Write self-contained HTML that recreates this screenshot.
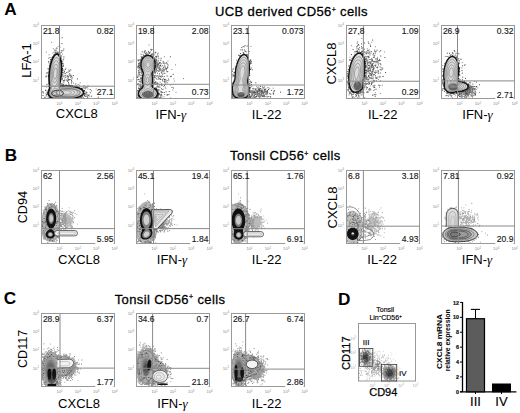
<!DOCTYPE html>
<html><head><meta charset="utf-8"><style>
html,body{margin:0;padding:0;background:#fff;}
svg{display:block;font-family:"Liberation Sans", sans-serif;}
</style></head><body>
<svg width="520" height="413" viewBox="0 0 520 413">
<rect width="520" height="413" fill="#fff"/>
<text x="4.2" y="15.2" font-size="17.2" text-anchor="start" font-weight="bold" fill="#000" >A</text>
<text x="4.8" y="160.8" font-size="17.2" text-anchor="start" font-weight="bold" fill="#000" >B</text>
<text x="3.8" y="304.2" font-size="17.2" text-anchor="start" font-weight="bold" fill="#000" >C</text>
<text x="338" y="304.8" font-size="17.2" text-anchor="start" font-weight="bold" fill="#000" >D</text>
<text x="291.5" y="16.3" font-size="13" text-anchor="middle" font-weight="normal" fill="#000" stroke="#000" stroke-width="0.28" letter-spacing="0.38">UCB derived CD56<tspan dy="-4.5" font-size="7">+</tspan><tspan dy="4.5"> cells</tspan></text>
<text x="285.4" y="160.3" font-size="13" text-anchor="middle" font-weight="normal" fill="#000" stroke="#000" stroke-width="0.28" letter-spacing="0.38">Tonsil CD56<tspan dy="-4.5" font-size="7">+</tspan><tspan dy="4.5"> cells</tspan></text>
<text x="170" y="303.7" font-size="13" text-anchor="middle" font-weight="normal" fill="#000" stroke="#000" stroke-width="0.28" letter-spacing="0.38">Tonsil CD56<tspan dy="-4.5" font-size="7">+</tspan><tspan dy="4.5"> cells</tspan></text>
<clipPath id="cA1"><rect x="41.5" y="25.5" width="73.0" height="73.0"/></clipPath>
<g clip-path="url(#cA1)">
<path d="M81.3 88.9h1M48.1 94.5h1M73.1 86.6h1M81.8 88.9h1M84.0 90.6h1M52.6 59.2h1M63.5 86.6h1M55.4 54.5h1M66.3 85.8h1M53.1 57.2h1M49.5 72.0h1M61.8 69.2h1M52.9 57.8h1M57.9 53.0h1M53.2 57.5h1M49.6 66.8h1M50.2 64.5h1M51.2 61.0h1M65.4 85.9h1M49.0 95.6h1M50.3 65.7h1M56.8 52.8h1M54.7 55.5h1M51.4 60.7h1M51.6 59.7h1M50.9 62.8h1M79.1 88.3h1M55.7 53.9h1M71.9 86.1h1M73.4 86.8h1M81.7 90.2h1M61.8 74.8h1M80.6 97.3h1M47.9 91.0h1M69.1 86.2h1M48.6 89.6h1M57.2 54.0h1M48.8 72.5h1M75.2 87.1h1M61.4 61.2h1M62.2 70.4h1M48.3 92.0h1M61.6 63.1h1M50.2 64.5h1M77.0 87.0h1M83.4 91.4h1M83.8 95.4h1M49.0 89.5h1M48.6 90.4h1M48.6 95.8h1M76.5 98.3h1M84.1 94.1h1M48.6 94.0h1M48.9 95.1h1M58.3 54.9h1M81.1 88.4h1M61.8 72.7h1M49.9 65.8h1M62.0 68.5h1M50.6 98.1h1M48.8 91.0h1M64.7 86.5h1M48.9 78.1h1M82.2 96.2h1" stroke="#1a1a1a" stroke-width="1"/>
<path d="M60.7 50.9h1M89.7 89.5h1M63.0 65.2h1M47.0 93.0h1M63.5 72.8h1M62.5 50.7h1M85.8 87.2h1M78.6 88.3h1M84.6 87.4h1M54.2 50.0h1M89.8 92.7h1M59.0 51.9h1M54.8 52.1h1M61.4 83.5h1M46.1 94.4h1M68.5 70.1h1M46.4 92.1h1M61.5 61.7h1M51.3 98.3h1M60.4 58.6h1M48.8 68.4h1M68.0 82.4h1M60.5 55.5h1M71.2 82.2h1M49.3 65.3h1M86.5 96.3h1M56.4 48.7h1M48.1 61.7h1M50.3 59.5h1M45.7 76.2h1M54.7 53.1h1M48.6 89.2h1M52.5 56.4h1M50.4 59.5h1M47.1 72.9h1M71.3 79.0h1M42.5 95.5h1M49.9 97.3h1M52.1 57.5h1M48.1 90.1h1M62.5 84.8h1M79.1 88.3h1M46.4 94.7h1M62.6 63.7h1M45.1 90.5h1M67.9 76.8h1M77.9 97.9h1M49.8 97.8h1M63.4 56.9h1M61.1 86.7h1M48.0 95.5h1M72.9 75.6h1M91.1 96.2h1M49.2 90.1h1M70.2 75.2h1M61.7 72.1h1M71.0 80.6h1M74.0 87.1h1M48.1 86.6h1M48.6 77.3h1M81.3 97.6h1M59.4 47.0h1M71.1 76.9h1M77.6 84.8h1M85.0 94.0h1M85.5 92.0h1M62.9 85.8h1M85.2 88.8h1M61.5 43.6h1M51.7 57.5h1M86.3 92.5h1M66.9 81.3h1M47.9 76.5h1M76.9 78.9h1M44.5 97.9h1M67.7 72.0h1M45.2 90.2h1M63.2 80.7h1M49.4 96.6h1M73.6 86.8h1M87.6 86.0h1M49.0 82.6h1M48.4 76.4h1M68.6 86.3h1M45.9 73.1h1M64.9 77.2h1M70.0 77.0h1M83.9 93.6h1M46.4 84.5h1M62.2 72.4h1M48.8 97.5h1M83.5 85.7h1M70.3 70.0h1M67.9 79.6h1M80.3 97.0h1M62.0 79.1h1M88.0 95.7h1M64.7 75.5h1M67.8 76.9h1M69.6 79.5h1M42.3 91.9h1M68.9 79.7h1M55.3 55.0h1M63.9 71.6h1M49.3 64.0h1M50.1 63.2h1M49.2 83.2h1M69.3 75.7h1M84.3 96.0h1M47.2 92.3h1M55.4 50.6h1M63.2 84.7h1M49.5 57.6h1M85.2 96.4h1M49.3 83.5h1M66.6 76.9h1M66.2 85.2h1M67.2 76.0h1M62.5 86.1h1M45.6 76.8h1M68.1 84.0h1M61.8 63.7h1M48.7 71.4h1M70.7 86.0h1M67.4 78.7h1M63.7 80.6h1M71.2 76.0h1M87.0 97.2h1M66.2 72.6h1M63.3 49.1h1M82.7 87.7h1M61.1 57.0h1M61.6 37.8h1M64.9 69.4h1M49.4 72.2h1M65.1 85.2h1M47.2 93.5h1M47.9 69.0h1M48.2 75.6h1M66.7 86.0h1M90.8 90.9h1M48.9 79.3h1M85.6 93.4h1M55.6 52.7h1M47.1 94.6h1M63.5 80.9h1M69.3 74.0h1M42.9 92.9h1M45.7 95.9h1M60.7 52.4h1M64.7 73.6h1M48.4 75.1h1M62.4 76.0h1M76.9 86.4h1M53.5 54.9h1M67.2 80.3h1M47.6 97.0h1M47.6 90.8h1M83.4 91.2h1M62.8 59.8h1M97.8 97.2h1M82.2 89.5h1M63.3 82.9h1M62.4 85.1h1M83.6 93.6h1M88.5 94.9h1M59.7 54.0h1M69.1 71.2h1M44.4 97.3h1" stroke="#4a4a4a" stroke-width="1"/>
<path d="M66.9 75.6h1M68.5 74.9h1M56.5 51.8h1M65.8 85.5h1M45.8 52.2h1M81.8 98.4h1M53.1 55.1h1M65.4 75.1h1M48.6 54.8h1M62.1 78.2h1M49.0 67.7h1M52.8 48.8h1M50.2 60.3h1M48.4 62.9h1M48.4 61.8h1M62.3 84.5h1M61.1 84.5h1M50.2 61.9h1M64.1 79.1h1M85.1 96.2h1M61.8 76.8h1M62.5 65.7h1M46.2 75.9h1M62.7 66.1h1M76.0 85.8h1M62.2 61.7h1M65.7 79.7h1M68.1 80.5h1M73.0 83.1h1M72.1 77.9h1M51.6 58.0h1M70.9 83.7h1M65.7 80.4h1M77.3 86.4h1M62.3 75.6h1M56.3 47.7h1M62.2 81.1h1M63.3 76.4h1M79.8 82.8h1M59.4 53.6h1M63.5 70.1h1M61.6 79.1h1M67.2 81.1h1M89.3 96.2h1M72.6 86.1h1M62.9 66.2h1M74.8 84.8h1M57.7 52.0h1M61.3 50.8h1M42.5 91.9h1M47.8 83.3h1M65.4 68.3h1M46.1 87.1h1M83.8 88.4h1M63.3 58.9h1M95.7 88.9h1M62.0 79.1h1M51.1 42.4h1M48.0 58.2h1M57.7 46.3h1M62.1 54.1h1M67.1 81.0h1M75.6 85.4h1M86.8 95.8h1M88.1 98.2h1M62.6 66.4h1M87.4 89.0h1M63.5 77.0h1M63.3 73.8h1M48.9 65.9h1M62.5 69.9h1M71.3 81.4h1M86.4 94.6h1M83.2 97.6h1M69.0 73.6h1M79.1 85.2h1M87.0 87.1h1M53.5 52.1h1M50.2 61.8h1M52.4 52.9h1M45.4 93.3h1M68.8 84.2h1M86.7 94.9h1M75.3 83.6h1M47.4 68.5h1M67.7 80.2h1M55.5 48.9h1" stroke="#888" stroke-width="1"/>
<path d="M73 98.5L72.2 98.5L71.5 98.5L70.8 98.6L70 98.6L69.2 98.6L68.5 98.6L67.8 98.6L67 98.6L66.2 98.6L65.5 98.6L64.8 98.6L64 98.6L63.2 98.6L62.5 98.6L61.8 98.5L61 98.5L60.2 98.5L59.5 98.5L59 98.5L58.2 98.5L57.5 98.5L57 98.5L56.2 98.5L55.5 98.5L54.8 98.5L54 98.5L53.5 98.5L52.8 98.3L52.2 98.1L51.8 97.8L51.2 97.5L50.8 97.2L50.5 97L50 96.5L49.8 96.2L49.4 95.8L49.1 95.2L48.9 94.8L48.7 94.2L48.5 93.5L48.5 93L48.5 92.5L48.6 91.8L48.8 91.2L49 90.5L49.2 90L49.4 89.5L49.5 89L49.7 88.2L49.7 87.5L49.7 86.8L49.6 86L49.5 85.2L49.5 84.8L49.4 84L49.3 83.2L49.3 82.5L49.2 82L49.2 81.2L49.1 80.5L49.1 79.8L49.1 79L49.1 78.2L49.1 77.5L49.1 76.8L49.1 76L49.2 75.2L49.2 74.5L49.2 73.9L49.3 73.2L49.4 72.5L49.4 71.8L49.5 71.2L49.6 70.5L49.7 69.8L49.8 69.2L49.9 68.5L50 67.8L50.1 67.2L50.2 66.5L50.3 66L50.5 65.3L50.6 64.8L50.8 64.2L50.9 63.5L51.1 63L51.2 62.4L51.4 61.8L51.6 61.2L51.8 60.8L52 60.1L52.2 59.5L52.4 59L52.7 58.5L52.9 58L53.1 57.5L53.4 57L53.7 56.5L54 56.1L54.3 55.8L54.7 55.2L55 54.9L55.5 54.5L56 54.2L56.5 54.1L57.2 54.1L57.8 54.3L58.2 54.6L58.6 55L59 55.5L59.2 55.9L59.5 56.4L59.8 56.9L60 57.5L60.2 58L60.3 58.5L60.5 59.2L60.6 59.8L60.8 60.2L60.9 61L61 61.6L61.1 62.2L61.2 63L61.3 63.5L61.3 64.2L61.4 65L61.4 65.8L61.5 66.5L61.5 67.2L61.5 67.8L61.5 68.5L61.5 69.2L61.5 70L61.5 70.5L61.5 71.2L61.4 72L61.4 72.8L61.3 73.5L61.3 74.2L61.2 74.8L61.1 75.5L61 76.2L61 76.8L60.9 77.5L60.8 78.2L60.7 78.8L60.6 79.5L60.5 80L60.3 80.8L60.2 81.2L60 82L59.9 82.5L59.8 83.2L59.7 83.8L59.6 84.5L59.6 85.2L59.9 85.8L60.2 86L61 86.2L61.8 86.2L62.5 86.2L63.2 86.1L64 86.1L64.8 86L65.5 86L66.2 86L66.5 86L67.2 86L68 86L68.8 86.1L69.5 86.1L70.2 86.2L71 86.2L71.5 86.3L72.2 86.4L73 86.5L73.5 86.6L74.2 86.7L74.8 86.8L75.5 87L76 87.1L76.5 87.2L77.2 87.5L77.8 87.6L78.2 87.8L78.8 88L79.4 88.2L79.9 88.5L80.4 88.8L80.8 89L81.2 89.3L81.8 89.6L82.2 90L82.5 90.3L82.9 90.8L83.2 91.2L83.4 91.8L83.5 92.5L83.4 93.2L83.2 93.8L82.9 94.2L82.5 94.7L82.2 95L81.8 95.4L81.2 95.7L80.8 96L80.4 96.2L79.9 96.5L79.4 96.8L78.8 97L78.2 97.2L77.8 97.4L77.2 97.5L76.5 97.8L76 97.9L75.5 98L74.8 98.2L74.2 98.3L73.5 98.4L73 98.5Z" fill="#dcdcdc" stroke="#111" stroke-width="1.7"/>
<path d="M68.5 97.8L67.8 97.8L67 97.8L66.2 97.8L65.5 97.8L64.8 97.8L64.2 97.7L63.5 97.7L62.8 97.6L62 97.5L61.5 97.5L60.8 97.4L60 97.3L59.5 97.2L58.8 97.2L58 97.2L57.5 97.3L56.8 97.4L56 97.5L55.5 97.5L54.8 97.5L54.2 97.5L53.5 97.3L53 97.2L52.5 96.9L52 96.6L51.5 96.2L51.2 96L50.8 95.5L50.5 95L50.3 94.5L50.2 94L50.1 93.2L50.2 92.5L50.3 92L50.5 91.2L50.7 90.8L50.9 90.2L51.1 89.8L51.3 89.2L51.4 88.5L51.5 87.8L51.4 87L51.3 86.2L51.2 85.8L51 85.1L50.9 84.5L50.8 83.8L50.6 83.2L50.5 82.5L50.5 82L50.4 81.2L50.3 80.5L50.3 79.8L50.3 79L50.2 78.5L50.2 77.8L50.2 77L50.2 76.2L50.3 75.8L50.3 75L50.3 74.2L50.4 73.5L50.4 72.8L50.5 72.2L50.6 71.5L50.7 70.8L50.8 70.2L50.9 69.5L51 68.8L51.1 68.2L51.2 67.5L51.3 67L51.5 66.3L51.6 65.8L51.8 65.2L52 64.5L52.1 64L52.3 63.5L52.5 62.9L52.7 62.2L52.9 61.8L53.1 61.2L53.4 60.8L53.6 60.2L53.9 59.8L54.2 59.3L54.5 58.9L54.9 58.5L55.2 58.2L55.8 57.8L56.2 57.7L57 57.7L57.5 57.9L57.9 58.2L58.2 58.7L58.5 59.1L58.8 59.6L59 60.1L59.2 60.8L59.4 61.2L59.5 61.8L59.7 62.5L59.8 63L59.9 63.8L60 64.2L60.1 65L60.2 65.8L60.2 66.3L60.3 67L60.3 67.8L60.4 68.5L60.4 69.2L60.4 70L60.4 70.8L60.3 71.5L60.3 72.2L60.3 73L60.2 73.5L60.2 74.2L60.1 75L60 75.6L59.9 76.2L59.8 77L59.7 77.5L59.6 78.2L59.5 78.9L59.4 79.5L59.2 80.1L59.1 80.8L59 81.2L58.8 82L58.6 82.5L58.5 83L58.3 83.8L58.1 84.2L58 84.8L57.8 85.5L57.8 86.2L58 86.9L58.3 87.2L58.9 87.5L59.5 87.6L60.2 87.6L61 87.6L61.7 87.5L62.2 87.4L63 87.4L63.8 87.3L64.5 87.2L65 87.2L65.8 87.2L66.5 87.2L67.2 87.2L68 87.2L68.5 87.2L69.2 87.3L70 87.4L70.8 87.4L71.2 87.5L72 87.6L72.7 87.8L73.2 87.9L73.9 88L74.5 88.2L75 88.3L75.6 88.5L76.2 88.7L76.8 88.9L77.2 89.1L77.8 89.4L78.2 89.7L78.7 90L79.1 90.2L79.5 90.6L79.8 91L80.1 91.5L80.3 92L80.4 92.8L80.2 93.2L80 93.8L79.6 94.2L79.2 94.6L78.8 95L78.4 95.2L77.9 95.5L77.5 95.8L76.9 96L76.3 96.2L75.8 96.5L75.2 96.6L74.8 96.8L74 97L73.5 97.1L72.8 97.2L72.2 97.3L71.5 97.5L71 97.5L70.2 97.6L69.5 97.7L68.8 97.7L68.5 97.8Z" fill="none" stroke="#707070" stroke-width="0.6"/>
<path d="M54.8 86.9L54 86.8L53.7 86.5L53.3 86L53 85.6L52.8 85.2L52.5 84.7L52.2 84L52.1 83.5L51.9 83L51.8 82.3L51.6 81.8L51.5 81L51.5 80.5L51.4 79.8L51.3 79L51.3 78.2L51.2 77.8L51.2 77L51.2 76.2L51.2 75.5L51.3 75L51.3 74.2L51.4 73.5L51.4 72.8L51.5 72L51.6 71.5L51.7 70.8L51.8 70.2L51.9 69.5L52 68.8L52.1 68.2L52.2 67.7L52.4 67L52.6 66.5L52.8 65.9L53 65.2L53.1 64.8L53.3 64.2L53.5 63.8L53.8 63.2L54 62.8L54.4 62.2L54.7 61.8L55 61.4L55.5 61L56 60.8L56.8 60.9L57.2 61.2L57.6 61.5L57.9 62L58.1 62.5L58.4 63L58.5 63.5L58.7 64.2L58.9 64.8L59 65.5L59.1 66L59.2 66.8L59.2 67.5L59.3 68L59.3 68.8L59.4 69.5L59.4 70.2L59.4 71L59.3 71.8L59.3 72.5L59.3 73.2L59.2 73.8L59.2 74.5L59.1 75.2L59 75.8L58.9 76.5L58.8 77.2L58.7 77.8L58.5 78.5L58.4 79L58.2 79.7L58.1 80.2L58 80.8L57.8 81.4L57.6 82L57.4 82.5L57.2 83L57 83.5L56.7 84L56.5 84.5L56.2 85L55.9 85.5L55.6 86L55.2 86.4L55 86.8L54.8 86.9ZM67 96.8L66.2 96.8L65.8 96.7L65 96.7L64.2 96.7L63.5 96.6L62.8 96.5L62.2 96.4L61.5 96.3L61 96.2L60.2 96.1L59.5 96.1L58.8 96.1L58 96.2L57.5 96.2L56.8 96.4L56.2 96.5L55.5 96.6L54.8 96.6L54.1 96.5L53.5 96.3L53 96.1L52.5 95.8L52.2 95.5L51.8 95L51.5 94.5L51.4 94L51.3 93.2L51.4 92.5L51.6 92L51.8 91.5L52.1 91L52.4 90.5L52.8 90.1L53 89.8L53.4 89.2L53.8 88.9L54.2 88.5L54.5 88.2L55.2 88.2L55.8 88.5L56.2 88.7L56.8 88.8L57.4 89L58 89.1L58.8 89.1L59.5 89L60 88.9L60.8 88.8L61.2 88.7L62 88.6L62.7 88.5L63.2 88.4L64 88.4L64.8 88.3L65.5 88.3L66 88.2L66.8 88.2L67.2 88.3L68 88.3L68.8 88.3L69.5 88.4L70.2 88.5L70.8 88.6L71.5 88.7L72 88.8L72.8 89L73.2 89.1L73.8 89.3L74.4 89.5L75 89.8L75.5 90L75.9 90.2L76.3 90.5L76.8 90.8L77.1 91.2L77.5 91.8L77.6 92.2L77.6 93L77.3 93.5L77 93.9L76.6 94.2L76.2 94.6L75.8 94.9L75.2 95.1L74.8 95.4L74.2 95.6L73.7 95.8L73 96L72.5 96.1L71.8 96.2L71.2 96.3L70.5 96.5L70 96.5L69.2 96.6L68.5 96.7L67.8 96.7L67.1 96.8L67 96.8Z" fill="none" stroke="#707070" stroke-width="0.6"/>
<path d="M55 82.6L54.2 82.7L53.8 82.3L53.5 82L53.2 81.5L53 80.9L52.8 80.2L52.7 79.8L52.6 79L52.5 78.5L52.4 77.8L52.4 77L52.4 76.2L52.4 75.5L52.4 74.8L52.4 74L52.5 73.2L52.5 72.8L52.6 72L52.7 71.2L52.8 70.8L52.9 70L53 69.5L53.2 68.8L53.4 68.2L53.5 67.8L53.8 67.1L54 66.5L54.2 66L54.5 65.5L54.8 65.2L55.1 64.8L55.5 64.4L56.2 64.3L56.8 64.6L57.1 65L57.3 65.5L57.6 66L57.8 66.6L57.9 67.2L58 67.8L58.1 68.5L58.2 69.2L58.2 70L58.2 70.8L58.2 71.5L58.2 72.2L58.2 73L58.1 73.8L58.1 74.5L58 75L57.9 75.8L57.8 76.5L57.7 77L57.5 77.7L57.4 78.2L57.2 78.8L57 79.5L56.8 80L56.6 80.5L56.4 81L56.1 81.5L55.8 82L55.5 82.3L55 82.6ZM68.2 95.5L67.5 95.6L66.8 95.6L66 95.6L65.2 95.5L64.6 95.5L64 95.4L63.2 95.3L62.8 95.2L62 95.1L61.5 95L60.8 94.8L60.2 94.7L59.5 94.6L58.8 94.6L58.2 94.8L57.6 95L57 95.2L56.5 95.4L56 95.5L55.2 95.6L54.5 95.6L54 95.5L53.5 95.2L53 94.8L52.7 94.5L52.5 93.9L52.5 93.2L52.6 92.8L52.8 92.2L53.2 91.8L53.5 91.4L54 91.1L54.5 90.9L55.1 90.8L55.8 90.7L56.4 90.8L57 90.8L57.8 90.9L58.5 90.9L59.2 90.8L59.8 90.6L60.2 90.4L60.9 90.2L61.5 90.1L62 89.9L62.8 89.8L63.2 89.7L64 89.6L64.6 89.5L65.2 89.5L66 89.4L66.8 89.4L67.5 89.4L68.2 89.5L68.8 89.5L69.5 89.6L70.1 89.8L70.8 89.9L71.2 90L72 90.2L72.5 90.4L73 90.7L73.5 91L73.9 91.2L74.2 91.7L74.5 92.1L74.5 92.8L74.3 93.2L74 93.6L73.5 94L73.1 94.2L72.6 94.5L72 94.8L71.5 94.9L71 95.1L70.2 95.2L69.8 95.3L69 95.4L68.4 95.5L68.2 95.5Z" fill="none" stroke="#707070" stroke-width="0.6"/>
<path d="M55.2 79L54.5 79L54.2 78.8L54 78.2L53.8 77.5L53.7 77L53.6 76.2L53.5 75.5L53.5 75L53.5 74.3L53.5 73.8L53.6 73L53.7 72.2L53.8 71.8L53.9 71L54.1 70.5L54.2 69.8L54.5 69.2L54.7 68.8L55 68.3L55.3 68L56 67.9L56.4 68.2L56.6 68.8L56.8 69.2L57 70L57 70.5L57.1 71.2L57.1 72L57.1 72.8L57 73.5L57 74.1L56.9 74.8L56.8 75.5L56.7 76L56.5 76.7L56.3 77.2L56.1 77.8L55.9 78.2L55.5 78.8L55.2 79ZM68.2 94.3L67.5 94.3L66.8 94.4L66 94.4L65.2 94.3L64.6 94.2L64 94.1L63.5 94L62.8 93.8L62.2 93.5L61.8 93.2L61.5 92.9L61.5 92.2L61.8 91.9L62.2 91.5L62.8 91.3L63.2 91.1L63.8 90.9L64.5 90.8L65 90.7L65.8 90.6L66.5 90.6L67.2 90.6L68 90.7L68.5 90.8L69.2 90.9L69.8 91.1L70.2 91.3L70.8 91.5L71.2 92L71.4 92.5L71.2 93L70.8 93.5L70.2 93.7L69.8 93.9L69.2 94.1L68.5 94.2L68.2 94.3ZM55.5 94.8L54.8 94.8L54.2 94.6L53.8 94.3L53.5 93.8L53.5 93.2L53.7 92.8L54 92.4L54.5 92.1L55 92L55.8 92L56.2 92.1L56.8 92.3L57.2 92.7L57.4 93.2L57.1 93.8L56.8 94.2L56.2 94.5L55.8 94.7L55.5 94.8Z" fill="none" stroke="#707070" stroke-width="0.6"/>
<ellipse cx="57.5" cy="93.3" rx="6" ry="3" fill="none" stroke="#333" stroke-width="0.9"/>
<ellipse cx="68" cy="92.8" rx="12" ry="4.2" fill="none" stroke="#555" stroke-width="0.6"/>
</g>
<rect x="41.5" y="25.5" width="73" height="73.0" fill="none" stroke="#999" stroke-width="1"/>
<line x1="59.5" y1="25.5" x2="59.5" y2="98.5" stroke="#8a8a8a" stroke-width="1"/>
<line x1="41.5" y1="86.2" x2="114.5" y2="86.2" stroke="#8a8a8a" stroke-width="1"/>
<text x="42.9" y="33.6" font-size="8.5" text-anchor="start" font-weight="normal" fill="#1a1a1a" stroke="#1a1a1a" stroke-width="0.15" >21.8</text>
<text x="113.4" y="33.6" font-size="8.5" text-anchor="end" font-weight="normal" fill="#1a1a1a" stroke="#1a1a1a" stroke-width="0.15" >0.82</text>
<text x="113.4" y="95.3" font-size="8.5" text-anchor="end" font-weight="normal" fill="#1a1a1a" stroke="#1a1a1a" stroke-width="0.15" >27.1</text>
<text x="114.5" y="105.1" font-size="4.2" text-anchor="middle" font-weight="normal" fill="#8a8a8a" >10<tspan dy="-1.6" font-size="2.8">4</tspan></text>
<text x="39.0" y="26.8" font-size="4.2" text-anchor="end" font-weight="normal" fill="#8a8a8a" >10<tspan dy="-1.6" font-size="2.8">4</tspan></text>
<text x="96.17" y="105.1" font-size="4.2" text-anchor="middle" font-weight="normal" fill="#8a8a8a" >10<tspan dy="-1.6" font-size="2.8">3</tspan></text>
<text x="39.0" y="45.129999999999995" font-size="4.2" text-anchor="end" font-weight="normal" fill="#8a8a8a" >10<tspan dy="-1.6" font-size="2.8">3</tspan></text>
<text x="77.84" y="105.1" font-size="4.2" text-anchor="middle" font-weight="normal" fill="#8a8a8a" >10<tspan dy="-1.6" font-size="2.8">2</tspan></text>
<text x="39.0" y="63.459999999999994" font-size="4.2" text-anchor="end" font-weight="normal" fill="#8a8a8a" >10<tspan dy="-1.6" font-size="2.8">2</tspan></text>
<text x="59.510000000000005" y="105.1" font-size="4.2" text-anchor="middle" font-weight="normal" fill="#8a8a8a" >10<tspan dy="-1.6" font-size="2.8">1</tspan></text>
<text x="39.0" y="81.78999999999999" font-size="4.2" text-anchor="end" font-weight="normal" fill="#8a8a8a" >10<tspan dy="-1.6" font-size="2.8">1</tspan></text>
<text x="55.8" y="118.4" font-size="13" text-anchor="start" font-weight="normal" fill="#000" >CXCL8</text>
<text x="26.1" y="60.5" font-size="13" text-anchor="middle" font-weight="normal" fill="#000" transform="rotate(-90 26.1 60.5)" dominant-baseline="central">LFA-1</text>
<clipPath id="cA2"><rect x="136.5" y="25.5" width="73.0" height="73.0"/></clipPath>
<g clip-path="url(#cA2)">
<path d="M137.8 92.7h1M142.1 83.3h1M142.4 84.7h1M158.8 94.0h1M147.8 56.0h1M137.7 93.1h1M140.4 66.4h1M140.6 89.7h1M153.9 88.7h1M141.1 69.8h1M152.9 73.1h1M139.8 97.5h1M142.5 81.2h1M155.0 66.1h1M142.3 75.3h1M139.2 96.5h1M155.0 66.0h1M149.0 56.0h1M142.0 82.9h1M142.1 81.7h1M157.6 94.3h1M156.4 89.7h1M153.3 57.7h1M138.9 96.6h1M157.7 95.3h1M142.3 71.0h1M152.0 86.7h1M155.3 89.4h1M145.6 56.0h1M143.2 58.5h1M155.3 65.8h1M152.2 57.3h1M157.8 94.1h1M138.0 96.0h1M156.7 97.3h1M142.0 88.2h1M141.7 70.8h1M141.3 62.7h1M138.1 94.2h1M142.7 58.7h1M140.4 65.2h1M141.6 70.9h1M152.9 72.1h1M154.5 88.6h1M142.6 71.3h1M149.9 56.1h1M141.6 88.9h1M152.8 76.1h1M156.0 89.5h1M142.0 81.0h1M142.3 75.4h1M155.5 89.1h1M154.4 68.9h1M154.3 70.7h1M157.3 91.8h1M157.8 97.0h1M152.4 84.2h1M152.6 86.7h1M140.2 97.7h1M140.7 67.7h1M152.6 83.7h1M139.7 89.8h1M142.0 80.6h1M154.5 88.5h1M152.6 84.7h1M157.5 93.7h1M154.3 69.5h1M142.8 86.3h1M142.6 82.4h1M155.8 88.9h1M154.7 88.3h1M141.4 61.8h1M142.3 79.9h1M139.3 90.5h1M142.6 87.6h1M152.8 75.4h1M138.4 92.7h1M139.0 96.8h1M155.1 61.8h1M152.9 75.9h1M153.2 71.1h1M148.6 56.1h1M141.7 88.6h1M149.5 56.3h1M152.7 82.4h1M155.4 67.9h1M155.2 63.1h1M138.7 95.4h1M155.1 61.6h1M138.7 95.2h1M138.5 93.0h1M147.8 55.7h1M141.2 61.7h1M156.0 89.7h1M137.6 95.6h1M158.4 93.3h1M144.2 57.3h1M153.6 59.2h1M151.9 74.1h1M150.0 55.4h1M151.9 75.3h1M142.2 58.7h1M154.3 70.3h1M144.6 57.0h1M157.7 93.6h1M153.6 71.4h1M142.3 80.7h1M154.9 61.5h1M155.7 88.9h1M141.9 69.7h1M158.6 94.4h1M141.6 69.8h1M155.0 67.0h1M138.9 92.5h1M139.2 90.8h1M153.0 79.4h1M157.7 92.9h1M140.9 62.8h1M143.1 57.3h1M153.6 71.1h1" stroke="#1a1a1a" stroke-width="1"/>
<path d="M155.6 71.2h1M138.0 88.1h1M140.1 87.8h1M137.9 79.4h1M139.0 96.6h1M166.3 68.4h1M161.1 73.0h1M166.6 82.8h1M155.2 82.2h1M145.9 54.6h1M160.1 76.6h1M155.9 69.6h1M138.9 90.2h1M154.5 72.3h1M140.4 62.1h1M156.1 63.9h1M141.1 71.3h1M154.2 83.6h1M165.6 91.8h1M163.7 92.5h1M141.7 72.7h1M163.1 67.3h1M163.7 76.6h1M139.4 65.5h1M160.5 66.2h1M162.3 79.4h1M159.9 79.2h1M157.2 96.3h1M160.6 58.3h1M159.4 69.8h1M155.1 82.1h1M137.9 91.2h1M138.2 63.5h1M170.8 76.4h1M151.1 54.9h1M136.6 79.8h1M164.0 79.5h1M140.8 65.9h1M157.2 64.8h1M172.7 74.3h1M157.8 77.2h1M141.7 86.2h1M138.2 66.7h1M152.7 56.0h1M154.6 61.1h1M140.5 68.3h1M152.9 58.2h1M159.7 68.7h1M164.4 73.4h1M155.5 56.5h1M145.9 56.2h1M164.0 85.4h1M146.7 56.1h1M138.5 65.2h1M141.1 57.1h1M143.2 73.4h1M140.0 60.3h1M150.8 50.1h1M140.9 70.0h1M162.7 63.3h1M141.1 72.3h1M150.9 54.6h1M141.6 79.1h1M156.3 62.6h1M168.4 94.6h1M140.6 88.5h1M137.8 60.2h1M142.5 76.8h1M137.3 76.7h1M145.3 55.9h1M144.9 55.4h1M161.4 95.8h1M138.2 70.7h1M152.8 56.9h1M155.1 59.3h1M156.3 68.8h1M139.6 59.6h1M156.9 66.5h1M152.5 54.6h1M137.4 90.4h1M164.2 82.1h1M140.9 65.5h1M139.2 91.5h1M141.9 57.0h1M143.0 55.1h1M147.5 54.4h1M156.2 56.7h1M158.5 78.3h1M138.6 79.7h1M139.6 81.3h1M139.1 67.4h1M153.7 76.9h1M161.6 89.5h1M161.8 92.5h1M160.0 97.4h1M144.1 56.2h1M158.7 67.5h1M165.8 69.8h1M138.0 65.9h1M155.7 56.3h1M163.8 81.4h1M157.7 87.2h1M141.7 77.8h1M163.5 62.7h1M151.7 53.7h1M159.3 62.5h1M166.6 80.6h1M152.8 58.6h1M157.5 91.1h1M141.8 57.5h1M143.8 52.4h1M143.3 55.9h1M167.1 94.8h1M159.9 70.1h1M138.9 67.5h1M161.8 76.3h1M161.1 85.2h1M157.6 93.3h1M159.2 97.8h1M158.9 63.2h1M155.3 52.6h1M159.6 65.1h1M140.8 62.2h1M157.2 54.0h1M161.5 70.2h1M171.5 87.4h1M141.4 88.6h1M149.2 55.8h1M144.2 51.7h1M160.5 95.2h1M137.4 90.8h1M160.7 91.7h1M138.5 66.9h1M155.2 65.5h1M167.2 71.5h1M138.9 88.5h1M137.2 84.6h1M153.0 83.8h1M169.9 56.8h1M156.5 83.3h1M158.9 69.9h1M141.9 58.5h1M156.8 86.3h1M150.4 56.2h1M136.8 77.5h1M148.8 53.0h1M139.4 63.1h1M153.3 78.9h1M160.3 60.3h1M138.7 81.6h1M141.1 73.0h1M161.0 94.2h1M154.2 77.5h1M139.5 72.1h1M157.7 56.3h1M160.6 92.0h1M159.3 78.8h1M138.3 88.7h1M142.8 57.5h1M140.2 85.3h1M137.7 60.2h1M160.3 79.5h1M140.7 65.4h1M142.5 81.4h1M137.7 96.4h1M168.1 79.1h1M159.5 62.7h1M156.2 65.1h1M164.8 81.0h1M154.1 82.4h1M139.2 90.1h1M158.3 86.7h1M157.7 76.0h1M154.3 88.3h1M157.3 90.0h1M159.3 76.3h1M155.6 61.0h1M154.9 84.5h1M162.5 70.9h1M154.9 61.8h1M138.4 74.8h1M155.9 66.2h1M151.3 54.6h1M165.2 79.4h1M167.0 67.0h1M157.4 83.5h1M140.3 88.2h1M141.8 86.9h1M139.9 78.0h1M141.4 57.4h1M155.0 63.4h1M157.6 64.4h1M150.9 49.7h1M168.8 91.6h1M165.2 68.8h1M155.7 57.7h1M152.7 56.3h1M141.1 87.4h1M156.7 62.0h1M155.4 75.8h1M138.9 74.2h1M138.3 91.4h1M139.5 89.1h1M156.4 90.3h1M157.6 64.7h1M157.1 66.2h1M159.3 85.1h1M157.6 79.3h1M154.0 58.1h1M138.9 63.2h1M156.3 90.0h1M166.2 62.8h1M138.4 86.0h1M152.8 78.8h1M140.7 86.5h1M166.5 95.0h1M153.0 85.6h1M163.6 69.3h1M141.8 51.8h1M157.9 60.9h1M167.2 67.8h1M157.4 65.7h1M154.7 88.0h1M138.5 68.4h1M160.1 94.9h1M152.5 49.6h1M141.4 78.6h1M145.5 53.8h1M148.1 51.4h1M156.6 70.8h1M155.2 60.9h1M154.7 72.5h1M141.2 59.7h1M164.4 65.9h1M154.8 52.2h1M155.3 60.3h1M154.0 75.7h1M157.3 67.7h1M152.8 56.5h1M160.0 65.5h1M140.5 68.4h1M152.2 85.5h1M139.8 87.0h1M157.4 63.6h1M140.3 79.9h1M159.4 68.2h1M172.9 88.0h1M142.8 59.0h1M155.5 67.6h1M156.4 97.6h1M139.3 72.6h1M162.7 61.6h1M169.8 98.1h1M138.2 66.1h1M144.2 55.7h1M138.3 66.2h1M157.9 89.6h1M162.1 70.7h1M159.0 73.9h1M158.1 63.7h1M148.8 53.3h1M153.7 71.1h1M145.7 54.3h1M156.9 73.2h1M158.4 68.5h1M137.2 97.5h1M153.8 76.9h1M147.6 55.3h1M139.8 87.0h1M139.3 64.2h1M156.2 60.6h1M138.3 71.1h1M140.3 82.0h1M141.3 75.4h1M138.1 60.9h1M165.4 63.3h1M157.6 95.3h1M141.8 79.8h1M157.1 90.7h1M163.5 71.0h1M153.2 82.3h1M159.4 87.2h1M141.1 88.8h1M140.2 65.4h1M152.0 86.1h1M160.5 63.7h1M156.0 88.8h1M141.0 62.2h1M158.5 71.2h1M151.4 56.0h1M145.2 53.2h1M165.7 68.7h1M157.2 97.6h1M165.1 84.3h1M156.2 59.4h1M141.1 58.4h1M142.0 88.8h1M160.8 72.1h1M140.3 78.4h1M148.6 52.5h1M141.7 87.1h1M140.4 68.7h1M166.8 64.1h1M140.3 62.5h1M162.1 70.6h1M156.9 83.6h1M161.5 92.3h1M153.7 80.1h1M156.1 88.1h1M156.6 64.5h1M152.6 84.5h1M152.4 87.4h1M138.4 72.6h1M139.9 88.4h1M169.9 76.6h1M137.8 84.0h1M161.4 76.2h1" stroke="#4a4a4a" stroke-width="1"/>
<path d="M161.2 97.3h1M163.2 69.7h1M158.4 66.7h1M158.8 89.9h1M164.9 69.1h1M164.7 82.7h1M156.3 66.1h1M154.1 54.8h1M139.4 76.0h1M139.8 59.2h1M161.5 69.8h1M157.4 55.7h1M165.0 67.2h1M172.3 90.1h1M162.8 69.3h1M158.9 94.8h1M145.3 55.1h1M162.3 74.0h1M140.3 75.1h1M154.8 77.5h1M154.6 53.0h1M145.0 50.8h1M138.8 69.8h1M162.0 65.8h1M141.1 82.5h1M140.7 85.9h1M158.4 58.7h1M166.0 71.2h1M155.6 82.0h1M183.0 78.6h1M159.7 91.1h1M138.7 89.3h1M162.0 70.5h1M150.2 49.2h1M163.2 89.2h1M140.9 77.4h1M150.6 54.2h1M140.5 60.9h1M153.4 81.8h1M140.5 75.5h1M138.0 64.7h1M138.9 85.1h1M140.1 88.6h1M141.4 77.2h1M156.8 70.4h1M159.1 66.8h1M164.9 87.2h1M162.9 71.1h1M137.4 67.8h1M139.0 69.1h1M153.7 73.0h1M155.7 78.4h1M153.3 78.0h1M141.3 72.7h1M167.4 66.2h1M141.1 80.5h1M155.6 62.3h1M137.5 83.5h1M156.0 68.6h1M159.8 97.2h1M155.5 71.6h1M140.4 54.1h1M158.2 71.5h1M146.9 54.9h1M168.2 80.8h1M156.6 65.6h1M147.2 53.4h1M163.2 86.5h1M162.2 81.2h1M163.8 56.7h1M148.6 45.0h1M139.4 64.5h1M164.5 67.6h1M150.0 52.0h1M155.1 58.8h1M156.5 66.5h1M140.5 87.3h1M166.7 71.9h1M159.4 75.7h1M162.6 68.3h1M164.2 94.5h1M137.6 76.8h1M154.2 76.6h1M156.2 76.6h1M156.0 79.0h1M163.8 70.2h1M140.9 72.3h1M140.5 70.5h1M154.9 88.0h1M153.8 72.9h1M155.3 60.9h1M138.5 73.4h1M139.0 62.6h1M166.3 75.9h1M161.5 72.3h1M158.0 89.7h1M157.9 90.6h1M138.6 72.8h1M160.7 77.8h1M156.2 86.8h1M161.0 83.7h1M159.0 68.4h1M138.2 98.0h1M144.1 55.5h1M158.2 70.3h1M137.4 67.6h1M141.4 87.6h1M155.5 68.8h1M139.5 84.9h1M154.6 70.7h1M158.9 67.8h1M167.2 76.1h1M163.8 66.0h1M162.1 92.6h1M170.1 85.1h1M139.7 65.2h1M136.8 94.6h1M141.4 54.5h1M154.9 84.6h1M146.0 52.4h1M162.1 80.5h1M172.8 84.3h1M140.1 61.2h1M160.9 88.5h1M139.4 64.3h1M155.3 84.0h1M175.0 64.9h1M163.1 78.4h1M153.6 77.2h1M163.9 63.9h1M157.6 63.2h1M157.1 82.8h1M140.0 69.6h1M154.0 72.3h1M138.8 60.3h1M173.3 78.9h1M163.4 96.8h1M157.2 85.4h1M161.8 74.7h1M144.5 50.6h1M143.8 52.8h1M156.0 65.9h1M162.0 70.8h1M153.1 85.3h1M139.3 74.9h1M157.8 65.0h1M155.2 75.4h1M156.8 75.4h1M141.0 80.8h1M161.8 68.7h1M161.8 85.6h1M175.5 92.3h1M140.1 61.8h1M161.9 79.6h1M164.0 80.8h1M160.5 70.8h1M157.9 58.0h1M171.4 69.5h1M158.7 65.6h1M140.1 82.8h1M163.9 73.5h1M165.3 88.3h1M157.8 53.2h1M140.7 56.4h1M156.1 61.8h1M137.3 91.1h1M167.5 61.1h1M159.6 82.3h1M142.1 86.0h1M141.0 75.2h1M137.0 66.3h1M167.8 65.1h1M140.1 78.0h1M154.8 73.3h1M137.5 75.2h1M155.5 59.3h1M154.6 83.7h1M173.8 81.1h1M165.7 81.2h1M163.4 73.1h1M138.4 74.0h1M136.7 95.8h1M160.3 96.1h1" stroke="#888" stroke-width="1"/>
<path d="M154 98.5L153.2 98.6L152.5 98.6L151.8 98.6L151 98.6L150.2 98.6L149.5 98.6L148.8 98.7L148 98.7L147.2 98.7L146.5 98.6L145.8 98.6L145 98.6L144.2 98.6L143.5 98.6L142.8 98.6L142 98.5L141.5 98.2L141.1 98L140.8 97.7L140.2 97.3L140 97L139.6 96.5L139.2 96L139 95.6L138.8 95L138.6 94.5L138.5 93.8L138.5 93.5L138.6 92.8L138.8 92L139 91.5L139.2 91L139.5 90.6L139.8 90.2L140.2 89.8L140.5 89.5L141 89L141.3 88.8L141.8 88.4L142.2 88L142.5 87.6L142.8 87.2L143 86.6L143.1 86L143 85.2L143 84.8L142.9 84L142.8 83.2L142.7 82.8L142.6 82L142.5 81.2L142.5 80.5L142.5 80L142.5 79.5L142.5 78.8L142.6 78L142.7 77.2L142.8 76.8L142.9 76L143 75.4L143.1 74.8L143.2 74L143.3 73.5L143.2 72.8L143.2 72.2L143 71.7L142.8 71L142.5 70.5L142.3 70L142.1 69.5L141.9 69L141.7 68.5L141.5 67.9L141.3 67.2L141.2 66.8L141.1 66L141 65.2L141 64.7L141 64.2L141 63.5L141.1 62.8L141.2 62.1L141.4 61.5L141.5 61L141.8 60.4L142 59.9L142.2 59.4L142.5 58.9L142.8 58.5L143.2 58L143.5 57.6L143.9 57.2L144.2 56.9L144.8 56.5L145.2 56.2L145.7 56L146.2 55.8L146.8 55.6L147.5 55.5L148 55.5L148.5 55.5L149.2 55.6L149.8 55.8L150.3 56L150.8 56.2L151.2 56.5L151.8 56.9L152.1 57.2L152.5 57.6L152.8 58L153.2 58.5L153.5 58.9L153.8 59.4L154 59.9L154.2 60.4L154.5 61L154.6 61.5L154.8 62.1L154.9 62.8L155 63.5L155 64.2L155 64.6L155 65.2L154.9 66L154.8 66.8L154.7 67.2L154.5 67.9L154.3 68.5L154.1 69L153.9 69.5L153.6 70L153.3 70.5L153.1 71L152.8 71.5L152.5 72L152.3 72.5L152.1 73L152 73.5L152 74.2L152 75L152.1 75.5L152.2 76.2L152.3 76.8L152.4 77.5L152.4 78.2L152.5 79L152.5 79.8L152.5 80.1L152.5 80.8L152.4 81.5L152.4 82.2L152.3 83L152.2 83.5L152.1 84.2L152 85L152 85.5L152 86L152.2 86.7L152.5 87.1L152.9 87.5L153.2 87.8L153.8 88.2L154.2 88.5L154.6 88.8L155 89.1L155.5 89.5L155.8 89.8L156.2 90.2L156.5 90.6L156.8 91L157 91.5L157.2 92L157.4 92.8L157.5 93.5L157.5 93.8L157.4 94.5L157.2 95L157 95.6L156.8 96L156.4 96.5L156 97L155.8 97.3L155.2 97.7L154.9 98L154.5 98.2L154 98.5Z" fill="#dcdcdc" stroke="#111" stroke-width="1.4"/>
<path d="M149 98.5L148.2 98.5L147.5 98.5L147 98.5L146.2 98.4L145.5 98.2L145 98.1L144.5 97.9L144 97.7L143.5 97.5L143 97.2L142.5 96.9L142.1 96.5L141.8 96.2L141.4 95.8L141.1 95.2L140.9 94.8L140.7 94.2L140.6 93.5L140.7 92.8L140.8 92.2L141.1 91.8L141.4 91.2L141.8 90.8L142 90.5L142.5 90L142.8 89.8L143.2 89.4L143.7 89L144 88.7L144.4 88.2L144.8 87.8L145 87.2L145 86.5L144.8 85.8L144.7 85.2L144.5 84.7L144.3 84L144.2 83.5L144 82.8L143.9 82.2L143.8 81.5L143.8 80.8L143.8 80L143.8 79.2L143.8 78.5L143.9 77.8L144 77.2L144.2 76.5L144.3 76L144.5 75.3L144.7 74.8L144.8 74.2L144.9 73.5L145 72.8L144.8 72L144.6 71.5L144.4 71L144.1 70.5L143.9 70L143.6 69.5L143.4 69L143.1 68.5L142.9 68L142.7 67.5L142.5 66.8L142.4 66.2L142.3 65.5L142.3 64.8L142.3 64L142.4 63.2L142.5 62.5L142.6 62L142.8 61.5L143 60.9L143.2 60.4L143.5 60L143.8 59.5L144.2 59L144.5 58.7L145 58.2L145.3 58L145.8 57.7L146.3 57.5L147 57.3L147.5 57.2L148.2 57.2L148.9 57.2L149.5 57.4L150 57.6L150.5 57.9L151 58.2L151.3 58.5L151.8 59L152 59.3L152.4 59.8L152.7 60.2L152.9 60.8L153.1 61.2L153.3 61.8L153.5 62.5L153.6 63L153.7 63.8L153.7 64.5L153.7 65.2L153.6 66L153.5 66.5L153.3 67.2L153.1 67.8L152.9 68.2L152.7 68.8L152.4 69.2L152.1 69.8L151.8 70.2L151.5 70.7L151.2 71.1L150.9 71.5L150.7 72L150.4 72.5L150.3 73.2L150.3 74L150.4 74.8L150.5 75.2L150.7 76L150.8 76.5L151 77.2L151.1 77.8L151.2 78.5L151.2 79.2L151.2 80L151.2 80.8L151.2 81.5L151.1 82.2L151 82.8L150.8 83.5L150.7 84L150.5 84.7L150.4 85.2L150.2 85.8L150.1 86.5L150.2 87.2L150.5 87.8L150.8 88.1L151.2 88.5L151.6 88.8L152 89L152.5 89.4L153 89.7L153.4 90L153.8 90.3L154.2 90.8L154.5 91.1L154.8 91.5L155 92L155.2 92.6L155.4 93.2L155.3 94L155.2 94.5L155 95.1L154.8 95.5L154.4 96L154 96.4L153.6 96.8L153.2 97L152.8 97.4L152.2 97.6L151.8 97.8L151.2 98L150.5 98.2L150 98.4L149.2 98.5L149 98.5Z" fill="none" stroke="#707070" stroke-width="0.6"/>
<path d="M148 71.8L147.4 71.8L147 71.5L146.5 71.1L146.1 70.8L145.8 70.3L145.5 70L145.1 69.5L144.8 69L144.5 68.6L144.2 68.1L144 67.5L143.8 67L143.7 66.5L143.5 65.8L143.4 65.2L143.4 64.5L143.4 63.8L143.5 63.2L143.7 62.5L143.8 62L144.1 61.5L144.3 61L144.6 60.5L145 60L145.3 59.8L145.8 59.4L146.2 59.1L146.8 58.8L147.2 58.7L148 58.6L148.8 58.7L149.2 58.8L149.8 59.1L150.2 59.4L150.7 59.8L151 60L151.4 60.5L151.7 61L151.9 61.5L152.2 62L152.3 62.5L152.5 63.2L152.5 63.8L152.6 64.5L152.6 65.2L152.5 65.8L152.3 66.5L152.2 67L152 67.5L151.7 68L151.5 68.5L151.1 69L150.8 69.5L150.5 69.8L150 70.2L149.8 70.5L149.2 71L148.9 71.2L148.5 71.5L148 71.8ZM147.8 85.6L147.1 85.5L146.7 85.2L146.2 84.8L146 84.4L145.7 84L145.5 83.5L145.2 82.8L145.1 82.2L145 81.6L144.9 81L144.9 80.2L144.9 79.5L144.9 78.8L145 78.2L145.2 77.5L145.3 77L145.5 76.5L145.8 75.9L146 75.5L146.3 75L146.7 74.5L147 74.2L147.8 74L148.2 74.4L148.6 74.8L148.9 75.2L149.2 75.8L149.4 76.2L149.6 76.8L149.8 77.2L149.9 78L150 78.5L150.1 79.2L150.1 80L150.1 80.8L150 81.5L149.9 82L149.8 82.8L149.6 83.2L149.4 83.8L149.1 84.2L148.8 84.8L148.5 85.1L148 85.5L147.8 85.6ZM149 97.3L148.2 97.3L147.5 97.3L146.8 97.2L146.2 97.1L145.7 97L145 96.8L144.5 96.5L144.1 96.2L143.8 96L143.2 95.5L143 95.2L142.7 94.8L142.5 94.2L142.4 93.5L142.5 92.8L142.7 92.2L143 91.8L143.2 91.4L143.6 91L144 90.6L144.5 90.2L144.8 90L145.2 89.7L145.8 89.4L146.2 89.1L146.8 88.9L147.2 88.7L148 88.7L148.5 88.8L149 89L149.5 89.3L150 89.5L150.5 89.8L151 90L151.5 90.4L152 90.7L152.3 91L152.8 91.4L153 91.8L153.3 92.2L153.5 92.8L153.6 93.5L153.5 94.2L153.3 94.8L153 95.2L152.8 95.5L152.2 96L151.9 96.2L151.5 96.5L151 96.8L150.3 97L149.8 97.1L149.2 97.2L149 97.3Z" fill="none" stroke="#707070" stroke-width="0.6"/>
<path d="M148.8 69.1L148 69.2L147.2 69.1L146.8 68.9L146.3 68.5L146 68.2L145.6 67.8L145.3 67.2L145.1 66.8L144.9 66.2L144.8 65.5L144.7 65L144.7 64.2L144.8 63.6L144.9 63L145.1 62.5L145.3 62L145.6 61.5L146 61.1L146.4 60.8L146.8 60.5L147.5 60.3L148 60.2L148.5 60.3L149.2 60.5L149.6 60.8L150 61.1L150.4 61.5L150.7 62L150.9 62.5L151.1 63L151.2 63.6L151.3 64.2L151.3 65L151.2 65.5L151.1 66.2L150.9 66.8L150.6 67.2L150.3 67.8L150 68.1L149.6 68.5L149.2 68.8L148.8 69.1ZM147.8 82.5L147.2 82.5L146.8 82.1L146.5 81.6L146.3 81L146.2 80.4L146.2 79.8L146.3 79.2L146.5 78.5L146.7 78L147 77.6L147.5 77.4L148 77.6L148.3 78L148.5 78.5L148.7 79.2L148.8 79.8L148.8 80.4L148.7 81L148.5 81.6L148.2 82.1L147.8 82.5ZM148.8 96L148 96.1L147.2 96L146.8 95.9L146.2 95.8L145.6 95.5L145.2 95.2L144.8 94.8L144.5 94.5L144.2 93.8L144.2 93.2L144.3 92.8L144.6 92.2L145 91.8L145.3 91.5L145.8 91.2L146.2 90.9L146.8 90.7L147.5 90.6L148.2 90.6L149 90.7L149.5 90.9L150 91.1L150.5 91.4L150.9 91.8L151.2 92.1L151.5 92.5L151.8 93.2L151.8 93.7L151.6 94.2L151.3 94.8L151 95L150.5 95.4L150 95.7L149.5 95.9L148.9 96L148.8 96Z" fill="none" stroke="#707070" stroke-width="0.6"/>
<path d="M148.5 67.3L147.8 67.4L147.2 67.2L146.8 66.8L146.5 66.5L146.2 66L146 65.3L145.9 64.8L146 64L146.1 63.5L146.3 63L146.7 62.5L147 62.2L147.5 62L148.2 61.9L148.8 62.1L149.2 62.4L149.5 62.8L149.8 63.2L150 63.9L150.1 64.5L150 65.2L149.9 65.8L149.6 66.2L149.3 66.8L149 67L148.5 67.3ZM149 94.8L148.2 94.9L147.5 94.9L146.9 94.8L146.5 94.5L146 94L145.8 93.5L146 92.8L146.2 92.5L146.8 92.1L147.2 91.9L148 91.8L148.8 91.9L149.2 92.2L149.7 92.5L150 92.9L150.1 93.5L150 94L149.5 94.5L149 94.8Z" fill="none" stroke="#707070" stroke-width="0.6"/>
<ellipse cx="148" cy="94.5" rx="6" ry="3.5" transform="rotate(0 148 94.5)" fill="#222" fill-opacity="0.55"/>
</g>
<rect x="136.5" y="25.5" width="73" height="73.0" fill="none" stroke="#999" stroke-width="1"/>
<line x1="153.5" y1="25.5" x2="153.5" y2="98.5" stroke="#8a8a8a" stroke-width="1"/>
<line x1="136.5" y1="84.3" x2="209.5" y2="84.3" stroke="#8a8a8a" stroke-width="1"/>
<text x="137.9" y="33.6" font-size="8.5" text-anchor="start" font-weight="normal" fill="#1a1a1a" stroke="#1a1a1a" stroke-width="0.15" >19.8</text>
<text x="208.4" y="33.6" font-size="8.5" text-anchor="end" font-weight="normal" fill="#1a1a1a" stroke="#1a1a1a" stroke-width="0.15" >2.08</text>
<text x="208.4" y="95.3" font-size="8.5" text-anchor="end" font-weight="normal" fill="#1a1a1a" stroke="#1a1a1a" stroke-width="0.15" >0.73</text>
<text x="209.5" y="105.1" font-size="4.2" text-anchor="middle" font-weight="normal" fill="#8a8a8a" >10<tspan dy="-1.6" font-size="2.8">4</tspan></text>
<text x="134.0" y="26.8" font-size="4.2" text-anchor="end" font-weight="normal" fill="#8a8a8a" >10<tspan dy="-1.6" font-size="2.8">4</tspan></text>
<text x="191.17000000000002" y="105.1" font-size="4.2" text-anchor="middle" font-weight="normal" fill="#8a8a8a" >10<tspan dy="-1.6" font-size="2.8">3</tspan></text>
<text x="134.0" y="45.129999999999995" font-size="4.2" text-anchor="end" font-weight="normal" fill="#8a8a8a" >10<tspan dy="-1.6" font-size="2.8">3</tspan></text>
<text x="172.84" y="105.1" font-size="4.2" text-anchor="middle" font-weight="normal" fill="#8a8a8a" >10<tspan dy="-1.6" font-size="2.8">2</tspan></text>
<text x="134.0" y="63.459999999999994" font-size="4.2" text-anchor="end" font-weight="normal" fill="#8a8a8a" >10<tspan dy="-1.6" font-size="2.8">2</tspan></text>
<text x="154.51" y="105.1" font-size="4.2" text-anchor="middle" font-weight="normal" fill="#8a8a8a" >10<tspan dy="-1.6" font-size="2.8">1</tspan></text>
<text x="134.0" y="81.78999999999999" font-size="4.2" text-anchor="end" font-weight="normal" fill="#8a8a8a" >10<tspan dy="-1.6" font-size="2.8">1</tspan></text>
<text x="155.6" y="118.6" font-size="13" text-anchor="start" font-weight="normal" fill="#000" >IFN-<tspan font-family="Liberation Serif" font-style="italic">γ</tspan></text>
<clipPath id="cA3"><rect x="231.5" y="25.5" width="73.0" height="73.0"/></clipPath>
<g clip-path="url(#cA3)">
<path d="M231.5 86.9h1M249.5 87.5h1M231.9 89.2h1M232.6 93.3h1M248.6 90.1h1M238.9 58.8h1M232.7 94.2h1M232.9 94.4h1M233.0 94.7h1M232.4 94.8h1M248.4 96.5h1M245.7 97.8h1M240.6 57.1h1M243.1 53.8h1M232.6 95.2h1M232.6 92.9h1M248.5 79.5h1M247.8 82.0h1M237.8 62.3h1M234.3 97.1h1M248.6 94.3h1M248.1 83.6h1M248.7 85.1h1M240.3 57.5h1M232.2 84.6h1M232.1 90.3h1M235.1 75.7h1M248.8 95.7h1M246.1 55.0h1M232.8 92.7h1M241.1 56.2h1M249.4 87.9h1M248.6 96.2h1M241.0 55.6h1M246.4 97.9h1M249.1 90.9h1M232.2 89.6h1M239.2 58.9h1M248.5 94.5h1M247.9 57.8h1M249.3 88.9h1M248.8 88.0h1M249.3 87.8h1M248.0 96.5h1M249.3 61.8h1M248.5 90.9h1M248.2 84.4h1M236.3 98.1h1M236.8 98.4h1M246.4 98.1h1M249.2 75.3h1M235.6 97.8h1" stroke="#1a1a1a" stroke-width="1"/>
<path d="M232.6 75.3h1M261.8 91.9h1M262.2 91.1h1M262.4 92.7h1M263.4 95.5h1M251.7 95.7h1M265.3 89.0h1M273.5 91.8h1M257.4 91.3h1M258.6 90.3h1M263.4 92.9h1M248.5 84.2h1M258.5 95.2h1M264.1 91.2h1M268.1 89.6h1M262.6 94.0h1M254.9 92.3h1M245.0 51.3h1M249.8 91.9h1M260.9 93.0h1M245.2 98.1h1M250.3 96.8h1M247.5 96.6h1M274.1 90.5h1M255.9 96.6h1M263.5 96.8h1M263.9 92.2h1M250.6 82.2h1M236.1 68.5h1M232.4 74.1h1M255.8 93.8h1M259.0 94.0h1M234.2 72.5h1M260.0 94.9h1M257.1 93.0h1M246.5 97.3h1M246.6 46.1h1M232.5 83.3h1M240.2 56.6h1M256.5 96.1h1M257.7 90.7h1M259.2 89.9h1M259.6 88.5h1M252.5 88.9h1M271.1 90.4h1M248.5 94.8h1M254.0 95.3h1M254.6 92.5h1M259.1 89.7h1M249.9 96.9h1M232.0 84.2h1M270.1 96.7h1M264.5 89.6h1M261.2 95.9h1M262.1 90.0h1M263.7 95.4h1M255.3 96.6h1M252.5 92.3h1M252.5 93.9h1M249.6 62.6h1M247.1 56.0h1M256.1 96.7h1M250.0 96.9h1M266.9 91.3h1M263.9 89.2h1M260.2 90.7h1M252.9 93.0h1M251.0 84.5h1M263.0 93.1h1M243.9 49.9h1M268.3 96.6h1M249.9 63.8h1M259.4 96.9h1M255.5 88.8h1M231.8 86.3h1M261.1 92.1h1M272.8 93.1h1M259.3 93.3h1M254.4 97.5h1M256.1 90.6h1M256.9 87.9h1M253.7 96.2h1M264.0 90.1h1M252.6 88.4h1M243.5 53.3h1M249.7 61.2h1M255.3 82.8h1M259.9 88.6h1M255.2 89.7h1M265.1 93.0h1M266.7 94.0h1M253.1 96.8h1M263.6 91.2h1M261.3 91.8h1M260.4 95.1h1M260.0 86.4h1M247.3 54.7h1M251.0 61.7h1M261.3 92.0h1M232.5 86.2h1M249.0 95.0h1M244.5 45.7h1M258.4 87.1h1M270.3 94.2h1M264.1 91.8h1M248.9 97.8h1M261.2 93.4h1M251.0 92.9h1M241.3 47.6h1M240.0 53.6h1M249.0 97.7h1M265.6 94.6h1M249.4 83.6h1M251.8 69.8h1M232.6 82.3h1M257.0 92.1h1M232.6 96.2h1M248.4 97.6h1M240.2 55.7h1M256.6 95.2h1M253.5 98.0h1M260.9 94.3h1M259.1 96.0h1M250.0 63.2h1M254.2 92.7h1M232.2 96.4h1M233.6 72.4h1M249.0 73.5h1M264.5 96.5h1M238.9 55.6h1M258.8 91.3h1M257.8 91.1h1M260.7 92.2h1M262.4 92.3h1M261.6 95.3h1M264.2 87.0h1M242.7 52.5h1M269.2 93.6h1M261.1 92.2h1M258.3 93.7h1M245.3 55.0h1M273.0 93.9h1M261.7 92.6h1M250.8 96.8h1M262.1 91.8h1M267.0 90.6h1M256.6 94.7h1M234.5 75.3h1M259.3 90.0h1M232.4 86.4h1M260.7 91.9h1M238.1 55.2h1M250.2 60.5h1M268.1 89.4h1M270.0 98.1h1M241.9 50.0h1M235.1 97.7h1M257.4 93.7h1M251.0 82.3h1M255.9 92.1h1M256.6 92.1h1M280.0 92.1h1M259.2 90.5h1M253.9 92.8h1M249.5 91.8h1M249.6 81.7h1M235.3 74.5h1M249.3 97.6h1M234.4 78.9h1M253.2 91.1h1M266.4 91.7h1M259.0 93.3h1M263.5 94.9h1M248.2 81.9h1M236.3 60.2h1M249.5 90.2h1M256.9 92.0h1M258.8 91.8h1M267.2 92.7h1M242.7 46.6h1M235.0 68.2h1M251.3 86.2h1M257.4 94.4h1M233.1 75.4h1M232.5 69.3h1M261.4 92.9h1M252.3 90.9h1M266.4 93.3h1M261.0 90.4h1M265.0 89.9h1M258.0 96.2h1M250.0 69.5h1M258.7 97.8h1M257.2 92.6h1M253.9 92.8h1M272.9 93.9h1M262.7 93.1h1M262.7 88.1h1M262.2 92.3h1M233.3 98.3h1M252.6 92.3h1M249.2 96.3h1M264.0 92.0h1M254.2 94.1h1M254.5 89.0h1M266.9 92.7h1M254.0 91.3h1M232.0 71.2h1M264.9 91.3h1M250.6 95.3h1M266.3 92.0h1M237.1 62.0h1M255.1 98.0h1M232.6 95.5h1M263.3 96.3h1M253.8 92.5h1M261.2 91.8h1M251.5 94.2h1M232.1 94.3h1M240.4 49.8h1M232.7 93.1h1M235.1 68.2h1M248.7 51.6h1M267.5 87.7h1M233.5 81.3h1M258.0 89.4h1M253.6 91.7h1M253.6 95.3h1M266.7 96.9h1M255.0 94.5h1M262.4 96.4h1M262.6 87.7h1M258.4 88.6h1M261.8 91.5h1M262.0 96.0h1M251.0 91.1h1M250.2 91.9h1M233.5 76.6h1M266.3 91.2h1M251.7 94.6h1M249.5 92.5h1M251.9 92.0h1" stroke="#4a4a4a" stroke-width="1"/>
<path d="M262.1 86.4h1M263.4 95.7h1M258.4 94.4h1M256.7 94.7h1M254.7 94.0h1M269.4 88.3h1M253.2 88.4h1M256.1 91.2h1M259.9 96.5h1M263.7 91.1h1M232.0 97.5h1M261.2 92.8h1M264.6 90.8h1M231.5 92.9h1M244.3 51.1h1M243.9 46.8h1M249.0 95.9h1M258.9 92.9h1M257.8 94.1h1M257.6 90.2h1M232.2 77.0h1M245.9 51.9h1M250.4 46.6h1M249.8 81.0h1M258.4 93.4h1M251.6 90.6h1M255.9 91.1h1M250.9 67.9h1M250.5 62.1h1M233.4 97.5h1M263.1 94.0h1M233.7 80.2h1M231.8 95.5h1M266.4 92.9h1M252.1 97.4h1M239.1 56.4h1M248.5 96.9h1M266.7 96.3h1M250.2 59.5h1M257.4 93.1h1M249.7 85.8h1M255.7 91.3h1M254.4 91.3h1M262.1 91.1h1M250.5 91.2h1M260.7 94.9h1M264.0 92.2h1M273.5 90.9h1M247.8 45.8h1M256.3 86.5h1M258.0 94.5h1M259.9 91.3h1M250.3 68.3h1M250.3 92.8h1M238.2 59.1h1M255.7 90.3h1M272.7 88.2h1M257.3 90.1h1M254.7 93.8h1M253.6 91.4h1M259.8 94.4h1M250.9 63.5h1M260.8 94.1h1M233.3 68.6h1M262.5 95.6h1M260.3 96.9h1M254.8 90.4h1M236.4 63.0h1M260.5 94.7h1M250.2 87.3h1M260.4 92.5h1M249.2 84.5h1M262.8 92.7h1M264.9 94.2h1M254.3 94.1h1M251.8 93.6h1M234.7 66.3h1M252.9 96.4h1M258.7 91.4h1M262.1 90.7h1M261.2 94.5h1M246.8 54.7h1M261.1 89.1h1M262.1 90.8h1M232.0 83.8h1M233.5 80.0h1" stroke="#888" stroke-width="1"/>
<path d="M242.5 98.3L241.8 98.4L241 98.4L240.2 98.4L239.5 98.3L238.9 98.2L238.2 98.1L237.8 98L237 97.8L236.5 97.5L236 97.3L235.5 97L235.1 96.8L234.8 96.5L234.2 96L234 95.7L233.6 95.2L233.4 94.8L233.2 94.2L233 93.7L232.9 93L232.8 92.2L232.7 91.8L232.6 91L232.5 90.3L232.4 89.8L232.3 89L232.3 88.2L232.3 87.5L232.4 86.8L232.5 86L232.6 85.5L232.8 85L233 84.3L233.2 83.8L233.4 83.2L233.6 82.8L233.9 82.2L234.1 81.8L234.3 81.2L234.5 80.8L234.8 80.1L234.9 79.5L235 78.9L235.1 78.2L235.1 77.5L235.2 76.8L235.2 76L235.2 75.2L235.2 74.7L235.3 74L235.3 73.2L235.4 72.5L235.5 71.8L235.5 71.2L235.6 70.5L235.7 69.8L235.8 69.2L236 68.5L236.1 68L236.2 67.2L236.3 66.8L236.5 66L236.6 65.5L236.8 65L237 64.2L237.1 63.8L237.3 63.2L237.5 62.7L237.7 62L237.9 61.5L238.1 61L238.4 60.5L238.6 60L238.8 59.5L239.1 59L239.4 58.5L239.7 58L240 57.5L240.2 57.2L240.6 56.8L241 56.3L241.3 56L241.8 55.6L242.2 55.2L242.6 55L243.2 54.8L243.8 54.6L244.5 54.6L245 54.8L245.5 55L246 55.3L246.4 55.8L246.8 56.1L247 56.5L247.3 57L247.6 57.5L247.8 58L248 58.5L248.2 59.2L248.4 59.8L248.6 60.2L248.7 61L248.9 61.5L249 62.2L249.1 62.8L249.2 63.5L249.2 64.2L249.3 64.8L249.3 65.5L249.4 66.2L249.4 67L249.4 67.8L249.4 68.5L249.3 69.2L249.3 70L249.3 70.8L249.2 71.2L249.1 72L249.1 72.8L249 73.2L248.9 74L248.8 74.8L248.7 75.2L248.6 76L248.5 76.5L248.3 77.2L248.2 77.8L248 78.5L247.9 79L247.8 79.8L247.7 80.2L247.7 81L247.7 81.8L247.8 82.4L247.8 83L248 83.7L248.1 84.2L248.3 84.8L248.4 85.5L248.5 86L248.6 86.8L248.7 87.5L248.7 88.2L248.7 89L248.6 89.8L248.6 90.5L248.6 91.2L248.6 92L248.6 92.8L248.6 93.5L248.5 94.2L248.3 94.8L248.1 95.2L247.8 95.7L247.5 96L247 96.5L246.6 96.8L246.2 97L245.8 97.3L245.2 97.5L244.6 97.8L244 98L243.5 98.1L242.8 98.2L242.5 98.3Z" fill="#dcdcdc" stroke="#111" stroke-width="1.4"/>
<path d="M242.8 97.3L242 97.4L241.2 97.5L240.5 97.5L239.8 97.4L239 97.3L238.5 97.2L237.9 97L237.3 96.8L236.8 96.5L236.3 96.2L236 96L235.5 95.6L235.2 95.2L234.9 94.8L234.6 94.2L234.5 93.8L234.3 93L234.3 92.2L234.2 91.7L234.2 91L234.1 90.2L234 89.7L233.9 89L233.9 88.2L233.9 87.5L233.9 86.8L234 86.2L234.2 85.5L234.3 85L234.5 84.5L234.8 83.9L235 83.3L235.2 82.8L235.4 82.2L235.6 81.8L235.8 81.2L235.9 80.5L236 80L236.2 79.2L236.2 78.5L236.3 78L236.3 77.2L236.3 76.5L236.3 75.8L236.3 75L236.3 74.2L236.4 73.5L236.4 72.8L236.5 72.2L236.6 71.5L236.7 70.8L236.8 70.2L236.9 69.5L237 68.8L237.1 68.2L237.2 67.6L237.4 67L237.5 66.5L237.7 65.8L237.9 65.2L238 64.8L238.2 64.1L238.5 63.5L238.7 63L238.9 62.5L239.1 62L239.4 61.5L239.6 61L239.9 60.5L240.2 60L240.5 59.6L240.8 59.2L241.2 58.8L241.5 58.4L242 58L242.4 57.8L242.9 57.5L243.5 57.3L244.2 57.4L244.8 57.5L245.2 57.8L245.8 58.2L246 58.5L246.3 59L246.6 59.5L246.9 60L247.1 60.5L247.3 61L247.5 61.7L247.6 62.2L247.8 62.8L247.9 63.5L248 64.2L248.1 64.8L248.2 65.5L248.2 66.2L248.2 66.9L248.3 67.5L248.3 68.2L248.3 69L248.2 69.6L248.2 70.2L248.2 71L248.1 71.8L248 72.5L248 73L247.9 73.8L247.8 74.4L247.6 75L247.5 75.8L247.4 76.2L247.2 76.9L247.1 77.5L247 78L246.8 78.8L246.7 79.2L246.6 80L246.5 80.5L246.4 81.2L246.4 82L246.5 82.8L246.5 83.2L246.6 84L246.8 84.6L246.9 85.2L247 86L247.1 86.5L247.1 87.2L247.2 88L247.1 88.8L247.1 89.5L247 90.2L247 90.8L247 91.2L247.1 92L247.2 92.8L247.2 93.5L247 94.2L246.8 94.8L246.5 95.2L246.2 95.6L245.8 96L245.4 96.2L245 96.5L244.5 96.8L243.8 97L243.2 97.2L242.8 97.3Z" fill="none" stroke="#707070" stroke-width="0.6"/>
<path d="M241.2 96.8L240.5 96.8L240 96.7L239.2 96.6L238.8 96.5L238.1 96.2L237.6 96L237.1 95.8L236.8 95.5L236.3 95L236 94.6L235.8 94.1L235.6 93.5L235.5 92.8L235.5 92L235.5 91.2L235.5 90.5L235.4 90L235.3 89.2L235.2 88.6L235.2 88L235.2 87.2L235.3 86.8L235.4 86L235.5 85.5L235.7 84.8L235.9 84.2L236.1 83.8L236.3 83.2L236.5 82.6L236.7 82L236.8 81.5L237 80.9L237.1 80.2L237.2 79.5L237.3 79L237.3 78.2L237.3 77.5L237.3 76.8L237.3 76L237.3 75.2L237.3 74.5L237.4 73.8L237.4 73L237.5 72.2L237.5 71.8L237.6 71L237.7 70.2L237.8 69.8L238 69L238.1 68.5L238.2 67.8L238.4 67.2L238.5 66.8L238.7 66L238.9 65.5L239.1 65L239.3 64.5L239.5 64L239.8 63.5L240 63L240.3 62.5L240.6 62L240.9 61.5L241.2 61.1L241.6 60.8L242 60.4L242.5 60.1L243 59.9L243.8 59.8L244.4 60L244.8 60.2L245.2 60.6L245.5 61L245.8 61.5L246.1 62L246.3 62.5L246.5 63L246.7 63.8L246.8 64.2L247 65L247 65.5L247.1 66.2L247.2 67L247.2 67.8L247.3 68.2L247.3 69L247.3 69.8L247.2 70.2L247.2 71L247.1 71.8L247.1 72.5L247 73L246.9 73.8L246.8 74.5L246.7 75L246.5 75.7L246.4 76.2L246.2 76.8L246.1 77.5L245.9 78L245.8 78.7L245.6 79.2L245.5 79.9L245.4 80.5L245.3 81.2L245.3 82L245.3 82.8L245.4 83.5L245.5 84.2L245.6 84.8L245.7 85.5L245.8 86.1L245.8 86.8L245.8 87.5L245.8 88.2L245.8 88.9L245.7 89.5L245.6 90.2L245.7 91L245.8 91.5L245.9 92.2L246 92.8L246 93.5L246 94L245.8 94.5L245.5 95L245 95.5L244.6 95.8L244.2 96L243.7 96.2L243 96.5L242.5 96.6L241.8 96.7L241.2 96.8Z" fill="none" stroke="#707070" stroke-width="0.6"/>
<path d="M241.8 96L241 96.1L240.2 96.1L239.8 96L239 95.8L238.5 95.6L238 95.3L237.6 95L237.2 94.7L237 94.2L236.8 93.7L236.7 93L236.7 92.2L236.8 91.8L237 91L237 90.2L236.9 89.5L236.8 88.8L236.7 88.2L236.6 87.5L236.7 86.8L236.8 86.1L236.9 85.5L237 84.9L237.2 84.2L237.4 83.8L237.5 83.2L237.8 82.6L237.9 82L238.1 81.5L238.2 81L238.4 80.2L238.5 79.7L238.6 79L238.6 78.2L238.6 77.5L238.6 76.8L238.5 76L238.5 75.4L238.5 74.8L238.5 74L238.5 73.5L238.6 72.8L238.6 72L238.7 71.2L238.8 70.8L238.9 70L239 69.5L239.2 68.8L239.3 68.2L239.5 67.7L239.7 67L239.9 66.5L240.1 66L240.3 65.5L240.6 65L240.9 64.5L241.2 64L241.5 63.7L241.9 63.2L242.3 63L242.8 62.8L243.5 62.7L244 62.9L244.5 63.2L244.8 63.6L245 64L245.3 64.5L245.5 65.1L245.7 65.8L245.8 66.2L245.9 67L246 67.6L246.1 68.2L246.1 69L246.1 69.8L246.1 70.5L246 71.2L246 71.8L245.9 72.5L245.8 73.2L245.7 73.8L245.6 74.5L245.5 75L245.3 75.8L245.2 76.2L245 76.8L244.8 77.5L244.6 78L244.5 78.5L244.3 79.2L244.2 79.8L244.1 80.5L244.1 81.2L244.1 82L244.1 82.8L244.2 83.5L244.3 84L244.4 84.8L244.4 85.5L244.5 86.2L244.5 87L244.4 87.8L244.3 88.5L244.2 89L244.2 89.8L244.2 90.5L244.3 91L244.5 91.6L244.8 92.2L244.9 92.8L245 93.5L244.8 94.2L244.5 94.7L244.2 95L243.8 95.3L243.2 95.6L242.8 95.8L242 96L241.8 96Z" fill="none" stroke="#707070" stroke-width="0.6"/>
<path d="M241.8 95.5L241 95.6L240.2 95.6L239.8 95.5L239 95.2L238.6 95L238.2 94.8L237.8 94.2L237.6 93.8L237.5 93.2L237.5 92.8L237.7 92L238 91.5L238.2 91L238.3 90.5L238.3 89.8L238.2 89.2L238 88.5L237.9 88L237.8 87.2L237.8 86.5L237.9 85.8L238 85.2L238.2 84.5L238.3 84L238.5 83.5L238.8 82.8L239 82.2L239.2 81.8L239.4 81.2L239.6 80.8L239.8 80.2L240 79.5L240.1 79L240.1 78.2L240.1 77.5L240 76.8L239.9 76.2L239.9 75.5L239.8 74.8L239.8 74L239.8 73.2L239.8 72.5L239.9 71.8L240 71L240.1 70.5L240.2 69.8L240.4 69.2L240.6 68.8L240.8 68.2L241 67.7L241.2 67.2L241.5 66.8L242 66.2L242.3 66L243 65.8L243.6 66L244 66.5L244.2 66.9L244.5 67.5L244.6 68L244.7 68.8L244.8 69.2L244.8 70L244.8 70.8L244.8 71.5L244.7 72L244.6 72.8L244.5 73.5L244.4 74L244.2 74.6L244.1 75.2L243.9 75.8L243.7 76.2L243.5 76.9L243.3 77.5L243.1 78L242.9 78.5L242.8 79.2L242.7 79.8L242.7 80.5L242.8 81L242.9 81.8L243 82.3L243.1 83L243.2 83.8L243.3 84.2L243.4 85L243.4 85.8L243.4 86.5L243.3 87.2L243.2 87.8L243 88.5L242.9 89L242.8 89.8L242.9 90.5L243.1 91L243.4 91.5L243.7 92L244 92.5L244.1 93L244.2 93.8L244 94.2L243.6 94.8L243.2 95L242.8 95.3L242 95.5L241.8 95.5Z" fill="none" stroke="#707070" stroke-width="0.6"/>
<ellipse cx="241" cy="94.5" rx="3.5" ry="2.5" transform="rotate(0 241 94.5)" fill="#222" fill-opacity="0.6"/>
</g>
<rect x="231.5" y="25.5" width="73" height="73.0" fill="none" stroke="#999" stroke-width="1"/>
<line x1="248.4" y1="25.5" x2="248.4" y2="98.5" stroke="#8a8a8a" stroke-width="1"/>
<line x1="231.5" y1="85.0" x2="304.5" y2="85.0" stroke="#8a8a8a" stroke-width="1"/>
<text x="232.9" y="33.6" font-size="8.5" text-anchor="start" font-weight="normal" fill="#1a1a1a" stroke="#1a1a1a" stroke-width="0.15" >23.1</text>
<text x="303.4" y="33.6" font-size="8.5" text-anchor="end" font-weight="normal" fill="#1a1a1a" stroke="#1a1a1a" stroke-width="0.15" >0.073</text>
<text x="303.4" y="95.3" font-size="8.5" text-anchor="end" font-weight="normal" fill="#1a1a1a" stroke="#1a1a1a" stroke-width="0.15" >1.72</text>
<text x="304.5" y="105.1" font-size="4.2" text-anchor="middle" font-weight="normal" fill="#8a8a8a" >10<tspan dy="-1.6" font-size="2.8">4</tspan></text>
<text x="229.0" y="26.8" font-size="4.2" text-anchor="end" font-weight="normal" fill="#8a8a8a" >10<tspan dy="-1.6" font-size="2.8">4</tspan></text>
<text x="286.17" y="105.1" font-size="4.2" text-anchor="middle" font-weight="normal" fill="#8a8a8a" >10<tspan dy="-1.6" font-size="2.8">3</tspan></text>
<text x="229.0" y="45.129999999999995" font-size="4.2" text-anchor="end" font-weight="normal" fill="#8a8a8a" >10<tspan dy="-1.6" font-size="2.8">3</tspan></text>
<text x="267.84000000000003" y="105.1" font-size="4.2" text-anchor="middle" font-weight="normal" fill="#8a8a8a" >10<tspan dy="-1.6" font-size="2.8">2</tspan></text>
<text x="229.0" y="63.459999999999994" font-size="4.2" text-anchor="end" font-weight="normal" fill="#8a8a8a" >10<tspan dy="-1.6" font-size="2.8">2</tspan></text>
<text x="249.51" y="105.1" font-size="4.2" text-anchor="middle" font-weight="normal" fill="#8a8a8a" >10<tspan dy="-1.6" font-size="2.8">1</tspan></text>
<text x="229.0" y="81.78999999999999" font-size="4.2" text-anchor="end" font-weight="normal" fill="#8a8a8a" >10<tspan dy="-1.6" font-size="2.8">1</tspan></text>
<text x="251.8" y="118.6" font-size="13" text-anchor="start" font-weight="normal" fill="#000" >IL-22</text>
<clipPath id="cA4"><rect x="346.5" y="25.5" width="73.0" height="73.0"/></clipPath>
<g clip-path="url(#cA4)">
<path d="M349.1 71.9h1M349.2 87.0h1M365.1 63.6h1M348.9 82.7h1M348.8 80.5h1M362.4 88.7h1M350.5 64.2h1M348.0 80.6h1M349.0 83.6h1M365.3 66.8h1M353.4 92.3h1M361.5 53.2h1M362.4 55.8h1M364.9 59.1h1M348.8 71.3h1M359.2 53.1h1M362.7 87.1h1M349.2 87.8h1M354.0 56.2h1M364.9 75.6h1M348.8 85.1h1M364.3 59.4h1M360.0 52.6h1M365.5 65.5h1M358.4 93.0h1M362.9 54.1h1M350.6 90.8h1M349.7 69.2h1M361.2 52.1h1M363.9 57.4h1M358.0 92.6h1M357.5 52.6h1M364.7 62.2h1M362.6 87.0h1M361.5 54.7h1M350.2 89.2h1M363.0 85.7h1M351.1 62.2h1M364.5 76.7h1M362.1 53.8h1M362.3 88.8h1M363.2 81.7h1M363.1 83.3h1M348.8 81.1h1M363.2 83.7h1M358.3 92.1h1M348.3 76.9h1M364.3 75.0h1M353.4 93.1h1M356.4 93.8h1M362.6 88.3h1M348.7 83.3h1M364.3 76.6h1M348.6 84.0h1M349.3 89.0h1M357.3 93.3h1M356.9 53.9h1M365.0 61.3h1M358.5 53.6h1M363.8 80.1h1M358.2 92.9h1" stroke="#1a1a1a" stroke-width="1"/>
<path d="M370.1 89.1h1M372.9 69.3h1M349.0 92.3h1M375.2 61.8h1M362.8 86.2h1M376.0 78.0h1M347.8 81.1h1M368.9 77.4h1M385.1 72.5h1M379.6 63.5h1M348.7 84.3h1M371.4 60.2h1M361.8 51.3h1M363.8 49.2h1M357.3 45.6h1M370.0 70.7h1M370.2 63.6h1M368.1 75.7h1M349.4 59.5h1M362.6 92.8h1M378.0 60.8h1M350.8 91.4h1M348.2 66.0h1M363.4 87.4h1M356.7 93.4h1M368.2 62.5h1M379.7 60.6h1M349.6 60.4h1M357.0 51.1h1M373.1 57.4h1M368.6 70.8h1M374.2 87.4h1M366.1 70.3h1M369.5 74.0h1M371.8 73.2h1M373.4 74.4h1M366.2 92.2h1M357.1 51.2h1M365.0 72.4h1M372.6 77.1h1M362.9 93.3h1M365.9 79.0h1M363.4 87.6h1M357.7 53.8h1M347.8 69.5h1M364.5 81.2h1M377.2 67.0h1M378.9 60.6h1M356.9 93.0h1M358.7 51.2h1M349.4 93.5h1M368.9 88.7h1M367.6 68.9h1M363.4 85.4h1M363.6 52.4h1M364.6 78.9h1M374.2 55.3h1M371.0 65.1h1M367.8 65.5h1M351.9 59.3h1M379.4 85.5h1M376.6 50.1h1M346.9 73.6h1M370.4 77.7h1M355.1 94.8h1M362.7 87.0h1M371.5 72.5h1M370.8 83.1h1M362.7 89.6h1M363.6 87.0h1M377.9 64.9h1M371.2 66.7h1M351.0 60.4h1M357.9 92.1h1M348.9 71.4h1M368.9 68.3h1M365.5 76.8h1M362.0 54.3h1M374.8 53.1h1M362.0 92.1h1M371.5 59.0h1M368.4 82.5h1M364.4 75.6h1M376.8 58.8h1M347.9 91.0h1M349.3 67.5h1M357.9 44.5h1M368.0 71.8h1M365.5 57.0h1M349.4 88.1h1M368.4 67.8h1M366.1 58.8h1M348.2 75.2h1M373.1 66.2h1M371.2 83.8h1M357.8 92.2h1M373.7 74.6h1M370.7 67.6h1M361.2 92.2h1M349.9 93.0h1M364.6 63.9h1M348.6 84.2h1M365.1 70.4h1M366.1 53.7h1M361.7 51.2h1M368.8 83.5h1M365.8 89.0h1M374.2 50.2h1M353.4 58.2h1M375.3 77.3h1M348.3 88.2h1M373.0 68.3h1M372.6 54.8h1M372.6 78.8h1M356.1 95.6h1M351.1 93.9h1M358.3 49.6h1M361.4 90.2h1M366.8 52.9h1M371.1 78.3h1M375.6 78.6h1M351.1 63.4h1M375.2 65.6h1M363.5 83.8h1M366.9 71.2h1M365.7 67.1h1M370.5 66.4h1M372.1 67.2h1M370.4 63.2h1M370.8 51.6h1M375.4 72.6h1M373.4 80.4h1M370.1 62.2h1M375.8 80.9h1M364.1 76.4h1M377.2 61.3h1M357.1 52.0h1M364.1 43.0h1M374.9 75.7h1M379.8 73.1h1M369.5 54.9h1M371.5 74.0h1M366.4 84.1h1M372.5 70.3h1M378.0 71.9h1M362.0 89.7h1M380.2 50.8h1M364.5 61.3h1M365.4 61.3h1M372.9 68.9h1M363.6 51.7h1M370.4 78.6h1M359.9 92.4h1M368.6 52.4h1M358.3 34.2h1M355.5 96.6h1M368.4 84.4h1M347.9 86.8h1M374.0 87.2h1M364.5 77.9h1M361.4 48.6h1M371.5 61.2h1M365.7 83.6h1M375.5 51.6h1M365.8 79.0h1M349.0 67.5h1M371.7 60.5h1M355.7 92.7h1M379.6 67.0h1M372.0 64.3h1M375.3 94.6h1M360.4 91.6h1M377.7 62.9h1M356.0 51.2h1M356.4 93.4h1M356.8 43.1h1M347.8 89.8h1M369.4 90.7h1M361.4 52.0h1M367.1 92.0h1M374.4 51.6h1M366.9 62.9h1M346.9 81.9h1M372.6 86.0h1M355.5 51.9h1M352.7 94.3h1M368.6 83.0h1M365.9 87.1h1M357.4 97.8h1M374.0 57.0h1M371.3 71.6h1M370.0 45.1h1M374.7 96.3h1M351.4 91.9h1M372.4 69.6h1M367.7 92.1h1M364.3 58.1h1M351.6 94.7h1M374.3 85.4h1M364.6 73.8h1M367.5 56.3h1M367.0 63.9h1M379.5 76.3h1M363.9 77.0h1M358.0 95.8h1M366.7 77.7h1M377.7 70.6h1M364.8 66.0h1M374.2 72.6h1M370.4 75.3h1M362.6 88.4h1M356.4 46.5h1M365.7 76.9h1M356.1 54.2h1M367.5 79.7h1M362.7 86.2h1M371.1 75.1h1M362.7 89.5h1M365.9 52.0h1M347.0 76.1h1M365.4 73.7h1M356.5 48.8h1M361.0 43.9h1M351.1 95.0h1M367.6 79.9h1M353.4 57.0h1M353.8 55.1h1M368.3 79.2h1M365.7 59.3h1M366.1 72.3h1M371.4 76.1h1M355.7 98.5h1M384.4 57.5h1M368.2 65.4h1M377.0 67.8h1M358.3 92.0h1M373.7 80.8h1M370.9 84.4h1M365.1 84.9h1M369.0 73.0h1M368.1 57.7h1M373.8 94.7h1M372.4 63.5h1M368.3 89.7h1M347.7 85.1h1M365.8 83.9h1M369.3 65.7h1M368.3 76.2h1M364.5 79.0h1M373.1 61.6h1M371.4 82.7h1M367.2 56.7h1M373.3 67.5h1M366.2 71.9h1M370.1 69.9h1M376.9 59.8h1M372.1 40.1h1M354.5 51.5h1M361.0 46.9h1M380.2 56.0h1M352.2 92.5h1M371.7 64.7h1M360.2 91.1h1M346.7 71.6h1M363.1 91.0h1M367.0 50.7h1M365.4 67.4h1M375.2 59.0h1M349.3 84.1h1M348.6 69.2h1M356.0 93.7h1M367.8 42.0h1M367.6 68.9h1M371.2 65.0h1M362.6 47.5h1M363.6 56.8h1M351.5 58.7h1M378.3 85.2h1M378.9 59.4h1M347.6 75.1h1M368.7 70.2h1M370.0 73.6h1M365.6 77.1h1M351.8 91.6h1M376.0 61.8h1M381.5 67.8h1M352.6 57.2h1M356.7 51.6h1M372.9 74.9h1M366.1 70.2h1M365.1 83.0h1M368.1 50.8h1M356.3 93.1h1M368.0 76.7h1M368.3 71.0h1M372.1 65.4h1M372.2 95.2h1M366.9 60.2h1M374.9 73.1h1M374.1 61.4h1M382.6 76.4h1M368.4 53.6h1M370.0 46.4h1M372.1 60.1h1M348.1 87.4h1M365.3 75.6h1M351.0 54.6h1M348.1 77.8h1M351.8 97.6h1M367.8 56.5h1M367.0 87.7h1M368.4 65.4h1M373.1 53.4h1M380.3 64.7h1M366.7 83.4h1M366.5 62.0h1M358.3 95.9h1M348.5 78.4h1M374.3 65.3h1M372.2 71.4h1M348.3 77.9h1M368.0 68.5h1M375.5 89.3h1M352.6 49.6h1M379.7 69.5h1M369.1 62.1h1M370.9 74.4h1M368.3 43.6h1" stroke="#4a4a4a" stroke-width="1"/>
<path d="M347.1 83.8h1M374.9 46.8h1M366.0 84.1h1M347.1 89.9h1M353.6 97.4h1M368.8 89.1h1M382.1 76.6h1M377.5 62.9h1M370.3 71.4h1M357.8 94.4h1M373.1 90.5h1M372.1 82.7h1M364.2 97.5h1M366.8 56.5h1M378.8 77.3h1M372.3 69.7h1M361.1 91.8h1M367.2 91.4h1M374.1 68.7h1M378.0 73.3h1M364.5 86.3h1M365.3 52.1h1M368.8 63.9h1M375.3 71.8h1M371.7 61.2h1M348.7 94.8h1M358.4 48.9h1M364.3 85.7h1M359.6 93.6h1M361.9 91.9h1M373.4 55.8h1M367.1 70.1h1M379.8 93.5h1M380.1 80.6h1M366.0 60.8h1M364.4 80.9h1M368.5 69.2h1M364.7 56.6h1M367.4 79.1h1M359.0 47.5h1M366.0 67.0h1M368.0 63.0h1M373.5 85.4h1M351.9 94.5h1M379.0 87.2h1M376.5 62.7h1M370.6 53.1h1M376.3 72.5h1M382.2 68.7h1M357.9 95.0h1M372.2 66.3h1M358.5 45.3h1M369.9 62.2h1M350.0 92.2h1M368.9 57.1h1M376.6 58.7h1M373.1 63.2h1M367.5 60.0h1M384.1 52.1h1M376.9 58.8h1M364.8 53.3h1M362.2 50.9h1M371.3 42.3h1M365.5 73.4h1M367.1 77.8h1M375.8 60.1h1M347.1 75.7h1M373.6 74.5h1M366.1 65.7h1M370.8 59.1h1M364.0 83.8h1M370.7 73.2h1M376.8 71.8h1M356.2 47.2h1M365.3 76.8h1M379.5 77.3h1M372.7 71.2h1M373.7 72.0h1M369.1 75.6h1M368.9 67.6h1M364.3 54.8h1M347.0 82.4h1M361.3 38.5h1M369.6 68.2h1M367.1 62.1h1M360.8 95.1h1M369.7 74.3h1M378.8 51.7h1M354.3 53.0h1M372.5 80.9h1M367.5 73.7h1M371.0 82.5h1M377.0 78.1h1M369.0 78.0h1M368.6 49.9h1M370.5 67.7h1M352.8 96.8h1M350.2 63.0h1M347.6 74.1h1M372.1 95.2h1M369.9 86.0h1M377.7 73.8h1M365.7 74.7h1M363.3 89.3h1M347.0 77.9h1M377.9 79.5h1M367.1 67.8h1M373.0 87.2h1M371.1 58.9h1M369.3 51.8h1M369.2 66.3h1M373.3 82.4h1M365.7 87.4h1M374.5 62.4h1M376.0 67.4h1M382.1 69.2h1M347.6 89.9h1M370.2 89.4h1M374.0 89.8h1M366.8 48.8h1M369.8 68.7h1M366.2 77.2h1M369.6 61.7h1M366.8 64.3h1M366.4 56.8h1M377.5 76.9h1M381.8 85.3h1M370.1 59.4h1M374.8 92.6h1M348.8 93.4h1M368.9 59.5h1M349.5 91.5h1M352.1 58.4h1M349.4 65.4h1M369.2 53.1h1M365.1 77.6h1M367.2 66.0h1M365.5 75.9h1M357.1 41.8h1M366.3 67.1h1M376.9 57.4h1M360.2 93.7h1M361.5 94.7h1M366.6 64.0h1M371.7 78.7h1M367.1 79.6h1M351.7 96.5h1M366.7 61.1h1M359.1 93.7h1M349.6 57.2h1M375.0 66.4h1M370.6 62.1h1M363.5 87.7h1M349.7 60.1h1M359.2 97.1h1M363.4 92.6h1M348.0 89.2h1M349.1 67.2h1M372.9 67.9h1M358.1 48.8h1M350.9 45.7h1M380.8 69.3h1M350.5 63.0h1M370.3 68.5h1M367.9 70.7h1M370.6 64.6h1M367.8 62.0h1M375.4 70.5h1M363.2 88.5h1M380.6 70.3h1M375.4 64.2h1" stroke="#888" stroke-width="1"/>
<path d="M356.5 92L355.8 92.2L355 92.2L354.2 92.1L353.8 91.9L353.2 91.7L352.8 91.4L352.2 91L352 90.8L351.6 90.2L351.2 89.8L351 89.4L350.8 88.9L350.5 88.4L350.2 87.8L350.1 87.2L349.9 86.8L349.8 86.2L349.6 85.5L349.5 85L349.3 84.2L349.2 83.8L349.1 83L349 82.2L349 81.8L348.9 81L348.9 80.2L348.8 79.5L348.8 78.8L348.8 78L348.8 77.2L348.8 76.5L348.9 75.8L348.9 75L349 74.2L349 73.8L349.1 73L349.2 72.2L349.2 71.6L349.3 71L349.5 70.2L349.5 69.8L349.7 69L349.8 68.5L349.9 67.8L350 67.2L350.2 66.5L350.4 66L350.5 65.5L350.7 64.8L350.8 64.2L351 63.8L351.2 63L351.4 62.5L351.6 62L351.8 61.5L352 61L352.2 60.4L352.5 59.9L352.8 59.3L353 58.8L353.2 58.4L353.5 57.9L353.8 57.5L354.1 57L354.4 56.5L354.8 56L355 55.7L355.4 55.2L355.8 54.9L356.1 54.5L356.5 54.2L357 53.8L357.5 53.6L358 53.4L358.5 53.2L359.2 53.2L359.8 53.2L360.5 53.5L360.9 53.8L361.2 54L361.7 54.5L362 54.8L362.3 55.2L362.6 55.8L362.9 56.2L363.1 56.8L363.3 57.2L363.5 57.8L363.8 58.5L363.9 59L364 59.5L364.2 60.2L364.3 60.8L364.4 61.5L364.5 62.1L364.6 62.8L364.7 63.5L364.7 64.2L364.8 64.9L364.8 65.5L364.8 66.2L364.8 67L364.8 67.8L364.8 68.5L364.8 69.1L364.7 69.8L364.7 70.5L364.6 71.2L364.5 72L364.5 72.5L364.4 73.2L364.3 74L364.2 74.5L364.1 75.2L364 75.8L363.8 76.5L363.7 77L363.6 77.8L363.5 78.2L363.3 79L363.2 79.5L363.1 80.2L363 81L363 81.5L363 82.2L363 83L363 83.8L362.9 84.5L362.9 85.2L362.8 86L362.6 86.5L362.5 87L362.2 87.6L362 88.2L361.8 88.6L361.5 89L361.1 89.5L360.8 89.9L360.4 90.2L360 90.6L359.5 90.9L359 91.2L358.5 91.4L358 91.6L357.5 91.8L356.8 92L356.5 92Z" fill="#dcdcdc" stroke="#111" stroke-width="1.4"/>
<path d="M357.5 90L356.8 90.1L356 90L355.5 89.9L355 89.7L354.5 89.5L354 89.1L353.5 88.8L353.2 88.5L352.9 88L352.5 87.5L352.2 87.1L352 86.6L351.8 86L351.5 85.5L351.4 85L351.2 84.5L351 83.8L350.9 83.2L350.8 82.5L350.7 82L350.5 81.2L350.5 80.8L350.4 80L350.3 79.2L350.3 78.5L350.3 77.8L350.3 77L350.3 76.2L350.3 75.5L350.3 74.8L350.4 74L350.5 73.2L350.5 72.8L350.6 72L350.7 71.2L350.8 70.8L350.9 70L351 69.5L351.2 68.8L351.3 68.2L351.5 67.5L351.6 67L351.8 66.4L351.9 65.8L352.1 65.2L352.3 64.8L352.5 64.1L352.7 63.5L352.9 63L353.1 62.5L353.4 62L353.6 61.5L353.9 61L354.2 60.5L354.5 60L354.8 59.6L355 59.2L355.4 58.8L355.8 58.3L356.1 58L356.5 57.6L357 57.2L357.5 57L358 56.8L358.5 56.7L359.1 56.8L359.8 57L360.2 57.2L360.5 57.5L361 58L361.2 58.3L361.5 58.8L361.8 59.2L362 59.8L362.2 60.4L362.5 61L362.6 61.5L362.8 62.1L362.9 62.8L363 63.4L363.1 64L363.2 64.8L363.2 65.5L363.3 66L363.3 66.8L363.3 67.5L363.3 68.2L363.3 69L363.3 69.8L363.2 70.4L363.2 71L363.1 71.8L363.1 72.5L363 73L362.9 73.8L362.8 74.5L362.7 75L362.5 75.8L362.4 76.2L362.3 77L362.2 77.5L362 78.2L361.9 78.8L361.8 79.5L361.7 80L361.7 80.8L361.7 81.5L361.7 82.2L361.8 82.8L361.8 83.5L361.8 84.2L361.8 85L361.7 85.5L361.5 86.2L361.4 86.8L361.1 87.2L360.9 87.8L360.5 88.2L360.2 88.6L359.8 89L359.4 89.2L359 89.5L358.5 89.8L357.8 90L357.5 90Z" fill="none" stroke="#707070" stroke-width="0.6"/>
<path d="M358.2 88.5L357.5 88.7L356.8 88.7L356.1 88.5L355.6 88.2L355.2 88L354.8 87.6L354.4 87.2L354 86.8L353.8 86.3L353.5 85.9L353.2 85.3L353 84.8L352.8 84.2L352.7 83.8L352.5 83.1L352.3 82.5L352.2 82L352.1 81.2L352 80.8L351.8 80L351.8 79.3L351.7 78.8L351.6 78L351.6 77.2L351.6 76.5L351.6 75.8L351.6 75L351.6 74.2L351.7 73.5L351.8 72.8L351.8 72.2L351.9 71.5L352 71L352.1 70.2L352.2 69.7L352.4 69L352.5 68.5L352.7 67.8L352.9 67.2L353 66.8L353.2 66L353.5 65.5L353.6 65L353.9 64.5L354.1 64L354.3 63.5L354.6 63L354.9 62.5L355.2 62L355.5 61.7L355.8 61.2L356.2 60.8L356.6 60.5L357 60.2L357.5 60L358.2 59.8L359 60L359.5 60.2L359.8 60.5L360.2 61L360.5 61.3L360.8 61.8L361 62.3L361.2 63L361.4 63.5L361.5 64L361.7 64.8L361.8 65.2L361.9 66L362 66.8L362 67.4L362 68L362 68.8L362 69.5L362 70.2L362 70.8L361.9 71.5L361.8 72.2L361.8 73L361.7 73.5L361.6 74.2L361.5 74.8L361.3 75.5L361.2 76L361 76.8L360.9 77.2L360.8 78L360.7 78.5L360.5 79.2L360.5 79.8L360.5 80.5L360.5 81L360.6 81.8L360.7 82.5L360.8 83L360.9 83.8L360.9 84.5L360.8 85.2L360.7 85.8L360.5 86.3L360.2 86.8L360 87.2L359.5 87.8L359.2 88L358.8 88.3L358.2 88.5Z" fill="none" stroke="#707070" stroke-width="0.6"/>
<path d="M358 87.3L357.2 87.4L356.6 87.2L356.2 87L355.8 86.7L355.4 86.2L355 85.8L354.8 85.2L354.6 84.8L354.5 84.2L354.3 83.5L354.2 83L354.1 82.2L354 81.8L353.8 81L353.7 80.5L353.6 79.8L353.4 79.2L353.3 78.5L353.2 78L353.1 77.2L353.1 76.5L353 75.8L353 75L353 74.2L353.1 73.5L353.1 72.8L353.2 72L353.3 71.5L353.4 70.8L353.5 70.2L353.7 69.5L353.9 69L354 68.5L354.2 67.8L354.4 67.2L354.7 66.8L354.9 66.2L355.1 65.8L355.4 65.2L355.8 64.8L356 64.5L356.4 64L356.8 63.8L357.2 63.5L358 63.3L358.6 63.5L359 63.8L359.4 64.2L359.7 64.8L359.9 65.2L360.1 65.8L360.2 66.4L360.4 67L360.5 67.8L360.5 68.2L360.6 69L360.6 69.8L360.6 70.5L360.5 71.2L360.5 71.9L360.4 72.5L360.3 73.2L360.2 73.8L360.1 74.5L360 75L359.8 75.8L359.7 76.2L359.5 77L359.4 77.5L359.2 78L359.1 78.8L359 79.5L359.1 80.2L359.2 81L359.4 81.5L359.5 82L359.7 82.8L359.8 83.2L359.9 84L359.9 84.8L359.8 85.4L359.5 86L359.2 86.4L359 86.8L358.5 87.1L358 87.3Z" fill="none" stroke="#707070" stroke-width="0.6"/>
<path d="M357.8 86.3L357 86.3L356.6 86L356.2 85.7L355.9 85.2L355.7 84.8L355.5 84L355.5 83.5L355.5 82.8L355.5 82.2L355.7 81.5L355.8 81L355.9 80.2L355.9 79.5L355.7 79L355.5 78.5L355.2 78L355 77.4L354.8 76.8L354.7 76.2L354.6 75.5L354.5 75L354.5 74.2L354.5 73.5L354.5 73L354.6 72.2L354.7 71.5L354.8 71L355 70.3L355.2 69.8L355.4 69.2L355.6 68.8L355.8 68.2L356.2 67.8L356.5 67.4L357 67L357.5 66.9L358 67L358.4 67.5L358.7 68L358.8 68.5L359 69.2L359.1 69.8L359.1 70.5L359.1 71.2L359.1 72L359 72.7L358.9 73.2L358.8 74L358.6 74.5L358.5 75L358.3 75.8L358.1 76.2L357.9 76.8L357.7 77.2L357.4 77.8L357.2 78.2L357 79L356.9 79.5L357.1 80L357.4 80.5L357.8 81L358 81.3L358.3 81.8L358.6 82.2L358.8 82.8L359 83.5L359.1 84L359 84.8L358.9 85.2L358.6 85.8L358.2 86.1L357.8 86.3Z" fill="none" stroke="#707070" stroke-width="0.6"/>
<ellipse cx="357.5" cy="86" rx="4" ry="4.5" transform="rotate(15 357.5 86)" fill="#222" fill-opacity="0.55"/>
</g>
<rect x="346.5" y="25.5" width="73" height="73.0" fill="none" stroke="#999" stroke-width="1"/>
<line x1="363.4" y1="25.5" x2="363.4" y2="98.5" stroke="#8a8a8a" stroke-width="1"/>
<line x1="346.5" y1="81.25" x2="419.5" y2="81.25" stroke="#8a8a8a" stroke-width="1"/>
<text x="347.9" y="33.6" font-size="8.5" text-anchor="start" font-weight="normal" fill="#1a1a1a" stroke="#1a1a1a" stroke-width="0.15" >27.8</text>
<text x="418.4" y="33.6" font-size="8.5" text-anchor="end" font-weight="normal" fill="#1a1a1a" stroke="#1a1a1a" stroke-width="0.15" >1.09</text>
<text x="418.4" y="95.3" font-size="8.5" text-anchor="end" font-weight="normal" fill="#1a1a1a" stroke="#1a1a1a" stroke-width="0.15" >0.29</text>
<text x="419.5" y="105.1" font-size="4.2" text-anchor="middle" font-weight="normal" fill="#8a8a8a" >10<tspan dy="-1.6" font-size="2.8">4</tspan></text>
<text x="344.0" y="26.8" font-size="4.2" text-anchor="end" font-weight="normal" fill="#8a8a8a" >10<tspan dy="-1.6" font-size="2.8">4</tspan></text>
<text x="401.17" y="105.1" font-size="4.2" text-anchor="middle" font-weight="normal" fill="#8a8a8a" >10<tspan dy="-1.6" font-size="2.8">3</tspan></text>
<text x="344.0" y="45.129999999999995" font-size="4.2" text-anchor="end" font-weight="normal" fill="#8a8a8a" >10<tspan dy="-1.6" font-size="2.8">3</tspan></text>
<text x="382.84000000000003" y="105.1" font-size="4.2" text-anchor="middle" font-weight="normal" fill="#8a8a8a" >10<tspan dy="-1.6" font-size="2.8">2</tspan></text>
<text x="344.0" y="63.459999999999994" font-size="4.2" text-anchor="end" font-weight="normal" fill="#8a8a8a" >10<tspan dy="-1.6" font-size="2.8">2</tspan></text>
<text x="364.51" y="105.1" font-size="4.2" text-anchor="middle" font-weight="normal" fill="#8a8a8a" >10<tspan dy="-1.6" font-size="2.8">1</tspan></text>
<text x="344.0" y="81.78999999999999" font-size="4.2" text-anchor="end" font-weight="normal" fill="#8a8a8a" >10<tspan dy="-1.6" font-size="2.8">1</tspan></text>
<text x="367.9" y="118.5" font-size="13" text-anchor="start" font-weight="normal" fill="#000" >IL-22</text>
<text x="331.4" y="63.5" font-size="13" text-anchor="middle" font-weight="normal" fill="#000" transform="rotate(-90 331.4 63.5)" dominant-baseline="central">CXCL8</text>
<clipPath id="cA5"><rect x="441.5" y="25.5" width="73.0" height="73.0"/></clipPath>
<g clip-path="url(#cA5)">
<path d="M467.7 89.4h1M468.2 88.2h1M465.8 83.1h1M447.3 92.3h1M445.2 89.6h1M448.5 92.5h1M444.2 70.1h1M459.6 81.9h1M445.8 62.4h1M466.6 84.2h1M462.9 92.0h1M466.9 89.8h1M463.7 82.9h1M466.7 84.5h1M453.2 93.5h1M467.2 89.5h1M456.0 92.3h1M449.3 57.6h1M443.6 71.2h1M444.0 88.5h1M450.9 93.0h1M444.0 88.3h1M468.9 88.2h1M453.7 92.7h1M451.9 93.1h1M443.6 83.7h1M444.1 88.9h1M458.5 62.8h1M468.0 86.5h1M469.3 87.8h1M451.3 93.7h1M458.4 63.6h1M462.4 91.3h1M466.8 89.6h1M469.0 88.1h1M458.6 71.2h1M455.9 92.3h1M458.4 81.2h1M468.7 88.8h1M457.1 61.7h1M463.3 91.6h1M461.0 91.7h1M460.5 92.0h1M467.1 84.4h1M458.8 69.2h1M458.0 78.5h1M466.1 90.4h1M457.5 92.0h1M466.6 89.5h1M443.0 74.6h1M459.4 91.9h1M446.2 62.5h1M466.3 89.9h1M456.3 57.9h1M468.5 85.2h1M443.8 78.0h1M458.0 78.7h1M467.2 90.1h1M465.7 90.0h1M467.7 85.9h1M455.2 58.0h1M451.8 55.6h1M443.4 74.8h1M446.4 91.8h1M464.7 91.2h1M459.0 68.5h1M466.0 90.1h1M468.4 87.9h1M455.7 92.4h1M467.9 84.5h1M468.7 88.7h1M463.8 91.8h1M451.6 93.5h1M459.2 71.1h1M445.0 64.7h1" stroke="#1a1a1a" stroke-width="1"/>
<path d="M468.5 89.5h1M445.6 95.7h1M473.3 86.5h1M442.9 83.9h1M469.1 91.8h1M447.5 92.9h1M470.2 87.2h1M442.3 79.8h1M467.6 96.0h1M467.1 91.6h1M469.4 87.3h1M468.8 89.2h1M467.6 88.6h1M444.3 63.4h1M443.4 78.6h1M471.9 97.0h1M443.0 88.6h1M469.0 89.6h1M459.8 96.8h1M474.3 93.9h1M464.0 83.1h1M467.0 94.4h1M453.9 93.0h1M475.0 94.7h1M463.9 65.2h1M447.5 93.3h1M449.1 53.3h1M467.8 92.7h1M464.5 93.9h1M471.0 92.2h1M457.6 59.1h1M450.0 93.6h1M465.3 93.8h1M463.6 92.7h1M473.3 88.9h1M455.6 53.2h1M471.4 86.1h1M471.5 88.8h1M467.6 90.2h1M466.3 94.3h1M469.6 92.1h1M451.9 52.7h1M464.9 92.9h1M463.9 81.1h1M467.8 84.0h1M459.2 93.6h1M469.5 82.2h1M458.5 80.5h1M465.8 91.1h1M474.4 93.2h1M458.9 72.1h1M458.0 95.3h1M474.7 91.5h1M442.1 89.0h1M443.9 91.4h1M443.2 84.7h1M461.7 82.5h1M472.1 86.8h1M453.7 50.6h1M473.5 90.0h1M462.4 91.7h1M462.5 81.6h1M458.9 60.9h1M449.7 95.1h1M471.3 89.0h1M444.4 84.3h1M464.0 81.6h1M468.4 94.0h1M469.3 85.9h1M445.9 91.0h1M450.3 57.7h1M450.6 54.8h1M470.4 87.8h1M464.0 91.9h1M465.3 94.7h1M465.1 94.3h1M464.9 91.5h1M444.6 67.4h1M472.4 84.0h1M442.4 69.2h1M468.7 90.0h1M461.5 92.8h1M468.0 90.7h1M468.7 87.4h1M469.1 91.9h1M463.8 92.8h1M461.4 97.7h1M455.8 57.2h1M464.9 93.3h1M466.1 91.7h1M473.1 92.3h1M463.8 98.2h1M470.0 88.1h1M468.6 93.1h1M467.8 91.4h1M457.0 93.0h1M464.6 92.2h1M466.7 95.3h1M468.2 89.2h1M441.9 76.0h1M472.1 88.1h1M467.1 89.6h1M468.1 95.1h1M459.5 94.1h1M473.6 88.6h1M446.5 95.5h1M461.3 95.3h1M444.0 86.0h1M449.8 56.1h1M458.5 74.1h1M447.3 60.4h1M467.8 85.7h1M478.9 84.8h1M468.6 88.3h1M467.8 91.1h1M464.4 96.3h1M471.0 87.2h1M459.0 94.1h1M465.7 93.5h1M463.0 92.6h1M444.0 85.8h1M470.2 89.9h1M442.5 71.6h1M472.0 91.7h1M460.7 94.2h1M447.9 96.0h1M462.9 94.3h1M467.4 94.6h1M462.0 91.6h1M471.7 91.5h1M443.3 74.2h1M461.5 95.9h1M454.3 51.3h1M465.6 93.2h1M456.9 57.2h1M464.3 82.0h1M468.6 86.6h1M459.2 93.8h1M458.8 93.4h1M465.0 78.4h1M469.3 91.0h1M462.1 92.4h1M461.3 92.1h1M450.5 57.4h1M458.3 94.2h1M474.3 86.6h1M453.4 93.1h1M469.9 86.1h1M476.0 82.0h1M442.6 84.2h1M448.1 57.1h1M458.4 79.1h1M459.9 93.3h1M443.9 86.9h1M465.3 93.2h1M471.9 89.6h1M443.0 84.9h1M466.1 92.3h1M472.4 95.8h1M459.1 96.5h1M467.4 93.3h1M469.6 92.2h1M476.2 86.5h1M457.7 80.7h1M443.1 85.9h1M468.0 90.0h1M461.5 70.6h1M461.5 96.6h1M458.3 53.7h1M463.7 82.6h1M467.2 89.8h1M467.3 90.6h1M449.3 93.9h1M442.3 82.2h1M463.8 82.2h1M465.7 90.3h1M459.2 67.5h1M463.4 91.0h1M443.4 79.8h1M470.7 96.0h1M471.1 86.9h1M465.5 91.5h1M464.9 95.7h1M456.0 93.4h1M444.5 83.5h1M462.7 91.2h1M469.3 89.7h1M469.9 91.9h1M469.8 89.6h1M447.7 92.3h1M474.4 89.4h1M469.5 83.9h1M462.2 77.2h1M472.1 90.7h1M458.9 92.6h1M452.4 55.3h1M460.9 92.6h1M456.9 93.0h1M468.5 90.6h1M454.5 55.9h1M466.0 93.9h1M467.3 94.5h1M474.5 93.8h1M447.3 59.4h1M465.1 95.4h1M444.4 89.9h1M470.3 90.7h1M474.7 95.1h1M467.9 92.8h1M444.0 68.9h1M446.7 60.8h1M468.5 89.8h1M463.6 94.7h1M467.7 93.2h1M459.5 94.9h1M446.4 93.6h1M462.0 65.9h1M459.5 80.9h1M464.7 91.0h1M467.1 91.5h1M473.4 88.7h1M466.7 92.8h1M475.9 86.8h1M465.3 93.5h1M446.9 53.2h1M468.4 93.4h1M443.6 69.1h1M459.3 75.6h1M447.7 92.6h1M461.0 93.5h1M464.1 91.7h1M465.3 94.4h1M468.9 93.8h1M470.2 92.3h1M442.2 82.9h1M471.9 92.0h1M453.7 94.4h1M442.5 75.7h1M467.2 93.1h1M459.1 74.3h1M462.1 79.8h1M472.7 92.9h1M460.5 59.2h1M458.9 74.4h1" stroke="#4a4a4a" stroke-width="1"/>
<path d="M460.2 79.3h1M443.4 82.6h1M467.0 92.4h1M462.7 94.1h1M468.9 89.0h1M458.7 79.1h1M441.7 69.0h1M458.2 60.4h1M458.5 79.3h1M464.2 92.0h1M457.6 92.9h1M474.9 93.3h1M472.4 94.0h1M453.4 94.1h1M463.1 92.5h1M469.0 85.3h1M466.0 91.3h1M442.7 82.4h1M462.5 94.3h1M470.9 91.8h1M466.0 97.5h1M468.4 93.6h1M443.3 83.7h1M462.0 73.0h1M441.9 81.0h1M444.8 56.5h1M466.1 82.1h1M451.8 97.8h1M449.6 55.3h1M461.8 62.6h1M472.3 95.0h1M451.5 95.7h1M442.0 90.5h1M468.4 93.6h1M472.9 92.4h1M471.2 89.3h1M469.4 82.5h1M472.9 87.9h1M452.0 53.1h1M445.8 92.6h1M470.3 88.9h1M452.4 53.7h1M442.8 76.4h1M464.2 97.2h1M473.4 95.5h1M458.8 95.5h1M464.0 92.3h1M475.1 88.3h1M446.5 93.3h1M459.7 93.8h1M468.0 91.0h1M462.7 93.4h1M461.8 80.5h1M467.9 93.0h1M452.8 53.3h1M470.8 88.0h1M462.7 96.5h1M463.7 92.2h1M469.1 94.0h1M447.0 56.6h1M468.6 97.1h1M456.1 56.2h1M442.6 84.8h1M466.7 96.1h1M472.6 86.4h1M443.0 88.7h1M471.9 93.9h1M461.8 92.4h1M450.7 95.7h1M466.7 94.8h1M461.1 94.1h1M462.5 92.3h1M460.8 95.4h1M466.1 96.6h1M448.8 94.4h1M474.7 92.4h1M475.3 92.9h1M470.9 94.1h1M464.3 97.4h1M464.9 94.1h1M464.9 64.7h1M455.1 54.9h1M450.9 96.6h1M452.8 98.5h1M464.6 97.3h1M467.9 90.1h1M470.1 87.3h1M458.3 58.6h1M442.2 83.5h1M442.8 84.7h1M469.1 93.7h1M460.9 96.1h1M442.9 80.1h1M460.3 59.4h1M450.4 95.6h1M460.8 93.0h1M470.4 92.0h1M470.6 95.4h1M474.8 90.0h1M471.3 93.3h1M442.4 65.6h1M467.6 94.5h1M470.4 91.7h1M479.0 92.4h1M471.0 89.8h1M475.9 89.7h1M464.3 93.7h1M470.6 89.2h1M465.9 97.4h1M466.5 90.8h1M477.3 87.9h1M441.9 90.3h1M469.2 91.5h1M446.2 56.4h1M470.4 94.4h1M464.6 95.2h1M467.6 92.6h1M447.6 93.1h1M459.4 92.7h1M455.2 95.8h1M442.9 79.0h1M470.9 95.6h1M455.0 93.9h1M450.0 55.2h1M461.7 73.5h1M462.8 93.0h1M473.9 81.5h1M472.0 91.7h1M461.3 68.0h1M467.9 91.4h1M443.0 83.8h1" stroke="#888" stroke-width="1"/>
<path d="M451.8 92.5L451 92.5L450.4 92.5L449.8 92.4L449.2 92.2L448.5 92L448 91.8L447.6 91.5L447.2 91.2L446.8 90.9L446.3 90.5L446 90.1L445.7 89.8L445.3 89.2L445 88.8L444.8 88.2L444.6 87.8L444.5 87.2L444.3 86.5L444.3 85.8L444.3 85L444.4 84.2L444.5 83.5L444.5 82.8L444.5 82L444.4 81.2L444.3 80.5L444.2 80L444.1 79.2L444 78.5L443.9 78L443.9 77.2L443.8 76.5L443.8 75.8L443.8 75L443.8 74.2L443.8 73.5L443.9 72.8L443.9 72L444 71.2L444 70.8L444.1 70L444.2 69.3L444.3 68.8L444.5 68L444.6 67.5L444.8 66.8L444.9 66.2L445 65.8L445.2 65L445.4 64.5L445.6 64L445.8 63.5L446 62.9L446.2 62.4L446.5 61.8L446.8 61.3L447 60.9L447.2 60.4L447.5 60L447.9 59.5L448.2 59L448.5 58.7L448.9 58.2L449.2 57.9L449.7 57.5L450.1 57.2L450.5 57L451.1 56.8L451.8 56.6L452.5 56.6L453.2 56.7L453.8 56.9L454.2 57.1L454.7 57.5L455 57.8L455.5 58.2L455.8 58.6L456 59L456.3 59.5L456.6 60L456.9 60.5L457.1 61L457.3 61.5L457.5 62.2L457.7 62.8L457.8 63.2L458 64L458.1 64.5L458.2 65.2L458.3 65.8L458.4 66.5L458.5 67.2L458.5 67.8L458.6 68.5L458.6 69.2L458.6 70L458.6 70.8L458.6 71.5L458.5 72.2L458.5 72.8L458.4 73.5L458.4 74.2L458.3 75L458.2 75.5L458.1 76.2L458 76.8L457.8 77.5L457.7 78L457.6 78.8L457.5 79.2L457.5 80L457.6 80.5L458 80.9L458.5 81.2L459 81.4L459.5 81.5L460.2 81.7L460.8 81.8L461.5 81.9L462 82L462.8 82.2L463.2 82.4L463.8 82.5L464.3 82.8L464.9 83L465.4 83.2L465.8 83.5L466.2 83.8L466.8 84.2L467.1 84.5L467.5 85L467.8 85.4L467.9 86L468 86.5L467.9 87L467.8 87.6L467.5 88L467.1 88.5L466.8 88.8L466.2 89.2L465.8 89.5L465.4 89.8L464.9 90L464.3 90.2L463.8 90.5L463.2 90.6L462.8 90.8L462 91L461.5 91.1L460.8 91.2L460.2 91.3L459.5 91.4L458.8 91.5L458.2 91.5L457.5 91.6L456.8 91.7L456 91.7L455.5 91.8L454.8 92L454.2 92.1L453.5 92.2L453 92.4L452.2 92.5L451.8 92.5Z" fill="#dcdcdc" stroke="#111" stroke-width="1.4"/>
<path d="M452.2 91.3L451.5 91.3L450.8 91.3L450.2 91.2L449.5 91L449 90.8L448.5 90.5L448 90.2L447.7 90L447.2 89.5L447 89.2L446.6 88.8L446.3 88.2L446.1 87.8L446 87.2L445.8 86.5L445.8 85.8L445.9 85L446 84.2L446 83.8L446.1 83L446.1 82.2L446 81.5L446 81L445.8 80.2L445.7 79.8L445.6 79L445.5 78.5L445.4 77.8L445.3 77L445.2 76.5L445.2 75.8L445.2 75L445.2 74.2L445.2 73.5L445.2 72.8L445.2 72.1L445.3 71.5L445.4 70.8L445.5 70L445.6 69.5L445.7 68.8L445.8 68.2L446 67.6L446.2 67L446.3 66.5L446.5 65.9L446.7 65.2L446.9 64.8L447.1 64.2L447.4 63.8L447.6 63.2L447.9 62.8L448.2 62.2L448.5 61.8L448.8 61.5L449.2 61L449.5 60.7L450 60.3L450.4 60L450.9 59.8L451.5 59.5L452 59.5L452.5 59.5L453.2 59.7L453.7 60L454.1 60.2L454.5 60.7L454.8 61L455.2 61.5L455.5 62L455.7 62.5L455.9 63L456.1 63.5L456.3 64L456.5 64.6L456.7 65.2L456.8 65.8L456.9 66.5L457 67L457.1 67.8L457.2 68.5L457.2 69.2L457.2 70L457.2 70.8L457.2 71.5L457.2 72.2L457.1 73L457.1 73.8L457 74.3L456.9 75L456.8 75.8L456.7 76.2L456.5 77L456.4 77.5L456.2 78L456 78.8L455.9 79.2L455.8 80L455.7 80.5L455.8 81L456.1 81.5L456.5 81.9L457 82.2L457.5 82.3L458.2 82.5L458.8 82.6L459.5 82.8L460 82.8L460.7 83L461.2 83.1L461.8 83.3L462.4 83.5L463 83.7L463.5 84L464 84.2L464.3 84.5L464.8 84.9L465.1 85.2L465.4 85.8L465.5 86.2L465.5 86.8L465.2 87.5L465 87.8L464.6 88.2L464.2 88.5L463.8 88.9L463.2 89.1L462.8 89.4L462.2 89.6L461.7 89.8L461 89.9L460.5 90L459.8 90.2L459.2 90.3L458.5 90.4L457.8 90.4L457 90.5L456.5 90.6L455.8 90.7L455.1 90.8L454.5 90.9L453.8 91L453.2 91.1L452.5 91.2L452.2 91.3Z" fill="none" stroke="#707070" stroke-width="0.6"/>
<path d="M452.8 90.3L452 90.3L451.2 90.3L450.6 90.2L450 90.1L449.5 89.9L449 89.7L448.5 89.3L448.2 89L447.8 88.5L447.5 88.1L447.2 87.5L447.1 87L447 86.3L447 85.9L447.1 85.2L447.2 84.5L447.4 84L447.5 83.4L447.6 82.8L447.7 82L447.6 81.2L447.5 80.8L447.3 80L447.1 79.5L447 79L446.8 78.2L446.7 77.8L446.6 77L446.5 76.5L446.4 75.8L446.4 75L446.4 74.2L446.4 73.5L446.4 72.8L446.4 72L446.5 71.5L446.6 70.8L446.7 70L446.8 69.5L447 68.8L447.1 68.2L447.3 67.8L447.5 67L447.7 66.5L447.9 66L448.1 65.5L448.4 65L448.7 64.5L449 64L449.2 63.7L449.6 63.2L450 62.9L450.5 62.5L451 62.2L451.5 62.1L452.2 62.1L452.8 62.2L453.3 62.5L453.8 62.9L454.1 63.2L454.4 63.8L454.7 64.2L454.9 64.8L455.2 65.2L455.3 65.8L455.5 66.4L455.7 67L455.8 67.5L455.9 68.2L456 69L456 69.5L456 70.2L456 71L456 71.8L456 72.4L456 73L455.9 73.8L455.8 74.5L455.7 75L455.5 75.8L455.4 76.2L455.2 76.9L455.1 77.5L454.9 78L454.7 78.5L454.5 79.1L454.3 79.8L454.1 80.2L454.1 81L454.2 81.7L454.5 82.1L455 82.5L455.4 82.8L456 83L456.5 83.2L457 83.3L457.8 83.4L458.2 83.5L459 83.7L459.5 83.8L460.2 83.9L460.8 84.1L461.2 84.3L461.8 84.5L462.2 84.8L462.8 85.1L463.1 85.5L463.4 86L463.5 86.8L463.2 87.3L462.9 87.8L462.5 88.1L462 88.4L461.5 88.6L461 88.8L460.4 89L459.8 89.2L459.2 89.3L458.5 89.4L457.8 89.5L457.2 89.6L456.5 89.6L455.8 89.7L455.2 89.8L454.5 89.9L454 90L453.2 90.2L452.8 90.3Z" fill="none" stroke="#707070" stroke-width="0.6"/>
<path d="M450.8 80.8L450.2 80.6L449.9 80.2L449.5 79.8L449.2 79.5L448.9 79L448.6 78.5L448.4 78L448.2 77.5L448 76.8L447.9 76.2L447.8 75.5L447.7 75L447.7 74.2L447.7 73.5L447.7 72.8L447.8 72.2L447.8 71.5L447.9 70.8L448 70.2L448.2 69.5L448.4 69L448.5 68.5L448.8 67.9L449 67.4L449.2 66.9L449.5 66.5L449.9 66L450.2 65.6L450.7 65.2L451.2 65L451.8 64.9L452.2 65L452.8 65.3L453.2 65.8L453.5 66.1L453.8 66.5L454 67.1L454.2 67.8L454.4 68.2L454.5 68.9L454.6 69.5L454.7 70.2L454.7 71L454.7 71.8L454.7 72.5L454.6 73.2L454.5 74L454.4 74.5L454.2 75.2L454.1 75.8L454 76.2L453.8 76.8L453.5 77.4L453.2 77.9L453 78.4L452.8 78.8L452.4 79.2L452.1 79.8L451.8 80.1L451.3 80.5L450.9 80.8L450.8 80.8ZM453.2 89.3L452.5 89.4L451.8 89.4L451 89.4L450.4 89.2L449.8 89L449.4 88.8L449 88.4L448.7 88L448.4 87.5L448.2 87L448.1 86.2L448.2 85.5L448.3 85L448.5 84.5L448.8 84L449.1 83.5L449.5 83L449.8 82.7L450.2 82.2L450.5 82L451.2 81.9L451.8 82.2L452.2 82.5L452.7 82.8L453.2 83L453.7 83.2L454.2 83.5L454.8 83.7L455.2 83.9L455.8 84L456.5 84.2L457 84.3L457.8 84.4L458.2 84.5L459 84.7L459.5 84.9L460 85.1L460.5 85.3L461 85.7L461.2 86.1L461.3 86.8L461 87.2L460.7 87.5L460.2 87.8L459.8 88L459.1 88.2L458.5 88.4L457.9 88.5L457.2 88.6L456.5 88.7L456 88.8L455.2 88.9L454.7 89L454 89.1L453.5 89.2L453.2 89.3Z" fill="none" stroke="#707070" stroke-width="0.6"/>
<path d="M451.2 77.1L450.5 77.1L450 76.8L449.8 76.4L449.5 75.9L449.3 75.2L449.2 74.8L449.1 74L449 73.2L449.1 72.5L449.2 71.8L449.2 71.2L449.4 70.5L449.6 70L449.8 69.5L450 69L450.4 68.5L450.8 68.2L451.2 67.9L452 68L452.3 68.2L452.7 68.8L452.9 69.2L453.1 69.8L453.2 70.4L453.3 71L453.4 71.8L453.3 72.5L453.3 73.2L453.2 73.8L453 74.4L452.8 75L452.6 75.5L452.4 76L452 76.5L451.8 76.8L451.2 77.1ZM452.5 88.8L451.8 88.8L451.2 88.7L450.5 88.5L450 88.3L449.7 88L449.3 87.5L449 87L448.9 86.5L449 85.8L449.2 85.2L449.5 84.8L449.8 84.4L450.2 84L450.8 83.8L451.2 83.7L452 83.7L452.5 83.8L453.2 84L453.8 84.2L454.2 84.4L454.8 84.5L455.5 84.8L456 84.9L456.5 85L457.2 85.2L457.8 85.3L458.3 85.5L458.8 85.8L459.2 86.1L459.4 86.8L459 87.1L458.5 87.4L458 87.6L457.4 87.8L456.8 87.9L456.2 88L455.5 88.1L455 88.2L454.2 88.4L453.8 88.5L453 88.7L452.5 88.8Z" fill="none" stroke="#707070" stroke-width="0.6"/>
<ellipse cx="453" cy="87" rx="4.5" ry="3.5" transform="rotate(0 453 87)" fill="#222" fill-opacity="0.5"/>
</g>
<rect x="441.5" y="25.5" width="73" height="73.0" fill="none" stroke="#999" stroke-width="1"/>
<line x1="457.5" y1="25.5" x2="457.5" y2="98.5" stroke="#8a8a8a" stroke-width="1"/>
<line x1="441.5" y1="80.9" x2="514.5" y2="80.9" stroke="#8a8a8a" stroke-width="1"/>
<text x="442.9" y="33.6" font-size="8.5" text-anchor="start" font-weight="normal" fill="#1a1a1a" stroke="#1a1a1a" stroke-width="0.15" >26.9</text>
<text x="513.4" y="33.6" font-size="8.5" text-anchor="end" font-weight="normal" fill="#1a1a1a" stroke="#1a1a1a" stroke-width="0.15" >0.32</text>
<rect x="495.2" y="97.5" width="18.400000000000002" height="2" fill="#fff"/>
<text x="513.4" y="97.7" font-size="8.5" text-anchor="end" font-weight="normal" fill="#1a1a1a" stroke="#1a1a1a" stroke-width="0.15" >2.71</text>
<text x="514.5" y="105.1" font-size="4.2" text-anchor="middle" font-weight="normal" fill="#8a8a8a" >10<tspan dy="-1.6" font-size="2.8">4</tspan></text>
<text x="439.0" y="26.8" font-size="4.2" text-anchor="end" font-weight="normal" fill="#8a8a8a" >10<tspan dy="-1.6" font-size="2.8">4</tspan></text>
<text x="496.17" y="105.1" font-size="4.2" text-anchor="middle" font-weight="normal" fill="#8a8a8a" >10<tspan dy="-1.6" font-size="2.8">3</tspan></text>
<text x="439.0" y="45.129999999999995" font-size="4.2" text-anchor="end" font-weight="normal" fill="#8a8a8a" >10<tspan dy="-1.6" font-size="2.8">3</tspan></text>
<text x="477.84000000000003" y="105.1" font-size="4.2" text-anchor="middle" font-weight="normal" fill="#8a8a8a" >10<tspan dy="-1.6" font-size="2.8">2</tspan></text>
<text x="439.0" y="63.459999999999994" font-size="4.2" text-anchor="end" font-weight="normal" fill="#8a8a8a" >10<tspan dy="-1.6" font-size="2.8">2</tspan></text>
<text x="459.51" y="105.1" font-size="4.2" text-anchor="middle" font-weight="normal" fill="#8a8a8a" >10<tspan dy="-1.6" font-size="2.8">1</tspan></text>
<text x="439.0" y="81.78999999999999" font-size="4.2" text-anchor="end" font-weight="normal" fill="#8a8a8a" >10<tspan dy="-1.6" font-size="2.8">1</tspan></text>
<text x="462.3" y="119.0" font-size="13" text-anchor="start" font-weight="normal" fill="#000" >IFN-<tspan font-family="Liberation Serif" font-style="italic">γ</tspan></text>
<clipPath id="cB1"><rect x="41.5" y="170.5" width="73.0" height="73.0"/></clipPath>
<g clip-path="url(#cB1)">
<path d="M64.1 218.5h1M65.8 217.6h1M60.6 217.6h1M60.6 215.1h1M47.4 203.7h1M65.8 220.0h1M65.4 216.4h1M55.1 202.2h1M60.9 225.9h1M64.7 220.6h1M63.5 215.1h1M60.8 219.5h1M64.7 218.0h1M62.2 220.4h1M63.4 220.4h1M47.8 204.9h1M63.4 219.0h1M65.3 222.0h1M61.0 225.9h1M59.7 226.3h1M65.4 224.4h1M63.6 215.3h1M65.4 215.5h1M61.4 215.8h1M64.6 213.5h1M62.8 222.1h1M56.0 205.5h1M59.2 229.2h1M63.9 215.9h1M62.0 220.2h1M58.4 237.8h1M64.8 219.3h1M61.6 219.1h1M65.0 227.7h1M64.4 220.6h1M58.8 211.6h1M61.8 220.9h1M57.8 236.3h1M66.0 221.4h1M65.6 221.0h1M63.0 228.9h1M60.0 223.1h1M65.2 223.7h1M64.2 215.1h1M62.0 221.0h1M62.8 218.5h1M64.9 217.5h1M56.0 240.9h1M63.6 229.1h1M66.1 219.9h1M65.1 218.1h1M64.7 217.1h1M56.4 206.8h1M60.1 213.3h1M49.4 243.4h1M65.1 214.0h1M64.7 225.5h1M61.3 216.1h1M66.2 224.0h1M65.3 220.0h1M47.0 203.6h1M61.5 213.5h1M64.1 225.9h1M65.3 221.1h1M63.2 224.7h1M65.3 229.8h1M64.2 225.6h1M62.5 224.3h1M61.5 219.8h1M41.6 233.1h1M65.4 223.2h1M63.5 220.8h1M64.8 227.0h1M62.6 235.5h1M61.8 222.9h1M61.2 224.9h1M61.5 211.5h1M61.1 226.7h1M41.8 224.8h1M64.9 218.5h1M63.6 216.0h1M62.4 226.9h1M63.4 217.8h1M59.8 215.6h1M63.8 216.1h1M64.1 213.8h1M61.8 222.3h1M65.8 219.2h1M62.0 219.7h1M61.2 219.4h1M59.0 211.9h1M48.6 200.6h1M65.8 221.2h1M63.9 222.2h1M63.8 223.1h1M59.8 225.8h1M64.9 225.4h1M61.2 213.5h1M64.9 215.4h1M43.3 238.4h1M65.0 228.5h1M65.7 218.7h1M62.9 216.4h1M65.9 220.9h1M64.1 218.9h1M65.2 214.1h1M62.9 216.0h1M63.2 213.9h1M64.9 213.1h1M61.8 221.7h1M65.1 220.6h1M54.4 241.2h1M64.8 217.6h1M59.8 225.2h1M58.8 236.8h1M47.3 242.6h1M63.7 222.8h1M59.6 210.6h1M65.5 217.9h1M59.5 217.9h1M63.6 218.4h1M62.7 224.6h1M62.5 228.2h1M65.0 218.0h1M63.2 217.4h1M61.1 224.1h1M64.9 219.1h1M60.9 220.0h1M63.1 217.5h1M41.9 222.3h1M58.6 237.5h1M61.6 218.2h1M65.0 221.8h1M55.6 242.9h1M45.8 207.3h1M63.6 217.7h1M65.1 217.4h1M43.5 239.0h1M59.5 222.4h1M61.4 213.5h1M65.4 223.2h1M62.2 220.3h1M53.3 241.6h1M46.0 207.4h1M61.0 229.8h1M62.7 223.8h1M64.5 215.6h1M66.0 227.1h1M65.6 219.5h1M63.1 217.9h1M65.8 223.2h1M65.8 219.1h1M56.8 240.2h1M65.5 225.2h1M64.7 215.1h1M64.0 216.0h1" stroke="#888" stroke-width="1"/>
<path d="M67.4 227.6h1M66.7 217.0h1M66.7 222.6h1M63.6 221.4h1M67.3 220.1h1M66.3 216.2h1M71.5 222.1h1M71.0 225.9h1M70.9 227.1h1M64.4 216.8h1M67.0 221.4h1M69.8 217.7h1M72.4 215.8h1M61.5 218.7h1M64.4 218.2h1M74.1 217.5h1M66.5 211.6h1M42.7 210.4h1M67.4 217.8h1M66.6 220.0h1M62.8 217.8h1M65.5 224.1h1M68.4 220.6h1M61.8 220.3h1M71.1 212.6h1M64.7 223.8h1M65.4 221.3h1M64.5 222.8h1M66.2 218.7h1M64.6 223.9h1M60.9 211.4h1M67.5 225.6h1M68.4 215.8h1M69.9 222.9h1M66.3 216.8h1M65.1 226.1h1M65.4 216.9h1M66.0 218.7h1M64.1 219.1h1M68.0 225.2h1M70.0 212.5h1M62.9 221.0h1M62.5 221.3h1M69.1 219.7h1M67.1 221.4h1M67.2 218.1h1M59.8 226.0h1M65.0 225.5h1M69.6 225.1h1M65.4 221.6h1M68.5 220.8h1M71.8 215.8h1M69.8 226.0h1M66.4 220.7h1M66.0 220.0h1M66.7 223.1h1M66.2 223.9h1M68.6 216.0h1M71.6 226.7h1M63.0 228.2h1M70.0 221.7h1M70.2 224.2h1M63.9 221.8h1M69.0 222.2h1M68.8 220.1h1M59.8 224.4h1M44.2 207.0h1M69.5 220.7h1M72.0 218.0h1M68.3 220.4h1M65.7 215.7h1M64.7 219.4h1M68.1 218.3h1M66.9 222.8h1M66.0 217.3h1M65.2 227.1h1M66.9 221.4h1M65.6 221.1h1M64.1 214.4h1M66.4 218.7h1M65.4 220.1h1M72.8 212.5h1M66.8 217.2h1M66.1 212.8h1M72.0 218.5h1M64.9 218.9h1M61.4 219.5h1M67.2 226.1h1M62.4 215.9h1M60.3 213.4h1M72.5 221.8h1M65.0 220.0h1M65.2 215.2h1M63.5 215.0h1M66.7 222.2h1M73.1 222.1h1M67.4 220.7h1M64.7 220.6h1M65.7 217.8h1M70.6 219.8h1M67.4 218.7h1M62.7 218.4h1M66.3 217.3h1M61.6 214.8h1M70.8 221.4h1M70.8 218.2h1M64.5 222.9h1M71.2 214.4h1M66.7 219.1h1M65.4 215.1h1M63.7 219.8h1M63.9 221.6h1M70.7 227.3h1M67.2 218.4h1M67.1 215.6h1M65.5 212.7h1M74.7 213.4h1M70.1 223.3h1M66.6 220.6h1M63.7 217.5h1M66.7 226.1h1M67.7 216.7h1M62.9 217.3h1M42.6 233.4h1M60.7 224.9h1M70.1 221.6h1M66.2 220.0h1M65.8 227.6h1M67.8 222.4h1M43.9 238.9h1M66.2 217.5h1M58.1 238.1h1M65.5 222.7h1M60.4 217.0h1M72.9 222.8h1M65.4 212.5h1M60.9 214.0h1M70.6 233.5h1M72.1 227.9h1M60.4 229.8h1M63.6 215.6h1M65.1 223.9h1M65.7 216.2h1M67.2 219.7h1M71.2 220.3h1M70.1 218.1h1M67.8 223.3h1M65.3 224.5h1M66.9 218.6h1M58.9 210.4h1M66.0 215.4h1M62.8 223.0h1M69.4 219.1h1M63.3 223.0h1M70.1 214.7h1M65.2 214.0h1M63.4 211.9h1M67.5 218.0h1M67.7 216.0h1M62.8 221.9h1M61.1 222.7h1M62.0 211.1h1M64.6 223.2h1M64.6 217.9h1M58.7 235.8h1M66.1 216.2h1M45.3 208.6h1M66.3 211.7h1M73.9 210.7h1M66.7 214.6h1M67.8 219.6h1M64.9 214.0h1M68.1 222.3h1M62.8 219.1h1M63.8 215.1h1M62.7 224.8h1M61.6 214.4h1M67.8 220.0h1M66.8 228.3h1M65.0 214.8h1M66.2 222.9h1M69.7 216.6h1M67.7 222.1h1M72.0 213.9h1M67.5 217.8h1M70.3 214.5h1M70.5 225.5h1M69.7 211.8h1M69.0 219.3h1M54.1 203.5h1M67.2 220.2h1M69.3 225.8h1M71.8 221.0h1M61.6 208.5h1M68.2 219.7h1M68.9 218.9h1M68.3 218.3h1M64.8 218.3h1M70.1 232.1h1M71.3 212.1h1M59.4 219.1h1M66.9 217.3h1M61.9 224.2h1M66.7 226.9h1M67.2 233.6h1M67.0 217.3h1M70.1 219.3h1M53.2 241.6h1M59.7 219.1h1M71.8 227.0h1M59.4 218.9h1M65.0 223.5h1M69.9 219.3h1M65.8 216.6h1M60.9 222.2h1M62.0 218.1h1M69.4 224.6h1M66.3 217.9h1M64.2 219.5h1M64.2 218.9h1M64.0 217.7h1M67.5 222.2h1M70.6 222.0h1M66.2 217.5h1" stroke="#a0a0a0" stroke-width="1"/>
<path d="M72.5 219.4h1M67.3 215.5h1M69.2 218.8h1M66.5 224.6h1M70.1 219.8h1M69.5 217.6h1M66.3 215.4h1M70.4 212.3h1M67.3 213.8h1M71.4 224.0h1M71.4 218.4h1M66.8 219.0h1M67.6 219.9h1M71.4 225.7h1M66.4 214.3h1M67.7 214.0h1M70.5 212.2h1M67.8 223.5h1M70.0 221.1h1M67.1 224.8h1M66.9 218.8h1M70.7 221.4h1M68.9 222.7h1M68.7 207.7h1M72.2 221.2h1M72.1 220.9h1M66.0 216.0h1M67.7 225.2h1M66.4 217.2h1M72.2 219.9h1M68.7 221.7h1M68.6 217.5h1M71.2 223.3h1M69.7 211.5h1M67.7 218.3h1M71.1 228.8h1M65.5 213.1h1M66.8 218.7h1M69.5 216.6h1M69.2 216.3h1M68.5 217.8h1M71.8 213.0h1M70.7 219.9h1M66.7 220.3h1M68.8 220.3h1M68.2 218.6h1M66.0 216.6h1M69.9 218.0h1M73.4 218.2h1M70.6 221.0h1M65.7 212.9h1M67.5 232.3h1M68.7 211.9h1M67.7 221.1h1M68.9 215.1h1M77.0 224.2h1M67.1 222.8h1M71.6 217.7h1M67.3 218.3h1M72.7 216.6h1M67.3 224.6h1M67.9 215.6h1M68.8 211.3h1M66.4 224.8h1M66.9 220.2h1M68.4 220.9h1M69.6 225.2h1M66.5 231.2h1M69.8 227.7h1M66.8 216.2h1M69.0 223.5h1M67.3 218.2h1M67.3 221.7h1M68.8 224.9h1M66.5 221.9h1M70.7 226.3h1M66.6 215.9h1M66.4 216.6h1M67.4 226.6h1M69.1 220.8h1M67.3 219.2h1M68.8 226.7h1M67.7 216.8h1M69.0 217.3h1M70.1 217.4h1M68.2 210.5h1M68.0 216.0h1M68.8 217.9h1M67.9 225.6h1M66.5 224.1h1M66.9 222.2h1M70.1 224.0h1M69.3 213.4h1M67.2 219.5h1M66.5 214.3h1M67.9 219.8h1M76.3 214.8h1M69.9 217.5h1M66.4 222.3h1M69.8 213.3h1" stroke="#bcbcbc" stroke-width="1"/>
<path d="M51.8 241.3L51 241.4L50.2 241.4L49.5 241.4L48.8 241.2L48.2 241.1L47.8 241L47.2 240.8L46.7 240.5L46.2 240.2L45.8 240L45.2 239.6L44.9 239.2L44.5 238.9L44.2 238.5L43.8 238L43.5 237.6L43.2 237.1L43 236.6L42.8 236L42.6 235.5L42.5 234.9L42.4 234.2L42.4 233.5L42.4 232.8L42.4 232L42.5 231.2L42.5 230.8L42.5 230L42.5 229.5L42.4 228.8L42.3 228L42.2 227.5L42.1 226.8L42 226L42 225.5L41.9 224.8L41.9 224L41.9 223.2L41.9 222.5L41.9 221.8L41.9 221L41.9 220.2L42 219.5L42 219L42.1 218.2L42.2 217.5L42.3 217L42.4 216.2L42.5 215.7L42.6 215L42.8 214.5L42.9 213.8L43.1 213.2L43.2 212.6L43.4 212L43.6 211.5L43.8 211L44 210.4L44.2 209.8L44.5 209.2L44.7 208.8L45 208.2L45.2 207.8L45.5 207.4L45.8 207L46.1 206.5L46.5 206L46.8 205.7L47.1 205.2L47.5 204.9L48 204.5L48.3 204.2L48.8 204L49.3 203.8L50 203.5L50.5 203.4L51.2 203.4L52 203.5L52.5 203.6L53 203.8L53.5 204.1L54 204.4L54.5 204.8L54.8 205L55.2 205.5L55.5 205.8L55.8 206.2L56.2 206.8L56.5 207.2L56.8 207.6L57 208.1L57.2 208.6L57.5 209.1L57.8 209.7L58 210.2L58.1 210.8L58.3 211.2L58.5 211.9L58.7 212.5L58.8 213L59 213.8L59.1 214.2L59.2 215L59.3 215.5L59.4 216.2L59.5 216.8L59.6 217.5L59.6 218.2L59.7 219L59.7 219.8L59.7 220.5L59.7 221.2L59.7 222L59.7 222.8L59.7 223.5L59.6 224.2L59.5 225L59.5 225.5L59.4 226.2L59.2 227L59.2 227.5L59 228.2L58.9 228.8L58.8 229.5L58.7 230L58.6 230.8L58.5 231.3L58.5 232L58.5 232.8L58.4 233.5L58.4 234.2L58.2 234.9L58.1 235.5L58 236L57.8 236.5L57.5 237.1L57.2 237.5L56.9 238L56.6 238.5L56.2 238.9L55.8 239.2L55.5 239.6L55 239.9L54.5 240.2L54.1 240.5L53.5 240.8L53 241L52.5 241.1L51.9 241.2L51.8 241.3Z" fill="#b8b8b8" stroke="#888" stroke-width="0.5"/>
<path d="M50.4 204.7h1M45.3 222.7h1M56.8 221.3h1M57.7 221.9h1M45.7 208.1h1M56.0 223.0h1M55.3 212.1h1M56.3 211.6h1M51.8 240.4h1M56.5 221.8h1M45.3 234.6h1M42.1 221.6h1M53.7 205.1h1M45.9 215.4h1M43.7 218.5h1M49.4 229.9h1M49.0 240.2h1M43.5 233.7h1M48.6 208.0h1M46.5 213.1h1M52.7 238.5h1M47.7 209.8h1M50.3 204.8h1M57.3 237.2h1M48.9 209.0h1M45.0 227.9h1M42.2 226.6h1M45.5 218.8h1M46.5 225.9h1M57.1 227.8h1M46.2 224.5h1M58.7 230.1h1M56.6 216.8h1M49.9 239.9h1M45.3 230.1h1M47.3 238.9h1M49.4 207.5h1M58.3 218.9h1M43.2 230.7h1M42.2 225.0h1M48.0 211.2h1M44.3 236.8h1M51.4 206.3h1M45.0 221.6h1M55.5 235.9h1M53.4 231.3h1M45.9 209.9h1M45.2 209.5h1M45.0 221.1h1M58.3 213.4h1" stroke="#555" stroke-width="1"/>
<path d="M51.2 207.0h1M59.3 226.0h1M54.9 208.8h1M57.3 215.1h1M53.2 230.9h1M48.4 208.3h1M54.9 207.6h1M44.6 237.3h1M55.7 210.1h1M45.7 214.2h1M55.8 235.4h1M55.8 225.5h1M52.0 206.3h1M57.2 211.5h1M56.2 231.0h1M54.3 207.6h1M43.5 212.9h1M55.1 212.9h1M52.7 207.1h1M56.9 234.8h1M46.1 215.0h1M46.6 212.1h1M49.2 229.9h1M58.2 231.1h1M49.8 208.2h1M43.3 213.2h1M57.0 230.7h1M54.9 207.2h1M44.5 222.4h1M45.5 225.1h1M42.7 222.5h1M54.1 229.6h1M44.3 223.1h1M53.0 229.1h1M56.3 211.2h1M52.2 241.3h1M48.2 230.7h1M45.9 228.3h1M44.0 232.0h1M42.9 230.7h1M46.2 221.3h1M49.8 207.4h1M45.6 219.9h1M56.4 236.6h1M48.9 228.1h1M45.0 216.3h1M47.5 206.1h1M50.2 239.2h1M49.2 208.4h1M44.9 226.8h1M47.3 230.1h1M57.2 211.4h1M59.6 222.7h1M57.4 235.9h1M55.0 209.4h1M56.6 223.0h1M43.8 235.0h1M55.4 210.1h1M46.4 211.6h1M43.2 223.2h1M59.3 224.6h1" stroke="#777" stroke-width="1"/>
<path d="M45.5 217.1h1M55.7 214.2h1M48.4 206.8h1M58.0 226.0h1M43.1 232.5h1M56.6 229.8h1M43.3 214.4h1M55.4 237.4h1M43.1 221.8h1M58.5 213.1h1M59.6 223.7h1M54.3 211.2h1M48.6 229.4h1M50.4 205.9h1M45.9 229.4h1M46.5 225.0h1M48.1 239.0h1M46.1 215.3h1M48.1 230.2h1M43.7 227.0h1M59.2 227.6h1M44.2 237.8h1M54.1 240.0h1M51.1 209.0h1M50.1 204.9h1M44.5 238.3h1M42.7 233.3h1M46.2 215.6h1M56.7 227.7h1M44.0 223.7h1M47.4 230.7h1M47.6 210.0h1M43.5 212.5h1M56.5 231.9h1M44.7 220.8h1M44.1 220.7h1M57.1 214.1h1M51.2 207.6h1M53.9 208.0h1M43.2 227.6h1M53.1 206.8h1M58.2 212.2h1M55.6 239.3h1M57.3 220.0h1M43.6 221.1h1M52.4 205.0h1M55.1 228.0h1M45.2 230.7h1M46.0 215.9h1" stroke="#999" stroke-width="1"/>
<path d="M50.8 238.5L50 238.5L49.5 238.5L48.8 238.3L48.2 238.1L47.8 237.9L47.2 237.6L46.9 237.2L46.5 236.9L46.2 236.5L45.9 236L45.7 235.5L45.6 234.8L45.6 234L45.8 233.3L46 232.8L46.2 232.2L46.5 231.9L46.8 231.5L47.2 231.1L47.7 230.8L48 230.5L48.5 230.1L49 229.8L49.4 229.5L49.7 229L49.5 228.4L49.2 228L48.8 227.5L48.5 227.1L48.2 226.7L47.9 226.2L47.7 225.8L47.4 225.2L47.2 224.8L47 224.2L46.8 223.5L46.6 223L46.5 222.3L46.4 221.8L46.3 221L46.2 220.5L46.2 219.8L46.1 219L46.1 218.2L46.2 217.5L46.2 216.8L46.3 216.2L46.4 215.5L46.5 214.9L46.7 214.2L46.8 213.8L47 213.1L47.2 212.5L47.4 212L47.7 211.5L48 211L48.2 210.6L48.5 210.2L48.9 209.8L49.2 209.5L49.8 209.1L50.2 208.9L50.8 208.8L51.5 208.7L52 208.8L52.5 209.1L53 209.4L53.4 209.8L53.8 210.1L54.1 210.5L54.4 211L54.7 211.5L54.9 212L55.1 212.5L55.3 213L55.5 213.5L55.7 214.2L55.8 214.8L56 215.5L56 216L56.1 216.8L56.2 217.5L56.2 218.2L56.2 219L56.2 219.8L56.1 220.5L56 221.2L56 221.8L55.8 222.5L55.7 223L55.5 223.7L55.3 224.2L55.1 224.8L54.9 225.2L54.7 225.8L54.4 226.2L54.1 226.8L53.8 227.2L53.5 227.5L53 228L52.7 228.2L52.3 228.8L52.1 229.2L52.4 229.8L52.8 230.2L53.1 230.5L53.5 230.9L53.8 231.2L54.2 231.8L54.5 232.2L54.7 232.8L54.9 233.2L55 233.8L55.1 234.5L55 235L54.8 235.8L54.6 236.2L54.2 236.7L54 237L53.5 237.5L53.1 237.8L52.6 238L52 238.2L51.5 238.4L50.9 238.5L50.8 238.5Z" fill="#111"/>
<path d="M51.8 223.8L51 223.9L50.4 223.8L50 223.4L49.6 223L49.3 222.5L49.1 222L48.9 221.5L48.7 221L48.6 220.2L48.5 219.8L48.4 219L48.4 218.2L48.5 217.5L48.5 217L48.6 216.2L48.8 215.8L49 215.1L49.2 214.6L49.5 214.1L49.8 213.8L50.2 213.3L50.8 213.1L51.5 213L52 213.2L52.5 213.6L52.8 214L53.1 214.5L53.3 215L53.5 215.5L53.7 216.2L53.8 216.8L53.9 217.5L54 218.2L54 219L53.9 219.8L53.8 220.5L53.7 221L53.5 221.5L53.2 222.2L53 222.6L52.8 223L52.3 223.5L51.9 223.8L51.8 223.8ZM51.2 236.6L50.5 236.7L49.8 236.7L49.2 236.5L48.7 236.2L48.2 235.9L48 235.5L47.8 235L47.7 234.2L47.8 233.8L48.1 233.2L48.5 232.8L48.9 232.5L49.4 232.2L50 232.1L50.8 232.1L51.3 232.2L51.8 232.5L52.2 232.9L52.6 233.2L52.8 233.8L52.9 234.5L52.8 235.2L52.5 235.7L52.2 236L51.8 236.4L51.2 236.6Z" fill="#7a7a7a"/>
<path d="M51.5 222.1L50.8 222L50.4 221.8L50 221.2L49.8 220.8L49.6 220.2L49.5 219.8L49.4 219L49.3 218.2L49.4 217.5L49.5 217L49.7 216.2L50 215.8L50.2 215.3L50.6 215L51.2 214.8L51.8 215L52.2 215.5L52.5 215.9L52.8 216.5L52.9 217L53 217.6L53 218.2L53 219L53 219.5L52.8 220.2L52.6 220.8L52.4 221.2L52 221.7L51.6 222L51.5 222.1ZM51 235.8L50.2 236L49.5 235.8L49 235.5L48.8 235.1L48.6 234.5L48.8 233.8L49 233.4L49.5 233.1L50 232.9L50.8 233L51.2 233.1L51.7 233.5L52 234L52.1 234.5L51.9 235L51.6 235.5L51.2 235.8L51 235.8Z" fill="#c8c8c8"/>
<rect x="54.5" y="230.5" width="23" height="5.4" rx="2.7" fill="#f2f2f2" stroke="#4a4a4a" stroke-width="0.8"/><rect x="58.0" y="231.958" width="17.4" height="2.4840000000000004" rx="1.2420000000000002" fill="none" stroke="#8a8a8a" stroke-width="0.5"/>
</g>
<rect x="41.5" y="170.5" width="73" height="73.0" fill="none" stroke="#999" stroke-width="1"/>
<line x1="59.5" y1="170.5" x2="59.5" y2="243.5" stroke="#8a8a8a" stroke-width="1"/>
<line x1="41.5" y1="228.6" x2="114.5" y2="228.6" stroke="#8a8a8a" stroke-width="1"/>
<text x="42.9" y="178.6" font-size="8.5" text-anchor="start" font-weight="normal" fill="#1a1a1a" stroke="#1a1a1a" stroke-width="0.15" >62</text>
<text x="113.4" y="178.6" font-size="8.5" text-anchor="end" font-weight="normal" fill="#1a1a1a" stroke="#1a1a1a" stroke-width="0.15" >2.56</text>
<rect x="95.2" y="242.5" width="18.400000000000002" height="2" fill="#fff"/>
<text x="113.4" y="242.4" font-size="8.5" text-anchor="end" font-weight="normal" fill="#1a1a1a" stroke="#1a1a1a" stroke-width="0.15" >5.95</text>
<text x="114.5" y="250.1" font-size="4.2" text-anchor="middle" font-weight="normal" fill="#8a8a8a" >10<tspan dy="-1.6" font-size="2.8">4</tspan></text>
<text x="39.0" y="171.8" font-size="4.2" text-anchor="end" font-weight="normal" fill="#8a8a8a" >10<tspan dy="-1.6" font-size="2.8">4</tspan></text>
<text x="96.17" y="250.1" font-size="4.2" text-anchor="middle" font-weight="normal" fill="#8a8a8a" >10<tspan dy="-1.6" font-size="2.8">3</tspan></text>
<text x="39.0" y="190.13" font-size="4.2" text-anchor="end" font-weight="normal" fill="#8a8a8a" >10<tspan dy="-1.6" font-size="2.8">3</tspan></text>
<text x="77.84" y="250.1" font-size="4.2" text-anchor="middle" font-weight="normal" fill="#8a8a8a" >10<tspan dy="-1.6" font-size="2.8">2</tspan></text>
<text x="39.0" y="208.46" font-size="4.2" text-anchor="end" font-weight="normal" fill="#8a8a8a" >10<tspan dy="-1.6" font-size="2.8">2</tspan></text>
<text x="59.510000000000005" y="250.1" font-size="4.2" text-anchor="middle" font-weight="normal" fill="#8a8a8a" >10<tspan dy="-1.6" font-size="2.8">1</tspan></text>
<text x="39.0" y="226.79000000000002" font-size="4.2" text-anchor="end" font-weight="normal" fill="#8a8a8a" >10<tspan dy="-1.6" font-size="2.8">1</tspan></text>
<text x="58.1" y="263.5" font-size="13" text-anchor="start" font-weight="normal" fill="#000" >CXCL8</text>
<text x="23.4" y="207.2" font-size="12.6" text-anchor="middle" font-weight="normal" fill="#000" transform="rotate(-90 23.4 207.2)" dominant-baseline="central">CD94</text>
<clipPath id="cB2"><rect x="136.5" y="170.5" width="73.0" height="73.0"/></clipPath>
<g clip-path="url(#cB2)">
<path d="M161.8 221.0h1M162.4 226.8h1M160.5 218.8h1M160.6 216.3h1M158.1 224.1h1M161.7 219.2h1M156.7 212.7h1M162.2 219.4h1M158.0 213.5h1M162.9 216.9h1M138.4 240.5h1M162.0 227.6h1M161.0 219.5h1M158.1 218.2h1M156.0 213.8h1M159.0 221.3h1M159.7 218.4h1M159.6 227.4h1M161.8 212.6h1M157.0 212.2h1M161.4 217.0h1M162.5 225.1h1M160.0 226.1h1M157.9 218.8h1M159.0 222.2h1M156.4 213.0h1M159.8 220.4h1M161.6 222.0h1M162.9 217.4h1M160.0 222.4h1M158.2 224.2h1M161.0 221.8h1M160.3 215.3h1M159.5 219.5h1M161.2 225.3h1M159.7 216.7h1M160.3 216.8h1M161.3 216.6h1M162.8 224.1h1M158.7 226.9h1M159.5 222.9h1M163.3 224.6h1M152.6 204.5h1M156.4 231.6h1M157.8 227.3h1M159.1 219.8h1M159.9 227.8h1M161.7 226.3h1M163.8 226.3h1M160.3 224.0h1M157.2 216.6h1M160.3 217.9h1M161.7 225.9h1M160.7 215.8h1M162.5 225.8h1M160.6 214.1h1M160.5 230.4h1M159.9 228.2h1M160.4 222.9h1M161.6 217.0h1M162.7 229.1h1M153.9 206.5h1M158.3 226.0h1M158.6 225.7h1M157.7 226.0h1M163.1 217.4h1M160.5 213.8h1M163.0 223.5h1M160.2 213.6h1M158.2 215.0h1M162.5 215.1h1M162.5 217.0h1M160.8 227.6h1M163.8 224.6h1M160.6 224.2h1M162.5 217.5h1M160.0 212.9h1M159.1 225.4h1M163.7 224.6h1M160.3 221.3h1M160.9 226.0h1M160.7 218.4h1M137.5 208.7h1M163.7 231.9h1M161.4 224.6h1M163.6 220.1h1M160.7 219.6h1M158.8 213.8h1M158.8 218.5h1M161.4 220.5h1M158.2 215.7h1M162.1 220.0h1M162.9 220.8h1M160.4 223.6h1M154.0 203.2h1M152.0 204.9h1M162.0 220.0h1M162.3 224.7h1M161.4 219.1h1M160.6 216.7h1M138.7 207.8h1M160.1 218.0h1M160.3 219.9h1M160.1 219.1h1M160.6 218.2h1M160.0 218.2h1M156.7 218.3h1M158.2 224.6h1M161.9 220.0h1M158.1 219.0h1M159.8 221.7h1M163.0 227.7h1M160.6 222.3h1M138.7 207.1h1M159.3 220.7h1M159.1 222.5h1M162.7 222.8h1M161.1 228.2h1M163.9 222.0h1M161.3 215.7h1M160.5 218.5h1M157.8 232.1h1M162.2 213.6h1M160.5 221.4h1M162.2 222.0h1M149.2 202.7h1M163.4 221.5h1M159.4 222.9h1M161.9 221.3h1M161.2 215.4h1M160.3 219.2h1M159.3 225.7h1M157.8 218.5h1M160.2 220.0h1M157.1 225.1h1M161.6 217.5h1M157.6 221.0h1M157.7 223.9h1M161.8 227.7h1M163.7 223.2h1M157.9 221.9h1M157.4 223.6h1M158.7 216.1h1M158.8 224.3h1M160.8 216.3h1M136.9 241.6h1M160.9 219.0h1M137.4 212.9h1M159.0 230.7h1M157.5 218.4h1M161.0 217.6h1M157.2 212.5h1M160.4 220.6h1M160.2 223.7h1M158.8 223.1h1M163.2 226.3h1M163.9 230.7h1M163.1 222.0h1M157.3 222.5h1M158.0 222.3h1M163.2 219.5h1M159.0 217.5h1M162.8 223.9h1M162.0 216.1h1M161.6 218.9h1M160.0 213.9h1M157.1 214.1h1M160.6 222.3h1M162.2 217.3h1M163.0 218.2h1M158.2 220.0h1M160.6 219.3h1M161.8 230.7h1M160.9 223.2h1M159.1 224.6h1M161.8 219.3h1M158.2 228.3h1M162.9 216.0h1M160.1 231.8h1M159.1 214.6h1M157.9 217.9h1M161.4 223.4h1M162.2 227.0h1M156.1 209.0h1M164.1 224.5h1M161.8 216.2h1M162.2 218.4h1M157.4 218.2h1M156.6 228.7h1M158.6 227.6h1" stroke="#6a6a6a" stroke-width="1"/>
<path d="M145.7 202.1h1M171.2 224.0h1M168.6 217.4h1M165.1 218.9h1M157.5 225.6h1M160.5 217.9h1M161.8 218.5h1M159.0 215.9h1M160.2 212.1h1M164.6 229.5h1M164.7 220.8h1M161.2 215.2h1M161.1 221.5h1M163.8 218.8h1M168.2 223.3h1M166.1 213.4h1M161.9 221.2h1M163.8 217.5h1M164.9 222.5h1M163.7 213.6h1M164.7 220.2h1M158.0 210.1h1M161.3 220.3h1M171.2 220.8h1M164.0 223.6h1M163.6 213.5h1M161.0 224.7h1M165.1 223.3h1M163.2 221.2h1M167.2 231.2h1M161.0 223.9h1M161.1 226.0h1M165.4 220.2h1M163.7 216.3h1M163.7 217.2h1M167.3 217.1h1M158.5 218.2h1M162.2 216.1h1M158.9 218.9h1M171.4 218.4h1M161.1 220.9h1M155.8 213.0h1M165.0 217.8h1M174.2 224.4h1M167.5 223.9h1M165.6 213.7h1M160.7 224.1h1M165.7 216.2h1M162.8 220.6h1M164.6 211.1h1M160.1 219.2h1M161.6 219.4h1M161.6 220.5h1M161.8 217.9h1M163.4 227.0h1M162.6 220.0h1M158.8 218.7h1M163.7 219.4h1M165.8 218.9h1M170.6 214.3h1M164.8 223.1h1M160.7 219.4h1M165.5 227.7h1M165.0 226.4h1M160.2 218.6h1M163.3 218.7h1M154.0 239.8h1M160.2 217.8h1M157.1 223.6h1M160.9 222.3h1M160.8 217.0h1M147.9 201.8h1M171.1 223.8h1M164.7 220.2h1M162.2 217.8h1M164.9 214.8h1M163.0 220.7h1M163.8 211.9h1M159.7 216.6h1M168.2 222.6h1M159.8 219.5h1M161.0 215.8h1M163.2 220.5h1M161.6 220.2h1M164.7 221.2h1M161.5 223.8h1M161.9 224.8h1M165.6 214.1h1M162.2 217.4h1M162.4 222.7h1M165.5 219.5h1M162.3 221.9h1M164.9 222.3h1M163.0 215.0h1M157.9 219.7h1M164.1 216.2h1M159.1 226.6h1M170.0 212.3h1M163.9 221.0h1M169.1 230.4h1M164.0 228.0h1M159.5 222.3h1M161.8 222.4h1M166.9 223.3h1M159.3 227.1h1M165.4 223.8h1M149.6 243.3h1M163.9 224.1h1M136.6 217.7h1M162.6 216.6h1M165.9 219.2h1M159.1 220.9h1M166.1 228.5h1M159.8 222.3h1M147.1 200.6h1M161.9 226.0h1M162.0 222.5h1M165.9 223.4h1M165.5 216.3h1M169.6 211.9h1M164.1 218.7h1M173.1 215.7h1M169.0 216.2h1M159.8 225.7h1M156.9 224.6h1M165.1 218.2h1M161.5 218.9h1M163.2 226.9h1M163.3 221.8h1M157.3 216.3h1M165.8 214.0h1M161.7 214.7h1M164.1 221.7h1M158.1 217.7h1M157.2 215.3h1M160.4 217.0h1M163.4 215.9h1M166.8 209.5h1M160.0 231.0h1M162.6 211.9h1M166.0 224.8h1M163.1 215.8h1M159.8 212.9h1M165.3 223.2h1M155.3 242.9h1M163.5 213.5h1M156.4 216.7h1M162.5 228.9h1M170.2 223.8h1M164.1 215.9h1M167.3 223.9h1M165.5 219.1h1M164.2 219.3h1M136.5 233.2h1M164.0 227.6h1M156.9 228.4h1M160.3 221.0h1M157.8 221.0h1M152.3 203.5h1M164.7 214.2h1M163.3 222.8h1M157.7 216.7h1M165.4 221.2h1M169.5 222.4h1M166.1 221.8h1M169.8 226.2h1M162.8 216.5h1M169.0 217.2h1M158.3 216.6h1M163.0 218.6h1M159.7 216.5h1M148.5 201.4h1M161.6 224.1h1M157.4 222.0h1M169.3 214.4h1M160.6 223.2h1M163.9 216.8h1M160.1 223.4h1M163.4 213.1h1M163.7 217.9h1M164.2 218.6h1M166.3 224.5h1M166.7 229.2h1M165.3 217.8h1M169.1 212.1h1M160.0 214.5h1M160.8 211.5h1M137.0 241.7h1M164.9 217.9h1M159.3 225.5h1M166.4 224.0h1M170.4 224.9h1M162.9 226.2h1M160.3 216.4h1M162.9 228.0h1M160.6 229.8h1M164.3 220.2h1M157.5 216.9h1M158.3 212.7h1M168.4 213.0h1M152.5 206.4h1M169.0 220.0h1M164.1 221.9h1M165.0 228.2h1M165.0 220.6h1M161.0 224.9h1M164.1 224.1h1M157.0 223.1h1M160.9 225.6h1M162.6 219.7h1M157.2 226.7h1M163.8 217.9h1M163.5 219.5h1M163.1 223.3h1M162.5 223.0h1M162.4 225.7h1M162.7 215.7h1M158.2 222.0h1M161.3 223.6h1M160.2 209.1h1M159.9 223.0h1M158.4 222.2h1M164.7 223.4h1M159.3 220.6h1M161.2 221.3h1M163.3 210.8h1M162.9 227.9h1M169.0 225.6h1M157.3 221.3h1M162.8 216.4h1M167.4 228.0h1M164.1 210.5h1M161.2 223.7h1M159.6 217.1h1M166.2 217.7h1M152.2 205.2h1M138.2 241.4h1M166.0 218.3h1M157.0 223.4h1M157.5 223.0h1M161.2 213.5h1M164.3 220.3h1M158.8 216.0h1M159.7 214.5h1M157.4 221.9h1M163.7 223.3h1M166.1 216.1h1M160.2 218.6h1M167.0 216.6h1M159.4 216.7h1" stroke="#8c8c8c" stroke-width="1"/>
<path d="M165.4 220.4h1M164.9 219.1h1M166.4 224.7h1M171.3 219.3h1M163.8 219.5h1M170.8 215.7h1M169.3 219.6h1M167.5 223.2h1M166.4 219.4h1M165.0 214.2h1M167.3 215.4h1M168.0 221.1h1M169.2 220.4h1M165.9 218.9h1M165.7 227.4h1M163.9 216.4h1M165.0 214.7h1M172.3 216.7h1M167.3 216.5h1M167.2 217.0h1M170.7 222.0h1M167.6 217.9h1M165.1 228.8h1M164.8 221.9h1M164.2 223.9h1M165.0 226.4h1M168.6 221.8h1M144.2 193.9h1M168.8 225.5h1M163.4 217.0h1M164.7 220.7h1M173.4 219.1h1M164.0 221.8h1M164.3 223.9h1M164.4 230.6h1M171.3 221.0h1M164.2 228.6h1M166.7 220.1h1M166.0 214.9h1M176.7 225.1h1M166.7 225.6h1M166.6 222.0h1M165.7 216.9h1M168.7 222.0h1M164.0 220.9h1M164.8 222.0h1M165.0 227.0h1M164.6 218.0h1M164.9 217.3h1M169.7 222.5h1M164.6 218.1h1M166.4 221.4h1M165.7 217.3h1M167.3 223.9h1M167.5 231.4h1M164.0 221.0h1M168.2 220.9h1M166.3 216.3h1M167.6 214.1h1M167.6 221.2h1M165.8 217.2h1M169.0 222.0h1M165.8 219.1h1M168.3 221.3h1M170.1 219.3h1M169.6 225.4h1M164.1 213.2h1M164.0 216.8h1M168.2 227.5h1M164.9 220.0h1M165.6 219.5h1M166.0 214.4h1M166.5 224.1h1M167.9 215.1h1M165.3 213.6h1M164.2 222.1h1M172.0 225.4h1M166.6 219.6h1M165.2 221.2h1M166.0 212.9h1" stroke="#b0b0b0" stroke-width="1"/>
<path d="M146.2 243.5L145.5 243.5L145 243.5L144.2 243.4L143.5 243.3L143 243.1L142.5 243L141.9 242.8L141.3 242.5L140.9 242.2L140.5 242L140 241.7L139.5 241.3L139.2 241L138.8 240.5L138.5 240.1L138.2 239.8L137.9 239.2L137.7 238.8L137.5 238.2L137.3 237.5L137.2 237L137.1 236.2L137.1 235.5L137.1 234.8L137.1 234L137.1 233.2L137.1 232.5L137.1 231.8L137 231L137 230.5L136.8 229.8L136.7 229.2L136.6 228.5L136.5 227.8L136.5 227.2L136.5 226.5L136.5 225.8L136.5 225L136.5 224.2L136.5 223.5L136.5 222.8L136.5 222L136.5 221.2L136.5 220.5L136.5 219.8L136.5 219L136.5 218.2L136.5 217.5L136.5 216.8L136.5 216.2L136.6 215.5L136.8 214.9L136.9 214.2L137 213.7L137.2 213L137.3 212.5L137.5 211.9L137.7 211.2L137.9 210.8L138.1 210.2L138.3 209.8L138.5 209.2L138.8 208.7L139 208.2L139.2 207.7L139.5 207.2L139.8 206.8L140.1 206.2L140.5 205.8L140.8 205.4L141.1 205L141.5 204.6L141.9 204.2L142.2 203.9L142.8 203.5L143.1 203.2L143.5 203L144 202.8L144.7 202.5L145.2 202.3L145.8 202.2L146.5 202.2L147.2 202.2L147.8 202.3L148.3 202.5L149 202.8L149.5 203L149.9 203.2L150.3 203.5L150.8 203.9L151.2 204.2L151.5 204.6L151.9 205L152.2 205.4L152.5 205.8L152.9 206.2L153.2 206.8L153.5 207.2L153.8 207.6L154 208L154.2 208.5L154.5 209L154.8 209.6L155 210.2L155.2 210.8L155.4 211.2L155.6 211.8L155.8 212.3L155.9 213L156.1 213.5L156.2 214.2L156.4 214.8L156.5 215.3L156.6 216L156.8 216.7L156.8 217.2L156.9 218L157 218.6L157.1 219.2L157.1 220L157.2 220.8L157.2 221.5L157.2 222.2L157.2 223L157.2 223.8L157.2 224.5L157.2 225.2L157.1 226L157.1 226.8L157 227.5L157 228L156.9 228.8L156.9 229.5L156.8 230.2L156.8 231L156.7 231.5L156.7 232.2L156.5 233L156.4 233.5L156.3 234.2L156.1 234.8L155.9 235.2L155.7 235.8L155.5 236.3L155.2 236.8L155 237.3L154.7 237.8L154.4 238.2L154.1 238.8L153.8 239.2L153.5 239.5L153.1 240L152.8 240.3L152.3 240.8L152 241L151.5 241.4L151.1 241.8L150.7 242L150.2 242.3L149.8 242.6L149.2 242.8L148.7 243L148 243.2L147.5 243.4L146.8 243.5L146.2 243.5Z" fill="#b8b8b8" stroke="#888" stroke-width="0.5"/>
<path d="M150.1 238.8h1M155.2 218.3h1M148.8 242.4h1M139.8 240.7h1M153.3 214.9h1M149.8 242.3h1M154.2 226.8h1M147.5 241.3h1M148.6 207.5h1M140.7 208.7h1M145.1 241.7h1M154.8 237.8h1M150.3 242.6h1M138.9 225.5h1M140.0 222.0h1M156.6 230.0h1M140.2 223.7h1M149.8 205.1h1M139.7 232.0h1M142.5 207.0h1M154.2 236.6h1M136.5 222.2h1M143.9 207.6h1M153.9 234.9h1M153.7 210.0h1M140.0 229.2h1M152.6 235.8h1M154.3 234.1h1M136.8 226.3h1M140.5 228.4h1M138.7 220.7h1M151.6 213.0h1M153.6 230.0h1M151.9 210.3h1M156.6 228.2h1M144.8 242.0h1M139.5 225.3h1M154.8 218.6h1M140.4 241.4h1M144.5 205.2h1M154.2 229.8h1M139.5 213.4h1M136.6 227.3h1M150.5 242.6h1M139.8 209.6h1M138.0 213.7h1M153.5 217.5h1M139.1 229.2h1M153.8 231.9h1M157.0 225.1h1M139.8 208.3h1M139.2 229.0h1M151.6 236.5h1M156.5 231.6h1M152.4 209.4h1M139.5 234.0h1" stroke="#555" stroke-width="1"/>
<path d="M154.8 211.0h1M154.2 222.0h1M156.4 219.0h1M137.0 223.3h1M137.2 214.0h1M153.4 225.7h1M153.9 232.2h1M138.1 221.8h1M137.6 214.3h1M139.4 217.9h1M139.5 210.9h1M139.7 209.0h1M138.2 239.9h1M154.0 213.4h1M155.2 213.1h1M156.0 225.7h1M148.2 241.8h1M154.9 223.2h1M139.3 229.4h1M139.3 226.4h1M144.4 242.8h1M141.3 230.5h1M143.1 207.3h1M151.9 237.1h1M137.5 231.7h1M154.0 212.8h1M154.3 225.8h1M154.3 211.0h1M152.8 236.6h1M147.1 240.8h1M138.6 223.7h1M150.7 209.4h1M136.9 224.2h1M137.3 231.3h1M152.0 237.8h1M154.2 225.8h1M150.6 238.2h1M152.2 240.1h1M144.9 207.2h1M141.1 230.6h1M153.5 220.4h1M155.3 230.0h1M151.9 206.9h1M139.8 237.9h1M140.3 241.6h1M140.2 227.9h1M149.8 206.0h1M139.1 231.2h1M156.6 220.4h1M143.3 207.9h1M145.6 242.2h1M136.9 224.1h1" stroke="#777" stroke-width="1"/>
<path d="M145.8 203.7h1M152.8 208.3h1M139.1 238.5h1M138.1 215.1h1M155.7 218.2h1M137.9 216.6h1M139.1 234.0h1M141.7 229.4h1M151.4 237.7h1M154.5 213.1h1M150.2 207.3h1M139.8 221.7h1M153.4 212.7h1M147.9 240.7h1M148.0 239.7h1M149.4 241.7h1M155.0 217.2h1M145.4 208.2h1M156.0 230.6h1M153.0 211.3h1M141.1 213.6h1M136.8 221.5h1M152.6 225.5h1M146.0 205.0h1M156.2 214.9h1M147.6 207.8h1M145.6 206.4h1M155.3 229.3h1M156.1 226.5h1M138.2 236.7h1M145.0 204.3h1M156.4 219.2h1M143.7 209.5h1M154.2 230.6h1M155.1 229.6h1M139.9 223.7h1M137.3 222.3h1M152.5 236.4h1M137.3 224.4h1M140.3 213.8h1M136.6 217.3h1M153.6 212.2h1M153.6 215.9h1M152.1 239.3h1M154.6 236.8h1M151.2 208.1h1M149.7 241.1h1M152.9 234.2h1M153.7 237.5h1M147.3 242.3h1M152.5 214.0h1M139.9 239.1h1" stroke="#999" stroke-width="1"/>
<path d="M146.2 239.5L145.5 239.6L144.8 239.6L144 239.6L143.5 239.4L143 239.2L142.5 239L142 238.7L141.6 238.2L141.2 237.9L141 237.4L140.8 236.8L140.6 236.2L140.6 235.5L140.6 234.8L140.8 234.2L140.9 233.5L141.1 233L141.3 232.5L141.5 232L141.8 231.4L142 230.8L142 230.2L142 229.5L141.9 229L141.8 228.4L141.5 227.8L141.3 227.2L141.1 226.8L140.9 226.2L140.8 225.6L140.6 225L140.5 224.5L140.3 223.8L140.2 223.2L140.1 222.5L140 221.8L140 221L140 220.5L140 219.8L140 219.1L140 218.5L140.1 217.8L140.2 217L140.3 216.5L140.4 215.8L140.5 215.2L140.7 214.5L140.9 214L141 213.5L141.2 212.9L141.5 212.3L141.8 211.8L142 211.4L142.2 210.9L142.5 210.5L142.9 210L143.2 209.6L143.7 209.2L144 209L144.5 208.7L145 208.4L145.5 208.2L146.2 208.1L147 208.2L147.5 208.3L148.1 208.5L148.5 208.8L149 209.1L149.4 209.5L149.8 209.8L150.1 210.2L150.5 210.8L150.8 211.2L151 211.6L151.2 212.1L151.5 212.7L151.7 213.2L151.9 213.8L152.1 214.2L152.2 214.9L152.4 215.5L152.5 216L152.6 216.8L152.7 217.5L152.8 218L152.8 218.8L152.9 219.5L152.9 220.2L152.9 221L152.8 221.8L152.8 222.3L152.7 223L152.6 223.8L152.5 224.2L152.3 225L152.2 225.5L152 226.2L151.9 226.8L151.8 227.3L151.6 228L151.7 228.8L151.8 229.4L151.9 230L152.1 230.5L152.2 231.2L152.4 231.8L152.5 232.5L152.5 233.2L152.3 234L152.2 234.5L152 235.1L151.8 235.6L151.5 236L151.2 236.5L150.8 237L150.5 237.3L150 237.8L149.7 238L149.2 238.3L148.8 238.6L148.2 238.9L147.8 239.1L147.2 239.3L146.5 239.5L146.2 239.5Z" fill="#111"/>
<path d="M146.8 238L146 238.2L145.2 238.2L144.5 238.1L144 238L143.5 237.7L143 237.3L142.7 237L142.4 236.5L142.2 235.9L142.2 235.2L142.2 234.6L142.4 234L142.6 233.5L142.8 233L143.1 232.5L143.4 232L143.8 231.6L144 231.2L144.4 230.8L144.7 230.2L145 229.8L145.2 229.2L145 228.5L144.8 228.1L144.5 227.8L144.1 227.2L143.8 226.8L143.5 226.4L143.2 226L143 225.5L142.8 224.9L142.5 224.2L142.4 223.8L142.2 223.2L142.1 222.5L142 222L141.9 221.2L141.8 220.5L141.8 219.8L141.9 219L141.9 218.2L142 217.6L142.1 217L142.2 216.3L142.4 215.8L142.6 215.2L142.8 214.8L143 214.2L143.2 213.7L143.6 213.2L143.9 212.8L144.2 212.4L144.7 212L145.1 211.8L145.7 211.5L146.2 211.4L147 211.5L147.5 211.6L148 211.9L148.4 212.2L148.8 212.6L149.1 213L149.4 213.5L149.7 214L150 214.5L150.2 215L150.3 215.5L150.5 216L150.7 216.8L150.8 217.2L150.9 218L151 218.8L151 219.5L151 220.2L151 221L150.9 221.8L150.8 222.5L150.7 223L150.5 223.7L150.3 224.2L150.2 224.8L150 225.2L149.7 225.8L149.5 226.2L149.2 226.8L149 227.2L148.7 227.8L148.5 228.5L148.7 229.2L149 229.7L149.3 230L149.7 230.5L150 231L150.2 231.4L150.5 231.9L150.7 232.5L150.8 233L150.8 233.8L150.7 234.2L150.5 234.8L150.2 235.3L150 235.8L149.6 236.2L149.2 236.6L148.8 237L148.5 237.2L148 237.5L147.5 237.8L146.9 238L146.8 238Z" fill="#808080"/>
<path d="M147.2 224.8L146.5 225L145.8 224.9L145.2 224.5L145 224.2L144.6 223.8L144.3 223.2L144.1 222.8L143.9 222.2L143.8 221.5L143.7 221L143.6 220.2L143.6 219.5L143.6 218.8L143.8 218.1L143.9 217.5L144 217L144.2 216.4L144.5 216L144.8 215.5L145.2 215.1L145.7 214.8L146.2 214.6L147 214.7L147.5 215L147.8 215.2L148.2 215.8L148.5 216.2L148.7 216.8L148.9 217.2L149 217.8L149.1 218.5L149.2 219.2L149.2 220L149.2 220.8L149.1 221.5L149 222L148.8 222.7L148.5 223.2L148.2 223.7L148 224.1L147.6 224.5L147.2 224.8ZM146.5 236.8L145.8 236.9L145 236.8L144.5 236.6L144.1 236.2L143.8 235.8L143.7 235.2L143.7 234.5L143.9 234L144.1 233.5L144.4 233L144.8 232.7L145.2 232.2L145.6 232L146 231.8L146.8 231.5L147.5 231.6L148.1 231.8L148.5 232L148.9 232.5L149.2 233L149.3 233.5L149.2 234.1L149.1 234.8L148.8 235.2L148.5 235.6L148.1 236L147.8 236.3L147.2 236.6L146.7 236.8L146.5 236.8Z" fill="#d0d0d0"/>
<path d="M151.5 209.8L170.3 209.6Q173.6 210.3 171.6 213.6L157.3 228.6Q154.3 230.6 153 228Z" fill="#ebebeb" stroke="#333" stroke-width="0.9"/>
<path d="M152.6 211.2L169 211.1L155.6 226.6Z" fill="none" stroke="#777" stroke-width="0.5"/>
<path d="M153.8 212.8L166.4 212.7L156.1 224.4Z" fill="none" stroke="#888" stroke-width="0.5"/>
<path d="M155 214.5L163.5 214.4L156.6 221.5Z" fill="none" stroke="#888" stroke-width="0.5"/>
<path d="M156 216L160.5 216L156.9 219.6Z" fill="none" stroke="#999" stroke-width="0.5"/>
</g>
<rect x="136.5" y="170.5" width="73" height="73.0" fill="none" stroke="#999" stroke-width="1"/>
<line x1="153.5" y1="170.5" x2="153.5" y2="243.5" stroke="#8a8a8a" stroke-width="1"/>
<line x1="136.5" y1="228.6" x2="209.5" y2="228.6" stroke="#8a8a8a" stroke-width="1"/>
<text x="137.9" y="178.6" font-size="8.5" text-anchor="start" font-weight="normal" fill="#1a1a1a" stroke="#1a1a1a" stroke-width="0.15" >45.1</text>
<text x="208.4" y="178.6" font-size="8.5" text-anchor="end" font-weight="normal" fill="#1a1a1a" stroke="#1a1a1a" stroke-width="0.15" >19.4</text>
<rect x="190.2" y="242.5" width="18.400000000000002" height="2" fill="#fff"/>
<text x="208.4" y="242.4" font-size="8.5" text-anchor="end" font-weight="normal" fill="#1a1a1a" stroke="#1a1a1a" stroke-width="0.15" >1.84</text>
<text x="209.5" y="250.1" font-size="4.2" text-anchor="middle" font-weight="normal" fill="#8a8a8a" >10<tspan dy="-1.6" font-size="2.8">4</tspan></text>
<text x="134.0" y="171.8" font-size="4.2" text-anchor="end" font-weight="normal" fill="#8a8a8a" >10<tspan dy="-1.6" font-size="2.8">4</tspan></text>
<text x="191.17000000000002" y="250.1" font-size="4.2" text-anchor="middle" font-weight="normal" fill="#8a8a8a" >10<tspan dy="-1.6" font-size="2.8">3</tspan></text>
<text x="134.0" y="190.13" font-size="4.2" text-anchor="end" font-weight="normal" fill="#8a8a8a" >10<tspan dy="-1.6" font-size="2.8">3</tspan></text>
<text x="172.84" y="250.1" font-size="4.2" text-anchor="middle" font-weight="normal" fill="#8a8a8a" >10<tspan dy="-1.6" font-size="2.8">2</tspan></text>
<text x="134.0" y="208.46" font-size="4.2" text-anchor="end" font-weight="normal" fill="#8a8a8a" >10<tspan dy="-1.6" font-size="2.8">2</tspan></text>
<text x="154.51" y="250.1" font-size="4.2" text-anchor="middle" font-weight="normal" fill="#8a8a8a" >10<tspan dy="-1.6" font-size="2.8">1</tspan></text>
<text x="134.0" y="226.79000000000002" font-size="4.2" text-anchor="end" font-weight="normal" fill="#8a8a8a" >10<tspan dy="-1.6" font-size="2.8">1</tspan></text>
<text x="156.8" y="263.9" font-size="13" text-anchor="start" font-weight="normal" fill="#000" >IFN-<tspan font-family="Liberation Serif" font-style="italic">γ</tspan></text>
<clipPath id="cB3"><rect x="231.5" y="170.5" width="73.0" height="73.0"/></clipPath>
<g clip-path="url(#cB3)">
<path d="M249.2 220.5h1M248.9 224.1h1M252.4 222.0h1M251.8 220.4h1M252.0 230.8h1M253.0 219.9h1M249.3 218.1h1M239.8 200.7h1M250.4 218.0h1M249.5 209.4h1M238.9 243.1h1M251.6 219.7h1M251.5 216.7h1M253.0 222.7h1M252.8 219.9h1M252.5 219.7h1M249.2 218.5h1M252.0 226.2h1M249.9 224.8h1M250.9 217.6h1M253.0 227.0h1M249.3 219.8h1M249.0 215.8h1M232.4 204.4h1M250.3 225.8h1M250.4 220.3h1M253.3 223.8h1M252.7 222.1h1M247.9 235.7h1M252.9 220.7h1M253.4 220.4h1M251.3 226.5h1M252.9 222.6h1M246.0 208.5h1M249.5 219.8h1M250.9 223.5h1M252.4 223.6h1M251.7 218.1h1M253.1 220.4h1M249.5 223.3h1M249.6 220.7h1M250.9 226.9h1M251.1 217.9h1M248.8 217.3h1M250.7 225.1h1M251.5 225.9h1M251.8 225.3h1M249.9 222.7h1M251.6 221.1h1M251.1 225.5h1M232.2 205.4h1M249.0 225.9h1M244.6 240.8h1M248.8 224.8h1M251.5 223.1h1M252.1 230.7h1M249.9 221.5h1M248.4 229.2h1M252.9 225.4h1M249.8 222.1h1M251.1 220.1h1M252.7 221.3h1M249.7 223.5h1M251.6 219.4h1M253.3 220.9h1M235.1 242.6h1M253.4 226.6h1M253.4 223.9h1M252.8 227.6h1M250.7 218.2h1M252.4 234.0h1M253.5 222.2h1M252.0 222.3h1M253.3 222.7h1M253.0 223.1h1M251.9 228.3h1M249.0 221.8h1M251.2 224.3h1M250.6 222.9h1M249.1 228.8h1M238.7 202.0h1M250.7 227.5h1M251.6 229.4h1M249.1 215.0h1M252.3 222.6h1M250.9 224.8h1M253.6 221.6h1M236.2 243.4h1M253.0 220.1h1M250.5 218.6h1M247.2 208.2h1" stroke="#888" stroke-width="1"/>
<path d="M250.2 222.5h1M232.8 242.1h1M253.5 223.1h1M254.6 218.5h1M255.5 216.9h1M257.6 217.1h1M256.1 217.0h1M252.3 221.4h1M256.2 224.3h1M255.9 226.8h1M254.9 225.3h1M251.3 222.0h1M252.6 220.6h1M255.9 225.7h1M254.3 215.3h1M244.9 206.7h1M255.5 227.8h1M260.0 220.7h1M256.7 218.4h1M259.0 216.8h1M258.0 221.9h1M257.4 219.1h1M251.7 223.0h1M253.6 223.2h1M249.4 218.8h1M254.0 218.2h1M257.8 228.5h1M255.5 223.6h1M253.5 223.2h1M253.7 222.9h1M240.1 202.1h1M254.8 222.0h1M258.4 217.8h1M258.0 214.6h1M253.1 228.2h1M254.8 212.5h1M254.3 224.7h1M250.2 222.5h1M252.6 225.5h1M256.9 218.9h1M257.9 226.2h1M257.7 227.2h1M249.1 222.5h1M258.7 218.0h1M253.2 232.5h1M259.0 222.1h1M256.1 226.0h1M254.1 220.0h1M248.5 230.6h1M249.2 226.7h1M258.0 223.7h1M233.9 242.3h1M256.4 218.1h1M255.8 221.9h1M254.1 225.5h1M233.6 204.5h1M254.0 216.5h1M250.3 222.1h1M253.5 219.2h1M253.6 226.5h1M250.9 220.1h1M253.4 221.6h1M258.8 220.9h1M261.1 218.9h1M253.1 218.7h1M253.3 222.4h1M255.3 234.3h1M253.6 218.1h1M257.5 224.2h1M260.1 217.9h1M246.5 238.5h1M258.8 226.0h1M254.7 225.3h1M254.4 219.0h1M256.7 225.0h1M251.1 216.0h1M255.8 227.4h1M255.0 217.6h1M235.5 242.5h1M250.8 224.5h1M262.8 226.1h1M250.7 222.5h1M254.9 228.6h1M245.0 206.9h1M259.0 222.0h1M251.9 223.8h1M258.7 222.5h1M256.5 217.8h1M254.4 223.6h1M255.4 220.5h1M252.1 233.3h1M257.4 228.4h1M254.1 223.7h1M258.4 218.8h1M254.9 228.7h1M247.4 201.5h1M253.1 216.9h1M252.6 214.9h1M257.6 224.6h1M253.6 213.4h1M252.3 227.2h1M249.9 223.1h1M257.9 226.1h1M254.3 221.6h1M257.0 226.1h1M257.4 224.8h1M259.8 212.0h1M253.1 225.2h1M257.5 224.7h1M261.8 221.9h1M259.0 226.5h1M253.6 218.1h1M256.4 228.3h1M259.8 223.6h1M244.7 241.0h1M255.4 216.6h1M260.1 222.6h1M255.4 217.4h1M253.7 224.9h1M240.0 197.8h1M249.6 220.3h1M253.7 215.6h1M254.0 226.4h1M252.4 228.6h1M254.5 217.3h1M250.4 224.1h1M253.7 219.7h1M254.4 227.9h1M256.7 216.4h1M252.7 225.9h1M260.8 224.8h1M249.5 224.5h1M256.1 222.2h1M254.1 220.6h1M254.1 217.7h1M267.1 223.1h1M260.7 218.0h1M251.9 225.2h1M256.4 221.0h1M256.2 221.7h1M257.0 228.5h1M256.3 224.9h1M257.1 223.4h1M257.0 227.7h1M258.6 217.9h1M260.0 219.2h1M260.3 217.4h1M251.1 219.1h1M261.0 227.6h1M252.8 220.7h1M254.6 223.1h1M254.7 223.2h1M251.3 220.6h1M256.2 214.1h1M249.4 225.1h1M252.7 220.1h1M254.1 220.6h1M261.1 216.8h1M255.3 218.7h1M255.6 225.2h1M256.5 213.7h1M253.0 223.5h1M255.6 220.6h1M253.2 226.0h1M257.5 225.5h1M252.6 225.6h1M254.5 218.3h1M257.8 226.2h1M263.2 222.0h1M256.7 220.0h1M253.9 220.7h1M253.5 215.3h1M255.2 222.6h1M253.8 228.2h1M251.8 226.4h1M252.1 224.7h1M252.4 223.9h1M248.0 229.9h1M253.4 227.1h1M254.9 218.1h1M256.8 217.3h1M255.4 224.9h1M256.9 225.7h1M258.5 219.1h1M260.9 228.6h1M253.7 221.1h1M255.0 218.8h1M255.1 226.7h1M241.9 204.6h1M256.6 217.2h1M259.7 224.7h1M258.8 223.9h1M234.1 204.2h1M256.7 226.8h1M252.0 224.9h1M252.4 221.4h1M234.0 241.7h1M253.6 219.9h1M251.0 218.4h1M256.8 223.0h1M255.8 219.1h1M255.4 223.2h1M252.1 225.3h1M259.5 226.0h1M255.8 220.4h1M259.8 216.5h1M254.7 221.4h1M255.7 220.0h1M251.1 228.2h1M251.0 220.9h1M258.8 218.9h1M254.7 230.6h1M251.5 223.3h1M248.0 232.2h1M257.4 222.3h1M255.9 221.8h1M256.6 224.7h1M250.4 220.6h1M253.7 227.4h1M259.3 220.2h1M256.3 225.2h1M260.6 233.2h1M252.7 227.4h1M259.4 220.3h1M258.1 231.5h1M254.9 225.3h1M248.1 214.0h1M256.4 219.6h1M251.9 226.7h1M256.3 216.2h1" stroke="#a0a0a0" stroke-width="1"/>
<path d="M259.9 220.2h1M256.9 222.7h1M261.8 228.6h1M263.0 225.8h1M261.0 222.3h1M256.4 227.1h1M254.5 223.4h1M255.6 225.8h1M257.8 221.1h1M256.0 216.5h1M256.2 226.0h1M258.2 219.4h1M260.9 218.1h1M258.7 224.4h1M257.2 221.6h1M256.5 219.7h1M255.6 213.9h1M256.2 225.1h1M255.3 225.3h1M260.7 222.0h1M256.3 221.6h1M260.6 228.6h1M255.5 226.6h1M261.6 226.8h1M256.6 229.2h1M256.9 230.9h1M255.4 221.7h1M262.6 219.2h1M254.4 225.8h1M258.5 224.6h1M259.2 216.0h1M257.3 225.7h1M262.6 222.6h1M255.5 229.8h1M255.3 223.0h1M263.3 216.0h1M260.5 210.6h1M256.6 225.3h1M257.6 218.2h1M253.9 224.2h1M257.3 218.3h1M258.2 220.7h1M261.4 219.7h1M257.2 224.7h1M257.5 223.7h1M253.0 237.3h1M257.9 215.5h1M257.9 230.2h1M260.3 216.9h1M263.4 219.1h1M254.4 222.8h1M260.0 224.1h1M256.3 221.9h1M255.5 220.2h1M261.3 223.4h1M255.6 222.5h1M257.0 220.5h1M253.7 222.7h1M254.1 212.6h1M255.8 219.9h1M264.1 221.6h1M259.0 227.2h1M261.0 223.9h1M261.5 219.5h1M259.1 222.9h1M255.2 219.0h1M254.8 224.9h1M260.7 208.9h1M255.5 226.6h1M254.9 218.3h1M261.7 225.2h1M255.4 223.2h1M258.6 219.5h1M254.4 219.6h1M255.8 218.4h1M255.6 220.3h1M255.1 221.8h1M253.8 223.2h1M256.8 227.7h1M255.1 216.2h1M256.5 224.9h1M254.8 215.2h1M255.7 224.8h1M255.6 229.5h1M260.2 219.4h1M256.4 221.4h1M254.9 212.5h1M254.1 227.4h1M259.3 220.1h1M259.5 216.8h1M260.2 220.6h1M260.2 216.8h1M261.9 219.2h1M263.8 227.8h1M260.4 219.2h1M255.5 223.9h1M257.6 226.6h1M260.6 226.9h1M254.2 224.3h1M255.0 221.8h1M258.1 220.1h1M256.5 219.4h1M258.4 218.8h1M259.5 221.2h1M254.8 221.7h1M256.0 221.8h1M254.8 219.0h1M258.4 223.1h1M238.0 194.2h1M257.5 219.2h1M254.1 220.8h1M252.6 212.3h1M256.6 225.4h1M260.7 225.2h1M257.6 224.4h1M265.7 220.4h1M254.0 221.5h1M257.7 216.4h1M255.4 226.8h1" stroke="#bcbcbc" stroke-width="1"/>
<path d="M240 242.5L239.2 242.6L238.5 242.7L237.8 242.6L237 242.5L236.5 242.4L236 242.2L235.5 242L235 241.8L234.5 241.5L234 241.1L233.5 240.8L233.2 240.5L232.8 240L232.5 239.7L232.1 239.2L231.8 238.8L231.5 238.3L231.5 237.8L231.5 237L231.5 236.2L231.4 235.5L231.4 234.8L231.4 234L231.4 233.2L231.4 232.5L231.4 231.8L231.4 231L231.4 230.2L231.4 229.5L231.4 228.8L231.4 228L231.4 227.2L231.4 226.5L231.4 225.8L231.4 225L231.3 224.2L231.3 223.5L231.3 222.8L231.3 222L231.3 221.2L231.3 220.5L231.3 219.8L231.3 219L231.3 218.2L231.3 217.5L231.3 216.8L231.4 216L231.4 215.2L231.4 214.5L231.4 213.8L231.4 213L231.4 212.2L231.4 211.5L231.4 210.8L231.4 210L231.5 209.2L231.5 208.5L231.5 207.8L231.8 207.3L232 206.9L232.3 206.5L232.7 206L233 205.7L233.4 205.2L233.8 205L234.2 204.6L234.7 204.2L235.1 204L235.5 203.7L236 203.5L236.7 203.2L237.2 203.1L238 203L238.5 203L239 203L239.8 203.1L240.2 203.3L240.9 203.5L241.4 203.8L241.9 204L242.3 204.2L242.8 204.6L243.2 205L243.5 205.3L244 205.8L244.2 206.1L244.6 206.5L245 207L245.2 207.4L245.5 207.8L245.8 208.2L246.1 208.8L246.3 209.2L246.6 209.8L246.8 210.2L247 210.8L247.2 211.4L247.5 212L247.6 212.5L247.8 213L248 213.8L248.1 214.2L248.2 214.8L248.4 215.5L248.5 216L248.6 216.8L248.7 217.5L248.8 218L248.9 218.8L248.9 219.5L249 220.2L249 220.8L249 221.5L249 222.2L249 223L249 223.6L249 224.2L248.9 225L248.8 225.8L248.8 226.4L248.7 227L248.5 227.8L248.5 228.2L248.3 229L248.2 229.5L248 230.2L247.9 230.8L247.8 231.3L247.6 232L247.4 232.5L247.3 233.2L247.2 233.8L247 234.5L246.9 235L246.8 235.6L246.6 236.2L246.4 236.8L246.2 237.2L246 237.8L245.8 238.3L245.5 238.8L245.1 239.2L244.8 239.7L244.5 240L244 240.5L243.7 240.8L243.2 241.1L242.8 241.5L242.3 241.8L241.8 242L241.2 242.2L240.8 242.4L240.2 242.5L240 242.5Z" fill="#b8b8b8" stroke="#888" stroke-width="0.5"/>
<path d="M247.7 218.9h1M245.3 216.6h1M246.9 211.7h1M246.6 229.7h1M247.8 226.8h1M247.1 213.8h1M244.3 238.6h1M245.9 211.3h1M244.7 215.2h1M235.3 209.4h1M241.1 208.7h1M232.2 234.5h1M233.9 230.7h1M233.4 236.3h1M245.5 214.4h1M242.3 205.3h1M248.1 215.0h1M241.3 239.9h1M236.9 208.2h1M245.8 227.8h1M238.3 206.5h1M240.2 207.3h1M242.9 207.3h1M246.1 233.8h1M238.4 240.2h1M237.0 208.9h1M247.0 221.0h1M246.2 220.4h1M237.8 240.2h1M233.7 236.1h1M244.3 237.2h1M246.4 214.4h1M234.3 240.0h1M244.9 230.7h1M235.2 209.9h1M242.6 211.1h1M235.4 205.2h1M231.6 231.3h1M242.0 240.5h1M240.2 207.9h1M247.9 228.3h1M237.8 203.8h1M248.9 223.6h1M241.4 205.5h1" stroke="#555" stroke-width="1"/>
<path d="M243.5 211.2h1M238.2 206.0h1M231.8 236.3h1M233.8 240.1h1M241.2 205.0h1M247.6 213.8h1M232.5 239.2h1M236.4 240.4h1M234.0 241.0h1M240.6 204.8h1M242.4 241.3h1M248.3 218.3h1M235.5 208.7h1M246.0 221.4h1M233.8 237.5h1M247.5 223.3h1M238.5 240.9h1M232.2 213.1h1M239.9 203.8h1M241.5 208.7h1M245.7 221.6h1M247.1 211.6h1M236.8 205.4h1M245.4 214.6h1M232.0 233.4h1M245.3 222.5h1M234.7 238.3h1M246.3 215.1h1M245.7 229.1h1M243.0 207.7h1M241.0 207.4h1M246.4 226.4h1M246.6 217.4h1M240.4 205.1h1M246.5 226.7h1M247.3 233.0h1M244.2 210.0h1M232.8 240.1h1M246.1 230.4h1M237.4 240.6h1M246.2 236.8h1M238.8 204.4h1M232.2 209.5h1M236.2 206.8h1M231.7 214.6h1M245.3 226.4h1M245.3 230.0h1M243.1 206.3h1M235.0 210.5h1M237.6 243.1h1M234.0 232.4h1M244.7 211.6h1M244.2 234.4h1M233.6 229.6h1" stroke="#777" stroke-width="1"/>
<path d="M233.1 234.1h1M233.2 238.4h1M244.6 228.7h1M244.0 231.7h1M245.6 232.4h1M245.2 230.9h1M233.8 209.2h1M232.7 212.1h1M231.6 212.0h1M231.5 234.8h1M245.8 233.6h1M235.2 239.5h1M241.1 205.5h1M232.6 213.3h1M233.6 236.7h1M247.8 228.6h1M234.4 205.1h1M236.3 241.0h1M244.6 211.8h1M235.6 242.1h1M233.4 233.9h1M248.2 216.3h1M245.1 211.4h1M238.3 242.8h1M247.6 218.1h1M236.4 207.6h1M245.1 228.7h1M236.2 206.5h1M233.8 232.8h1M246.1 237.7h1M245.4 226.4h1M232.7 213.4h1M247.9 228.0h1M243.4 239.3h1M240.1 207.3h1M238.3 242.4h1M240.5 240.9h1M244.8 214.4h1M231.9 232.0h1M243.4 237.9h1M237.4 204.2h1M237.8 207.4h1" stroke="#999" stroke-width="1"/>
<path d="M240 239.5L239.2 239.7L238.5 239.7L237.8 239.6L237.2 239.5L236.6 239.2L236.1 239L235.7 238.8L235.2 238.4L234.9 238L234.5 237.5L234.2 237L234 236.5L233.8 236L233.7 235.5L233.7 234.8L233.7 234L233.8 233.5L233.9 232.8L234 232.2L234.1 231.5L234.1 230.8L234 230.1L233.8 229.5L233.6 229L233.3 228.5L233.1 228L232.9 227.5L232.7 227L232.5 226.3L232.3 225.8L232.2 225.2L232 224.5L231.9 224L231.8 223.2L231.8 222.6L231.7 222L231.7 221.2L231.6 220.5L231.7 219.8L231.7 219L231.8 218.4L231.8 217.8L231.9 217L232 216.5L232.2 215.8L232.3 215.2L232.5 214.7L232.7 214L232.9 213.5L233.1 213L233.4 212.5L233.7 212L234 211.5L234.2 211.1L234.5 210.8L234.9 210.2L235.2 209.9L235.8 209.5L236.1 209.2L236.6 209L237.2 208.8L237.8 208.6L238.5 208.5L239.2 208.6L239.8 208.8L240.3 209L240.8 209.2L241.2 209.6L241.7 210L242 210.3L242.4 210.8L242.8 211.2L243 211.6L243.2 212L243.5 212.5L243.8 213L244 213.6L244.2 214.2L244.4 214.8L244.6 215.2L244.8 215.9L244.9 216.5L245 217.2L245.1 217.8L245.2 218.5L245.2 219.2L245.3 219.8L245.3 220.5L245.3 221.2L245.2 221.8L245.2 222.5L245.1 223.2L245 223.8L244.9 224.5L244.8 225.1L244.6 225.8L244.4 226.2L244.2 226.8L244 227.5L243.8 228L243.6 228.5L243.4 229L243.2 229.5L243 230.2L243 230.8L243 231.2L243.2 232L243.3 232.5L243.5 233.2L243.6 233.8L243.7 234.5L243.6 235.2L243.5 236L243.4 236.5L243.1 237L242.8 237.5L242.5 238L242.2 238.2L241.8 238.7L241.2 239L240.8 239.2L240.2 239.4L240 239.5Z" fill="#111"/>
<path d="M238.8 227L238.1 227L237.5 226.8L237 226.5L236.7 226.2L236.2 225.8L236 225.4L235.7 225L235.5 224.5L235.2 223.9L235 223.2L234.9 222.8L234.8 222L234.7 221.5L234.7 220.8L234.7 220L234.7 219.2L234.8 218.8L234.9 218L235 217.5L235.2 216.8L235.4 216.2L235.7 215.8L236 215.2L236.2 214.9L236.6 214.5L237 214.2L237.5 213.9L238 213.7L238.8 213.7L239.2 213.8L239.8 214L240.2 214.4L240.5 214.8L240.9 215.2L241.2 215.8L241.5 216.2L241.7 216.8L241.8 217.2L242 217.9L242.1 218.5L242.2 219.2L242.2 220L242.3 220.5L242.2 221L242.2 221.8L242 222.5L241.9 223L241.8 223.6L241.5 224.2L241.3 224.8L241 225.2L240.8 225.6L240.5 226L240 226.4L239.5 226.8L239 227L238.8 227ZM238.8 237.8L238.2 237.7L237.5 237.5L237 237.2L236.7 237L236.3 236.5L236 236L235.9 235.5L235.8 234.8L236 234L236.2 233.5L236.5 233.1L236.8 232.8L237.2 232.4L237.8 232.1L238.2 232L239 231.9L239.5 232.1L240 232.3L240.5 232.7L240.8 233L241.1 233.5L241.4 234L241.5 234.6L241.5 235.2L241.4 235.8L241.2 236.2L240.9 236.8L240.5 237.1L240 237.5L239.5 237.7L238.9 237.8L238.8 237.8Z" fill="#7a7a7a"/>
<path d="M239.2 224.5L238.5 224.7L237.8 224.6L237.3 224.2L237 223.9L236.7 223.5L236.4 223L236.2 222.5L236.1 221.8L236 221.2L235.9 220.5L235.9 219.8L236 219.2L236.1 218.5L236.3 218L236.5 217.5L236.8 217L237.1 216.5L237.5 216.2L238 215.9L238.8 215.9L239.2 216.1L239.8 216.5L240 216.8L240.3 217.2L240.5 217.8L240.8 218.4L240.9 219L241 219.8L241 220.5L240.9 221.2L240.8 222L240.7 222.5L240.5 223L240.2 223.5L239.8 224L239.5 224.3L239.2 224.5ZM239.5 236.8L238.8 237L238 236.9L237.5 236.6L237.1 236.2L236.8 235.8L236.7 235.2L236.7 234.5L236.9 234L237.2 233.6L237.7 233.2L238.2 233L238.8 233L239.2 233.1L239.8 233.3L240.2 233.8L240.5 234.2L240.7 234.8L240.7 235.5L240.5 236L240 236.5L239.7 236.8L239.5 236.8Z" fill="#c8c8c8"/>
<rect x="243.5" y="231.5" width="20" height="5.3" rx="2.65" fill="#f2f2f2" stroke="#4a4a4a" stroke-width="0.8"/><rect x="247.0" y="232.931" width="14.399999999999999" height="2.438" rx="1.219" fill="none" stroke="#8a8a8a" stroke-width="0.5"/>
</g>
<rect x="231.5" y="170.5" width="73" height="73.0" fill="none" stroke="#999" stroke-width="1"/>
<line x1="247.2" y1="170.5" x2="247.2" y2="243.5" stroke="#8a8a8a" stroke-width="1"/>
<line x1="231.5" y1="228.7" x2="304.5" y2="228.7" stroke="#8a8a8a" stroke-width="1"/>
<text x="232.9" y="178.6" font-size="8.5" text-anchor="start" font-weight="normal" fill="#1a1a1a" stroke="#1a1a1a" stroke-width="0.15" >65.1</text>
<text x="303.4" y="178.6" font-size="8.5" text-anchor="end" font-weight="normal" fill="#1a1a1a" stroke="#1a1a1a" stroke-width="0.15" >1.76</text>
<rect x="285.2" y="242.5" width="18.400000000000002" height="2" fill="#fff"/>
<text x="303.4" y="242.4" font-size="8.5" text-anchor="end" font-weight="normal" fill="#1a1a1a" stroke="#1a1a1a" stroke-width="0.15" >6.91</text>
<text x="304.5" y="250.1" font-size="4.2" text-anchor="middle" font-weight="normal" fill="#8a8a8a" >10<tspan dy="-1.6" font-size="2.8">4</tspan></text>
<text x="229.0" y="171.8" font-size="4.2" text-anchor="end" font-weight="normal" fill="#8a8a8a" >10<tspan dy="-1.6" font-size="2.8">4</tspan></text>
<text x="286.17" y="250.1" font-size="4.2" text-anchor="middle" font-weight="normal" fill="#8a8a8a" >10<tspan dy="-1.6" font-size="2.8">3</tspan></text>
<text x="229.0" y="190.13" font-size="4.2" text-anchor="end" font-weight="normal" fill="#8a8a8a" >10<tspan dy="-1.6" font-size="2.8">3</tspan></text>
<text x="267.84000000000003" y="250.1" font-size="4.2" text-anchor="middle" font-weight="normal" fill="#8a8a8a" >10<tspan dy="-1.6" font-size="2.8">2</tspan></text>
<text x="229.0" y="208.46" font-size="4.2" text-anchor="end" font-weight="normal" fill="#8a8a8a" >10<tspan dy="-1.6" font-size="2.8">2</tspan></text>
<text x="249.51" y="250.1" font-size="4.2" text-anchor="middle" font-weight="normal" fill="#8a8a8a" >10<tspan dy="-1.6" font-size="2.8">1</tspan></text>
<text x="229.0" y="226.79000000000002" font-size="4.2" text-anchor="end" font-weight="normal" fill="#8a8a8a" >10<tspan dy="-1.6" font-size="2.8">1</tspan></text>
<text x="251.8" y="263.6" font-size="13" text-anchor="start" font-weight="normal" fill="#000" >IL-22</text>
<clipPath id="cB4"><rect x="346.5" y="170.5" width="73.0" height="73.0"/></clipPath>
<g clip-path="url(#cB4)">
<path d="M365.0 237.9h1M365.2 226.9h1M367.1 225.8h1M364.8 208.1h1M366.0 212.3h1M368.5 225.0h1M367.8 235.5h1M359.7 220.6h1M368.3 220.3h1M367.6 227.4h1M361.7 224.9h1M369.0 223.7h1M348.1 209.6h1M364.8 231.0h1M367.4 225.9h1M368.5 223.7h1M368.3 232.5h1M363.2 235.1h1M365.7 220.9h1M364.2 215.4h1M363.5 225.1h1M366.5 229.7h1M365.7 212.6h1M368.4 226.1h1M363.5 223.5h1M367.8 220.5h1M366.0 221.8h1M368.6 219.6h1M361.6 217.5h1M364.1 222.0h1M364.2 216.7h1M368.8 220.0h1M365.6 221.0h1M356.8 211.0h1M361.8 237.1h1M366.1 221.0h1M365.2 224.4h1M364.9 214.4h1M368.6 221.7h1M359.0 218.7h1M364.7 224.7h1M364.0 224.1h1M364.4 232.2h1M359.9 213.4h1M367.5 228.8h1M362.9 227.2h1M364.5 217.7h1M362.9 231.3h1M358.0 216.5h1M360.7 218.1h1M357.9 215.7h1M366.0 223.8h1M364.6 234.5h1M361.6 228.3h1M364.6 226.0h1M368.5 219.8h1M363.8 230.4h1M367.2 226.5h1M365.2 219.8h1M369.0 223.8h1M362.3 237.8h1M366.8 226.2h1M366.6 224.3h1M369.0 226.6h1M364.5 220.7h1M364.8 216.2h1M365.0 223.2h1M359.2 215.7h1" stroke="#888" stroke-width="1"/>
<path d="M373.1 213.3h1M377.3 220.7h1M361.7 237.5h1M368.5 217.5h1M368.5 235.1h1M370.4 229.5h1M373.8 214.5h1M370.8 223.7h1M374.1 225.0h1M372.4 211.3h1M378.3 225.4h1M372.2 214.4h1M362.4 227.9h1M376.9 217.7h1M372.3 222.8h1M378.0 232.4h1M367.1 219.2h1M372.4 226.7h1M364.9 228.7h1M372.1 230.4h1M368.4 229.3h1M368.4 219.4h1M375.9 214.1h1M372.0 219.3h1M367.6 224.9h1M377.6 234.8h1M373.3 213.0h1M369.5 220.4h1M375.2 220.4h1M367.8 227.3h1M371.0 235.5h1M374.2 219.7h1M374.9 217.2h1M377.9 212.1h1M377.3 231.2h1M374.4 219.6h1M377.0 222.9h1M374.9 221.0h1M374.8 218.4h1M363.4 219.2h1M371.5 234.2h1M375.4 224.3h1M375.3 220.2h1M375.0 220.0h1M368.9 222.1h1M375.0 239.5h1M377.0 227.6h1M370.4 220.5h1M371.3 223.6h1M370.1 221.2h1M371.8 228.9h1M370.3 218.3h1M372.8 218.1h1M372.0 219.6h1M369.0 218.4h1M374.4 219.6h1M362.3 237.9h1M375.2 213.2h1M372.4 226.5h1M374.3 224.2h1M369.8 211.6h1M362.3 219.1h1M380.2 217.6h1M380.4 223.9h1M373.8 236.4h1M374.3 212.6h1M370.3 229.8h1M375.1 224.4h1M378.6 228.8h1M375.7 216.0h1M377.6 220.7h1M371.6 230.6h1M358.1 208.8h1M381.1 225.3h1M372.9 232.3h1M368.9 216.0h1M370.2 223.5h1M378.5 223.3h1M375.3 219.0h1M377.2 221.3h1M373.8 219.6h1M372.4 218.9h1M381.5 221.4h1M365.9 227.9h1M370.5 227.8h1M371.2 215.4h1M370.4 222.9h1M368.8 233.8h1M376.0 222.7h1M374.1 220.9h1M369.2 226.8h1M369.5 214.0h1M370.8 228.9h1M370.7 224.4h1M373.2 223.7h1M369.7 221.7h1M378.4 222.7h1M370.9 226.3h1M362.5 236.7h1M368.3 209.9h1M373.6 222.7h1M372.7 222.0h1M370.1 235.6h1M368.9 221.1h1M380.2 229.0h1M370.5 229.3h1M373.3 233.2h1M371.8 213.7h1M371.1 226.2h1M363.7 230.4h1M374.4 229.5h1M378.6 229.1h1M370.0 228.3h1M376.2 217.7h1M372.7 227.7h1M374.7 220.2h1M374.1 213.5h1M370.5 223.1h1M375.7 221.3h1M370.8 225.8h1M374.4 224.2h1M370.8 223.3h1M367.7 225.3h1M373.8 234.0h1M371.9 217.6h1M349.6 205.9h1M361.5 226.0h1M372.9 218.1h1M372.0 220.0h1M377.8 219.1h1M370.9 228.2h1M371.5 226.1h1M376.7 225.6h1M378.7 218.0h1M371.4 226.0h1M372.5 218.3h1M372.4 227.3h1M369.7 233.1h1M374.6 215.0h1M371.4 225.7h1M362.6 237.2h1M375.4 217.5h1M367.0 224.6h1M375.8 233.4h1M373.4 223.1h1M376.3 229.7h1M374.4 228.7h1M372.6 233.9h1M375.6 224.4h1M381.9 228.8h1M373.8 218.5h1M376.7 214.6h1M374.1 223.8h1M368.8 233.6h1M372.7 220.9h1M372.4 213.2h1M366.3 224.0h1M364.6 235.7h1M369.2 233.1h1M371.7 221.0h1M371.0 218.2h1M374.0 214.0h1M371.3 221.7h1M364.2 219.9h1M366.0 212.4h1M369.6 229.5h1M367.2 225.3h1M379.5 228.3h1M369.4 227.6h1M369.0 232.4h1M368.6 214.9h1M374.4 222.1h1M373.6 223.2h1M367.0 227.6h1M369.9 234.2h1M375.1 226.7h1M369.2 221.2h1M375.3 219.7h1M371.8 237.3h1M374.1 221.6h1M373.6 232.3h1M364.4 218.4h1M369.4 228.6h1M365.3 223.5h1M366.5 222.4h1M374.2 222.1h1M376.1 231.6h1M368.6 225.1h1M368.3 212.0h1M366.5 227.7h1M370.6 230.7h1M368.5 226.6h1M371.3 234.7h1M370.5 219.0h1M369.6 222.4h1M375.7 221.5h1M362.8 221.5h1M372.9 216.1h1M367.1 226.5h1M370.8 230.4h1M373.2 225.0h1M379.4 221.9h1M370.1 218.1h1M369.1 222.4h1M364.0 213.4h1M375.1 223.2h1M374.8 223.0h1M373.9 224.9h1M372.3 228.7h1M370.6 215.9h1M367.0 220.7h1M377.3 221.5h1M376.5 230.4h1M372.9 223.0h1M367.7 224.1h1M381.9 226.7h1M373.3 227.5h1M370.4 222.3h1M369.2 222.0h1M375.2 225.9h1M376.0 217.8h1M381.9 212.7h1M372.1 230.7h1M347.2 214.2h1M362.3 222.6h1M376.7 222.7h1M373.9 230.8h1M376.8 214.9h1M369.8 226.1h1M374.8 220.6h1M370.3 229.2h1M371.2 216.8h1M370.5 216.9h1M369.9 225.0h1M367.8 219.4h1M375.4 217.9h1M374.2 225.3h1M365.4 222.0h1M361.3 237.3h1M370.8 216.6h1" stroke="#a0a0a0" stroke-width="1"/>
<path d="M373.2 221.1h1M369.0 232.1h1M370.2 228.5h1M381.1 216.6h1M378.4 232.4h1M376.6 223.2h1M382.1 217.6h1M372.0 228.5h1M373.3 224.2h1M377.7 234.8h1M377.5 217.7h1M376.9 227.0h1M375.2 229.9h1M372.5 223.5h1M371.1 227.9h1M374.6 228.9h1M380.7 221.0h1M372.1 224.0h1M372.0 231.8h1M376.9 213.0h1M373.0 221.2h1M376.4 221.0h1M379.2 227.3h1M380.9 225.0h1M373.2 228.6h1M373.0 233.0h1M378.3 224.5h1M383.4 237.5h1M371.1 214.8h1M378.7 222.9h1M372.7 220.4h1M373.5 211.6h1M375.0 226.4h1M374.5 231.1h1M373.4 216.8h1M372.2 228.6h1M372.8 215.7h1M375.3 214.5h1M381.3 221.6h1M376.9 235.3h1M384.4 228.3h1M371.9 218.7h1M373.2 226.8h1M377.7 214.3h1M381.6 223.0h1M370.7 220.5h1M369.6 219.2h1M375.0 225.5h1M377.8 223.7h1M377.9 225.0h1M381.8 217.1h1M369.4 232.5h1M370.7 234.4h1M378.1 231.9h1M369.8 220.4h1M379.0 229.9h1M383.1 218.0h1M380.7 207.9h1M369.3 223.1h1M372.9 220.0h1M373.3 219.3h1M378.1 223.8h1M372.3 219.5h1M378.5 226.6h1M375.8 220.3h1M379.7 217.6h1M374.5 234.2h1M373.2 234.2h1M379.3 209.5h1M369.7 219.3h1M379.5 226.1h1M376.0 219.2h1M370.5 221.9h1M369.9 235.7h1M375.8 224.8h1M375.0 229.4h1M373.6 215.6h1M380.3 235.9h1M379.4 222.9h1M369.5 216.5h1M371.8 225.6h1M374.4 232.3h1M378.1 215.7h1M377.9 226.1h1M384.0 220.4h1M368.6 214.0h1M371.6 228.0h1M375.5 218.9h1M375.2 217.2h1M370.3 232.2h1M374.9 233.6h1M372.3 228.9h1M371.2 217.2h1M371.4 226.1h1M378.5 227.9h1M370.2 226.6h1M383.2 217.8h1M370.2 217.6h1M377.9 231.6h1M379.4 219.0h1M378.2 223.1h1M374.1 230.3h1M376.2 216.6h1M371.4 216.2h1M376.9 218.9h1M378.5 227.0h1M377.4 227.5h1M380.1 226.7h1M372.3 224.4h1M377.5 224.7h1M382.6 224.2h1M375.4 228.4h1M375.1 226.3h1M379.4 235.1h1M374.7 231.7h1M370.2 218.6h1M379.0 222.3h1M373.8 213.3h1M371.0 219.8h1M370.8 216.3h1M371.1 226.7h1M372.9 216.4h1M371.4 223.2h1M380.2 221.0h1M383.8 232.5h1M377.8 230.6h1M377.0 225.3h1M369.1 222.4h1M374.3 220.6h1M374.1 215.2h1M377.5 221.5h1M372.8 225.0h1M371.3 231.9h1M371.8 222.4h1M371.1 215.3h1M369.2 222.2h1M384.1 228.9h1M381.2 221.4h1M378.3 226.8h1M377.9 230.7h1M371.3 228.4h1M370.7 220.0h1M379.6 220.4h1M379.8 222.4h1M374.1 220.9h1M377.8 221.2h1M377.5 217.8h1M370.3 218.8h1M374.9 217.7h1M375.7 218.4h1M374.2 223.9h1M374.5 219.3h1" stroke="#bcbcbc" stroke-width="1"/>
<path d="M353 243.5L352.2 243.5L351.8 243.5L351 243.4L350.5 243.2L349.8 243L349.2 242.8L348.8 242.6L348.2 242.3L347.8 242L347.4 241.8L347 241.5L346.5 241L346.5 240.5L346.5 239.8L346.4 239L346.4 238.2L346.4 237.5L346.4 236.8L346.4 236L346.4 235.2L346.4 234.5L346.3 233.8L346.4 233L346.4 232.2L346.4 231.5L346.4 230.8L346.4 230L346.4 229.2L346.4 228.5L346.4 227.8L346.4 227L346.4 226.2L346.5 225.5L346.5 224.8L346.5 224L346.5 223.2L346.5 222.5L346.5 221.8L346.5 221L346.5 220.2L346.5 219.5L346.5 218.8L346.5 218L346.5 217.2L346.5 216.5L346.5 215.8L346.5 215L346.5 214.2L346.6 213.8L347 213.4L347.4 213L347.8 212.7L348.2 212.3L348.7 212L349.1 211.8L349.6 211.5L350.2 211.3L350.8 211.1L351.5 211L352 211L352.5 211L353.2 211.1L353.8 211.3L354.4 211.5L354.9 211.8L355.3 212L355.8 212.3L356.2 212.7L356.6 213L357 213.4L357.4 213.8L357.8 214.2L358 214.6L358.3 215L358.6 215.5L358.9 216L359.2 216.5L359.4 217L359.6 217.5L359.8 218L360 218.6L360.2 219.2L360.3 219.8L360.5 220.4L360.6 221L360.8 221.7L360.8 222.2L360.9 223L361 223.5L361.1 224.2L361.2 225L361.2 225.8L361.3 226.2L361.4 227L361.5 227.5L361.7 228.2L361.8 228.8L361.9 229.5L362 230.2L362 230.8L362.1 231.5L362.1 232.2L362.1 233L362.1 233.8L362 234.4L361.9 235L361.8 235.7L361.6 236.2L361.5 236.8L361.2 237.3L361 237.9L360.8 238.4L360.5 238.8L360.2 239.2L359.9 239.8L359.5 240.2L359.2 240.5L358.8 241L358.5 241.2L358 241.6L357.5 242L357.1 242.2L356.7 242.5L356.2 242.8L355.5 243L355 243.2L354.5 243.3L353.8 243.4L353.1 243.5L353 243.5Z" fill="#c4c4c4" stroke="#999" stroke-width="0.5"/>
<path d="M348.0 229.8h1M359.6 220.8h1M357.1 240.0h1M352.2 219.2h1M355.1 214.2h1M352.6 219.0h1M353.0 216.4h1M354.2 215.5h1M353.8 224.2h1M356.5 220.1h1M356.8 223.5h1M349.2 214.1h1M357.2 218.7h1M358.2 224.9h1M351.7 226.4h1M356.9 239.5h1M346.5 240.8h1M354.4 220.1h1M353.0 222.5h1M350.4 223.1h1M352.4 222.4h1M351.5 222.0h1M358.4 230.1h1M357.2 238.5h1M347.8 229.6h1M349.8 212.6h1M358.8 239.5h1M358.9 222.6h1M357.2 242.5h1M357.2 229.8h1M356.0 229.1h1M357.6 225.8h1M361.1 229.8h1" stroke="#555" stroke-width="1"/>
<path d="M357.9 222.2h1M358.4 221.0h1M357.3 224.7h1M356.6 239.1h1M346.8 220.5h1M357.6 217.4h1M357.1 228.9h1M359.9 238.6h1M357.2 216.3h1M359.4 237.1h1M346.5 241.3h1M353.0 242.7h1M356.9 228.2h1M357.2 216.3h1M347.2 216.8h1M355.8 223.2h1M354.8 223.4h1M352.8 220.2h1M348.4 230.2h1M354.6 215.4h1M356.8 226.4h1M353.2 211.8h1M360.0 235.7h1M358.1 218.5h1M349.6 223.3h1M352.0 224.4h1M356.0 222.8h1M356.7 222.4h1M352.4 214.7h1M359.8 222.4h1M350.8 228.0h1M355.6 216.0h1M353.6 215.1h1" stroke="#777" stroke-width="1"/>
<path d="M352.3 241.0h1M348.2 226.4h1M353.2 213.8h1M353.9 223.6h1M360.4 230.8h1M356.6 224.0h1M359.2 224.4h1M350.1 222.5h1M350.7 242.0h1M359.4 240.6h1M357.5 222.8h1M357.3 229.6h1M350.4 225.1h1M360.4 232.6h1M354.0 227.7h1M353.6 242.0h1M346.7 227.8h1M357.7 228.2h1M358.9 221.7h1M349.5 214.7h1M360.0 228.6h1M360.9 234.2h1M347.4 216.7h1M361.4 236.6h1M354.7 217.2h1M346.9 240.9h1M356.1 242.9h1M347.4 219.0h1M349.3 214.1h1M357.0 214.6h1M347.3 231.6h1M357.4 228.1h1M356.2 225.4h1M356.0 229.2h1" stroke="#999" stroke-width="1"/>
<path d="M354.2 239.8L353.5 239.9L352.8 240L352 239.9L351.2 239.8L350.8 239.6L350.2 239.4L349.8 239.1L349.3 238.8L349 238.5L348.5 238L348.2 237.7L347.9 237.2L347.6 236.8L347.4 236.2L347.2 235.8L347.1 235L347 234.5L347 233.8L347 233.2L347.1 232.5L347.2 231.9L347.5 231.3L347.8 230.8L348 230.3L348.2 230L348.7 229.5L349 229.2L349.5 228.8L349.9 228.5L350.4 228.2L351 228L351.5 227.8L352 227.8L352.8 227.7L353.5 227.7L354 227.8L354.5 228L355.2 228.2L355.6 228.5L356 228.8L356.5 229.1L356.9 229.5L357.2 229.9L357.5 230.3L357.8 230.8L358 231.2L358.2 231.8L358.4 232.5L358.5 233L358.6 233.8L358.6 234.5L358.5 235L358.3 235.8L358.1 236.2L357.9 236.8L357.6 237.2L357.3 237.8L357 238.1L356.6 238.5L356.2 238.8L355.8 239.1L355.2 239.4L354.8 239.6L354.2 239.8Z" fill="#111"/>
<path d="M353.2 235.8L352.5 235.8L352 235.7L351.5 235.3L351.2 234.9L351 234.2L351 233.8L351.1 233.2L351.4 232.8L351.8 232.4L352.2 232.2L353 232.1L353.5 232.2L354 232.6L354.3 233L354.5 233.5L354.6 234.2L354.4 234.8L354.1 235.2L353.8 235.6L353.2 235.8Z" fill="#444"/>
<path d="M346.5 207.2Q354 205.5 358.5 211.5Q362 217 362.6 226.5Q370 228.5 373.6 232.5Q375 236.5 370.5 239.5Q364 241.3 357 240.5" fill="none" stroke="#666" stroke-width="0.7"/>
<path d="M346.5 215.8Q352.5 214.5 355.5 219.5Q357.8 223.5 358.3 228" fill="none" stroke="#666" stroke-width="0.7"/>
<path d="M349.5 226.5Q349 219.5 351.5 219Q354.5 219.5 355 226" fill="none" stroke="#777" stroke-width="0.6"/>
<path d="M360.5 231Q368 231.5 370.8 234Q369 236.8 360.5 237.2" fill="none" stroke="#777" stroke-width="0.6"/>
<ellipse cx="352.8" cy="233.4" rx="1.2" ry="0.9" transform="rotate(0 352.8 233.4)" fill="#fff" fill-opacity="0.9"/>
</g>
<rect x="346.5" y="170.5" width="73" height="73.0" fill="none" stroke="#999" stroke-width="1"/>
<line x1="363.4" y1="170.5" x2="363.4" y2="243.5" stroke="#8a8a8a" stroke-width="1"/>
<line x1="346.5" y1="226.2" x2="419.5" y2="226.2" stroke="#8a8a8a" stroke-width="1"/>
<text x="347.9" y="178.6" font-size="8.5" text-anchor="start" font-weight="normal" fill="#1a1a1a" stroke="#1a1a1a" stroke-width="0.15" >6.8</text>
<text x="418.4" y="178.6" font-size="8.5" text-anchor="end" font-weight="normal" fill="#1a1a1a" stroke="#1a1a1a" stroke-width="0.15" >3.18</text>
<rect x="400.2" y="242.5" width="18.400000000000002" height="2" fill="#fff"/>
<text x="418.4" y="242.4" font-size="8.5" text-anchor="end" font-weight="normal" fill="#1a1a1a" stroke="#1a1a1a" stroke-width="0.15" >4.93</text>
<text x="419.5" y="250.1" font-size="4.2" text-anchor="middle" font-weight="normal" fill="#8a8a8a" >10<tspan dy="-1.6" font-size="2.8">4</tspan></text>
<text x="344.0" y="171.8" font-size="4.2" text-anchor="end" font-weight="normal" fill="#8a8a8a" >10<tspan dy="-1.6" font-size="2.8">4</tspan></text>
<text x="401.17" y="250.1" font-size="4.2" text-anchor="middle" font-weight="normal" fill="#8a8a8a" >10<tspan dy="-1.6" font-size="2.8">3</tspan></text>
<text x="344.0" y="190.13" font-size="4.2" text-anchor="end" font-weight="normal" fill="#8a8a8a" >10<tspan dy="-1.6" font-size="2.8">3</tspan></text>
<text x="382.84000000000003" y="250.1" font-size="4.2" text-anchor="middle" font-weight="normal" fill="#8a8a8a" >10<tspan dy="-1.6" font-size="2.8">2</tspan></text>
<text x="344.0" y="208.46" font-size="4.2" text-anchor="end" font-weight="normal" fill="#8a8a8a" >10<tspan dy="-1.6" font-size="2.8">2</tspan></text>
<text x="364.51" y="250.1" font-size="4.2" text-anchor="middle" font-weight="normal" fill="#8a8a8a" >10<tspan dy="-1.6" font-size="2.8">1</tspan></text>
<text x="344.0" y="226.79000000000002" font-size="4.2" text-anchor="end" font-weight="normal" fill="#8a8a8a" >10<tspan dy="-1.6" font-size="2.8">1</tspan></text>
<text x="367.3" y="263.6" font-size="13" text-anchor="start" font-weight="normal" fill="#000" >IL-22</text>
<text x="332.3" y="207.5" font-size="13" text-anchor="middle" font-weight="normal" fill="#000" transform="rotate(-90 332.3 207.5)" dominant-baseline="central">CXCL8</text>
<clipPath id="cB5"><rect x="441.5" y="170.5" width="73.0" height="73.0"/></clipPath>
<g clip-path="url(#cB5)">
<path d="M444.1 231.1h1M447.7 228.3h1M446.0 240.8h1M449.9 228.1h1M451.4 227.3h1M448.7 241.6h1M467.8 241.4h1M454.7 242.6h1M444.4 239.1h1M471.3 228.5h1M448.2 227.9h1M473.5 240.2h1M454.3 227.5h1M448.8 227.9h1M477.8 237.4h1M456.6 227.5h1" stroke="#6a6a6a" stroke-width="1"/>
<path d="M450.3 213.9h1M453.4 209.0h1M450.2 220.5h1M446.8 228.6h1M469.6 217.5h1M475.7 239.0h1M450.7 221.8h1M452.3 217.5h1M462.9 213.5h1M453.7 213.1h1M450.0 212.7h1M447.2 217.5h1M469.2 222.7h1M456.7 219.6h1M452.8 213.8h1M467.3 225.6h1M450.4 211.0h1M453.3 208.5h1M462.3 218.9h1M474.3 221.8h1M465.3 211.8h1M467.1 217.8h1M448.2 225.6h1M476.9 213.9h1M445.7 218.8h1M458.6 218.0h1M453.6 223.4h1M450.7 207.7h1M461.6 213.9h1M452.2 215.4h1M465.8 221.9h1M473.9 220.4h1M461.9 213.0h1M465.0 222.7h1M451.3 218.5h1M454.2 221.3h1M452.2 212.8h1M478.0 234.7h1M449.5 224.8h1M449.0 213.3h1M463.3 225.3h1M479.2 225.3h1M452.2 216.8h1M445.1 226.3h1M461.4 223.4h1M470.7 212.2h1M460.5 221.3h1M454.9 216.4h1M464.1 216.4h1M465.6 225.7h1M452.5 215.6h1M453.1 212.1h1M446.0 220.0h1M456.8 217.8h1M452.4 226.4h1M468.2 225.7h1M465.4 221.6h1M449.7 213.0h1M477.2 223.5h1M462.5 213.6h1M452.2 217.0h1M444.7 217.3h1M463.4 219.2h1M452.9 224.5h1M451.4 215.2h1M469.7 217.4h1M442.3 237.3h1M469.6 217.2h1M459.8 214.5h1M451.5 225.4h1M455.3 219.7h1M465.6 218.6h1M470.0 216.4h1M465.4 222.1h1M459.7 218.4h1M452.5 218.7h1M454.2 217.6h1M452.7 217.1h1M447.5 215.6h1M448.8 209.4h1M441.6 236.3h1M454.9 214.1h1M470.1 226.8h1M470.5 223.0h1M466.3 225.6h1M453.9 213.7h1M451.7 215.5h1M464.9 213.6h1M470.4 217.8h1M468.7 219.3h1M452.1 224.5h1M457.9 226.9h1M462.1 220.1h1M458.5 216.0h1M449.8 215.2h1M443.9 241.7h1M460.6 225.9h1M449.3 211.7h1M451.0 218.0h1M467.3 216.5h1M467.9 211.6h1M454.1 224.3h1M447.3 220.2h1M450.0 226.6h1M452.7 218.6h1M453.0 212.6h1M451.9 223.7h1M454.5 215.7h1M467.5 222.4h1M460.4 217.8h1M473.7 219.7h1M470.2 243.1h1M449.2 217.0h1M462.4 219.3h1M463.0 218.2h1M463.5 220.3h1M487.1 235.1h1M456.1 216.8h1M473.4 219.2h1M468.6 209.7h1M459.4 214.1h1M469.9 220.0h1M474.2 219.1h1M457.5 219.1h1M460.6 222.6h1M457.7 213.6h1M478.6 226.2h1M454.0 221.0h1M463.5 226.6h1M465.8 223.0h1M456.3 220.3h1M444.8 239.7h1M466.3 224.8h1M443.7 238.3h1M456.3 220.5h1M452.6 220.2h1M466.0 220.4h1M449.2 241.4h1M452.6 211.4h1M474.2 213.9h1M467.5 220.0h1M461.9 219.6h1M457.4 222.7h1M450.3 220.4h1M458.1 217.8h1M467.7 213.4h1M450.6 216.8h1M472.3 229.7h1M464.2 216.4h1M471.3 203.4h1" stroke="#8c8c8c" stroke-width="1"/>
<path d="M471.0 221.7h1M450.2 213.7h1M471.5 222.4h1M463.9 216.1h1M465.4 217.7h1M467.1 214.0h1M457.6 216.7h1M447.3 209.2h1M452.0 220.9h1M451.6 217.1h1M451.1 215.4h1M452.7 219.4h1M472.3 222.2h1M448.1 218.4h1M447.5 219.2h1M468.8 211.5h1M463.3 212.1h1M450.2 215.3h1M468.7 226.2h1M468.0 220.9h1M464.0 217.4h1M470.1 217.9h1M450.1 216.6h1M454.4 216.4h1M460.7 224.5h1M457.4 219.6h1M450.1 214.4h1M471.8 219.8h1M459.4 226.3h1M466.0 220.0h1M464.6 216.7h1M456.4 217.3h1M466.4 221.9h1M451.2 219.3h1M449.0 219.3h1M466.9 218.5h1M447.3 223.8h1M472.2 222.3h1M448.6 219.9h1M465.8 223.5h1M449.0 212.2h1M459.7 212.2h1M467.6 219.7h1M453.4 216.8h1M453.1 218.0h1M454.6 218.1h1M467.9 219.8h1M452.9 221.9h1M452.4 218.9h1M455.0 216.5h1M473.9 217.0h1M449.1 220.5h1M454.0 214.2h1M472.9 224.9h1M463.4 220.3h1M464.9 217.6h1M470.2 221.6h1M455.0 212.2h1M473.3 222.2h1M445.7 224.9h1M458.9 216.9h1M454.1 210.5h1M463.5 222.9h1M461.5 216.2h1M452.7 226.8h1M450.0 214.6h1M450.8 216.7h1M454.8 220.2h1M450.5 218.6h1M464.3 212.5h1M451.6 215.0h1M459.9 217.2h1M467.1 221.8h1M465.6 225.1h1M455.2 218.4h1M460.9 218.3h1M469.0 220.6h1M470.0 217.3h1M455.9 207.0h1M468.6 217.4h1M471.1 221.3h1M447.7 216.1h1M460.7 218.2h1M473.4 220.7h1M461.6 218.6h1M473.6 220.6h1M455.6 209.0h1M450.8 218.4h1M476.9 223.7h1M465.7 217.5h1M485.1 233.2h1M467.3 219.2h1M467.9 223.6h1M466.3 217.8h1M451.2 211.2h1M457.2 217.6h1M449.5 217.4h1M472.5 221.9h1M447.5 216.2h1M467.7 226.1h1M470.8 228.1h1M455.5 209.8h1M455.2 224.3h1M449.8 213.3h1M467.4 218.5h1M451.9 218.5h1M463.4 207.8h1M465.4 205.0h1M451.3 215.8h1M448.4 218.8h1M467.1 218.6h1M467.5 213.3h1M468.0 223.8h1M450.4 217.3h1M461.1 222.4h1M461.2 216.8h1M462.2 210.3h1M462.7 222.8h1M453.1 212.4h1M473.9 216.1h1M459.9 218.8h1M452.2 208.4h1M464.9 215.6h1M442.7 240.0h1M448.4 221.1h1M450.5 217.3h1M473.8 217.8h1M458.1 220.0h1M477.8 220.0h1M463.2 219.8h1M451.0 222.7h1M447.3 219.7h1M449.0 218.7h1M472.1 218.8h1M462.0 219.0h1M455.6 219.3h1M464.4 212.1h1M452.8 215.0h1M476.3 215.2h1M474.7 221.7h1M450.3 215.2h1M473.8 218.3h1M465.3 217.0h1M468.7 219.0h1M460.3 218.4h1M462.8 222.1h1M471.0 220.3h1M475.0 225.0h1M467.1 212.1h1M452.3 218.9h1M452.3 219.4h1M448.6 219.8h1M473.1 217.8h1M466.2 219.5h1M451.0 216.5h1M468.5 215.5h1M466.7 219.1h1M451.5 215.9h1M465.0 225.6h1M470.1 218.7h1M449.2 217.3h1M452.5 220.9h1M455.7 210.5h1M457.8 218.8h1M450.6 215.4h1M454.9 214.9h1M472.7 219.5h1M453.5 222.8h1M466.0 215.4h1M477.0 218.1h1M458.5 217.3h1M464.8 222.5h1M464.2 222.8h1M471.2 210.2h1M449.6 216.0h1M472.1 217.1h1M454.5 207.6h1M463.3 216.1h1M451.0 213.8h1M457.6 222.9h1M452.4 217.2h1M452.6 217.7h1M454.5 213.5h1M453.0 219.2h1M452.7 218.8h1M468.0 214.4h1M450.5 212.6h1M453.9 216.1h1M454.0 213.5h1M459.9 216.1h1M458.8 219.9h1M477.7 217.1h1M462.0 215.1h1M468.0 218.5h1M469.1 219.3h1M454.0 215.5h1M450.2 219.8h1M454.5 215.4h1M453.7 219.7h1M449.7 221.3h1M471.7 217.1h1M451.9 223.7h1M448.5 211.5h1M451.2 222.3h1M456.2 211.1h1M447.1 219.9h1M481.3 231.6h1M468.7 217.9h1M464.6 216.2h1M455.0 214.2h1M450.2 217.6h1M472.0 217.0h1M451.9 214.1h1M450.5 213.0h1M477.4 215.2h1M451.5 222.1h1M449.8 207.9h1M479.9 242.1h1M473.1 226.2h1M465.8 218.2h1M445.2 219.4h1M450.0 216.3h1M459.3 213.1h1M453.5 219.1h1M453.9 217.8h1M465.9 216.0h1M451.6 220.2h1M457.6 216.7h1M454.3 210.7h1M469.4 217.5h1M455.2 210.6h1M460.7 211.4h1M462.8 220.9h1M465.7 223.4h1M456.2 224.8h1M464.1 218.5h1M459.0 218.0h1M451.5 218.9h1M450.0 224.2h1M448.2 211.0h1M452.7 219.2h1M453.1 222.2h1M454.6 223.5h1M451.9 220.7h1M455.8 207.1h1M462.2 225.1h1M462.9 210.8h1M450.4 217.8h1M453.2 211.1h1M445.5 213.2h1M462.8 222.5h1M452.2 214.5h1M466.2 221.7h1M451.0 222.3h1M452.4 215.6h1M455.0 212.6h1M452.2 213.1h1M448.9 218.1h1M446.9 215.7h1M451.0 223.8h1M470.1 215.0h1M450.7 220.1h1M458.3 212.5h1M472.0 241.6h1M458.4 222.9h1M449.8 209.9h1M461.0 207.9h1M453.2 217.9h1M466.9 217.2h1M466.6 217.9h1M472.2 215.8h1M453.5 224.8h1M468.9 224.8h1M468.6 219.4h1M469.4 242.5h1M444.1 218.0h1M452.3 221.3h1M468.1 217.9h1M464.7 217.4h1M459.9 224.3h1M460.1 218.4h1M475.5 214.7h1M464.2 211.2h1M468.6 219.6h1M467.4 221.6h1M468.3 220.0h1M461.8 222.4h1M473.1 221.9h1M472.3 219.3h1M471.7 226.2h1M453.8 221.0h1M451.6 219.6h1M465.3 220.8h1M462.1 216.3h1" stroke="#b0b0b0" stroke-width="1"/>
<path d="M463.5 241.5L462.8 241.6L462 241.6L461.2 241.6L460.5 241.6L459.8 241.7L459 241.7L458.2 241.7L457.5 241.7L456.8 241.7L456 241.7L455.2 241.7L454.5 241.7L453.8 241.7L453 241.6L452.2 241.6L451.8 241.5L451 241.4L450.3 241.2L449.8 241.1L449.2 241L448.6 240.8L448 240.5L447.5 240.3L447 240L446.6 239.8L446.2 239.5L445.8 239.2L445.2 238.8L444.9 238.5L444.5 238.1L444.2 237.8L443.8 237.2L443.5 236.8L443.2 236.3L443 235.8L442.9 235.2L442.8 234.5L442.9 233.8L443 233.2L443.2 232.5L443.5 232L443.8 231.7L444.1 231.2L444.5 230.8L444.8 230.5L445.2 230.1L445.6 229.8L446 229.5L446.5 229.2L447 228.9L447.5 228.6L448 228.4L448.5 228.2L449.1 228L449.8 227.8L450.2 227.7L451 227.5L451.5 227.4L452.2 227.3L453 227.3L453.5 227.2L454.2 227.2L455 227.2L455.8 227.2L456.5 227.1L457.2 227.1L458 227.1L458.8 227.1L459.5 227.1L460.2 227.2L461 227.2L461.8 227.2L462.5 227.2L463 227.3L463.8 227.3L464.5 227.4L465.2 227.5L465.8 227.5L466.5 227.6L467.2 227.8L467.8 227.8L468.5 228L469 228.1L469.5 228.2L470.2 228.4L470.8 228.6L471.2 228.8L471.9 229L472.5 229.2L473 229.4L473.5 229.7L474 229.9L474.5 230.2L475 230.5L475.4 230.8L475.8 231.1L476.2 231.5L476.5 231.8L476.9 232.2L477.2 232.8L477.5 233.2L477.6 233.8L477.7 234.5L477.6 235.2L477.4 235.8L477.1 236.2L476.8 236.8L476.5 237.1L476 237.5L475.7 237.8L475.2 238.1L474.8 238.5L474.2 238.7L473.8 239L473.3 239.2L472.8 239.5L472.2 239.7L471.8 239.9L471.2 240L470.6 240.2L470 240.4L469.5 240.6L468.8 240.7L468.2 240.9L467.5 241L467 241.1L466.2 241.2L465.8 241.3L465 241.4L464.2 241.4L463.6 241.5L463.5 241.5Z" fill="#c4c4c4" stroke="#222" stroke-width="1.0"/>
<path d="M460.8 240L460 240L459.2 240L458.5 240.1L457.8 240.1L457 240.1L456.2 240.1L455.5 240.1L454.8 240.1L454 240.1L453.2 240L452.8 240L452 239.9L451.3 239.8L450.8 239.6L450.2 239.5L449.6 239.2L449 239L448.5 238.8L448.1 238.5L447.8 238.2L447.2 237.9L446.9 237.5L446.5 237.1L446.2 236.8L445.9 236.2L445.7 235.8L445.5 235L445.5 234.5L445.5 234L445.7 233.2L445.9 232.8L446.2 232.2L446.5 231.8L446.8 231.5L447.2 231L447.6 230.8L448 230.5L448.5 230.2L449 229.9L449.5 229.7L450 229.5L450.8 229.3L451.2 229.2L452 229L452.5 228.9L453.2 228.9L454 228.8L454.8 228.8L455.5 228.8L456.2 228.8L457 228.8L457.8 228.8L458.5 228.8L459.2 228.8L460 228.8L460.8 228.8L461.5 228.8L462.2 228.9L463 228.9L463.8 229L464.2 229L465 229.1L465.6 229.2L466.2 229.4L466.9 229.5L467.5 229.6L468 229.8L468.7 230L469.2 230.2L469.8 230.4L470.2 230.6L470.8 230.8L471.2 231.1L471.8 231.4L472.2 231.8L472.5 232L473 232.5L473.2 232.8L473.5 233.2L473.8 233.9L473.8 234.5L473.7 235L473.5 235.6L473.2 236L472.8 236.5L472.5 236.8L472 237.2L471.6 237.5L471.2 237.8L470.7 238L470.2 238.2L469.6 238.5L469 238.7L468.5 238.9L468 239L467.2 239.2L466.8 239.3L466 239.5L465.5 239.6L464.8 239.7L464.2 239.8L463.5 239.8L462.8 239.9L462 240L461.2 240L460.8 240Z" fill="none" stroke="#555" stroke-width="0.6"/>
<path d="M458.5 239L457.8 239L457 239L456.2 239.1L455.5 239.1L454.8 239.1L454 239.1L453.2 239L452.8 239L452 238.8L451.5 238.7L450.8 238.5L450.2 238.3L449.8 238.1L449.2 237.8L448.8 237.5L448.4 237.2L448 236.8L447.7 236.5L447.4 236L447.2 235.5L447 234.8L447 234.2L447.1 233.8L447.2 233.2L447.5 232.7L447.8 232.2L448.2 231.8L448.6 231.5L449 231.2L449.5 230.9L450 230.7L450.5 230.5L451.1 230.2L451.8 230.1L452.3 230L453 229.9L453.8 229.8L454.5 229.8L455.2 229.8L456 229.8L456.8 229.8L457.5 229.8L458.2 229.8L459 229.8L459.8 229.8L460.5 229.9L461.2 229.9L462 230L462.6 230L463.2 230.1L464 230.2L464.5 230.2L465.2 230.4L465.8 230.5L466.5 230.7L467 230.8L467.5 231L468.1 231.2L468.7 231.5L469.2 231.8L469.6 232L470 232.3L470.5 232.8L470.8 233.1L471 233.5L471.2 234.2L471.1 235L470.9 235.5L470.5 236L470.2 236.3L469.8 236.7L469.2 237L468.8 237.2L468.3 237.5L467.8 237.7L467.2 237.9L466.8 238L466 238.2L465.5 238.4L464.8 238.5L464.2 238.6L463.5 238.7L463 238.8L462.2 238.8L461.5 238.9L460.8 238.9L460 239L459.2 239L458.6 239L458.5 239Z" fill="#9a9a9a" stroke="#333" stroke-width="0.7"/>
<path d="M455.8 238L455 238L454.2 238L453.5 238L453 237.9L452.2 237.8L451.8 237.7L451.1 237.5L450.6 237.2L450.1 237L449.8 236.7L449.2 236.3L449 236L448.7 235.5L448.5 234.8L448.5 234L448.8 233.4L449 233L449.4 232.5L449.8 232.2L450.2 231.8L450.8 231.6L451.2 231.4L451.8 231.2L452.5 231L453 230.9L453.8 230.9L454.5 230.8L455.2 230.8L456 230.9L456.8 230.9L457.5 230.9L458.2 231L458.8 231L459.5 231.1L460.2 231.1L461 231.2L461.8 231.2L462.2 231.3L463 231.4L463.6 231.5L464.2 231.6L464.8 231.8L465.5 232L466 232.2L466.5 232.5L467 232.8L467.3 233L467.8 233.5L468 233.9L468.1 234.5L468 235L467.6 235.5L467.2 235.9L466.8 236.2L466.2 236.5L465.8 236.7L465.2 236.9L464.8 237L464 237.2L463.5 237.3L462.8 237.4L462.2 237.5L461.5 237.6L460.8 237.7L460 237.7L459.5 237.8L458.8 237.8L458 237.9L457.2 237.9L456.5 238L455.9 238L455.8 238Z" fill="none" stroke="#333" stroke-width="0.6"/>
<path d="M454.5 236.8L453.8 236.8L453.2 236.7L452.5 236.6L452 236.4L451.5 236.2L451 235.8L450.7 235.5L450.4 235L450.3 234.2L450.5 233.7L450.8 233.2L451.2 232.9L451.8 232.6L452.2 232.4L452.8 232.2L453.5 232.2L454.2 232.1L455 232.2L455.8 232.2L456.2 232.3L457 232.5L457.5 232.6L458 232.8L458.7 233L459.2 233.2L459.7 233.5L460 233.8L460.2 234.5L460 235L459.5 235.4L459 235.7L458.5 235.9L458 236.1L457.4 236.2L456.8 236.4L456.2 236.5L455.5 236.7L454.8 236.7L454.5 236.8Z" fill="#7a7a7a" stroke="#222" stroke-width="0.7"/>
<path d="M446.3 227V215Q446.8 208.6 452.5 208.3Q458.2 208.6 458.3 215V227" fill="#dcdcdc" stroke="#444" stroke-width="0.9"/>
<path d="M448.8 227V217Q449.3 211.8 452.5 211.6Q455.8 211.8 456 217V227" fill="none" stroke="#888" stroke-width="0.5"/>
<path d="M450.9 227V219.5Q451.5 215.6 452.8 215.6Q454.1 215.8 454.3 219.5V227" fill="none" stroke="#999" stroke-width="0.5"/>
</g>
<rect x="441.5" y="170.5" width="73" height="73.0" fill="none" stroke="#999" stroke-width="1"/>
<line x1="458.4" y1="170.5" x2="458.4" y2="243.5" stroke="#8a8a8a" stroke-width="1"/>
<line x1="441.5" y1="226.0" x2="514.5" y2="226.0" stroke="#8a8a8a" stroke-width="1"/>
<text x="442.9" y="178.6" font-size="8.5" text-anchor="start" font-weight="normal" fill="#1a1a1a" stroke="#1a1a1a" stroke-width="0.15" >7.81</text>
<text x="513.4" y="178.6" font-size="8.5" text-anchor="end" font-weight="normal" fill="#1a1a1a" stroke="#1a1a1a" stroke-width="0.15" >0.92</text>
<rect x="495.2" y="242.5" width="18.400000000000002" height="2" fill="#fff"/>
<text x="513.4" y="242.4" font-size="8.5" text-anchor="end" font-weight="normal" fill="#1a1a1a" stroke="#1a1a1a" stroke-width="0.15" >20.9</text>
<text x="514.5" y="250.1" font-size="4.2" text-anchor="middle" font-weight="normal" fill="#8a8a8a" >10<tspan dy="-1.6" font-size="2.8">4</tspan></text>
<text x="439.0" y="171.8" font-size="4.2" text-anchor="end" font-weight="normal" fill="#8a8a8a" >10<tspan dy="-1.6" font-size="2.8">4</tspan></text>
<text x="496.17" y="250.1" font-size="4.2" text-anchor="middle" font-weight="normal" fill="#8a8a8a" >10<tspan dy="-1.6" font-size="2.8">3</tspan></text>
<text x="439.0" y="190.13" font-size="4.2" text-anchor="end" font-weight="normal" fill="#8a8a8a" >10<tspan dy="-1.6" font-size="2.8">3</tspan></text>
<text x="477.84000000000003" y="250.1" font-size="4.2" text-anchor="middle" font-weight="normal" fill="#8a8a8a" >10<tspan dy="-1.6" font-size="2.8">2</tspan></text>
<text x="439.0" y="208.46" font-size="4.2" text-anchor="end" font-weight="normal" fill="#8a8a8a" >10<tspan dy="-1.6" font-size="2.8">2</tspan></text>
<text x="459.51" y="250.1" font-size="4.2" text-anchor="middle" font-weight="normal" fill="#8a8a8a" >10<tspan dy="-1.6" font-size="2.8">1</tspan></text>
<text x="439.0" y="226.79000000000002" font-size="4.2" text-anchor="end" font-weight="normal" fill="#8a8a8a" >10<tspan dy="-1.6" font-size="2.8">1</tspan></text>
<text x="461.8" y="263.9" font-size="13" text-anchor="start" font-weight="normal" fill="#000" >IFN-<tspan font-family="Liberation Serif" font-style="italic">γ</tspan></text>
<clipPath id="cC1"><rect x="41.5" y="313.5" width="73.0" height="73.0"/></clipPath>
<g clip-path="url(#cC1)">
<path d="M71.5 370.3h1M41.6 373.1h1M74.1 365.6h1M78.9 364.0h1M60.6 382.3h1M57.6 383.6h1M42.1 376.3h1M71.1 373.4h1M71.5 372.5h1M42.7 378.1h1M75.2 363.4h1M66.1 356.1h1M71.6 360.4h1M73.4 369.3h1M72.8 370.2h1M76.3 367.0h1M42.2 362.2h1M69.6 360.8h1M68.7 374.2h1M59.1 383.1h1M56.5 384.5h1M73.0 364.2h1M65.2 375.3h1M72.3 370.8h1M72.8 373.7h1M63.4 375.3h1M74.6 363.1h1M64.4 375.0h1M65.9 375.6h1M72.8 369.4h1M71.5 375.7h1M74.0 367.3h1M68.0 359.0h1M58.3 350.5h1M68.0 373.5h1M72.2 367.2h1M42.7 360.7h1M71.9 379.6h1M44.8 352.1h1M67.3 358.4h1M70.3 376.9h1M54.9 352.1h1M57.1 347.6h1M74.4 369.1h1M67.2 380.2h1M57.1 384.8h1M67.9 373.4h1M73.0 363.1h1M73.0 369.0h1M68.2 359.0h1M65.0 378.4h1M51.1 349.8h1M47.9 351.4h1M55.9 385.9h1M64.7 358.1h1M69.1 372.5h1M76.7 362.2h1M65.1 356.4h1M50.6 351.9h1M73.2 366.8h1M74.9 366.1h1M74.9 364.9h1M72.8 366.0h1M70.2 380.6h1M70.5 359.7h1M70.9 372.7h1M74.4 370.0h1M72.4 371.3h1M73.6 360.4h1M41.7 378.8h1M72.0 362.3h1M43.3 360.4h1M65.2 356.9h1M71.2 369.3h1M61.8 357.4h1M75.4 367.5h1M60.7 376.9h1M69.0 373.5h1M41.9 372.7h1M72.7 372.2h1M63.4 357.5h1M71.5 369.6h1M73.7 366.9h1M70.7 372.3h1M50.7 349.2h1M70.0 373.3h1M72.1 367.4h1M73.5 359.2h1M71.7 368.6h1M64.9 375.5h1M72.9 364.9h1M52.3 352.4h1M46.7 353.6h1M71.5 360.7h1M65.7 354.5h1M64.5 356.0h1M64.6 355.6h1M70.9 360.8h1M72.7 362.6h1M71.7 370.5h1M71.7 358.5h1M81.0 364.1h1M72.8 372.4h1M72.0 363.5h1M71.7 363.3h1M72.3 365.2h1M45.3 385.9h1M58.0 385.6h1M72.7 366.0h1M67.4 374.2h1M62.5 378.4h1M60.6 384.9h1M71.9 372.9h1M71.9 369.5h1M62.3 376.2h1M68.3 359.2h1M72.4 357.7h1M62.7 375.5h1M75.5 362.9h1M73.7 368.1h1M77.7 364.4h1M70.8 370.3h1M72.7 369.0h1M70.8 370.9h1M71.1 378.2h1M42.1 363.1h1M72.4 367.8h1M73.3 371.8h1M70.3 361.4h1M70.3 362.0h1M47.2 354.3h1M74.3 371.4h1M61.9 376.2h1M71.8 365.3h1M72.1 366.4h1M69.1 375.4h1M69.8 373.8h1M71.0 363.3h1M71.1 370.1h1M73.2 359.8h1M74.5 361.1h1M65.9 354.3h1M65.7 375.6h1M65.8 377.2h1M42.3 377.5h1M71.6 374.7h1M68.9 357.5h1M72.8 367.4h1M71.7 367.1h1M70.5 375.5h1M44.2 356.1h1M43.8 382.7h1M72.0 362.3h1M68.9 378.5h1M60.6 380.4h1M46.7 353.5h1M67.7 357.3h1M73.2 366.7h1M42.0 379.8h1M68.2 374.3h1M68.6 357.4h1M54.6 352.8h1M63.2 377.5h1M71.4 372.5h1M70.2 374.7h1M72.6 366.5h1M43.5 358.2h1M72.4 365.5h1M65.2 375.5h1M74.6 372.2h1M76.8 371.3h1M72.5 371.9h1M73.4 362.3h1M71.2 363.5h1M60.4 377.6h1M66.0 355.9h1M72.7 368.4h1M71.7 373.0h1M71.3 369.4h1M71.1 370.0h1M68.1 358.8h1M70.8 373.6h1M76.7 362.9h1M71.5 364.5h1M64.1 355.7h1M71.0 374.1h1M65.2 377.4h1M68.9 356.9h1M75.1 367.1h1M67.7 377.9h1M65.7 374.7h1M41.8 378.0h1M72.0 361.0h1M44.8 357.3h1M71.8 370.1h1M71.0 376.7h1M71.5 368.6h1M71.2 360.8h1M72.6 371.0h1M71.9 361.9h1M63.5 353.9h1M73.3 367.9h1M70.3 372.6h1M67.7 374.4h1M66.3 358.1h1M72.5 367.3h1M70.6 360.7h1M62.0 357.3h1M70.5 358.6h1M71.5 369.6h1M73.0 362.6h1M59.8 377.3h1M67.1 356.0h1M72.2 367.3h1M68.5 374.6h1M72.1 362.4h1M53.3 348.4h1M72.8 367.4h1M72.7 369.9h1M77.6 370.0h1M50.3 352.0h1M81.3 360.0h1M67.5 373.8h1M74.4 364.5h1M54.7 352.2h1M71.8 374.6h1M71.4 369.4h1M57.7 382.1h1M73.8 374.8h1M72.6 365.8h1M75.7 368.9h1M51.6 350.4h1M66.7 375.8h1M70.9 360.1h1M65.7 374.7h1M71.4 362.5h1M73.3 366.9h1M70.1 360.3h1M72.9 365.5h1M42.2 362.1h1M71.1 374.4h1M70.1 359.4h1M41.9 363.1h1M71.9 361.7h1M69.1 375.2h1M70.9 372.9h1M69.8 372.8h1M66.1 380.0h1M71.8 372.8h1M70.9 375.1h1M73.8 371.1h1M58.0 383.9h1M42.4 362.2h1M70.8 361.2h1M64.1 375.4h1M76.4 369.0h1M70.4 375.3h1M67.0 375.0h1M68.5 356.5h1M42.1 374.4h1M76.8 367.9h1M69.1 376.4h1M71.7 370.2h1M70.8 370.6h1M42.7 357.0h1M74.0 356.5h1M67.7 373.7h1M73.0 363.9h1M74.5 370.2h1M46.8 352.4h1M74.7 366.3h1M69.6 353.9h1M69.0 375.5h1M67.4 375.5h1M78.6 372.4h1M57.8 384.0h1M57.4 383.8h1M69.8 373.3h1M65.6 376.9h1M72.8 373.1h1M72.2 364.0h1M45.2 384.6h1M74.1 364.0h1M73.3 363.6h1M43.8 353.8h1M65.1 375.1h1M74.7 363.1h1M68.3 358.3h1M73.5 368.2h1M43.2 354.2h1M69.6 371.8h1M62.3 375.9h1M57.4 382.3h1M73.8 363.4h1M71.0 369.7h1M73.7 361.6h1M41.8 354.5h1" stroke="#888" stroke-width="1"/>
<path d="M72.4 371.2h1M72.2 377.4h1M73.3 369.0h1M55.8 352.2h1M56.7 351.5h1M68.5 374.7h1M72.5 365.4h1M43.6 349.2h1M45.6 385.3h1M76.9 369.4h1M63.2 354.8h1M75.8 366.9h1M43.3 343.8h1M70.0 377.0h1M71.4 360.9h1M63.3 355.3h1M71.2 371.7h1M72.6 372.9h1M59.6 383.6h1M66.6 374.6h1M72.5 363.6h1M71.9 365.9h1M60.4 379.9h1M60.3 377.4h1M69.3 372.6h1M73.3 358.4h1M44.5 384.2h1M54.8 352.9h1M44.3 357.2h1M59.4 379.9h1M68.1 378.3h1M68.3 380.3h1M70.4 358.9h1M77.5 367.6h1M42.2 357.0h1M72.2 364.3h1M71.2 370.8h1M69.4 373.2h1M55.8 385.3h1M62.9 377.8h1M72.2 361.9h1M72.5 372.6h1M50.0 352.7h1M69.5 372.3h1M66.9 357.9h1M68.1 374.0h1M43.5 383.7h1M43.1 354.6h1M50.0 352.5h1M67.1 375.1h1M57.1 349.7h1M43.1 360.5h1M57.7 355.5h1M70.9 370.4h1M67.5 375.1h1M70.7 358.1h1M72.2 370.8h1M72.3 370.1h1M70.2 360.6h1M65.9 354.6h1M69.9 361.5h1M68.1 359.4h1M68.2 373.1h1M41.9 353.3h1M73.5 365.4h1M74.2 364.9h1M67.2 375.1h1M72.5 365.5h1M70.0 371.5h1M71.4 369.5h1M70.3 373.3h1M72.5 367.3h1M53.9 350.1h1M75.0 364.4h1M67.2 380.5h1M54.9 353.1h1M50.1 349.6h1M69.9 360.7h1M73.8 370.2h1M65.9 379.0h1M73.4 373.2h1M70.6 362.0h1M78.7 373.7h1M67.5 356.7h1M70.5 359.8h1M47.0 352.7h1M78.2 368.8h1M71.3 372.3h1M65.8 377.6h1M72.0 367.9h1M71.7 362.7h1M76.8 372.2h1M65.5 378.3h1M70.5 360.1h1M71.0 362.2h1M72.3 368.2h1M69.4 376.9h1M69.1 372.4h1M68.4 377.6h1M60.2 355.5h1M42.6 382.7h1M71.2 371.7h1M75.4 375.2h1M71.7 372.3h1M44.6 355.2h1M57.3 382.8h1M73.9 369.8h1M45.8 351.8h1M72.8 367.9h1M72.8 367.1h1M68.6 375.2h1M70.6 362.2h1M58.0 354.8h1M74.5 373.9h1M61.9 375.5h1M72.7 371.0h1M71.7 364.4h1M43.1 379.4h1M65.0 357.1h1M76.1 364.3h1M73.7 363.2h1M75.4 366.0h1M46.8 348.8h1M74.7 369.4h1M71.1 363.3h1M58.8 386.4h1M72.0 369.6h1M65.4 355.8h1M70.7 373.7h1M71.8 362.1h1M70.6 371.3h1M49.1 350.6h1M69.5 354.1h1M73.2 361.1h1M72.0 366.9h1M64.8 355.8h1M59.7 379.3h1M70.3 371.6h1M72.9 365.1h1M42.2 356.3h1M45.8 353.7h1M72.9 366.5h1M42.3 378.6h1M73.1 371.9h1M50.4 352.0h1M69.4 361.0h1M69.0 360.5h1M69.2 373.7h1M70.2 373.7h1M54.4 351.4h1M74.5 365.3h1M41.8 371.4h1M68.3 358.3h1M78.1 360.0h1M43.2 359.7h1M68.1 377.0h1M64.9 357.6h1M50.2 351.4h1M71.9 368.0h1M66.9 374.1h1M69.4 375.5h1M65.3 375.6h1M46.0 354.1h1M64.3 382.3h1M80.2 369.1h1M62.5 356.9h1M65.9 377.5h1M73.7 368.7h1M64.8 378.2h1M70.4 372.3h1M74.9 364.6h1M71.2 362.7h1M64.0 376.3h1M63.8 375.6h1M70.6 360.0h1M71.3 360.5h1M76.5 363.3h1M57.1 356.0h1M58.7 381.5h1M42.4 357.4h1M59.7 382.7h1M43.9 384.5h1M66.6 358.9h1M65.4 377.7h1M43.9 357.8h1M67.3 379.0h1M42.0 363.7h1M44.8 357.1h1M74.4 372.2h1M42.0 384.7h1M48.0 350.7h1M69.4 356.0h1M71.8 370.6h1M66.9 376.1h1M74.5 370.4h1M55.5 386.3h1M49.2 352.6h1M72.0 369.8h1M42.2 377.1h1M71.7 367.4h1M49.3 351.0h1M44.1 382.5h1M68.2 373.4h1M70.8 370.7h1M69.8 373.3h1M71.3 370.7h1M49.8 344.1h1M60.7 378.5h1M71.3 369.7h1M70.9 369.9h1M44.9 384.5h1M41.8 373.0h1M71.8 359.8h1M76.6 368.8h1M75.9 362.3h1M43.4 356.6h1M56.1 385.1h1M73.7 370.9h1M71.7 372.5h1" stroke="#a0a0a0" stroke-width="1"/>
<path d="M48.2 347.5h1M77.3 380.3h1M53.6 346.9h1M48.4 348.6h1" stroke="#bcbcbc" stroke-width="1"/>
<path d="M54.2 386.5L53.5 386.6L52.8 386.6L52 386.6L51.2 386.6L50.5 386.6L49.8 386.6L49 386.6L48.2 386.6L47.5 386.5L46.9 386.5L46.5 386.1L46.2 385.8L45.9 385.2L45.5 384.8L45.2 384.3L45 383.8L44.8 383.4L44.5 382.8L44.2 382.3L44 381.8L43.8 381.2L43.6 380.8L43.5 380.2L43.2 379.5L43.1 379L42.9 378.5L42.8 377.8L42.6 377.2L42.5 376.6L42.4 376L42.3 375.2L42.2 374.8L42.1 374L42 373.5L41.9 372.8L41.8 372L41.8 371.2L41.8 370.5L41.8 369.8L41.7 369.2L41.8 368.8L41.8 368L41.8 367.2L41.9 366.5L41.9 365.8L42 365.2L42.1 364.5L42.2 363.8L42.3 363.2L42.5 362.5L42.6 362L42.8 361.5L43 360.8L43.1 360.2L43.3 359.8L43.5 359.2L43.8 358.7L44 358.1L44.2 357.6L44.5 357.1L44.8 356.7L45 356.2L45.3 355.8L45.7 355.2L46 354.9L46.3 354.5L46.8 354L47.1 353.8L47.5 353.4L48 353L48.5 352.8L49 352.5L49.5 352.3L50 352.2L50.8 352.1L51.5 352.1L52.2 352.2L52.8 352.4L53.2 352.6L53.8 352.8L54.2 353.1L54.8 353.4L55.2 353.8L55.6 354L56 354.3L56.5 354.7L56.9 355L57.3 355.2L57.8 355.5L58.4 355.8L59 355.9L59.8 356L60.5 356L61 356L61.8 356.1L62.5 356.2L63 356.3L63.8 356.4L64.2 356.5L64.9 356.8L65.5 356.9L66 357.1L66.5 357.3L67 357.6L67.5 357.8L68 358.1L68.5 358.4L69 358.8L69.3 359L69.8 359.4L70.1 359.8L70.5 360.1L70.9 360.5L71.2 361L71.5 361.3L71.8 361.8L72.1 362.2L72.3 362.8L72.5 363.3L72.7 364L72.9 364.5L73 365.2L73 366L73 366.8L72.9 367.5L72.7 368L72.5 368.7L72.3 369.2L72.1 369.8L71.8 370.2L71.5 370.7L71.2 371L70.9 371.5L70.5 371.9L70.1 372.2L69.8 372.6L69.3 373L69 373.2L68.5 373.6L68 373.9L67.5 374.2L67 374.4L66.5 374.7L66 374.9L65.5 375.1L64.9 375.2L64.2 375.5L63.8 375.6L63 375.7L62.5 375.8L61.8 376L61.2 376.1L60.8 376.3L60.2 376.7L60 377L59.6 377.5L59.3 378L59.1 378.5L58.8 379L58.6 379.5L58.4 380L58.1 380.5L57.9 381L57.7 381.5L57.4 382L57.1 382.5L56.9 383L56.6 383.5L56.3 384L56 384.4L55.8 384.8L55.4 385.2L55 385.8L54.8 386.1L54.4 386.5L54.2 386.5Z" fill="#acacac" stroke="#707070" stroke-width="0.6"/>
<path d="M47.1 376.0h1M55.3 371.5h1M54.2 368.6h1M46.1 361.5h1M47.0 366.4h1M54.3 365.7h1M70.4 370.9h1M51.7 382.6h1M59.1 375.6h1M57.8 359.6h1M67.6 371.1h1M69.1 360.5h1M56.0 379.2h1M43.1 363.4h1M51.7 363.7h1M47.4 376.2h1M65.6 375.4h1M45.4 382.3h1M50.7 383.8h1M63.0 367.5h1M58.7 367.5h1M70.2 362.4h1M47.9 364.2h1M43.7 365.5h1M57.7 360.8h1M56.6 358.9h1M59.2 361.9h1M53.8 362.3h1M45.8 372.7h1M53.8 368.4h1M43.0 373.4h1M62.0 368.5h1M56.9 369.0h1M47.6 380.5h1M60.3 363.0h1M57.9 377.7h1M42.8 368.3h1M56.6 381.8h1M47.2 366.2h1M62.1 363.3h1M62.1 360.3h1M53.0 356.5h1M53.5 375.2h1M51.0 354.6h1M44.6 366.8h1M54.0 361.1h1M62.7 372.4h1M47.3 357.8h1M54.9 383.9h1M60.3 359.7h1M59.9 366.2h1M51.8 379.5h1M54.2 384.5h1M48.1 364.0h1M46.8 368.5h1M69.1 366.9h1M60.4 366.7h1M65.4 359.3h1M44.4 372.8h1M44.4 369.3h1M44.3 358.3h1M64.5 361.7h1M45.8 363.7h1M47.7 362.0h1M64.0 371.0h1M49.2 382.7h1M56.5 382.3h1M61.5 365.2h1M49.3 356.4h1M65.7 365.9h1M57.4 371.2h1M52.4 380.4h1M58.4 363.7h1M46.6 380.6h1M52.5 364.4h1M49.5 356.7h1M55.0 375.5h1M46.3 371.0h1" stroke="#444" stroke-width="1"/>
<path d="M54.5 369.4h1M48.2 354.5h1M59.5 364.0h1M48.8 361.6h1M48.2 377.9h1M66.0 362.2h1M47.7 362.8h1M51.5 355.1h1M57.0 358.1h1M46.6 360.3h1M71.6 363.0h1M43.8 360.1h1M55.9 370.9h1M59.8 357.8h1M68.0 359.0h1M54.8 364.5h1M53.2 385.0h1M45.7 380.6h1M53.4 377.9h1M46.6 368.4h1M56.2 363.0h1M56.3 383.6h1M60.7 357.3h1M46.0 359.9h1M47.1 356.8h1M44.7 370.0h1M46.2 369.7h1M72.3 364.7h1M47.7 357.2h1M59.6 358.4h1M42.9 370.4h1M58.1 377.0h1M69.8 368.6h1M49.6 379.1h1M66.3 370.2h1M53.2 356.5h1M68.7 370.2h1M41.8 369.0h1M70.0 361.8h1M42.5 375.3h1M66.9 374.5h1M47.3 364.1h1M55.0 367.4h1M62.1 370.8h1M48.0 379.3h1M48.0 361.3h1M59.1 371.5h1M57.4 363.8h1M69.3 370.1h1M57.1 372.3h1M52.2 381.6h1M44.5 365.4h1M49.5 385.9h1M71.0 366.3h1M66.2 365.7h1M61.4 375.1h1M51.7 363.2h1M68.4 373.7h1M70.1 365.2h1M59.7 366.3h1M48.2 384.3h1M50.9 358.9h1M50.1 357.9h1M55.3 373.7h1M67.1 372.6h1M52.5 377.8h1M57.8 374.7h1M70.8 371.1h1M69.0 372.7h1M55.4 381.0h1M64.4 361.1h1M66.7 366.8h1M44.6 361.8h1M57.4 357.1h1M68.6 359.3h1M66.3 361.4h1" stroke="#666" stroke-width="1"/>
<path d="M66.0 365.9h1M46.6 373.4h1M65.8 361.5h1M51.7 380.4h1M63.8 359.8h1M46.9 368.6h1M48.0 379.0h1M51.8 361.0h1M55.3 362.3h1M56.2 378.7h1M68.9 368.7h1M47.8 376.5h1M45.0 372.1h1M57.0 373.7h1M53.8 377.9h1M55.3 355.7h1M61.9 360.9h1M60.1 359.5h1M53.9 378.2h1M45.0 366.6h1M43.8 377.5h1M66.8 374.9h1M56.2 356.7h1M53.5 361.0h1M66.2 374.2h1M47.6 361.9h1M50.1 355.3h1M56.0 357.1h1M47.8 365.8h1M45.4 382.5h1M55.8 373.8h1M69.8 365.8h1M65.2 372.6h1M56.1 376.4h1M45.2 357.1h1M59.7 358.8h1M59.0 363.6h1M54.4 356.7h1M67.5 365.5h1M47.1 370.2h1M59.9 372.0h1M43.1 364.2h1M66.2 374.5h1M59.6 362.8h1M45.7 370.3h1M50.5 357.6h1M67.5 373.2h1M46.6 368.3h1M59.6 376.2h1M70.9 369.8h1M66.8 360.8h1M54.5 365.8h1M47.4 359.8h1M70.9 362.2h1M44.6 368.6h1M62.4 364.0h1M55.0 372.7h1M48.5 365.2h1M55.0 384.7h1M46.2 376.3h1M54.1 370.8h1M64.0 374.0h1M55.1 358.4h1M52.3 361.2h1M48.0 384.3h1M62.9 376.2h1" stroke="#888" stroke-width="1"/>
<path d="M50.8 384.3L50.2 384.2L49.5 384.1L49 383.8L48.5 383.5L48.2 383.2L47.8 382.8L47.5 382.5L47.1 382L46.8 381.5L46.5 381L46.2 380.5L46 380L45.8 379.5L45.6 379L45.4 378.5L45.2 377.9L45.1 377.2L44.9 376.8L44.8 376L44.7 375.5L44.6 374.8L44.5 374.2L44.4 373.5L44.3 372.8L44.3 372L44.3 371.2L44.3 370.5L44.3 369.8L44.3 369L44.4 368.2L44.4 367.5L44.5 367L44.6 366.2L44.7 365.5L44.8 365L45 364.3L45.2 363.8L45.3 363.2L45.5 362.6L45.7 362L45.9 361.5L46.2 361L46.4 360.5L46.7 360L47 359.6L47.2 359.2L47.6 358.8L48 358.4L48.4 358L48.8 357.8L49.2 357.5L49.9 357.2L50.5 357.2L51.2 357.2L51.8 357.4L52.2 357.6L52.8 358L53.1 358.2L53.5 358.6L53.8 359L54.2 359.5L54.5 360L54.8 360.4L55 360.9L55.2 361.4L55.5 362L55.7 362.5L55.9 363L56 363.5L56.2 364.2L56.4 364.8L56.5 365.5L56.6 366L56.7 366.8L56.8 367.2L56.9 368L56.9 368.8L56.9 369.5L57 370.2L57 371L56.9 371.8L56.9 372.5L56.8 373.2L56.8 373.9L56.7 374.5L56.5 375.2L56.5 375.8L56.3 376.5L56.2 377L56 377.6L55.8 378.2L55.6 378.8L55.5 379.2L55.2 379.8L55 380.3L54.8 380.8L54.5 381.2L54.2 381.8L53.8 382.2L53.5 382.7L53.2 383L52.8 383.4L52.2 383.7L51.8 384L51.2 384.2L50.8 384.3Z" fill="#959595"/>
<path d="M51.2 381.5L50.5 381.6L49.8 381.5L49.2 381.3L48.9 381L48.5 380.7L48.1 380.2L47.8 379.8L47.5 379.4L47.2 378.9L47 378.4L46.8 377.8L46.5 377.2L46.4 376.8L46.2 376.2L46 375.5L45.9 375L45.8 374.2L45.7 373.8L45.6 373L45.6 372.2L45.5 371.5L45.5 370.8L45.5 370L45.6 369.2L45.6 368.5L45.7 367.8L45.8 367.2L45.9 366.5L46 366L46.2 365.2L46.4 364.8L46.5 364.2L46.8 363.7L47 363.1L47.2 362.6L47.5 362.2L47.8 361.8L48.1 361.2L48.5 360.9L48.9 360.5L49.3 360.2L49.9 360L50.5 359.9L51.2 360L51.8 360.2L52.2 360.5L52.5 360.8L53 361.2L53.2 361.6L53.6 362L53.9 362.5L54.1 363L54.3 363.5L54.5 364L54.8 364.6L54.9 365.2L55.1 365.8L55.2 366.5L55.3 367L55.4 367.8L55.5 368.3L55.6 369L55.6 369.8L55.6 370.5L55.6 371.2L55.6 372L55.5 372.8L55.5 373.2L55.4 374L55.2 374.7L55.1 375.2L55 375.9L54.8 376.5L54.7 377L54.5 377.5L54.2 378.1L54 378.6L53.8 379.1L53.5 379.5L53.2 380L52.8 380.5L52.5 380.8L52 381.2L51.5 381.4L51.2 381.5Z" fill="#7e7e7e"/>
<path d="M51.2 378.8L50.5 378.9L49.8 378.8L49.4 378.5L49 378.2L48.6 377.8L48.3 377.2L48 376.8L47.8 376.2L47.6 375.8L47.4 375.2L47.2 374.6L47.1 374L47 373.4L46.9 372.8L46.8 372L46.8 371.2L46.8 370.5L46.8 369.8L46.9 369L47 368.2L47.1 367.8L47.2 367L47.4 366.5L47.5 366L47.8 365.3L48 364.8L48.2 364.3L48.5 364L48.9 363.5L49.2 363.1L49.8 362.8L50.2 362.7L51 362.7L51.5 362.9L52 363.2L52.3 363.5L52.7 364L53 364.5L53.2 365L53.5 365.5L53.6 366L53.8 366.5L54 367.2L54.1 367.8L54.2 368.5L54.3 369L54.3 369.8L54.3 370.5L54.3 371.2L54.3 372L54.2 372.5L54.1 373.2L54 374L53.9 374.5L53.8 375.1L53.5 375.8L53.3 376.2L53.1 376.8L52.8 377.2L52.5 377.7L52.2 378L51.8 378.5L51.3 378.8L51.2 378.8Z" fill="#686868"/>
<path d="M57.5 359.6L69.5 359.2Q74 360 73.6 363.6Q73 367.2 68.8 367.6L57.5 368" fill="#f2f2f2" stroke="#555" stroke-width="0.8"/>
<path d="M59.5 361.6L67.5 361.5Q70.3 362.3 69.8 364.2Q69 365.8 66.3 365.9L59.5 366" fill="none" stroke="#999" stroke-width="0.5"/>
<ellipse cx="49.5" cy="374" rx="2" ry="6" transform="rotate(0 49.5 374)" fill="#000" fill-opacity="0.85"/>
<ellipse cx="54.2" cy="374" rx="2" ry="6" transform="rotate(0 54.2 374)" fill="#000" fill-opacity="0.85"/>
<ellipse cx="51.8" cy="385" rx="4.5" ry="1.5" transform="rotate(0 51.8 385)" fill="#000" fill-opacity="0.9"/>
<ellipse cx="51.8" cy="380" rx="4" ry="3" transform="rotate(0 51.8 380)" fill="#222" fill-opacity="0.5"/>
</g>
<rect x="41.5" y="313.5" width="73" height="73.0" fill="none" stroke="#999" stroke-width="1"/>
<line x1="60" y1="313.5" x2="60" y2="386.5" stroke="#8a8a8a" stroke-width="1"/>
<line x1="41.5" y1="368.1" x2="114.5" y2="368.1" stroke="#8a8a8a" stroke-width="1"/>
<text x="42.9" y="321.6" font-size="8.5" text-anchor="start" font-weight="normal" fill="#1a1a1a" stroke="#1a1a1a" stroke-width="0.15" >28.9</text>
<text x="113.4" y="321.6" font-size="8.5" text-anchor="end" font-weight="normal" fill="#1a1a1a" stroke="#1a1a1a" stroke-width="0.15" >6.37</text>
<rect x="95.2" y="385.5" width="18.400000000000002" height="2" fill="#fff"/>
<text x="113.4" y="385.1" font-size="8.5" text-anchor="end" font-weight="normal" fill="#1a1a1a" stroke="#1a1a1a" stroke-width="0.15" >1.77</text>
<text x="114.5" y="393.1" font-size="4.2" text-anchor="middle" font-weight="normal" fill="#8a8a8a" >10<tspan dy="-1.6" font-size="2.8">4</tspan></text>
<text x="39.0" y="314.8" font-size="4.2" text-anchor="end" font-weight="normal" fill="#8a8a8a" >10<tspan dy="-1.6" font-size="2.8">4</tspan></text>
<text x="96.17" y="393.1" font-size="4.2" text-anchor="middle" font-weight="normal" fill="#8a8a8a" >10<tspan dy="-1.6" font-size="2.8">3</tspan></text>
<text x="39.0" y="333.13" font-size="4.2" text-anchor="end" font-weight="normal" fill="#8a8a8a" >10<tspan dy="-1.6" font-size="2.8">3</tspan></text>
<text x="77.84" y="393.1" font-size="4.2" text-anchor="middle" font-weight="normal" fill="#8a8a8a" >10<tspan dy="-1.6" font-size="2.8">2</tspan></text>
<text x="39.0" y="351.46" font-size="4.2" text-anchor="end" font-weight="normal" fill="#8a8a8a" >10<tspan dy="-1.6" font-size="2.8">2</tspan></text>
<text x="59.510000000000005" y="393.1" font-size="4.2" text-anchor="middle" font-weight="normal" fill="#8a8a8a" >10<tspan dy="-1.6" font-size="2.8">1</tspan></text>
<text x="39.0" y="369.79" font-size="4.2" text-anchor="end" font-weight="normal" fill="#8a8a8a" >10<tspan dy="-1.6" font-size="2.8">1</tspan></text>
<text x="58.1" y="407.9" font-size="13" text-anchor="start" font-weight="normal" fill="#000" >CXCL8</text>
<text x="23.4" y="348.9" font-size="12.6" text-anchor="middle" font-weight="normal" fill="#000" transform="rotate(-90 23.4 348.9)" dominant-baseline="central">CD117</text>
<clipPath id="cC2"><rect x="136.5" y="313.5" width="73.0" height="73.0"/></clipPath>
<g clip-path="url(#cC2)">
<path d="M138.2 357.1h1M137.4 362.5h1M137.8 360.9h1M151.5 385.8h1M138.5 377.6h1M169.5 372.4h1M150.0 349.4h1M147.6 350.3h1M137.6 359.0h1M156.7 360.9h1M157.7 355.9h1M164.2 379.3h1M136.7 369.9h1M165.4 364.8h1M137.3 371.0h1M139.4 355.0h1M154.2 383.9h1M148.9 350.1h1M139.8 356.3h1M151.7 353.8h1M169.8 371.6h1M136.7 377.4h1M142.3 352.9h1M152.7 350.7h1M157.5 359.2h1M145.5 350.0h1M137.1 359.5h1M137.0 363.4h1M156.6 361.2h1M149.2 349.0h1M138.8 357.5h1M144.7 350.6h1M139.8 356.0h1M150.9 384.4h1M137.1 357.1h1M166.5 382.6h1M166.1 370.5h1M153.3 355.4h1M155.4 357.1h1M136.8 361.9h1M153.3 383.0h1M150.3 351.2h1M140.8 351.3h1M148.0 386.1h1M148.9 350.8h1M161.4 386.0h1M155.0 358.1h1M146.5 348.3h1M150.6 352.5h1M150.7 351.7h1M142.6 382.0h1M137.6 381.8h1M146.6 350.6h1M157.3 357.0h1M138.4 355.3h1M141.9 382.9h1M149.9 349.6h1M140.8 354.7h1M144.4 384.5h1M137.2 373.8h1M141.0 381.6h1M138.8 383.5h1M153.5 353.3h1M148.1 384.9h1M167.5 370.0h1M136.6 362.3h1M136.9 365.9h1M154.4 354.7h1M151.8 353.8h1M136.6 376.8h1M152.7 350.8h1M147.4 351.2h1M157.9 361.3h1M149.1 351.2h1M152.1 384.7h1M156.9 355.0h1M148.1 350.1h1M149.6 349.9h1M138.1 358.9h1M141.2 384.4h1M138.5 376.9h1M156.5 359.0h1M148.7 351.1h1M140.9 384.1h1M166.3 371.7h1M163.4 379.5h1M155.6 358.5h1M147.4 350.6h1M165.7 370.7h1M148.2 348.8h1M137.2 371.1h1M170.4 378.1h1M143.2 383.0h1M158.6 362.1h1M152.5 355.0h1M170.2 369.5h1M152.7 354.3h1M148.6 351.6h1M144.5 351.4h1M170.1 367.7h1M139.2 380.1h1M151.4 384.1h1M162.1 384.8h1M152.6 353.0h1M142.9 350.6h1M140.7 381.0h1M145.4 349.0h1M149.4 351.8h1M141.8 350.1h1M139.2 356.7h1M149.3 350.8h1M164.7 384.4h1M160.3 362.4h1M166.7 359.4h1M149.0 351.8h1M165.0 365.0h1M156.2 358.3h1M139.1 355.5h1M158.5 362.3h1M152.8 354.4h1M169.0 367.8h1M150.2 351.1h1M156.6 361.3h1M156.2 357.8h1M140.7 380.3h1M149.8 351.6h1M144.2 351.3h1M145.7 384.6h1M141.7 351.7h1M155.2 384.2h1M146.3 348.6h1M161.1 362.4h1M157.6 360.8h1M154.9 358.0h1M167.8 374.8h1M154.5 384.7h1M138.0 356.6h1M152.0 353.6h1M140.3 351.9h1M166.9 376.2h1M155.8 357.0h1M137.3 366.5h1M151.7 350.7h1M152.8 355.6h1M158.3 362.0h1M168.2 368.4h1M155.8 359.8h1M157.0 384.2h1M144.5 384.2h1M162.4 380.5h1M142.6 352.4h1M150.7 352.7h1M170.0 374.6h1M156.2 360.7h1M139.0 379.4h1M157.5 362.2h1M159.2 362.0h1M160.0 384.8h1M145.2 351.0h1M143.4 350.6h1M156.8 383.3h1M159.5 362.4h1M165.1 378.0h1M158.0 382.4h1M138.5 380.0h1M140.9 353.6h1M139.7 378.5h1M152.6 354.7h1M137.5 359.2h1M139.6 381.6h1M152.1 350.6h1M151.0 350.9h1M144.3 384.5h1M153.9 357.0h1M153.5 353.3h1M138.6 354.6h1M137.7 362.3h1M136.8 360.8h1M155.7 359.1h1M139.8 353.1h1M137.4 365.1h1M140.1 380.4h1M160.7 359.2h1M156.9 382.4h1M148.9 351.8h1M138.6 380.1h1M163.8 365.8h1M142.5 382.7h1M157.3 360.7h1M151.5 352.5h1M136.6 363.0h1M142.0 350.2h1M151.3 353.2h1M153.4 354.5h1M156.1 359.4h1M165.7 378.2h1M151.4 353.2h1M137.0 365.8h1M164.4 385.5h1M156.3 355.5h1M148.0 350.9h1M138.2 359.3h1M147.3 384.6h1M161.2 385.0h1M136.5 376.3h1M140.6 354.4h1M140.2 352.5h1M138.0 356.5h1M149.6 351.3h1M145.8 383.9h1M136.7 357.7h1M156.2 356.9h1M157.3 357.8h1M138.4 378.4h1M147.7 348.4h1M152.6 383.5h1M150.3 350.1h1M141.6 353.4h1M145.4 349.7h1M138.6 355.3h1M157.1 383.5h1M140.1 355.5h1M167.1 367.7h1M151.5 350.5h1M139.9 379.9h1M143.2 351.5h1M138.4 357.1h1M137.0 368.1h1M136.6 369.8h1M165.9 379.7h1M165.5 375.5h1M137.5 370.6h1M153.6 356.3h1M161.0 384.1h1M146.8 350.1h1M164.4 381.0h1M154.7 356.4h1M148.6 350.5h1M161.4 361.5h1M168.2 375.2h1M141.4 353.7h1M162.6 357.8h1M136.6 367.5h1M137.2 367.9h1M151.0 385.6h1M145.5 351.1h1M155.9 359.8h1M138.4 356.2h1M161.1 363.2h1M143.0 350.2h1M143.1 382.7h1M158.9 355.6h1M140.7 380.1h1M151.6 354.2h1M151.8 352.9h1M140.6 352.7h1M136.6 368.7h1M140.2 355.3h1M160.8 352.9h1M140.5 352.8h1M156.7 385.4h1M172.3 378.5h1M139.7 378.4h1M146.1 384.1h1M143.1 382.4h1M150.7 352.1h1M161.2 381.4h1M159.5 361.2h1M139.6 379.2h1M138.0 379.9h1M137.2 358.2h1M139.3 381.2h1" stroke="#888" stroke-width="1"/>
<path d="M137.2 354.4h1M141.9 350.5h1M137.2 372.7h1M154.7 351.3h1M137.9 354.0h1M148.8 346.6h1M153.4 385.9h1M160.4 382.2h1M144.6 348.8h1M152.7 355.4h1M147.8 345.5h1M151.4 353.4h1M136.5 362.6h1M154.7 385.1h1M149.8 351.3h1M154.8 358.5h1M145.3 350.0h1M169.0 371.7h1M139.0 356.6h1M154.7 357.8h1M161.7 382.0h1M147.3 350.5h1M149.1 346.4h1M151.5 350.0h1M146.3 346.5h1M138.8 357.3h1M146.0 351.1h1M153.4 353.8h1M136.6 366.7h1M141.4 384.5h1M153.0 355.6h1M141.3 351.6h1M137.1 373.5h1M140.8 350.3h1M154.6 356.3h1M141.0 381.1h1M141.9 349.3h1M164.4 367.1h1M152.7 346.5h1M144.1 351.5h1M148.5 384.6h1M137.6 360.1h1M154.7 357.9h1M137.4 354.8h1M143.1 349.5h1M167.9 366.3h1M139.3 345.5h1M141.0 353.8h1M140.6 353.5h1M139.2 344.6h1M167.4 366.6h1M170.2 368.3h1M146.1 384.0h1M138.5 358.2h1M146.2 384.1h1M154.4 384.2h1M148.7 349.1h1M139.4 356.4h1M171.2 378.7h1M137.7 354.5h1M146.9 384.1h1M138.7 353.4h1M137.2 370.1h1M142.2 350.7h1M152.3 353.6h1M151.3 353.6h1M153.8 351.2h1M137.5 357.2h1M144.7 348.2h1M137.2 371.4h1M140.1 382.6h1M156.3 361.3h1M143.3 345.8h1M140.1 384.3h1M154.1 353.8h1M143.2 348.7h1M167.6 373.9h1M138.0 355.8h1M150.0 348.5h1M148.4 349.8h1M161.0 381.3h1M144.8 348.4h1M143.5 350.8h1M164.8 377.3h1M139.5 353.5h1M152.7 384.6h1M141.0 354.2h1M141.6 384.6h1M159.8 363.5h1M145.3 345.9h1M138.5 358.1h1M146.0 345.4h1M156.0 358.8h1M147.0 350.4h1M166.7 366.6h1M152.7 354.8h1M137.4 360.8h1M137.0 356.0h1M151.3 351.0h1M146.0 348.3h1M146.7 349.0h1M142.2 348.4h1M142.2 344.9h1M167.8 377.7h1M141.1 354.1h1M145.3 346.7h1M136.8 360.4h1M151.5 352.8h1M162.5 364.5h1M163.3 382.5h1M166.7 376.3h1M169.3 376.8h1M136.6 361.6h1M154.9 358.3h1M164.1 365.9h1M154.2 349.0h1M170.3 381.7h1M150.8 348.8h1M151.4 349.8h1M137.9 381.9h1M165.7 378.6h1M163.3 365.6h1M137.0 375.3h1M154.7 356.2h1M154.6 354.4h1M149.3 385.3h1M166.3 370.6h1M136.8 366.0h1M159.7 384.4h1M152.2 383.1h1M142.1 350.5h1M145.0 350.9h1M136.7 378.7h1M138.6 376.6h1M152.8 384.5h1M137.3 362.9h1M143.3 347.6h1M170.9 373.9h1M142.6 350.9h1M139.1 379.4h1M154.3 356.1h1M146.0 350.5h1M140.6 351.4h1M154.6 356.9h1M149.9 351.0h1M160.7 386.1h1M151.9 352.5h1M138.7 377.5h1M167.6 371.4h1M161.7 359.5h1M152.8 354.1h1M144.5 343.6h1M142.5 383.7h1M144.7 351.2h1M137.4 372.4h1M165.0 380.3h1M160.2 357.7h1M155.0 357.0h1M150.0 352.6h1M137.4 366.5h1M141.7 353.4h1M138.8 355.5h1M140.9 381.4h1M138.4 377.6h1M166.5 370.6h1M148.3 350.0h1M149.4 351.6h1M149.9 350.1h1M163.1 363.7h1M151.6 352.4h1M141.0 350.1h1M156.9 359.6h1M165.0 363.4h1M138.6 356.2h1M151.0 352.9h1M152.2 345.9h1M157.3 359.6h1M154.5 349.2h1M167.3 370.3h1M169.7 374.2h1M143.3 351.8h1M142.6 351.1h1M151.0 351.3h1M142.1 383.7h1M153.5 350.0h1M139.0 352.5h1M139.2 355.8h1M138.0 353.0h1M146.3 348.5h1M146.9 351.0h1M138.9 357.8h1M155.4 358.1h1M151.0 350.8h1M138.9 356.4h1M146.1 346.0h1M157.0 361.9h1M149.0 348.4h1M141.2 352.5h1M149.2 385.2h1M140.1 355.2h1M146.2 350.2h1M156.5 359.0h1M149.5 350.1h1M164.7 365.5h1M142.3 382.8h1M138.5 378.9h1M137.6 355.2h1M161.1 358.7h1M161.9 363.3h1M143.8 351.3h1M139.4 378.6h1M166.0 369.9h1M152.1 354.0h1M139.2 357.4h1M158.8 362.0h1M149.4 346.8h1M137.6 380.2h1M143.2 351.2h1M143.4 347.1h1M143.0 382.6h1M136.8 362.1h1M143.9 384.4h1M151.2 351.8h1M145.5 349.4h1M166.3 372.0h1M138.3 357.5h1M138.2 360.4h1M137.3 357.4h1M148.9 349.1h1M143.9 351.0h1M147.6 350.9h1M157.7 361.5h1M144.7 349.8h1M142.4 352.1h1M140.0 379.5h1M150.1 351.0h1M139.2 382.3h1M143.2 383.1h1M140.7 349.7h1M154.8 351.1h1M150.4 351.7h1M147.3 349.5h1M138.6 356.4h1M154.2 356.6h1M137.4 363.0h1M167.2 367.3h1M155.4 358.3h1M151.1 349.3h1M138.6 377.4h1M145.4 351.1h1M136.5 372.7h1M152.1 353.0h1M143.3 344.3h1M153.6 356.9h1M152.9 354.3h1M136.6 364.4h1M147.0 350.6h1M137.8 358.6h1" stroke="#a0a0a0" stroke-width="1"/>
<path d="M144.6 348.4h1M142.5 349.1h1M146.6 347.8h1M140.1 347.2h1M137.2 351.6h1M144.0 347.5h1M149.8 347.9h1M144.8 348.1h1M143.1 347.0h1M143.6 342.9h1M140.0 343.0h1M144.7 347.9h1M143.0 348.7h1M137.2 353.7h1M154.2 348.3h1M139.6 342.4h1M139.1 351.5h1M136.6 356.3h1M141.7 347.9h1M145.4 347.5h1M154.8 348.9h1M143.2 346.2h1M137.2 352.8h1M143.5 348.6h1M142.2 346.8h1M141.9 347.2h1M138.3 351.4h1M149.7 346.8h1M144.3 348.3h1M142.8 347.7h1" stroke="#bcbcbc" stroke-width="1"/>
<path d="M149.2 383.8L148.5 383.8L147.8 383.8L147 383.8L146.5 383.7L145.8 383.5L145.2 383.4L144.8 383.2L144.2 382.9L143.8 382.7L143.2 382.3L142.8 382L142.5 381.8L142 381.3L141.7 381L141.2 380.5L141 380.2L140.6 379.8L140.3 379.2L140 378.8L139.8 378.3L139.5 377.9L139.2 377.4L139 376.8L138.8 376.2L138.6 375.8L138.4 375.2L138.2 374.8L138 374L137.9 373.5L137.8 372.9L137.6 372.2L137.5 371.5L137.4 371L137.3 370.2L137.3 369.5L137.2 369L137.2 368.2L137.2 367.5L137.2 366.8L137.2 366L137.2 365.4L137.3 364.8L137.4 364L137.5 363.2L137.5 362.8L137.7 362L137.8 361.5L137.9 360.8L138.1 360.2L138.2 359.5L138.4 359L138.6 358.5L138.8 358L139 357.3L139.2 356.8L139.5 356.2L139.7 355.8L140 355.2L140.2 354.8L140.5 354.4L140.8 354L141.1 353.5L141.5 353L141.8 352.8L142.2 352.3L142.5 352L143 351.6L143.5 351.3L144 351L144.5 350.8L145 350.7L145.8 350.5L146.5 350.5L147.2 350.6L147.8 350.8L148.4 351L149 351.2L149.4 351.5L149.8 351.8L150.2 352.1L150.7 352.5L151 352.8L151.4 353.2L151.8 353.6L152.1 354L152.5 354.5L152.8 354.9L153 355.2L153.4 355.8L153.7 356.2L154 356.7L154.2 357.1L154.5 357.5L154.9 358L155.2 358.5L155.5 358.9L155.8 359.2L156.2 359.8L156.5 360L157 360.5L157.4 360.8L157.9 361L158.4 361.2L158.9 361.5L159.5 361.7L160 362L160.5 362.2L161 362.5L161.5 362.7L161.9 363L162.3 363.2L162.8 363.6L163.2 364L163.5 364.2L164 364.7L164.3 365L164.7 365.5L165 365.9L165.2 366.3L165.5 366.8L165.8 367.2L166.1 367.8L166.3 368.2L166.5 368.9L166.7 369.5L166.8 370L166.9 370.8L167 371.5L167 372L167 372.5L166.9 373.2L166.8 374L166.7 374.5L166.5 375.1L166.3 375.8L166.1 376.2L165.8 376.8L165.5 377.2L165.2 377.7L165 378.1L164.7 378.5L164.3 379L164 379.3L163.5 379.8L163.2 380L162.8 380.4L162.3 380.8L161.9 381L161.5 381.2L161 381.5L160.5 381.8L160 382L159.4 382.2L158.8 382.5L158.2 382.6L157.6 382.8L157 382.9L156.2 383L155.8 383L155 383.1L154.2 383.2L153.5 383.2L153 383.3L152.2 383.4L151.5 383.5L151 383.5L150.2 383.6L149.5 383.7L149.2 383.8Z" fill="#acacac" stroke="#707070" stroke-width="0.6"/>
<path d="M155.3 365.8h1M153.1 371.1h1M154.7 361.1h1M140.8 366.7h1M149.6 364.8h1M142.3 354.6h1M150.1 364.4h1M147.7 356.2h1M149.3 370.9h1M156.6 379.1h1M151.9 379.6h1M161.9 373.0h1M153.6 373.5h1M145.5 377.5h1M141.6 356.8h1M148.6 373.0h1M161.7 372.3h1M150.8 369.9h1M156.3 381.6h1M152.0 363.7h1M151.3 361.3h1M158.2 370.4h1M138.7 374.1h1M138.8 372.4h1M142.1 366.3h1M148.3 377.6h1M159.9 369.7h1M160.0 363.5h1M153.2 381.3h1M161.3 365.7h1M150.4 378.4h1M141.5 371.7h1M140.8 368.5h1M157.6 378.4h1M154.8 373.7h1M162.3 379.6h1M146.2 373.4h1M156.8 377.1h1M138.1 363.4h1M144.5 354.1h1M151.7 367.3h1M138.5 369.8h1M143.6 377.4h1M159.5 366.1h1M142.3 357.8h1M158.8 370.5h1M157.3 368.6h1M153.2 381.4h1M143.1 358.9h1M157.8 382.0h1M146.3 353.4h1M138.6 374.0h1M155.3 379.8h1M143.9 362.0h1M140.6 368.8h1M161.6 373.7h1M153.9 368.1h1M140.9 354.7h1M141.4 363.7h1M145.4 352.9h1M138.7 370.9h1M154.8 359.2h1M157.9 361.6h1" stroke="#444" stroke-width="1"/>
<path d="M144.9 375.2h1M150.2 367.4h1M164.7 374.5h1M151.9 381.2h1M145.9 352.7h1M156.3 381.3h1M143.1 374.8h1M160.8 376.0h1M140.7 374.1h1M150.4 369.2h1M146.2 382.9h1M155.4 372.3h1M141.5 354.4h1M145.5 358.2h1M146.1 357.2h1M148.5 382.1h1M144.2 378.4h1M143.1 372.7h1M156.6 371.0h1M138.3 374.5h1M154.7 371.5h1M159.7 381.9h1M153.3 366.7h1M148.2 356.2h1M141.4 355.8h1M146.0 379.2h1M153.8 371.2h1M164.3 373.5h1M150.4 366.1h1M154.9 377.9h1M147.0 358.2h1M156.3 364.2h1M158.4 366.2h1M140.8 379.9h1M147.4 353.9h1M140.6 373.0h1M150.7 369.0h1M157.6 373.5h1M148.4 383.0h1M147.6 380.4h1M141.0 371.3h1M155.2 359.7h1M157.4 367.3h1M143.0 378.6h1M143.6 368.7h1M151.0 378.3h1M149.3 369.8h1M144.3 371.2h1M158.9 365.5h1M141.8 378.7h1M148.0 381.3h1M142.7 359.0h1M139.8 358.0h1M147.5 383.8h1M164.7 369.4h1M145.3 360.0h1M160.9 367.9h1M143.6 366.6h1M162.9 374.7h1M150.8 367.5h1M153.0 383.4h1M138.9 370.3h1M152.8 372.0h1M154.0 375.9h1M142.4 359.8h1M148.7 380.3h1M144.4 357.4h1M141.1 377.0h1M150.6 358.5h1" stroke="#666" stroke-width="1"/>
<path d="M138.1 366.2h1M156.4 375.9h1M148.4 383.4h1M165.2 370.0h1M157.9 372.9h1M140.3 361.6h1M162.3 377.8h1M165.6 375.9h1M141.0 370.7h1M145.7 377.4h1M146.4 356.7h1M162.5 373.3h1M154.3 365.1h1M140.9 368.6h1M152.3 375.9h1M154.4 366.7h1M158.7 364.9h1M147.1 374.7h1M142.9 361.7h1M140.8 363.6h1M148.5 366.3h1M165.0 370.9h1M153.2 367.9h1M146.6 370.3h1M157.9 365.2h1M144.9 353.2h1M151.7 368.6h1M158.0 382.9h1M152.7 371.2h1M155.6 361.0h1M151.4 358.2h1M153.4 379.8h1M158.4 372.6h1M141.5 360.8h1M141.2 357.6h1M140.3 376.0h1M147.9 360.7h1M145.2 370.9h1M146.6 374.7h1M141.2 371.7h1M146.5 357.0h1M151.1 383.8h1M147.7 360.9h1M147.1 358.1h1M162.0 369.0h1M152.7 373.0h1M142.7 364.3h1M138.2 361.8h1M142.6 379.9h1M158.4 365.7h1M142.4 380.3h1M153.4 372.2h1M141.3 366.9h1M145.3 376.9h1M152.1 359.4h1M161.1 375.3h1M142.0 379.2h1M156.4 364.8h1M156.0 367.3h1M156.4 381.0h1M158.2 375.2h1M144.6 375.2h1M156.0 365.1h1M145.1 372.3h1M152.4 382.8h1M155.3 372.2h1M147.0 381.1h1M157.1 373.3h1M152.8 378.8h1M165.8 371.6h1M145.5 352.6h1M163.6 365.6h1M152.7 381.7h1M147.1 357.7h1M152.9 355.7h1M143.9 375.4h1M160.7 372.0h1M156.4 378.5h1M149.6 379.5h1M155.7 377.9h1M161.6 372.9h1M143.3 367.0h1M140.5 358.8h1M154.5 363.4h1M156.3 368.2h1M155.6 361.3h1M162.2 380.1h1M151.0 368.7h1" stroke="#888" stroke-width="1"/>
<path d="M146.8 376L146 376.1L145.4 376L144.8 375.8L144.3 375.5L143.9 375.2L143.5 374.9L143.2 374.5L142.8 374L142.5 373.6L142.2 373.2L142 372.7L141.8 372.2L141.5 371.5L141.3 371L141.2 370.5L141 369.8L140.9 369.2L140.8 368.5L140.7 368L140.6 367.2L140.6 366.5L140.6 365.8L140.6 365L140.6 364.2L140.7 363.5L140.8 363L140.9 362.2L141 361.8L141.2 361L141.4 360.5L141.5 360L141.8 359.5L142 358.9L142.2 358.4L142.5 358L142.9 357.5L143.2 357L143.5 356.8L144 356.3L144.5 356L145 355.8L145.5 355.6L146.2 355.6L147 355.7L147.5 355.9L148 356.2L148.4 356.5L148.8 356.8L149.1 357.2L149.5 357.7L149.8 358.1L150 358.5L150.2 359L150.5 359.6L150.8 360.2L150.9 360.8L151.1 361.2L151.2 361.9L151.4 362.5L151.5 363.1L151.6 363.8L151.7 364.5L151.7 365.2L151.7 366L151.7 366.8L151.7 367.5L151.6 368.2L151.5 368.9L151.4 369.5L151.2 370.1L151.1 370.8L150.9 371.2L150.7 371.8L150.5 372.4L150.2 372.9L150 373.3L149.7 373.8L149.4 374.2L149 374.7L148.7 375L148.2 375.4L147.8 375.7L147.2 375.9L146.8 376Z" fill="#959595"/>
<path d="M146.2 373L145.7 373L145 372.8L144.6 372.5L144.2 372.2L143.8 371.8L143.5 371.3L143.2 370.8L143 370.3L142.8 369.8L142.6 369.2L142.5 368.8L142.3 368L142.2 367.5L142.2 366.8L142.1 366L142.1 365.2L142.2 364.5L142.2 363.8L142.3 363.2L142.5 362.5L142.7 362L142.8 361.5L143 361L143.3 360.5L143.6 360L143.9 359.5L144.2 359.2L144.8 358.8L145.2 358.5L145.8 358.4L146.5 358.4L147 358.6L147.5 358.9L147.9 359.2L148.2 359.6L148.5 360L148.8 360.5L149.1 361L149.3 361.5L149.5 362.1L149.7 362.8L149.8 363.2L149.9 364L150 364.8L150 365.2L150 366L150 366.6L149.9 367.2L149.8 368L149.7 368.5L149.5 369.2L149.4 369.8L149.2 370.2L149 370.8L148.7 371.2L148.3 371.8L148 372.1L147.6 372.5L147.2 372.8L146.5 373L146.2 373Z" fill="#7e7e7e"/>
<path d="M146.5 370.3L145.8 370.4L145.2 370.2L144.8 369.8L144.5 369.4L144.2 369L144 368.5L143.8 367.8L143.6 367.2L143.5 366.5L143.5 365.9L143.5 365.3L143.5 364.8L143.7 364L143.8 363.5L144 362.8L144.2 362.3L144.5 361.9L144.8 361.5L145.2 361.1L145.8 360.9L146.5 361L147 361.2L147.3 361.5L147.7 362L148 362.5L148.2 363L148.3 363.5L148.5 364.2L148.6 364.8L148.6 365.5L148.6 366.2L148.5 367L148.4 367.5L148.2 368.1L148 368.7L147.8 369.2L147.5 369.6L147.1 370L146.7 370.2L146.5 370.3Z" fill="#686868"/>
<ellipse cx="160" cy="376.3" rx="7.6" ry="6.1" fill="#ececec" stroke="#555" stroke-width="0.8"/>
<ellipse cx="159.3" cy="376.6" rx="5" ry="4" fill="none" stroke="#888" stroke-width="0.5"/>
<ellipse cx="158.8" cy="377" rx="2.6" ry="2" fill="none" stroke="#999" stroke-width="0.5"/>
<ellipse cx="149.3" cy="365" rx="2" ry="5.5" transform="rotate(5 149.3 365)" fill="#000" fill-opacity="0.85"/>
<ellipse cx="146" cy="370" rx="3" ry="6" transform="rotate(0 146 370)" fill="#222" fill-opacity="0.35"/>
<ellipse cx="162.7" cy="384.2" rx="5.3" ry="0.9" transform="rotate(0 162.7 384.2)" fill="#000" fill-opacity="0.9"/>
</g>
<rect x="136.5" y="313.5" width="73" height="73.0" fill="none" stroke="#999" stroke-width="1"/>
<line x1="152.6" y1="313.5" x2="152.6" y2="386.5" stroke="#8a8a8a" stroke-width="1"/>
<line x1="136.5" y1="368.3" x2="209.5" y2="368.3" stroke="#8a8a8a" stroke-width="1"/>
<text x="137.9" y="321.6" font-size="8.5" text-anchor="start" font-weight="normal" fill="#1a1a1a" stroke="#1a1a1a" stroke-width="0.15" >34.6</text>
<text x="208.4" y="321.6" font-size="8.5" text-anchor="end" font-weight="normal" fill="#1a1a1a" stroke="#1a1a1a" stroke-width="0.15" >0.7</text>
<rect x="190.2" y="385.5" width="18.400000000000002" height="2" fill="#fff"/>
<text x="208.4" y="385.1" font-size="8.5" text-anchor="end" font-weight="normal" fill="#1a1a1a" stroke="#1a1a1a" stroke-width="0.15" >21.8</text>
<text x="209.5" y="393.1" font-size="4.2" text-anchor="middle" font-weight="normal" fill="#8a8a8a" >10<tspan dy="-1.6" font-size="2.8">4</tspan></text>
<text x="134.0" y="314.8" font-size="4.2" text-anchor="end" font-weight="normal" fill="#8a8a8a" >10<tspan dy="-1.6" font-size="2.8">4</tspan></text>
<text x="191.17000000000002" y="393.1" font-size="4.2" text-anchor="middle" font-weight="normal" fill="#8a8a8a" >10<tspan dy="-1.6" font-size="2.8">3</tspan></text>
<text x="134.0" y="333.13" font-size="4.2" text-anchor="end" font-weight="normal" fill="#8a8a8a" >10<tspan dy="-1.6" font-size="2.8">3</tspan></text>
<text x="172.84" y="393.1" font-size="4.2" text-anchor="middle" font-weight="normal" fill="#8a8a8a" >10<tspan dy="-1.6" font-size="2.8">2</tspan></text>
<text x="134.0" y="351.46" font-size="4.2" text-anchor="end" font-weight="normal" fill="#8a8a8a" >10<tspan dy="-1.6" font-size="2.8">2</tspan></text>
<text x="154.51" y="393.1" font-size="4.2" text-anchor="middle" font-weight="normal" fill="#8a8a8a" >10<tspan dy="-1.6" font-size="2.8">1</tspan></text>
<text x="134.0" y="369.79" font-size="4.2" text-anchor="end" font-weight="normal" fill="#8a8a8a" >10<tspan dy="-1.6" font-size="2.8">1</tspan></text>
<text x="157.3" y="408.3" font-size="13" text-anchor="start" font-weight="normal" fill="#000" >IFN-<tspan font-family="Liberation Serif" font-style="italic">γ</tspan></text>
<clipPath id="cC3"><rect x="231.5" y="313.5" width="73.0" height="73.0"/></clipPath>
<g clip-path="url(#cC3)">
<path d="M245.0 381.8h1M258.0 370.7h1M256.5 376.6h1M253.3 382.3h1M259.5 375.0h1M253.1 356.8h1M231.9 378.6h1M261.8 370.7h1M253.2 376.6h1M258.3 370.0h1M259.7 375.3h1M239.2 349.9h1M263.9 366.9h1M259.9 375.8h1M254.4 377.2h1M235.4 354.7h1M251.8 378.0h1M245.4 356.3h1M260.8 366.2h1M261.2 372.5h1M245.2 384.0h1M245.7 381.0h1M253.7 377.4h1M260.2 373.0h1M256.1 374.8h1M247.5 379.8h1M240.5 386.3h1M259.5 375.1h1M235.7 353.8h1M247.2 377.9h1M265.2 361.9h1M260.7 373.7h1M257.0 376.0h1M254.1 357.9h1M253.1 375.6h1M251.0 376.4h1M257.2 373.2h1M258.2 372.1h1M244.2 383.4h1M234.2 383.0h1M233.5 354.2h1M260.2 365.6h1M256.9 381.1h1M255.0 374.2h1M257.4 372.9h1M252.8 375.7h1M251.2 377.7h1M256.9 372.5h1M258.5 373.2h1M239.3 352.1h1M259.3 362.3h1M241.7 385.7h1M240.8 350.5h1M258.1 371.5h1M243.7 353.8h1M258.4 362.7h1M259.0 371.1h1M259.9 365.4h1M260.6 374.2h1M259.2 374.2h1M260.6 375.3h1M251.6 376.2h1M257.3 352.7h1M244.4 383.5h1M258.3 362.9h1M258.6 368.8h1M254.1 376.8h1M258.8 365.1h1M263.4 380.8h1M254.9 376.4h1M251.8 354.8h1M253.8 377.7h1M262.2 366.0h1M231.7 372.5h1M258.2 369.9h1M262.4 365.0h1M259.4 363.3h1M248.8 378.9h1M258.0 361.1h1M252.5 375.6h1M250.2 378.5h1M253.0 377.9h1M261.0 380.1h1M261.4 366.8h1M264.0 371.4h1M250.3 378.0h1M256.2 378.9h1M261.2 363.7h1M261.6 371.0h1M259.9 368.7h1M261.5 367.7h1M231.8 363.8h1M267.3 359.6h1M257.7 356.5h1M255.5 376.6h1M260.3 367.0h1M260.2 367.4h1M261.7 363.4h1M254.9 374.7h1M259.9 367.9h1M260.0 371.2h1M253.7 376.9h1M246.5 380.0h1M253.3 377.6h1M252.8 375.8h1M256.7 382.8h1M233.2 354.9h1M252.0 383.6h1M255.6 376.3h1M234.8 383.9h1M262.6 357.2h1M258.6 375.7h1M260.8 362.4h1M256.7 377.1h1M244.3 351.6h1M258.8 375.1h1M260.7 370.7h1M253.7 376.5h1M239.1 350.6h1M261.7 363.0h1M262.7 366.9h1M258.3 371.5h1M261.8 369.8h1M258.0 378.1h1M258.3 361.3h1M259.2 364.1h1M250.0 351.8h1M232.8 379.2h1M259.0 372.1h1M247.1 376.9h1M262.4 368.6h1M255.6 379.5h1M262.2 380.5h1M255.4 358.7h1M255.0 377.2h1M257.2 374.3h1M257.1 376.8h1M255.4 378.9h1M251.4 376.8h1M258.6 377.2h1M259.4 365.6h1M238.9 352.7h1M261.7 364.4h1M246.2 352.2h1M258.7 369.6h1M247.8 354.4h1M261.2 370.7h1M254.0 376.4h1M263.9 366.0h1M249.7 380.3h1M255.7 375.1h1M249.5 378.8h1M256.0 373.8h1M256.4 375.5h1M240.6 350.7h1M262.5 370.4h1M255.5 357.5h1M252.3 375.8h1M256.7 380.9h1M260.5 370.5h1M259.1 373.2h1M257.0 376.6h1M232.4 376.8h1M252.7 375.5h1M258.0 376.2h1M235.1 352.1h1M266.1 370.9h1M241.1 386.5h1M263.3 372.3h1M251.3 378.9h1M232.2 362.1h1M258.0 357.4h1M236.9 352.6h1M259.0 368.5h1M254.9 377.7h1M255.0 375.7h1M262.5 363.5h1M259.7 370.4h1M265.5 358.8h1M257.1 357.8h1M247.4 383.5h1M259.9 374.7h1M256.2 354.3h1M257.8 375.2h1M247.9 376.8h1M254.7 375.0h1M257.8 374.1h1M263.7 369.8h1M259.6 368.9h1M239.2 386.3h1M257.1 377.4h1M233.4 383.2h1M233.3 358.8h1M263.3 369.1h1M258.7 371.8h1M245.7 378.6h1M261.8 364.0h1M262.2 365.4h1M231.6 375.5h1M247.4 356.1h1M247.8 379.2h1M258.9 371.4h1M260.1 365.5h1M254.4 375.5h1M260.6 370.4h1M259.0 366.4h1M259.0 376.0h1M251.8 354.0h1M259.1 364.7h1M254.7 375.2h1M260.8 361.8h1M261.2 365.1h1M235.8 384.8h1M253.6 348.5h1M259.4 374.6h1M241.5 386.0h1M259.3 373.0h1M255.3 357.9h1M255.9 375.0h1M261.1 363.3h1M257.1 356.3h1M260.2 363.2h1M260.4 376.6h1M260.0 365.2h1M261.3 371.6h1M258.0 373.9h1M263.1 377.2h1M250.3 378.6h1M262.7 366.2h1M234.5 354.7h1M234.8 355.1h1M258.6 370.8h1M261.4 365.5h1M231.6 359.8h1M261.8 380.7h1M259.7 362.8h1M252.4 357.2h1M254.0 377.2h1M259.2 376.8h1M257.8 357.2h1M253.4 357.8h1M260.8 363.2h1M238.8 348.1h1M260.5 366.6h1M257.2 378.0h1M258.3 374.4h1M244.1 384.4h1M259.7 361.0h1M255.5 358.9h1M257.7 376.1h1M256.1 374.5h1M258.5 371.6h1M262.0 369.5h1M261.2 370.4h1M256.7 372.5h1M257.0 372.7h1M252.9 375.4h1M254.9 375.6h1M257.0 372.0h1M251.2 381.5h1M263.2 355.9h1M251.5 377.6h1M262.6 371.4h1M242.9 385.0h1M257.7 374.0h1M257.3 359.2h1M235.0 355.3h1M253.0 378.5h1M254.0 378.4h1M254.6 375.3h1M249.5 379.2h1M256.4 358.7h1M260.2 376.5h1M260.1 366.3h1M261.5 371.2h1M266.7 358.6h1M255.4 375.3h1M253.1 376.6h1M263.2 371.6h1M258.4 377.6h1M244.6 354.6h1M259.1 365.9h1M258.6 373.5h1M256.3 377.0h1M257.8 361.7h1M259.0 363.9h1M240.2 386.1h1M240.0 347.9h1M259.5 372.5h1M260.2 356.2h1M257.2 372.7h1M257.1 380.0h1M251.1 356.6h1M264.7 364.2h1M233.2 380.5h1M231.9 363.3h1M258.0 379.7h1M264.4 367.8h1M261.6 363.9h1M257.8 359.0h1M259.0 370.7h1M263.0 371.7h1M256.7 376.8h1M258.1 359.7h1M257.8 361.9h1M256.1 373.6h1M253.6 375.9h1M257.8 372.1h1M263.4 361.1h1M258.7 370.9h1M255.1 378.3h1M258.5 373.0h1M261.1 363.6h1M234.4 355.2h1M234.5 351.9h1M258.1 378.9h1M233.3 354.6h1M254.2 375.7h1M250.8 376.5h1M259.8 362.6h1M234.7 351.7h1M253.5 376.1h1M260.1 368.6h1M255.0 374.4h1M259.9 367.3h1M257.0 360.0h1M249.7 379.6h1M260.4 369.9h1M259.0 374.5h1M258.0 373.6h1M254.4 374.8h1M256.1 378.3h1" stroke="#888" stroke-width="1"/>
<path d="M264.1 372.6h1M244.5 351.8h1M242.4 385.3h1M245.5 353.4h1M257.8 372.5h1M249.1 376.5h1M260.2 373.8h1M262.0 383.9h1M248.6 355.7h1M259.6 364.2h1M240.2 351.8h1M261.6 374.0h1M259.7 369.8h1M232.5 384.2h1M256.9 360.5h1M261.3 359.4h1M260.0 370.6h1M236.2 385.7h1M250.4 355.4h1M255.8 374.2h1M248.3 355.4h1M260.4 371.5h1M264.5 382.0h1M236.9 353.1h1M253.7 379.6h1M242.7 385.6h1M260.0 366.8h1M261.3 372.4h1M235.4 350.5h1M261.5 376.2h1M248.2 382.3h1M259.0 365.0h1M261.2 356.8h1M262.3 374.5h1M233.5 382.9h1M260.0 362.4h1M233.3 349.9h1M260.4 358.5h1M260.6 367.1h1M257.3 375.3h1M259.6 370.7h1M260.1 365.0h1M260.4 372.7h1M245.7 353.1h1M255.4 376.6h1M262.6 367.2h1M259.5 371.9h1M260.5 364.5h1M245.0 344.3h1M261.1 360.7h1M259.0 370.2h1M260.3 377.5h1M247.4 353.9h1M262.7 376.6h1M261.7 369.5h1M248.1 382.6h1M259.0 372.0h1M266.1 373.1h1M258.0 372.5h1M258.7 377.3h1M267.2 365.0h1M260.1 375.8h1M263.3 375.4h1M252.9 377.8h1M243.2 352.3h1M263.1 366.5h1M256.5 373.8h1M237.2 348.4h1M244.7 353.2h1M236.0 353.1h1M251.9 354.9h1M234.9 354.8h1M250.6 381.1h1M263.3 367.9h1M259.1 365.3h1M231.5 368.2h1M235.7 354.3h1M258.0 373.5h1M256.9 374.2h1M257.9 352.9h1M231.7 351.2h1M248.6 376.9h1M261.8 373.0h1M234.8 383.1h1M232.5 377.7h1M258.9 371.3h1M257.5 382.2h1M259.2 369.9h1M232.2 378.2h1M254.5 375.2h1M252.7 376.2h1M259.3 375.8h1M258.5 369.8h1M260.4 385.0h1M260.6 367.6h1M257.2 376.8h1M260.1 375.3h1M259.9 372.7h1M231.7 377.0h1M262.6 359.9h1M257.4 374.5h1M237.0 386.1h1M257.7 371.1h1M250.9 376.3h1M246.0 379.2h1M253.3 376.5h1M255.0 376.1h1M263.3 361.6h1M261.3 369.0h1M236.5 352.8h1M236.4 353.7h1M234.0 353.4h1M258.3 369.9h1M262.0 373.0h1M258.7 369.4h1M256.6 374.7h1M251.4 377.2h1M249.1 376.6h1M259.2 373.0h1M258.3 372.9h1M242.3 341.8h1M249.1 376.4h1M258.9 371.2h1M257.3 371.8h1M259.4 369.0h1M257.4 371.9h1M257.1 372.0h1M258.1 373.8h1M258.7 362.1h1M259.5 367.4h1M260.3 369.3h1M260.1 369.2h1M259.2 372.1h1M258.8 377.1h1M255.6 373.6h1M241.1 348.2h1M253.2 375.9h1M262.6 369.5h1M262.9 368.7h1M256.7 380.0h1M259.0 372.7h1M236.8 350.9h1M234.3 356.2h1M255.7 375.6h1M256.6 374.0h1M259.7 370.2h1M258.0 371.5h1M265.0 370.5h1M259.0 368.8h1M237.6 352.5h1M231.8 374.4h1M259.1 364.0h1M256.8 372.6h1M257.3 375.6h1M248.7 350.8h1M254.6 375.1h1M256.2 374.5h1M246.8 377.5h1M260.1 370.0h1M251.6 380.2h1M262.6 379.7h1M241.1 386.1h1M234.4 385.8h1M259.3 359.0h1M241.3 351.7h1M255.0 377.7h1M251.2 377.4h1M233.2 356.5h1M252.2 377.7h1M240.6 352.0h1M258.5 371.9h1M257.3 361.2h1M262.7 372.8h1M231.9 377.5h1M256.5 373.3h1M237.7 351.9h1M252.8 375.7h1M264.6 375.2h1M261.2 369.5h1M232.6 383.5h1M261.9 363.8h1M263.2 374.7h1M260.4 370.9h1M257.3 372.8h1M258.5 372.2h1M260.0 363.8h1M255.6 375.1h1M266.6 370.3h1M260.3 374.9h1M246.4 377.7h1M258.4 374.8h1M257.4 374.2h1M258.7 364.9h1M265.1 363.8h1M259.0 375.2h1M263.2 360.2h1M261.9 376.7h1M235.1 384.9h1M235.1 343.8h1M264.0 371.0h1M250.0 352.5h1M236.7 350.3h1M260.5 378.2h1M248.9 378.8h1M254.4 376.9h1M256.8 373.6h1M258.3 375.4h1M243.9 386.5h1M262.9 362.9h1M257.9 351.2h1M258.4 373.8h1M257.5 374.1h1M256.7 375.7h1M235.8 345.8h1M260.1 369.2h1M262.6 370.6h1M255.9 376.7h1M258.6 359.4h1M259.5 370.6h1M258.0 355.9h1M258.3 371.3h1M257.7 361.5h1M262.8 370.5h1M258.9 362.3h1M236.7 351.7h1M246.1 385.3h1" stroke="#a0a0a0" stroke-width="1"/>
<path d="M239.0 347.0h1M241.8 345.4h1" stroke="#bcbcbc" stroke-width="1"/>
<path d="M239.2 385.8L238.5 385.8L238 385.7L237.5 385.5L237 385.2L236.5 384.8L236.2 384.5L235.8 384.1L235.5 383.8L235.1 383.2L234.8 382.8L234.5 382.3L234.2 381.8L234 381.3L233.8 380.8L233.5 380.2L233.3 379.8L233.2 379.2L233 378.7L232.8 378L232.6 377.5L232.5 377L232.3 376.2L232.2 375.8L232.1 375L232 374.5L231.9 373.8L231.8 373L231.7 372.5L231.6 371.8L231.6 371L231.5 370.2L231.5 369.8L231.5 369L231.5 368.2L231.5 367.5L231.5 367L231.5 366.2L231.6 365.5L231.7 364.8L231.8 364.1L231.8 363.5L232 362.8L232.1 362.2L232.2 361.5L232.3 361L232.5 360.4L232.7 359.8L232.8 359.2L233 358.7L233.2 358.1L233.5 357.5L233.7 357L233.9 356.5L234.2 356L234.5 355.5L234.8 355.1L235 354.7L235.4 354.2L235.8 353.8L236 353.5L236.5 353.1L237 352.8L237.4 352.5L238 352.2L238.5 352.1L239.2 352L240 352.1L240.5 352.2L241.2 352.5L241.6 352.8L242.1 353L242.5 353.3L243 353.7L243.4 354L243.8 354.2L244.2 354.6L244.8 354.8L245.2 355L246 355.1L246.8 355L247.5 355L248 355L248.5 355L249.2 355.1L250 355.2L250.5 355.2L251.2 355.4L251.8 355.6L252.4 355.8L253 356L253.5 356.2L254 356.5L254.5 356.8L254.9 357L255.3 357.2L255.8 357.6L256.2 358L256.5 358.2L257 358.7L257.3 359L257.7 359.5L258 359.9L258.2 360.3L258.5 360.8L258.8 361.2L259.1 361.8L259.3 362.2L259.5 362.9L259.7 363.5L259.8 364L259.9 364.8L260 365.5L260 366.2L260 367L259.8 367.8L259.7 368.2L259.5 369L259.4 369.5L259.2 370L258.9 370.5L258.7 371L258.4 371.5L258.1 372L257.8 372.4L257.5 372.8L257 373.2L256.8 373.5L256.2 374L255.9 374.2L255.5 374.6L255 374.9L254.5 375.2L254 375.5L253.6 375.8L253 376L252.5 376.2L252 376.4L251.5 376.5L250.8 376.7L250.2 376.8L249.5 376.9L248.8 377L248.2 377L247.5 377.1L247 377.2L246.5 377.6L246.2 378L245.8 378.5L245.5 379L245.2 379.4L245 379.9L244.8 380.3L244.5 380.8L244.2 381.2L244 381.8L243.6 382.2L243.3 382.8L243 383.2L242.7 383.5L242.3 384L242 384.3L241.5 384.8L241.2 385L240.8 385.3L240.2 385.5L239.5 385.7L239.2 385.8Z" fill="#acacac" stroke="#707070" stroke-width="0.6"/>
<path d="M250.9 362.8h1M253.7 357.0h1M260.0 366.7h1M244.4 379.9h1M243.3 380.5h1M237.3 357.6h1M243.1 365.1h1M252.1 364.4h1M248.9 358.1h1M246.4 364.0h1M246.0 375.5h1M236.0 382.8h1M246.3 377.8h1M249.8 366.8h1M255.1 357.9h1M246.3 360.5h1M240.8 375.0h1M252.5 357.8h1M253.5 359.7h1M242.1 368.4h1M242.5 354.9h1M256.9 370.8h1M235.2 375.3h1M242.0 355.4h1M248.3 372.9h1M249.5 368.4h1M250.8 375.1h1M244.6 372.8h1M246.8 377.3h1M238.4 353.9h1M239.8 359.6h1M249.1 376.3h1M235.0 361.5h1M243.5 355.5h1M235.3 377.8h1M249.6 373.4h1M253.7 374.2h1M245.4 359.0h1M235.0 377.1h1M247.5 367.6h1M242.6 372.8h1M241.4 360.3h1M248.3 370.2h1M254.2 357.7h1M250.5 366.7h1M236.8 356.6h1M257.6 367.5h1M253.1 358.4h1M241.1 383.9h1M243.7 365.1h1M244.7 362.8h1M249.9 357.9h1M241.7 356.3h1M242.8 376.1h1M243.5 377.3h1M235.9 382.8h1M255.6 374.0h1M240.2 381.4h1M244.3 370.2h1M243.2 364.3h1M234.6 381.2h1M253.3 364.3h1M248.8 364.0h1M247.7 370.2h1M236.2 366.4h1M236.8 354.5h1M234.9 360.1h1M247.6 376.5h1M241.7 356.4h1M252.7 371.0h1M237.0 364.0h1M242.9 371.9h1M243.9 358.3h1M259.3 369.2h1M243.3 360.9h1M232.9 369.6h1M238.2 384.1h1M238.1 386.0h1M242.2 380.0h1M245.5 370.7h1M233.9 370.9h1M237.7 379.8h1M243.4 370.3h1M250.0 370.3h1" stroke="#444" stroke-width="1"/>
<path d="M243.1 372.8h1M248.3 364.2h1M234.3 367.3h1M251.0 371.6h1M235.2 382.6h1M238.4 379.0h1M246.7 361.4h1M250.1 371.0h1M252.2 374.9h1M242.8 357.7h1M251.8 372.4h1M246.6 360.2h1M253.6 374.1h1M237.7 360.9h1M244.7 377.9h1M241.8 354.6h1M251.0 358.0h1M238.7 357.5h1M255.9 368.2h1M252.1 364.5h1M251.3 361.1h1M241.2 376.1h1M247.4 375.5h1M237.1 356.6h1M235.6 376.9h1M238.0 377.3h1M251.4 369.8h1M250.8 372.7h1M248.4 372.9h1M236.1 367.6h1M242.6 383.9h1M250.2 365.9h1M234.8 380.6h1M235.2 380.8h1M234.6 380.2h1M243.2 370.7h1M248.9 368.5h1M248.9 367.2h1M250.0 376.0h1M249.8 371.7h1M238.7 360.0h1M247.1 365.1h1M240.9 362.0h1M234.1 369.0h1M247.4 366.3h1M248.1 364.1h1M241.9 360.9h1M252.0 365.3h1M248.3 367.7h1M232.9 372.0h1M251.4 356.3h1M236.4 381.1h1M245.9 355.8h1M249.3 364.4h1" stroke="#666" stroke-width="1"/>
<path d="M242.0 358.3h1M235.4 355.0h1M240.7 376.8h1M237.1 384.7h1M243.5 372.8h1M248.7 366.9h1M234.9 373.0h1M237.9 376.6h1M232.7 373.1h1M243.2 363.8h1M243.0 369.5h1M242.6 376.8h1M255.9 371.0h1M245.1 367.4h1M236.3 384.6h1M257.8 362.7h1M242.4 372.4h1M251.6 372.2h1M253.9 367.8h1M233.7 379.7h1M247.4 363.7h1M237.6 377.6h1M247.5 364.1h1M235.2 371.1h1M240.7 381.9h1M236.6 376.2h1M232.1 363.5h1M251.6 371.2h1M234.5 357.0h1M236.1 375.7h1M251.9 363.2h1M254.5 357.4h1M253.4 362.2h1M248.3 362.8h1M234.6 371.7h1M242.0 362.5h1M245.6 379.0h1M235.8 365.7h1M244.3 364.4h1M254.1 371.2h1M254.8 367.0h1M243.7 381.7h1M255.1 368.4h1M252.0 371.7h1M236.3 377.6h1M258.7 363.4h1M254.9 373.1h1M246.8 364.8h1M240.7 381.7h1M234.3 358.7h1M244.7 372.2h1M240.0 380.4h1M249.0 358.8h1M247.9 367.0h1M240.7 379.2h1M241.0 383.0h1M246.4 358.7h1M257.9 369.4h1M256.6 368.2h1M247.1 376.0h1M234.0 369.9h1M239.5 381.6h1M249.6 366.9h1M252.3 371.6h1M234.5 368.1h1M247.8 374.3h1M233.1 367.9h1M249.0 359.0h1M255.4 358.2h1M244.6 369.3h1M258.1 364.0h1M252.5 369.7h1M237.0 380.4h1M239.3 362.2h1M238.0 359.8h1M258.5 361.5h1M243.1 356.6h1M237.7 362.5h1M243.9 367.2h1M242.9 369.1h1M255.5 365.4h1M247.3 360.6h1" stroke="#888" stroke-width="1"/>
<path d="M238.8 381.8L238.2 381.7L237.8 381.5L237.2 381.2L236.8 380.8L236.5 380.4L236.2 380L235.9 379.5L235.6 379L235.3 378.5L235.1 378L234.9 377.5L234.7 377L234.5 376.2L234.4 375.8L234.2 375.2L234.1 374.5L234 373.9L233.9 373.2L233.8 372.5L233.8 372L233.7 371.2L233.7 370.5L233.6 369.8L233.6 369L233.6 368.2L233.7 367.5L233.7 366.8L233.8 366.2L233.9 365.5L234 364.8L234.1 364.2L234.2 363.5L234.4 363L234.5 362.5L234.7 361.8L234.9 361.2L235.1 360.8L235.3 360.2L235.5 359.8L235.8 359.2L236.1 358.8L236.5 358.3L236.8 358L237.2 357.5L237.7 357.2L238.2 357L238.8 356.9L239.5 357L240 357.2L240.5 357.5L240.8 357.8L241.2 358.2L241.5 358.6L241.8 359L242.1 359.5L242.4 360L242.6 360.5L242.8 361L243 361.5L243.2 362.2L243.4 362.8L243.5 363.3L243.7 364L243.8 364.5L243.9 365.2L244 366L244 366.5L244.1 367.2L244.1 368L244.2 368.8L244.2 369.5L244.1 370.2L244.1 371L244 371.8L244 372.2L243.9 373L243.8 373.8L243.7 374.2L243.5 375L243.4 375.5L243.2 376.2L243.1 376.8L242.9 377.2L242.7 377.8L242.5 378.3L242.2 378.8L242 379.3L241.7 379.8L241.3 380.2L241 380.7L240.6 381L240.2 381.3L239.8 381.6L239 381.7L238.8 381.8Z" fill="#959595"/>
<path d="M239.2 379.3L238.5 379.3L238 379.1L237.5 378.8L237.2 378.5L236.8 378L236.5 377.6L236.2 377.2L236 376.6L235.8 376L235.6 375.5L235.4 375L235.2 374.4L235.1 373.8L235 373.2L234.9 372.5L234.8 371.8L234.8 371.2L234.7 370.5L234.7 369.8L234.7 369L234.7 368.2L234.8 367.5L234.8 367L234.9 366.2L235 365.5L235.1 365L235.2 364.3L235.4 363.8L235.6 363.2L235.8 362.7L236 362.1L236.2 361.6L236.5 361.2L236.8 360.8L237.2 360.2L237.5 360L238 359.6L238.5 359.5L239.2 359.5L239.8 359.7L240.2 360L240.5 360.2L240.9 360.8L241.2 361.2L241.5 361.7L241.8 362.2L242 362.8L242.2 363.2L242.3 363.8L242.5 364.5L242.6 365L242.8 365.7L242.8 366.2L242.9 367L243 367.8L243 368.2L243 369L243 369.8L243 370.5L243 371L242.9 371.8L242.8 372.5L242.7 373L242.6 373.8L242.5 374.2L242.3 375L242.1 375.5L242 376L241.8 376.5L241.5 377L241.2 377.5L240.9 378L240.5 378.5L240.2 378.8L239.8 379.1L239.2 379.3Z" fill="#7e7e7e"/>
<path d="M239.2 376.8L238.5 376.8L238 376.6L237.6 376.2L237.2 375.8L237 375.4L236.8 374.9L236.5 374.3L236.3 373.8L236.2 373.2L236 372.5L235.9 372L235.8 371.2L235.8 370.5L235.7 370L235.7 369.2L235.7 368.5L235.8 368L235.9 367.2L236 366.5L236.1 366L236.2 365.2L236.4 364.8L236.6 364.2L236.8 363.8L237.1 363.2L237.4 362.8L237.8 362.4L238.2 362.1L238.8 361.9L239.3 362L239.8 362.2L240.2 362.7L240.5 363L240.8 363.5L241 364L241.2 364.6L241.5 365.2L241.6 365.8L241.7 366.5L241.8 367L241.9 367.8L242 368.5L242 369.2L242 370L241.9 370.8L241.9 371.5L241.8 372.2L241.6 372.8L241.5 373.3L241.3 374L241.1 374.5L240.9 375L240.6 375.5L240.3 376L240 376.3L239.5 376.7L239.2 376.8Z" fill="#686868"/>
<ellipse cx="252.1" cy="364.3" rx="5.8" ry="4.3" fill="#f4f4f4" stroke="#3a3a3a" stroke-width="0.9"/>
<ellipse cx="236" cy="372.5" rx="1.7" ry="8" transform="rotate(0 236 372.5)" fill="#000" fill-opacity="0.85"/>
<ellipse cx="242.2" cy="373" rx="1.9" ry="5.8" transform="rotate(0 242.2 373)" fill="#000" fill-opacity="0.85"/>
<ellipse cx="239" cy="379.5" rx="4" ry="2.2" transform="rotate(0 239 379.5)" fill="#111" fill-opacity="0.75"/>
</g>
<rect x="231.5" y="313.5" width="73" height="73.0" fill="none" stroke="#999" stroke-width="1"/>
<line x1="245.6" y1="313.5" x2="245.6" y2="386.5" stroke="#8a8a8a" stroke-width="1"/>
<line x1="231.5" y1="369.1" x2="304.5" y2="369.1" stroke="#8a8a8a" stroke-width="1"/>
<text x="232.9" y="321.6" font-size="8.5" text-anchor="start" font-weight="normal" fill="#1a1a1a" stroke="#1a1a1a" stroke-width="0.15" >26.7</text>
<text x="303.4" y="321.6" font-size="8.5" text-anchor="end" font-weight="normal" fill="#1a1a1a" stroke="#1a1a1a" stroke-width="0.15" >6.74</text>
<rect x="285.2" y="385.5" width="18.400000000000002" height="2" fill="#fff"/>
<text x="303.4" y="385.1" font-size="8.5" text-anchor="end" font-weight="normal" fill="#1a1a1a" stroke="#1a1a1a" stroke-width="0.15" >2.86</text>
<text x="304.5" y="393.1" font-size="4.2" text-anchor="middle" font-weight="normal" fill="#8a8a8a" >10<tspan dy="-1.6" font-size="2.8">4</tspan></text>
<text x="229.0" y="314.8" font-size="4.2" text-anchor="end" font-weight="normal" fill="#8a8a8a" >10<tspan dy="-1.6" font-size="2.8">4</tspan></text>
<text x="286.17" y="393.1" font-size="4.2" text-anchor="middle" font-weight="normal" fill="#8a8a8a" >10<tspan dy="-1.6" font-size="2.8">3</tspan></text>
<text x="229.0" y="333.13" font-size="4.2" text-anchor="end" font-weight="normal" fill="#8a8a8a" >10<tspan dy="-1.6" font-size="2.8">3</tspan></text>
<text x="267.84000000000003" y="393.1" font-size="4.2" text-anchor="middle" font-weight="normal" fill="#8a8a8a" >10<tspan dy="-1.6" font-size="2.8">2</tspan></text>
<text x="229.0" y="351.46" font-size="4.2" text-anchor="end" font-weight="normal" fill="#8a8a8a" >10<tspan dy="-1.6" font-size="2.8">2</tspan></text>
<text x="249.51" y="393.1" font-size="4.2" text-anchor="middle" font-weight="normal" fill="#8a8a8a" >10<tspan dy="-1.6" font-size="2.8">1</tspan></text>
<text x="229.0" y="369.79" font-size="4.2" text-anchor="end" font-weight="normal" fill="#8a8a8a" >10<tspan dy="-1.6" font-size="2.8">1</tspan></text>
<text x="251.8" y="408.3" font-size="13" text-anchor="start" font-weight="normal" fill="#000" >IL-22</text>
<path d="M365.8 357.6h.8M366.2 357.6h.8M363.9 357.6h.8M364.8 358.8h.8M367.2 358.3h.8M366.8 360.1h.8M367.6 358.1h.8M365.4 356.8h.8M366.7 358.7h.8M363.8 358.5h.8M364.4 357.0h.8M367.4 357.7h.8M363.8 359.0h.8M365.2 356.9h.8M365.7 360.4h.8M366.2 359.1h.8M364.0 356.9h.8M366.4 358.9h.8M366.1 357.6h.8M365.2 360.2h.8M389.1 372.9h.8M390.1 372.6h.8M388.7 373.3h.8M387.7 373.0h.8M389.9 374.3h.8M388.5 371.7h.8M389.8 374.5h.8M388.3 374.1h.8M388.3 371.4h.8M389.4 374.2h.8M387.8 372.5h.8M389.8 372.7h.8M389.3 375.3h.8M390.6 373.7h.8M390.1 373.8h.8M389.9 373.5h.8M388.5 371.7h.8M389.3 373.1h.8M390.1 373.5h.8M388.8 372.1h.8M390.7 372.9h.8M389.6 372.9h.8M388.8 373.6h.8M388.3 371.2h.8M390.2 372.2h.8M388.4 373.0h.8M388.9 374.0h.8M387.8 374.5h.8M389.3 373.6h.8M388.7 372.4h.8M389.7 373.4h.8M390.3 373.3h.8M390.2 373.3h.8M388.9 372.7h.8M387.7 373.6h.8M388.8 372.3h.8M389.3 373.8h.8M391.2 372.7h.8M387.9 371.3h.8M387.1 373.0h.8M387.7 373.6h.8M390.4 372.1h.8M390.3 373.9h.8" stroke="#111" stroke-width=".8"/>
<path d="M365.8 355.8h.8M364.2 355.3h.8M368.4 360.4h.8M368.3 358.8h.8M366.7 355.9h.8M368.0 356.1h.8M364.4 359.6h.8M366.4 358.1h.8M364.3 354.6h.8M364.9 358.2h.8M365.0 359.5h.8M364.3 357.3h.8M367.0 356.2h.8M363.7 358.8h.8M366.4 358.9h.8M362.3 361.6h.8M365.8 361.5h.8M366.8 355.2h.8M365.2 355.0h.8M362.9 359.5h.8M367.6 357.6h.8M364.7 356.2h.8M367.0 357.2h.8M366.4 358.2h.8M366.5 361.8h.8M367.0 359.2h.8M364.9 362.1h.8M365.5 356.8h.8M367.0 354.6h.8M363.2 357.0h.8M364.7 355.0h.8M364.8 355.8h.8M367.1 361.8h.8M362.7 359.0h.8M363.3 356.2h.8M364.5 357.7h.8M365.8 360.4h.8M368.7 359.8h.8M362.9 358.1h.8M366.8 357.3h.8M368.0 357.0h.8M367.9 358.2h.8M363.9 355.7h.8M363.6 357.3h.8M365.4 359.2h.8M370.0 357.0h.8M364.8 356.2h.8M363.5 356.2h.8M366.2 360.3h.8M364.3 356.1h.8M364.3 353.6h.8M368.8 360.2h.8M363.8 357.9h.8M363.5 356.7h.8M363.3 358.2h.8M365.8 356.5h.8M364.2 361.2h.8M363.0 354.1h.8M364.0 358.2h.8M367.3 358.4h.8M365.2 357.9h.8M362.8 354.3h.8M363.5 357.1h.8M366.0 360.6h.8M365.2 359.6h.8M367.1 361.8h.8M365.9 353.6h.8M367.4 354.0h.8M366.6 359.6h.8M366.7 355.9h.8M365.1 357.3h.8M366.0 359.4h.8M366.7 355.4h.8M365.6 358.3h.8M363.8 358.4h.8M366.1 355.7h.8M364.9 355.6h.8M366.6 355.7h.8M363.7 357.2h.8M365.3 358.6h.8M365.3 361.1h.8M367.8 360.6h.8M363.7 355.6h.8M366.9 354.6h.8M364.8 358.9h.8M364.6 360.0h.8M366.2 363.6h.8M364.4 361.1h.8M364.2 357.4h.8M363.6 356.4h.8M368.4 358.7h.8M362.7 359.4h.8M367.0 354.1h.8M363.3 358.1h.8M369.2 358.7h.8M368.4 356.6h.8M366.9 361.3h.8M363.9 359.0h.8M363.0 354.8h.8M366.2 353.4h.8M367.3 355.4h.8M362.6 358.4h.8M365.2 359.2h.8M365.7 361.6h.8M364.9 357.8h.8M363.7 356.6h.8M367.8 361.3h.8M365.0 358.0h.8M363.6 358.7h.8M362.5 358.7h.8M365.5 358.2h.8M369.1 358.7h.8M363.4 355.4h.8M367.2 360.1h.8M367.9 357.8h.8M364.9 352.8h.8M365.8 359.1h.8M366.9 359.3h.8M363.8 355.9h.8M365.2 358.8h.8M366.1 359.5h.8M366.7 360.1h.8M364.8 361.2h.8M362.8 358.3h.8M367.9 357.0h.8M363.3 358.0h.8M365.4 362.4h.8M387.5 375.3h.8M389.8 369.5h.8M389.0 375.2h.8M388.9 373.3h.8M389.5 370.6h.8M389.4 372.6h.8M391.6 372.2h.8M391.0 371.7h.8M386.3 373.7h.8M392.0 372.9h.8M389.5 374.0h.8M388.5 374.6h.8M389.9 374.7h.8M390.6 376.3h.8M388.1 373.1h.8M390.1 374.6h.8M391.0 373.2h.8M388.2 375.9h.8M389.7 371.6h.8M387.3 375.4h.8M388.3 374.2h.8M388.1 376.0h.8M391.7 373.5h.8M390.3 370.2h.8M393.4 374.8h.8M387.4 372.1h.8M386.0 372.2h.8M388.3 373.8h.8M392.8 372.9h.8M385.4 374.9h.8M387.6 369.1h.8M392.3 375.0h.8M390.6 371.5h.8M389.8 372.2h.8M387.5 374.4h.8M387.1 371.8h.8M387.5 372.8h.8M387.4 373.7h.8M391.2 372.1h.8M385.8 372.2h.8M392.2 369.5h.8M392.0 376.1h.8M387.3 370.8h.8M390.0 371.6h.8M386.5 371.4h.8M390.4 375.2h.8M390.0 370.6h.8M391.1 374.2h.8M388.0 375.6h.8M387.9 376.3h.8M390.7 371.3h.8M389.8 373.2h.8M386.7 372.4h.8M389.1 373.2h.8M389.7 374.8h.8M387.4 374.6h.8M391.8 373.8h.8M392.7 374.2h.8M386.8 371.9h.8M388.6 374.0h.8M389.8 373.8h.8M389.2 369.7h.8M388.7 376.6h.8M390.9 371.9h.8M386.2 373.3h.8M391.2 373.1h.8M391.3 375.2h.8M390.3 372.8h.8M387.2 369.9h.8M387.1 368.8h.8M389.8 375.7h.8M385.4 374.3h.8M386.3 374.1h.8M387.2 374.9h.8M387.4 373.3h.8M387.9 373.9h.8M388.0 372.2h.8M388.4 375.1h.8M386.1 374.4h.8M389.2 371.8h.8M391.4 373.8h.8M388.7 369.8h.8M390.8 373.1h.8M390.9 371.1h.8M387.4 370.9h.8M390.3 373.5h.8M389.9 370.4h.8M387.3 376.0h.8M389.4 373.2h.8M389.0 374.7h.8M390.7 370.6h.8M388.4 372.3h.8M390.2 371.9h.8M388.7 372.6h.8M390.3 369.6h.8M389.4 372.4h.8M391.2 373.0h.8M390.4 376.7h.8M389.7 371.1h.8M390.2 373.8h.8M390.3 375.1h.8M389.5 370.1h.8M391.4 372.4h.8M389.8 372.7h.8M391.4 373.7h.8M388.0 370.3h.8M386.7 373.9h.8M392.0 373.4h.8M386.9 373.7h.8M386.2 372.4h.8M385.5 374.1h.8M388.1 371.9h.8M387.3 373.2h.8M392.5 374.3h.8M387.5 371.1h.8M387.2 371.7h.8M388.0 370.6h.8M390.1 371.0h.8M392.8 374.5h.8M387.9 373.8h.8M386.9 371.8h.8M388.6 371.2h.8M390.3 371.7h.8M390.5 375.0h.8M393.6 372.6h.8M387.9 376.4h.8M389.8 373.2h.8M389.8 373.9h.8M391.6 372.8h.8M387.9 372.9h.8M392.3 370.5h.8M390.1 371.8h.8M391.7 372.4h.8M390.5 373.8h.8M388.2 376.2h.8M386.7 373.1h.8M389.3 373.0h.8M388.9 374.9h.8M389.8 370.8h.8M389.2 372.6h.8M390.2 372.3h.8M388.8 372.1h.8M390.9 372.9h.8M390.5 374.9h.8M389.6 373.7h.8M388.9 373.7h.8M388.7 375.4h.8M391.3 371.0h.8M386.8 372.7h.8M390.2 371.6h.8M387.3 373.4h.8M385.3 371.4h.8M387.7 372.8h.8M389.8 377.4h.8M392.8 375.2h.8M388.5 373.2h.8M385.5 374.8h.8M388.9 375.8h.8M391.6 371.4h.8M387.7 372.3h.8M389.2 370.2h.8M387.2 371.3h.8M387.5 375.1h.8M390.4 371.5h.8M385.5 374.7h.8M388.0 375.8h.8M390.5 375.1h.8M387.9 368.7h.8M386.0 372.9h.8M391.8 373.7h.8M392.9 373.5h.8M387.6 372.6h.8M388.2 369.2h.8M392.8 375.9h.8M389.9 371.9h.8M389.6 375.0h.8M390.5 376.0h.8M391.4 371.3h.8M390.3 373.4h.8M386.0 375.1h.8M389.8 372.3h.8M389.8 377.4h.8M389.7 369.0h.8M387.2 373.5h.8M389.4 373.5h.8M386.1 374.9h.8M391.1 373.2h.8M390.6 373.2h.8M386.8 372.3h.8M390.1 373.6h.8M391.7 370.9h.8M390.4 376.4h.8M390.4 370.4h.8M387.4 374.0h.8M389.0 369.1h.8M391.8 373.9h.8M386.8 372.2h.8M387.9 374.6h.8M385.7 371.9h.8M389.7 373.4h.8M391.4 372.6h.8M391.2 372.4h.8M388.0 373.9h.8M391.5 376.6h.8M390.3 372.1h.8M389.3 373.0h.8M388.3 374.5h.8M387.6 371.5h.8M389.5 370.6h.8M387.0 369.8h.8M390.1 370.0h.8M390.6 373.7h.8M389.2 375.3h.8M390.6 377.1h.8M388.9 374.7h.8M393.0 374.2h.8" stroke="#333" stroke-width=".8"/>
<path d="M368.4 354.2h.8M364.5 360.4h.8M369.6 358.4h.8M368.5 360.7h.8M368.1 356.4h.8M364.7 359.1h.8M363.6 358.1h.8M361.4 357.9h.8M368.5 359.9h.8M362.7 352.7h.8M365.4 358.5h.8M365.7 352.7h.8M370.2 353.3h.8M369.2 359.9h.8M360.6 359.0h.8M367.7 359.0h.8M365.3 364.1h.8M367.9 360.2h.8M367.2 360.5h.8M362.3 361.6h.8M361.2 358.2h.8M369.6 362.3h.8M368.2 363.9h.8M362.3 360.3h.8M361.3 356.0h.8M367.2 364.1h.8M367.5 362.0h.8M370.5 354.1h.8M367.2 356.5h.8M368.4 362.6h.8M365.5 352.1h.8M364.3 360.2h.8M367.1 353.8h.8M361.7 358.5h.8M365.8 354.7h.8M363.8 354.2h.8M361.9 356.3h.8M366.1 363.0h.8M369.6 356.6h.8M359.9 356.1h.8M366.3 354.6h.8M367.7 359.8h.8M365.0 350.6h.8M368.0 359.9h.8M366.1 356.5h.8M366.0 360.7h.8M368.9 357.8h.8M366.3 354.3h.8M366.3 360.1h.8M366.8 358.4h.8M365.9 363.7h.8M364.0 363.5h.8M365.9 352.1h.8M370.1 353.9h.8M363.2 361.0h.8M364.9 353.1h.8M367.3 354.5h.8M365.1 360.3h.8M365.0 354.4h.8M362.1 361.8h.8M364.6 354.9h.8M368.9 354.7h.8M367.7 359.3h.8M370.1 359.0h.8M365.2 352.8h.8M366.2 362.3h.8M359.6 359.1h.8M361.1 355.7h.8M361.7 359.5h.8M366.9 354.2h.8M361.6 360.3h.8M366.7 363.5h.8M364.2 354.2h.8M365.6 353.8h.8M362.7 358.7h.8M363.1 353.5h.8M367.2 360.9h.8M363.6 362.9h.8M366.9 359.6h.8M363.8 355.1h.8M365.1 359.0h.8M363.7 363.5h.8M367.5 362.3h.8M368.7 359.4h.8M365.4 361.8h.8M366.7 353.6h.8M367.3 364.0h.8M365.4 354.1h.8M365.0 361.7h.8M364.2 362.9h.8M365.5 361.2h.8M366.6 360.7h.8M366.2 362.4h.8M365.6 354.1h.8M369.1 354.1h.8M363.2 359.1h.8M367.6 357.0h.8M360.5 362.5h.8M366.5 360.6h.8M363.4 356.1h.8M361.9 361.6h.8M368.4 352.7h.8M365.9 356.3h.8M363.6 352.8h.8M364.3 364.4h.8M364.2 360.1h.8M361.3 359.4h.8M369.4 352.3h.8M364.4 354.4h.8M365.9 359.7h.8M370.5 360.3h.8M364.5 362.1h.8M365.3 357.1h.8M368.3 356.1h.8M362.9 352.2h.8M364.7 356.2h.8M363.9 359.9h.8M366.0 360.3h.8M364.9 357.6h.8M370.4 356.9h.8M364.3 356.7h.8M362.5 355.1h.8M360.1 357.0h.8M365.6 354.1h.8M367.8 357.5h.8M364.9 352.4h.8M365.9 352.6h.8M363.4 356.5h.8M362.3 356.8h.8M363.3 353.3h.8M370.4 354.0h.8M361.9 350.7h.8M366.8 353.8h.8M370.6 362.3h.8M368.0 360.6h.8M365.4 362.5h.8M366.8 353.5h.8M366.9 361.9h.8M365.5 356.6h.8M365.0 360.7h.8M368.0 359.1h.8M364.1 359.7h.8M367.7 360.0h.8M365.8 359.7h.8M363.0 352.9h.8M365.6 362.1h.8M362.9 359.6h.8M365.8 356.4h.8M371.1 354.3h.8M365.2 364.1h.8M367.5 356.4h.8M367.8 358.3h.8M366.9 359.4h.8M364.5 364.1h.8M361.7 358.5h.8M368.3 352.7h.8M368.5 353.6h.8M364.7 352.5h.8M368.4 357.6h.8M368.1 361.7h.8M366.5 354.9h.8M366.0 354.7h.8M363.5 355.6h.8M370.0 357.3h.8M367.9 355.6h.8M364.1 357.5h.8M362.4 357.8h.8M363.9 354.1h.8M365.6 362.0h.8M369.3 358.6h.8M367.4 360.8h.8M369.0 357.8h.8M369.1 363.6h.8M361.3 359.5h.8M363.8 358.8h.8M363.1 359.0h.8M366.1 353.3h.8M367.1 354.6h.8M369.3 357.8h.8M364.8 360.0h.8M364.2 353.7h.8M364.6 361.8h.8M365.5 352.3h.8M362.5 355.8h.8M366.5 359.3h.8M369.8 355.8h.8M363.4 361.1h.8M362.7 353.8h.8M368.1 357.9h.8M361.6 357.0h.8M363.0 362.6h.8M367.6 356.5h.8M389.4 374.7h.8M386.7 369.5h.8M388.8 372.0h.8M393.1 376.0h.8M387.5 374.6h.8M391.3 376.8h.8M389.9 368.4h.8M391.1 367.0h.8M388.5 375.5h.8M389.9 371.3h.8M388.6 372.1h.8M387.8 373.3h.8M393.1 369.6h.8M389.4 369.9h.8M385.0 372.5h.8M391.1 371.0h.8M391.2 377.0h.8M387.9 371.6h.8M388.7 370.2h.8M387.0 370.3h.8M390.4 379.2h.8M392.8 369.4h.8M391.7 373.6h.8M387.8 368.3h.8M385.6 369.6h.8M393.9 374.8h.8M388.4 376.8h.8M387.2 372.0h.8M386.2 368.6h.8M385.7 375.5h.8M388.2 377.0h.8M389.1 372.2h.8M388.1 374.1h.8M388.6 369.6h.8M388.9 377.4h.8M384.3 369.4h.8M391.9 373.4h.8M393.4 371.7h.8M387.6 374.1h.8M385.4 373.9h.8M391.2 371.5h.8M386.7 378.9h.8M385.6 370.0h.8M389.7 367.2h.8M386.5 368.5h.8M392.3 372.6h.8M392.1 372.4h.8M388.6 369.8h.8M388.2 376.2h.8M387.3 368.5h.8M384.3 370.0h.8M391.8 368.0h.8M387.9 373.6h.8M386.7 371.4h.8M392.5 371.0h.8M388.6 370.1h.8M392.1 370.3h.8M391.9 377.0h.8M392.1 368.0h.8M389.6 369.9h.8M390.1 375.2h.8M392.6 377.3h.8M391.9 372.4h.8M389.6 368.3h.8M384.7 375.7h.8M392.0 374.1h.8M384.8 374.7h.8M393.4 375.7h.8M393.8 372.0h.8M393.1 371.4h.8M392.8 372.6h.8M388.9 377.7h.8M392.1 368.4h.8M390.7 372.0h.8M390.3 371.2h.8M384.5 372.5h.8M388.9 374.1h.8M390.5 375.2h.8M391.0 373.6h.8M388.4 371.2h.8M389.6 377.3h.8M394.5 372.3h.8M387.6 372.6h.8M387.8 371.5h.8M388.6 368.1h.8M387.1 372.6h.8M387.3 374.9h.8M389.9 378.2h.8M390.6 367.1h.8M392.1 369.0h.8M393.1 374.2h.8M385.8 377.4h.8M390.8 370.1h.8M388.2 373.8h.8M388.4 370.4h.8M387.8 372.8h.8M387.7 376.9h.8M388.1 366.6h.8M393.4 369.9h.8M390.5 376.9h.8M390.9 373.1h.8M388.7 376.0h.8M384.7 376.9h.8M387.2 370.3h.8M391.2 370.8h.8M390.5 374.9h.8M392.9 376.7h.8M388.8 367.9h.8M389.7 375.0h.8M387.1 373.2h.8M391.4 369.9h.8M387.7 373.9h.8M391.9 373.1h.8M389.1 376.0h.8M386.8 374.5h.8M387.7 373.6h.8M389.0 369.3h.8M388.1 370.2h.8M390.5 375.0h.8M387.8 374.5h.8M393.9 373.8h.8M386.5 372.3h.8M392.3 373.2h.8M388.7 376.4h.8M390.2 370.2h.8M391.8 370.6h.8M391.4 373.2h.8M386.4 371.7h.8M385.6 376.8h.8M389.2 375.7h.8M390.9 378.2h.8M388.3 370.3h.8M391.5 369.7h.8M391.1 368.5h.8M387.9 377.7h.8M388.9 376.6h.8M387.1 374.3h.8M390.7 372.3h.8M388.3 367.8h.8M389.1 375.8h.8M391.2 368.4h.8M386.8 369.3h.8M388.6 370.7h.8M389.3 375.0h.8M387.5 370.3h.8M387.4 372.0h.8M386.9 370.5h.8M388.9 376.4h.8M391.8 371.4h.8M392.4 371.2h.8M391.8 374.2h.8M385.0 374.4h.8M390.4 376.0h.8M387.4 371.7h.8M390.5 372.3h.8M392.8 371.3h.8M392.6 372.5h.8M389.7 368.7h.8M394.7 375.4h.8M387.7 372.9h.8M392.6 374.0h.8M387.4 372.4h.8M389.3 374.2h.8M386.5 369.2h.8M392.4 372.2h.8M392.0 369.5h.8M387.0 376.8h.8M388.6 374.7h.8M386.5 374.2h.8M384.0 371.0h.8M391.6 373.1h.8M389.7 374.3h.8M387.4 378.6h.8M385.1 374.8h.8M388.4 375.3h.8M391.6 372.5h.8M390.1 377.9h.8M387.5 375.1h.8M392.4 376.8h.8M392.0 370.2h.8M390.5 375.2h.8M387.9 371.9h.8M392.4 371.7h.8M387.3 370.8h.8M392.2 372.7h.8M389.8 378.8h.8M388.0 367.9h.8M387.5 371.1h.8M384.6 372.8h.8M386.7 371.1h.8M389.1 374.2h.8M391.0 370.1h.8M391.3 370.7h.8M388.9 373.1h.8M389.2 377.2h.8M388.4 371.1h.8M392.1 372.8h.8M392.3 375.2h.8M386.3 376.7h.8M391.0 367.4h.8M389.1 378.0h.8M385.5 370.2h.8M394.2 372.4h.8M386.7 374.8h.8M385.4 373.0h.8M387.7 371.3h.8M383.7 369.8h.8M386.4 373.4h.8M392.5 372.3h.8M389.0 378.4h.8M387.3 373.8h.8M390.6 375.0h.8M389.3 377.1h.8M391.8 370.0h.8M387.4 377.5h.8M390.0 374.4h.8M387.1 371.5h.8M393.2 374.9h.8M386.9 378.4h.8M388.4 372.8h.8M393.6 372.3h.8M387.2 378.3h.8M391.2 370.6h.8M389.4 378.8h.8M388.9 374.8h.8M392.6 368.8h.8M390.9 368.9h.8M391.5 372.3h.8M392.8 370.7h.8M387.5 374.1h.8M386.3 368.3h.8M386.4 374.7h.8M386.5 372.7h.8M387.3 372.5h.8M388.9 367.6h.8M385.3 371.9h.8M387.1 375.9h.8M393.0 372.1h.8M388.8 376.0h.8M386.6 370.8h.8M386.8 369.6h.8M387.3 374.3h.8M391.9 377.2h.8M391.7 377.6h.8M392.4 372.5h.8M391.3 370.8h.8M390.0 375.7h.8M391.5 372.4h.8M391.1 372.3h.8M391.6 370.2h.8M385.5 368.8h.8M391.9 369.5h.8M387.0 372.2h.8M389.1 369.7h.8M387.4 368.3h.8M392.8 372.7h.8M391.5 376.1h.8M386.8 374.6h.8M391.2 370.7h.8M392.1 371.8h.8M392.4 373.2h.8M390.5 368.8h.8M388.6 375.9h.8M387.4 372.6h.8M394.1 374.3h.8M389.5 370.7h.8M394.4 376.4h.8M390.4 369.1h.8M390.3 371.9h.8M389.2 375.8h.8M388.4 375.6h.8M388.7 373.5h.8M389.9 370.3h.8M389.5 375.9h.8M390.5 375.5h.8M387.7 371.2h.8M390.4 369.4h.8M388.5 374.9h.8M388.2 376.9h.8M393.7 369.6h.8M390.6 370.6h.8M390.9 373.6h.8M390.3 377.8h.8M392.2 372.7h.8M392.1 373.5h.8M391.8 374.1h.8M387.1 371.3h.8M384.9 375.8h.8M391.6 373.7h.8M386.3 373.8h.8M392.3 373.2h.8M394.0 371.1h.8M390.0 372.5h.8M391.5 373.6h.8M385.8 375.5h.8M385.2 372.7h.8M389.5 374.8h.8M390.7 371.6h.8M393.4 372.2h.8M390.9 377.1h.8M390.9 368.6h.8M386.6 378.7h.8M392.4 371.8h.8M388.0 373.1h.8M386.8 370.4h.8M393.4 371.4h.8M392.6 374.7h.8M389.9 370.7h.8M389.2 370.2h.8M388.6 371.3h.8M386.8 374.4h.8M391.6 369.1h.8M385.7 376.0h.8M392.0 374.6h.8M391.6 376.0h.8M386.1 373.3h.8M387.3 369.5h.8M390.1 371.4h.8M385.0 370.6h.8M391.7 374.1h.8M386.9 377.0h.8M393.0 369.7h.8M386.9 371.6h.8M390.7 376.2h.8M389.3 368.4h.8M391.0 373.4h.8M390.6 372.1h.8M390.2 372.5h.8M386.3 373.2h.8M393.5 370.3h.8M389.3 374.2h.8M392.0 376.8h.8M392.3 369.4h.8M388.9 368.2h.8M391.7 369.7h.8M387.1 369.1h.8M386.6 376.0h.8M388.2 368.1h.8M392.4 372.0h.8M389.1 370.5h.8M387.0 369.7h.8M391.1 369.7h.8M384.1 373.3h.8M390.2 368.5h.8M389.9 371.7h.8M384.7 376.6h.8M387.5 373.6h.8M393.9 374.0h.8M392.1 370.2h.8M386.3 369.1h.8M391.0 371.5h.8M395.2 371.3h.8M391.7 376.5h.8M390.7 373.3h.8M390.8 371.6h.8M386.7 373.2h.8M388.4 374.1h.8M389.6 377.0h.8M386.3 370.8h.8M384.2 377.9h.8M390.8 369.0h.8M386.4 373.3h.8M388.2 375.4h.8M393.1 370.2h.8M388.5 375.7h.8M387.7 368.5h.8M387.2 372.5h.8M390.9 378.1h.8M388.9 372.9h.8M384.7 371.3h.8M387.0 374.3h.8M378.5 367.1h.8M379.3 362.1h.8M379.4 363.3h.8M377.8 363.9h.8M376.7 365.0h.8M377.9 364.5h.8M377.9 366.8h.8M378.7 364.1h.8M377.4 365.2h.8M381.4 366.2h.8M374.7 367.5h.8M374.6 364.4h.8M378.0 366.3h.8M378.7 366.3h.8M371.8 373.1h.8M372.4 367.9h.8M371.1 371.7h.8M365.6 367.9h.8M371.6 370.9h.8" stroke="#555" stroke-width=".8"/>
<path d="M367.7 350.7h.8M367.0 351.6h.8M363.7 365.5h.8M360.9 361.1h.8M363.4 362.5h.8M364.0 350.0h.8M368.3 353.1h.8M368.5 351.9h.8M368.6 356.5h.8M363.0 354.9h.8M360.7 355.7h.8M360.3 353.1h.8M369.7 359.5h.8M362.4 358.1h.8M367.8 361.3h.8M369.0 362.4h.8M363.1 352.7h.8M368.4 356.4h.8M362.7 361.6h.8M367.5 350.5h.8M361.0 356.4h.8M368.5 356.7h.8M366.1 363.1h.8M371.9 356.3h.8M367.4 363.6h.8M363.8 353.0h.8M362.4 361.9h.8M367.4 351.9h.8M360.1 355.4h.8M371.7 354.2h.8M362.3 352.7h.8M367.0 367.4h.8M361.3 353.0h.8M362.9 353.0h.8M360.2 363.0h.8M367.7 355.8h.8M368.1 358.9h.8M365.7 353.0h.8M364.5 363.4h.8M360.6 362.5h.8M369.9 357.5h.8M367.3 353.5h.8M369.3 350.2h.8M370.8 357.0h.8M367.7 351.5h.8M361.3 352.9h.8M363.6 353.0h.8M366.1 352.1h.8M368.0 356.6h.8M361.7 361.8h.8M369.9 362.8h.8M365.8 351.6h.8M361.5 361.5h.8M361.2 356.8h.8M372.3 360.9h.8M368.7 365.9h.8M361.2 359.1h.8M364.9 363.8h.8M369.2 363.8h.8M361.3 353.6h.8M366.8 350.5h.8M365.4 351.6h.8M365.7 366.8h.8M367.9 363.0h.8M364.4 362.5h.8M361.4 355.1h.8M367.1 365.2h.8M368.2 351.4h.8M367.3 364.6h.8M360.9 355.5h.8M366.7 354.4h.8M361.0 354.0h.8M363.8 354.0h.8M372.2 352.8h.8M369.1 352.4h.8M364.6 366.5h.8M361.9 356.1h.8M367.0 351.8h.8M362.8 362.5h.8M361.3 358.8h.8M367.7 354.8h.8M368.4 354.9h.8M363.0 355.1h.8M365.6 366.0h.8M364.2 364.0h.8M362.2 355.7h.8M362.0 351.3h.8M361.2 358.5h.8M364.1 352.6h.8M369.0 365.4h.8M361.0 356.9h.8M364.8 351.2h.8M369.6 356.6h.8M366.0 353.5h.8M362.5 355.2h.8M371.1 359.2h.8M369.3 361.9h.8M360.3 359.6h.8M363.7 349.9h.8M363.4 364.3h.8M364.1 353.0h.8M365.5 362.1h.8M365.7 350.4h.8M363.6 351.6h.8M361.1 364.5h.8M369.6 356.0h.8M368.6 352.9h.8M364.2 361.8h.8M364.1 362.8h.8M366.9 351.8h.8M365.3 365.8h.8M369.8 358.7h.8M360.3 353.3h.8M368.6 360.8h.8M370.7 357.9h.8M372.4 360.4h.8M363.6 360.2h.8M367.6 351.9h.8M364.9 362.7h.8M363.9 349.2h.8M364.2 364.5h.8M391.6 376.4h.8M388.6 378.7h.8M385.5 373.2h.8M396.8 372.9h.8M391.1 378.4h.8M386.9 371.0h.8M395.6 377.4h.8M386.0 377.9h.8M390.4 377.2h.8M389.4 380.6h.8M391.0 377.3h.8M395.3 374.3h.8M386.2 369.2h.8M384.2 370.6h.8M385.2 367.4h.8M391.2 368.9h.8M387.7 365.2h.8M396.0 372.2h.8M385.7 372.1h.8M384.6 375.2h.8M386.9 375.0h.8M392.7 373.8h.8M387.3 377.5h.8M386.0 377.0h.8M391.7 377.8h.8M384.8 379.4h.8M388.7 369.8h.8M394.6 378.4h.8M388.8 369.8h.8M387.0 369.0h.8M384.7 366.0h.8M384.6 376.0h.8M386.6 380.0h.8M385.8 367.9h.8M384.4 368.1h.8M393.6 376.5h.8M395.3 371.3h.8M391.2 376.8h.8M393.1 370.5h.8M383.5 372.3h.8M394.6 375.5h.8M392.6 377.1h.8M393.0 374.8h.8M392.4 377.4h.8M386.1 375.3h.8M389.5 368.7h.8M385.2 374.0h.8M390.0 369.2h.8M383.6 368.8h.8M390.0 377.6h.8M389.4 378.2h.8M392.6 379.1h.8M384.1 378.6h.8M387.3 378.5h.8M392.9 370.1h.8M388.8 370.1h.8M382.7 373.6h.8M387.9 377.6h.8M394.0 368.7h.8M386.0 378.8h.8M385.2 371.0h.8M389.3 378.1h.8M390.9 377.8h.8M394.2 374.8h.8M384.2 371.8h.8M384.3 369.4h.8M387.1 367.8h.8M385.1 375.6h.8M383.3 375.1h.8M382.3 373.9h.8M393.4 373.5h.8M394.2 369.6h.8M388.0 366.2h.8M388.0 366.2h.8M393.6 372.3h.8M387.2 375.0h.8M388.0 365.4h.8M393.0 372.8h.8M383.5 370.1h.8M381.8 373.5h.8M387.2 374.8h.8M389.0 378.0h.8M395.0 370.9h.8M386.2 368.6h.8M393.1 374.2h.8M394.2 372.9h.8M392.8 368.2h.8M391.3 378.8h.8M386.6 369.0h.8M387.2 370.3h.8M390.2 365.5h.8M393.5 373.4h.8M392.9 377.5h.8M394.1 367.8h.8M394.5 372.2h.8M385.6 372.2h.8M393.5 366.9h.8M383.8 374.0h.8M386.1 377.7h.8M391.8 366.1h.8M384.0 374.3h.8M394.0 378.3h.8M389.0 378.5h.8M387.1 376.8h.8M389.8 367.6h.8M392.3 371.3h.8M392.2 369.5h.8M394.1 372.4h.8M390.2 379.6h.8M391.6 371.8h.8M391.8 366.2h.8M391.8 370.4h.8M393.2 373.5h.8M394.8 370.6h.8M383.6 374.7h.8M385.5 379.4h.8M392.8 375.1h.8M395.4 370.2h.8M393.5 380.1h.8M383.0 376.9h.8M388.7 378.3h.8M392.9 372.4h.8M390.4 378.5h.8M392.1 367.1h.8M385.0 377.9h.8M387.8 368.5h.8M385.3 369.8h.8M383.9 369.2h.8M385.4 370.1h.8M391.2 365.5h.8M390.8 369.7h.8M383.5 375.1h.8M391.3 379.3h.8M387.3 377.7h.8M395.0 369.1h.8M391.2 377.9h.8M390.8 378.3h.8M389.8 365.6h.8M389.0 379.7h.8M385.3 373.1h.8M392.8 371.1h.8M392.8 376.8h.8M393.7 373.7h.8M393.8 369.3h.8M383.5 374.8h.8M383.4 370.0h.8M387.1 374.9h.8M386.7 375.0h.8M393.3 372.6h.8M385.1 369.1h.8M387.0 378.1h.8M392.6 369.1h.8M393.0 368.8h.8M393.1 370.8h.8M393.8 372.1h.8M394.9 373.5h.8M393.5 368.6h.8M393.8 376.9h.8M385.1 375.4h.8M384.1 375.4h.8M384.2 368.9h.8M393.9 370.6h.8M394.4 371.9h.8M387.0 380.1h.8M380.7 371.6h.8M387.5 378.1h.8M392.0 371.2h.8M393.6 378.8h.8M390.6 378.3h.8M388.2 365.8h.8M383.8 373.7h.8M385.5 368.5h.8M394.2 371.4h.8M393.7 375.1h.8M392.6 375.5h.8M390.0 376.3h.8M385.6 373.6h.8M387.0 367.7h.8M394.0 376.6h.8M385.8 373.7h.8M391.8 367.6h.8M383.7 373.3h.8M388.9 375.9h.8M389.5 377.3h.8M385.4 375.8h.8M391.6 379.2h.8M389.8 367.7h.8M392.7 375.8h.8M390.2 379.0h.8M392.2 376.5h.8M383.2 371.9h.8M387.2 367.6h.8M392.0 369.5h.8M387.4 379.9h.8M393.2 368.9h.8M394.6 368.3h.8M387.7 378.4h.8M395.1 374.6h.8M386.7 375.1h.8M391.8 377.6h.8M389.2 376.8h.8M391.5 368.7h.8M386.4 367.9h.8M383.8 373.0h.8M384.5 369.3h.8M390.5 377.7h.8M384.1 374.8h.8M389.5 366.0h.8M393.0 366.2h.8M388.4 367.6h.8M383.2 372.9h.8M392.3 371.7h.8M392.6 371.1h.8M386.1 368.1h.8M392.2 370.1h.8M385.8 366.3h.8M390.1 366.0h.8M394.9 372.7h.8M392.5 377.5h.8M384.9 374.3h.8M393.9 374.3h.8M390.9 368.7h.8M387.0 377.0h.8M384.1 376.9h.8M392.7 367.9h.8M385.6 370.2h.8M394.7 367.7h.8M394.7 369.6h.8M393.7 371.4h.8M384.1 368.7h.8M393.2 377.6h.8M390.6 378.8h.8M388.3 366.3h.8M372.8 360.5h.8M376.2 365.9h.8M376.9 363.4h.8M376.9 358.6h.8M377.1 369.2h.8M384.0 367.0h.8M372.6 363.1h.8M373.5 362.0h.8M384.1 369.6h.8M371.2 366.5h.8M385.8 370.0h.8M377.9 368.3h.8M377.5 370.2h.8M377.1 366.5h.8M377.2 365.0h.8M374.4 368.0h.8M381.1 373.3h.8M376.2 364.3h.8M378.5 361.6h.8M378.8 361.9h.8M371.3 367.4h.8M378.8 363.2h.8M373.9 367.7h.8M375.3 365.3h.8M377.4 364.5h.8M377.8 365.2h.8M373.9 372.3h.8M378.0 369.6h.8M379.6 368.8h.8M377.2 363.2h.8M375.3 366.7h.8M377.4 360.4h.8M378.8 358.1h.8M384.6 371.2h.8M373.9 368.9h.8M379.4 362.6h.8M376.1 361.0h.8M371.1 359.1h.8M377.7 364.2h.8M375.5 366.5h.8M379.6 364.7h.8M375.6 373.0h.8M373.6 369.4h.8M380.6 369.7h.8M369.5 366.3h.8M383.2 368.7h.8M376.6 364.4h.8M377.0 362.8h.8M372.5 370.6h.8M377.8 361.1h.8M375.8 364.2h.8M377.2 366.3h.8M374.8 368.2h.8M381.0 366.6h.8M374.2 366.3h.8M369.8 365.8h.8M375.6 372.7h.8M377.7 370.7h.8M377.2 368.4h.8M380.6 368.4h.8M380.1 362.7h.8M369.4 363.3h.8M377.5 365.0h.8M379.8 366.0h.8M378.4 366.6h.8M376.4 366.8h.8M376.6 364.2h.8M384.3 365.5h.8M379.6 370.0h.8M379.7 370.5h.8M372.3 364.3h.8M378.3 372.3h.8M383.7 362.7h.8M374.7 370.4h.8M370.6 365.1h.8M372.5 367.0h.8M380.0 367.4h.8M381.4 363.2h.8M377.2 361.6h.8M381.2 370.6h.8M380.6 364.0h.8M376.6 360.5h.8M372.0 360.4h.8M375.0 364.0h.8M373.6 369.1h.8M384.3 365.0h.8M375.5 362.9h.8M369.9 366.6h.8M376.9 366.4h.8M377.9 373.2h.8M365.7 371.6h.8M370.4 364.1h.8M384.1 367.8h.8M377.8 368.5h.8M378.2 368.9h.8M371.2 372.9h.8M373.9 374.4h.8M373.1 372.3h.8M374.3 370.0h.8M380.0 369.3h.8M373.9 369.5h.8M371.5 368.6h.8M371.3 368.6h.8M368.0 373.9h.8M375.8 367.4h.8M375.4 368.6h.8M373.0 367.3h.8M366.0 374.4h.8M373.0 368.7h.8M371.3 363.1h.8M367.4 373.1h.8M368.3 368.5h.8M368.8 375.7h.8M376.0 374.1h.8M366.3 364.5h.8M383.0 372.8h.8" stroke="#777" stroke-width=".8"/>
<path d="M370.7 356.1h.8M363.9 365.8h.8M367.8 349.1h.8M359.8 359.2h.8M362.5 351.5h.8M371.7 363.7h.8M358.8 365.1h.8M360.6 360.2h.8M360.2 354.1h.8M365.3 349.6h.8M362.0 351.8h.8M370.9 365.3h.8M369.8 351.2h.8M371.1 354.8h.8M371.9 364.6h.8M364.1 348.2h.8M360.4 361.7h.8M369.8 349.6h.8M359.9 354.3h.8M364.3 349.9h.8M366.7 349.8h.8M367.5 366.1h.8M358.9 359.8h.8M370.2 359.2h.8M371.7 359.1h.8M360.1 354.4h.8M370.1 353.8h.8M371.4 354.4h.8M369.8 364.2h.8M359.1 363.2h.8M367.6 365.3h.8M372.4 354.9h.8M359.1 361.5h.8M361.8 351.7h.8M367.7 365.5h.8M372.4 362.0h.8M359.0 363.8h.8M368.0 366.2h.8M360.4 357.8h.8M362.9 365.7h.8M362.7 350.8h.8M366.4 366.6h.8M369.9 362.4h.8M385.9 366.5h.8M391.9 367.2h.8M385.5 379.5h.8M395.4 378.6h.8M386.6 367.7h.8M389.8 380.8h.8M391.4 379.3h.8M392.8 378.0h.8M391.1 367.1h.8M383.3 369.4h.8M387.5 379.4h.8M394.4 378.8h.8M395.8 365.4h.8M391.5 368.0h.8M396.3 375.2h.8M388.5 365.9h.8M388.6 364.1h.8M381.3 368.8h.8M388.7 365.9h.8M385.0 377.6h.8M382.6 374.0h.8M390.4 366.9h.8M393.2 368.5h.8M386.9 365.9h.8M395.2 377.7h.8M383.3 369.5h.8M383.3 370.9h.8M392.8 366.6h.8M391.6 367.2h.8M381.5 375.2h.8M384.6 370.0h.8M393.5 379.6h.8M389.6 378.8h.8M382.3 370.9h.8M384.7 370.2h.8M388.6 366.6h.8M397.7 374.6h.8M398.5 378.1h.8M393.1 368.6h.8M383.3 374.2h.8M396.8 378.7h.8M383.9 369.3h.8M393.0 380.4h.8M394.1 376.0h.8M395.1 375.7h.8M394.9 375.7h.8M380.9 371.9h.8M382.5 376.4h.8M384.9 378.1h.8M397.7 369.9h.8M394.4 380.0h.8M392.3 367.4h.8M383.9 378.7h.8M395.6 369.5h.8M391.2 380.0h.8M395.5 366.2h.8M389.6 378.7h.8M389.2 379.2h.8M386.1 377.3h.8M392.9 378.5h.8M394.7 377.4h.8M395.4 369.6h.8M383.8 373.0h.8M386.3 368.0h.8M385.0 366.7h.8M390.9 366.6h.8M383.3 374.2h.8M373.8 367.7h.8M379.3 375.1h.8M382.6 371.1h.8M368.6 363.7h.8M381.5 357.4h.8M372.3 375.6h.8M384.3 370.5h.8M374.8 371.0h.8M382.4 367.1h.8M381.7 372.4h.8M383.1 370.5h.8M392.1 367.6h.8M388.3 358.4h.8M386.8 371.5h.8M391.2 366.1h.8M367.3 367.1h.8M391.3 361.3h.8M385.5 360.8h.8M387.0 359.9h.8M387.2 373.1h.8M385.4 358.6h.8M373.0 361.0h.8M383.8 355.4h.8M381.9 356.8h.8M378.8 368.7h.8M381.8 366.6h.8M377.3 368.3h.8M374.6 359.9h.8M387.1 367.5h.8M379.1 371.4h.8M375.2 355.9h.8M381.3 360.5h.8M369.9 361.1h.8M367.4 367.8h.8M372.7 362.5h.8M388.1 364.2h.8M363.5 366.9h.8M368.9 369.8h.8M373.8 368.1h.8M381.3 366.3h.8M378.7 367.7h.8M383.0 362.3h.8M383.9 354.8h.8M383.1 371.2h.8M372.3 369.4h.8M370.6 366.6h.8M380.0 372.5h.8M378.3 369.4h.8M384.8 367.7h.8M378.3 357.0h.8M377.4 368.4h.8M379.2 362.2h.8M369.7 369.1h.8M379.2 363.1h.8M372.6 362.2h.8M385.4 360.1h.8M377.2 373.4h.8M373.4 362.3h.8M374.4 364.7h.8M383.3 368.2h.8M380.4 368.7h.8M374.6 362.4h.8M378.6 375.1h.8M380.4 369.3h.8M374.4 366.1h.8M377.1 359.9h.8M373.5 356.3h.8M374.7 368.2h.8M376.2 370.3h.8M369.2 369.7h.8M369.4 367.6h.8M377.3 360.7h.8M380.8 367.8h.8M369.9 360.3h.8M383.9 368.1h.8M378.5 361.6h.8M389.2 365.7h.8M373.5 359.7h.8M385.7 361.0h.8M368.9 364.5h.8M384.5 362.2h.8M375.9 367.0h.8M375.5 364.7h.8M367.6 365.5h.8M375.8 366.9h.8M380.2 366.6h.8M371.0 363.0h.8M377.6 370.8h.8M381.9 374.2h.8M384.0 366.7h.8M384.7 364.7h.8M373.2 362.2h.8M374.2 357.4h.8M386.7 363.3h.8M365.7 363.6h.8M376.9 361.3h.8M374.1 360.7h.8M372.7 374.4h.8M387.1 363.5h.8M388.1 362.2h.8M388.7 367.9h.8M379.4 359.8h.8M372.9 369.2h.8M374.5 366.5h.8M390.3 370.6h.8M359.8 375.2h.8M381.4 375.0h.8M361.1 372.6h.8M371.4 364.3h.8M377.1 360.9h.8M366.8 369.4h.8M366.3 374.0h.8M370.7 376.7h.8M366.8 373.6h.8M369.3 378.1h.8M383.6 367.3h.8M359.9 368.6h.8M384.1 370.3h.8M366.3 380.5h.8M373.6 370.5h.8M367.7 358.1h.8M366.4 368.5h.8M378.3 374.1h.8M368.7 372.1h.8M358.8 373.5h.8M373.7 356.0h.8M370.8 364.2h.8M371.3 361.0h.8M382.4 368.5h.8M366.8 379.1h.8M390.6 368.2h.8M360.4 375.5h.8M381.3 369.6h.8M360.4 371.1h.8M358.7 373.1h.8M376.1 371.0h.8M361.0 374.1h.8M365.4 371.0h.8M369.2 365.8h.8M381.4 366.5h.8M359.2 377.6h.8M366.8 362.9h.8M378.6 369.3h.8M374.7 360.0h.8M372.4 376.9h.8" stroke="#999" stroke-width=".8"/>
<path d="M359.0 368.2h.8M365.7 345.5h.8M374.6 357.5h.8M359.0 362.8h.8M364.7 345.5h.8M359.4 350.9h.8M372.0 364.0h.8M373.2 353.2h.8M372.7 348.6h.8M358.8 352.5h.8M362.7 346.8h.8M374.8 352.1h.8M367.8 343.8h.8M383.5 361.2h.8M389.6 363.9h.8M398.5 373.3h.8M381.0 378.0h.8M398.0 373.7h.8M399.7 368.2h.8M396.5 365.8h.8M397.8 378.3h.8M387.3 364.3h.8M388.7 362.8h.8M383.5 367.5h.8M396.4 367.4h.8M372.1 357.3h.8M397.3 369.8h.8M382.0 355.4h.8M380.4 371.5h.8M390.1 367.6h.8M378.6 351.6h.8M373.4 357.7h.8M374.4 376.3h.8M375.4 375.5h.8M376.6 353.4h.8M363.7 359.5h.8M383.1 357.0h.8M386.1 370.7h.8M380.0 354.2h.8M362.8 364.6h.8M380.7 377.3h.8M390.6 352.3h.8M386.7 357.3h.8M372.3 371.5h.8M396.0 371.5h.8M368.8 361.3h.8M368.4 371.4h.8M388.8 366.4h.8M386.6 378.1h.8M366.4 377.0h.8M371.2 373.7h.8M371.3 374.0h.8M373.5 370.0h.8M376.4 373.0h.8M382.6 377.5h.8M368.9 378.5h.8M374.0 373.1h.8M380.7 358.5h.8M378.0 373.8h.8M389.6 372.5h.8M384.4 361.3h.8M374.5 371.9h.8M388.1 357.7h.8M376.4 372.4h.8M364.1 354.1h.8M379.0 359.3h.8M364.8 371.3h.8M374.4 372.6h.8M390.6 374.2h.8M373.9 352.6h.8M382.7 358.1h.8M391.0 369.0h.8M370.6 375.8h.8M388.0 370.0h.8M379.4 376.9h.8M391.0 366.7h.8M367.1 352.6h.8M397.4 368.0h.8M370.7 354.2h.8M383.1 351.2h.8M364.3 368.3h.8M363.1 366.0h.8M362.4 375.5h.8M371.2 360.7h.8M365.7 373.6h.8M381.5 371.2h.8M395.6 364.6h.8M367.0 374.0h.8M373.7 358.1h.8M367.6 356.8h.8M363.7 370.9h.8M372.7 363.9h.8M379.7 351.7h.8M387.4 368.3h.8M383.3 356.8h.8M376.9 351.9h.8M376.7 355.9h.8M367.8 358.9h.8M379.1 356.0h.8M371.9 375.4h.8M392.9 359.0h.8M382.8 371.0h.8M381.3 374.6h.8M395.1 360.8h.8M376.2 371.4h.8M367.1 375.2h.8M371.9 370.9h.8M391.4 354.9h.8M387.6 365.8h.8M365.1 360.0h.8M388.6 371.7h.8M377.2 355.9h.8M368.7 361.0h.8M375.0 359.9h.8M379.7 375.2h.8M372.3 372.4h.8M388.3 355.3h.8M383.8 362.3h.8M361.0 370.7h.8M373.8 363.2h.8M363.3 366.3h.8M369.7 358.2h.8M384.7 374.3h.8M374.1 353.6h.8M359.6 357.0h.8M369.0 379.0h.8M390.2 358.9h.8M373.1 358.8h.8M384.3 368.2h.8M396.0 373.2h.8M361.8 370.9h.8M362.4 363.6h.8M377.5 355.2h.8M371.5 352.7h.8M380.3 362.0h.8M361.4 364.8h.8M387.2 372.2h.8M389.5 362.4h.8M367.4 363.5h.8M367.8 362.4h.8M359.2 370.4h.8M376.3 354.5h.8M359.4 380.2h.8M390.2 368.7h.8M362.1 349.5h.8" stroke="#bbb" stroke-width=".8"/>
<ellipse cx="389.6" cy="372.8" rx="3.2" ry="3.8" fill="#000" fill-opacity="0.3"/>
<ellipse cx="365.4" cy="357" rx="2.6" ry="3.4" fill="#000" fill-opacity="0.15"/>
<rect x="358.5" y="323.5" width="57.0" height="57.5" fill="none" stroke="#999" stroke-width="1"/>
<rect x="359.5" y="348.5" width="13.3" height="17.8" fill="none" stroke="#444" stroke-width="0.85"/>
<rect x="381.5" y="364.5" width="15.2" height="16.5" fill="none" stroke="#444" stroke-width="0.85"/>
<text x="366.2" y="344.8" font-size="8" text-anchor="middle" font-weight="normal" fill="#000" stroke="#000" stroke-width="0.15" >III</text>
<text x="402.8" y="376.2" font-size="8" text-anchor="middle" font-weight="normal" fill="#000" stroke="#000" stroke-width="0.15" >IV</text>
<text x="385.2" y="312.3" font-size="7" text-anchor="middle" font-weight="normal" fill="#000" stroke="#000" stroke-width="0.15" >Tonsil</text>
<text x="385.6" y="320.3" font-size="7" text-anchor="middle" font-weight="normal" fill="#000" stroke="#000" stroke-width="0.15" >Lin<tspan dy="-2.8" font-size="4.5">–</tspan><tspan dy="2.8">CD56</tspan><tspan dy="-2.8" font-size="4.5">+</tspan></text>
<text x="383.3" y="396.3" font-size="11" text-anchor="middle" font-weight="normal" fill="#000" stroke="#000" stroke-width="0.25" >CD94</text>
<text x="345.6" y="353.2" font-size="11" text-anchor="middle" font-weight="normal" fill="#000" stroke="#000" stroke-width="0.25" transform="rotate(-90 345.6 353.2)" dominant-baseline="central">CD117</text>
<text x="356" y="339.9" font-size="3.8" text-anchor="end" font-weight="normal" fill="#aaa" >10<tspan dy="-1.5" font-size="2.6">3</tspan></text>
<text x="372.5" y="386.5" font-size="3.8" text-anchor="middle" font-weight="normal" fill="#aaa" >10<tspan dy="-1.5" font-size="2.6">1</tspan></text>
<text x="356" y="354.4" font-size="3.8" text-anchor="end" font-weight="normal" fill="#aaa" >10<tspan dy="-1.5" font-size="2.6">2</tspan></text>
<text x="386.8" y="386.5" font-size="3.8" text-anchor="middle" font-weight="normal" fill="#aaa" >10<tspan dy="-1.5" font-size="2.6">2</tspan></text>
<text x="356" y="368.9" font-size="3.8" text-anchor="end" font-weight="normal" fill="#aaa" >10<tspan dy="-1.5" font-size="2.6">1</tspan></text>
<text x="401.1" y="386.5" font-size="3.8" text-anchor="middle" font-weight="normal" fill="#aaa" >10<tspan dy="-1.5" font-size="2.6">3</tspan></text>
<text x="415.4" y="386.5" font-size="3.8" text-anchor="middle" font-weight="normal" fill="#aaa" >10<tspan dy="-1.5" font-size="2.6">4</tspan></text>
<line x1="462.5" y1="302" x2="462.5" y2="392" stroke="#000" stroke-width="1.3"/>
<line x1="460" y1="391.8" x2="516.4" y2="391.8" stroke="#000" stroke-width="1.3"/>
<line x1="460" y1="391.8" x2="462.5" y2="391.8" stroke="#000" stroke-width="1"/>
<text x="458.9" y="393.90000000000003" font-size="5.4" text-anchor="end" font-weight="bold" fill="#111" stroke="#111" stroke-width="0.2" >0</text>
<line x1="460" y1="376.90000000000003" x2="462.5" y2="376.90000000000003" stroke="#000" stroke-width="1"/>
<text x="458.9" y="379.00000000000006" font-size="5.4" text-anchor="end" font-weight="bold" fill="#111" stroke="#111" stroke-width="0.2" >2</text>
<line x1="460" y1="362.0" x2="462.5" y2="362.0" stroke="#000" stroke-width="1"/>
<text x="458.9" y="364.1" font-size="5.4" text-anchor="end" font-weight="bold" fill="#111" stroke="#111" stroke-width="0.2" >4</text>
<line x1="460" y1="347.1" x2="462.5" y2="347.1" stroke="#000" stroke-width="1"/>
<text x="458.9" y="349.20000000000005" font-size="5.4" text-anchor="end" font-weight="bold" fill="#111" stroke="#111" stroke-width="0.2" >6</text>
<line x1="460" y1="332.2" x2="462.5" y2="332.2" stroke="#000" stroke-width="1"/>
<text x="458.9" y="334.3" font-size="5.4" text-anchor="end" font-weight="bold" fill="#111" stroke="#111" stroke-width="0.2" >8</text>
<line x1="460" y1="317.3" x2="462.5" y2="317.3" stroke="#000" stroke-width="1"/>
<text x="458.9" y="319.40000000000003" font-size="5.4" text-anchor="end" font-weight="bold" fill="#111" stroke="#111" stroke-width="0.2" >10</text>
<line x1="460" y1="302.4" x2="462.5" y2="302.4" stroke="#000" stroke-width="1"/>
<text x="458.9" y="304.5" font-size="5.4" text-anchor="end" font-weight="bold" fill="#111" stroke="#111" stroke-width="0.2" >12</text>
<rect x="466.5" y="318.7" width="18" height="73.1" fill="#5c5c5c" stroke="#000" stroke-width="1.2"/>
<line x1="475.5" y1="318.5" x2="475.5" y2="309.5" stroke="#000" stroke-width="1"/>
<line x1="470.8" y1="309.4" x2="480" y2="309.4" stroke="#000" stroke-width="1.1"/>
<rect x="492.5" y="384" width="18" height="7.8" fill="#000" stroke="#000" stroke-width="1"/>
<line x1="475.5" y1="392" x2="475.5" y2="394" stroke="#000" stroke-width="1"/>
<line x1="501.5" y1="392" x2="501.5" y2="394" stroke="#000" stroke-width="1"/>
<text x="475.5" y="406.2" font-size="13" text-anchor="middle" font-weight="normal" fill="#000" stroke="#000" stroke-width="0.15" >III</text>
<text x="501.5" y="406.2" font-size="13" text-anchor="middle" font-weight="normal" fill="#000" stroke="#000" stroke-width="0.15" >IV</text>
<text x="441.9" y="341.4" font-size="7.9" text-anchor="middle" font-weight="bold" fill="#000" transform="rotate(-90 441.9 341.4)" textLength="55" lengthAdjust="spacingAndGlyphs">CXCL8 mRNA</text>
<text x="450.5" y="340.3" font-size="7.9" text-anchor="middle" font-weight="bold" fill="#000" transform="rotate(-90 450.5 340.3)" textLength="62" lengthAdjust="spacingAndGlyphs">relative expression</text>
</svg>
</body></html>
